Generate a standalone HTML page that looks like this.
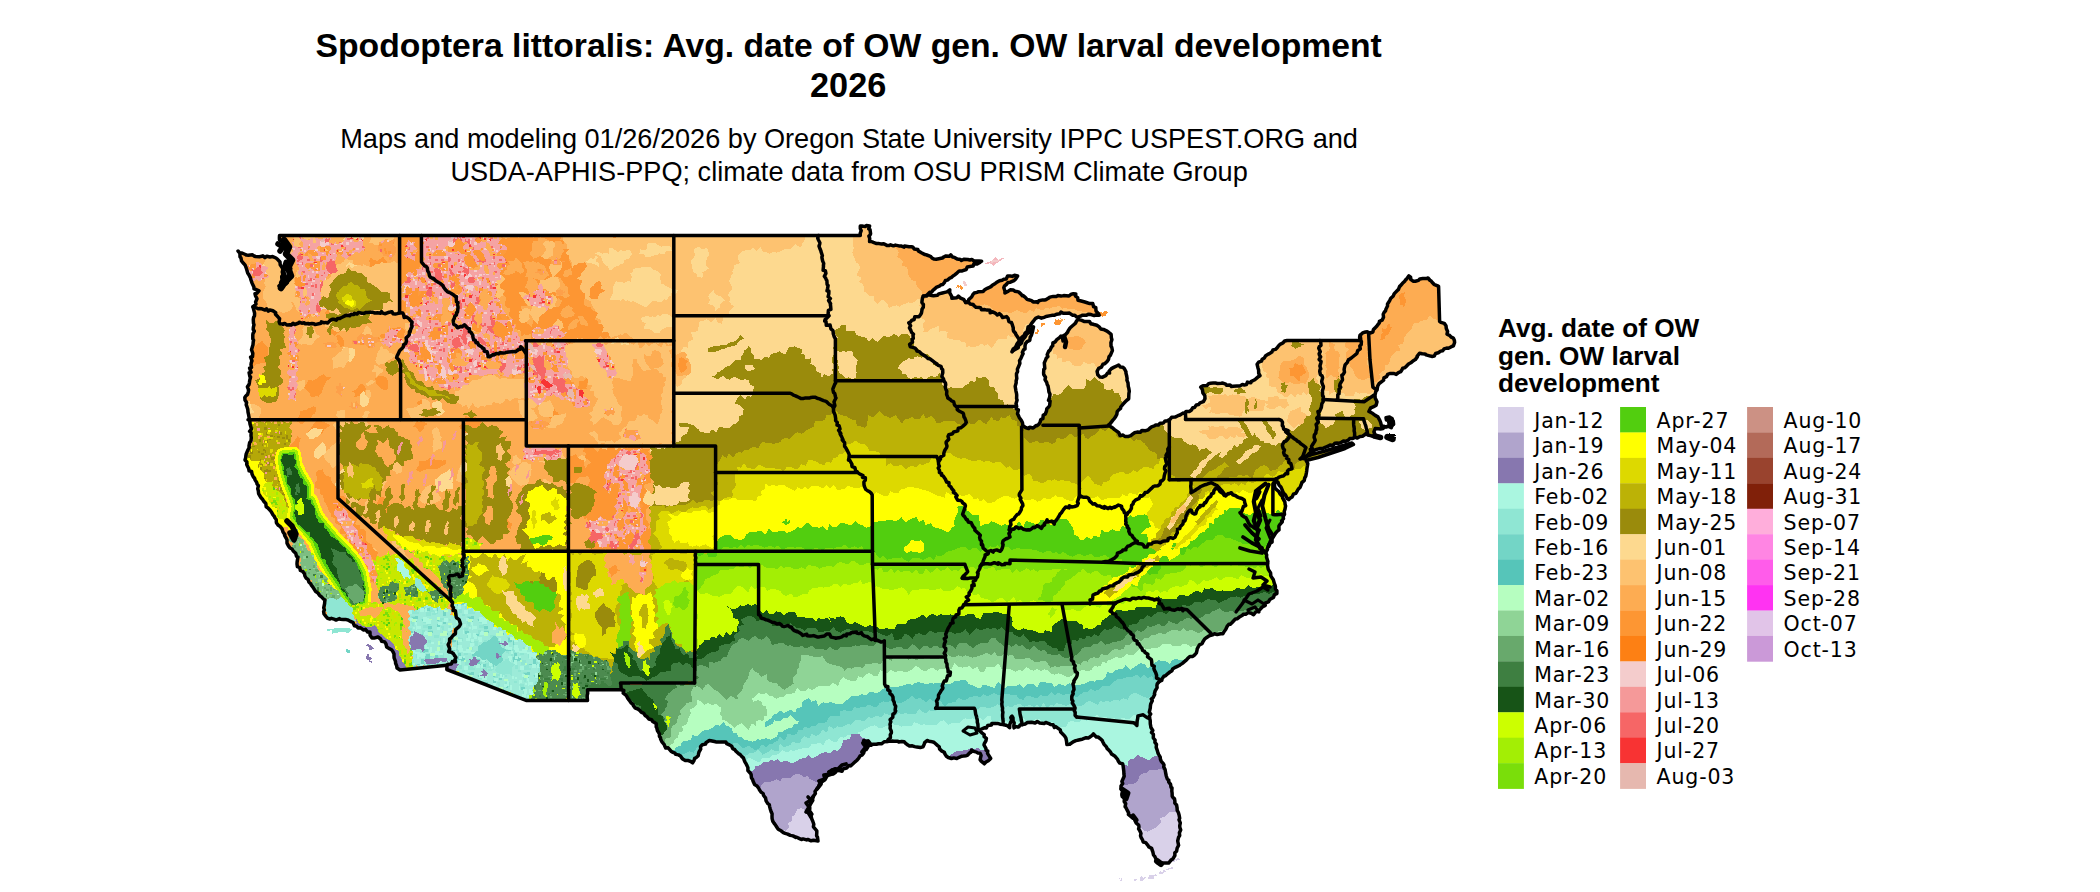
<!DOCTYPE html>
<html lang="en"><head><meta charset="utf-8"><title>Spodoptera littoralis: Avg. date of OW gen. OW larval development 2026</title>
<style>html,body{margin:0;padding:0;background:#fff}body{width:2100px;height:892px;overflow:hidden;position:relative}svg{position:absolute;left:0;top:0;display:block}.t{font-family:"Liberation Sans",Arial,sans-serif;fill:#000}.l{font-family:"DejaVu Sans","Liberation Sans",sans-serif;fill:#000;font-size:20.5px;letter-spacing:0.85px}</style></head><body>
<svg width="2100" height="892" viewBox="0 0 2100 892">
<rect width="2100" height="892" fill="#fff"/>
<defs><clipPath id="us"><path d="M279.5 235.5 860.3 235.5 860.3 226 869.6 226 869.6 241.6 893.4 245.8 913 247.2 921.4 252.8 933.9 259.1 942.4 258 950.8 254.8 957.2 259.1 969.9 260.1 981.6 261.2 969.9 266.5 957.2 272.8 944.5 282.4 931.8 291.9 923.3 296.1 931.8 295.5 942.4 293 949.8 289.8 951.9 298.3 958.3 296.1 963.6 299.3 965.7 302.5 974.2 293 984.7 289.8 995.3 283.4 1003.8 279.2 1010.2 276 1017.6 276 1015.5 279.2 1008.1 282.4 1003.8 287.7 1004.9 293 1010.2 289.8 1018.6 291.9 1027.1 299.3 1037.7 302.5 1048.3 298.3 1061 296.1 1075.8 294 1078 300.4 1086.4 302.5 1092.8 303.6 1096 311 1099.2 315.2 1088.6 314.2 1082.2 315.2 1076.9 317.3 1069.5 313.1 1061 312 1052.5 315.2 1044.1 317.3 1035.6 318.4 1031.4 323.7 1025 333.2 1018.6 341.7 1012.3 351 1016 349 1022 341 1028 333 1033.5 326.9 1031.4 335.3 1025 345.9 1020.8 358.6 1017.6 371.4 1015.5 388.3 1016.5 405.3 1018.6 415.9 1022.9 425.7 1028.6 428.6 1037.1 425.7 1042.9 418.6 1048.6 407.1 1050 394.3 1047.1 384.3 1043.6 372.9 1044.3 362.9 1048.6 351.4 1052.9 342.9 1056.8 339.6 1061 336 1063 341 1066 334 1070 328 1073.7 324.7 1078 319.4 1086.4 321.6 1099.2 326.9 1109.7 333.2 1111.9 339.6 1111.4 352.9 1107.1 361.4 1101.4 367.1 1097.1 371.4 1100 377.1 1105.7 375.7 1111.4 368.6 1118.6 365 1124.3 368.6 1127.1 378.6 1129.3 391.4 1127.1 400 1122.9 404.3 1118.6 410 1114.3 418.6 1108.6 425 1117.1 431.4 1120 435.7 1128.6 436.4 1137.1 432.1 1145.7 430.7 1155.7 425 1170 419.3 1180 415 1191.4 410 1200 402.9 1205 398.6 1202.9 392.9 1200.7 387.1 1208.6 383.6 1222.9 383.1 1231.4 386.4 1244.3 385 1254.3 380 1260 375.7 1258.6 370 1257.1 364.3 1265.7 355.7 1272.9 350 1280 344.3 1287.1 340.5 1360.2 340.5 1360.2 335.2 1365.5 332 1372.9 332 1377.1 325.7 1383.5 317.2 1385.6 310.8 1389.8 300.3 1394.1 293.9 1402.5 283.3 1408.9 275.9 1413.1 281.2 1428 278 1438.6 286.5 1439.6 321.4 1446 325.7 1447 334.2 1454.4 340.5 1453.4 345.8 1440.7 351.1 1432.2 356.4 1419.5 353.2 1415.3 359.6 1406.8 365.9 1396.2 374.4 1387.7 374.4 1381.4 381.8 1377.1 389.2 1375 395 1375.2 398.1 1377 401.7 1376.1 405.2 1370.7 407.9 1368.9 411.5 1372.5 413.3 1377.9 416.9 1380.6 422.3 1381.5 425.9 1386 427.2 1391.3 427.7 1393.3 421.4 1389.6 416.9 1386 417.8 1386.4 420 1389.8 420.5 1389.6 425 1383 428.5 1375.2 428.6 1373.4 436.6 1366 433.5 1360 436.5 1352.8 438.4 1330.1 445 1311 452.5 1300 459 1302 458.5 1306.5 458.5 1307.8 463.6 1305.7 476.3 1298.3 489 1288.8 499.6 1283 492 1279 485 1275.5 479.4 1274.5 485 1277 490 1282.4 496.5 1285.6 505.9 1283.5 518.6 1277.1 531.4 1270 543 1265.5 552.5 1267.6 563.1 1270.8 575.8 1275 585 1276.9 593.6 1269.5 599.9 1261 608.4 1253.6 614.7 1248.3 612.6 1235.6 619 1227.1 626.4 1222.9 633.8 1214.4 633.8 1205.9 638 1198.5 646.5 1196.4 652.9 1184.7 661.4 1169.9 672 1159.3 681.5 1155.1 691 1150.8 703.7 1149.8 718.6 1150.6 725.4 1154.9 742.4 1160.2 757.2 1165.5 772 1171.8 791.1 1177.1 808.1 1180.3 822.9 1179.7 835.6 1177.1 848.3 1172.9 858.9 1168.6 863.1 1158 863.1 1155.9 858.9 1151.7 848.3 1143.2 842 1139 827.1 1134.7 818.6 1128.4 814.4 1124.2 801.7 1121 789 1124.2 776.3 1123.1 765.7 1115.7 757.2 1107.2 748.7 1100.8 739.2 1093.4 733.9 1088.1 738.1 1077.5 740.3 1066.9 744.5 1065.9 738.1 1058.5 728.6 1045.8 722.5 1033 722.5 1022.5 724.6 1014 727.8 1011.9 716.1 1009.7 727.8 1003.4 724.6 994.9 723.6 984.3 727.8 978 729.7 982.2 733.1 986.4 738.4 984 745 990.7 758.5 984.3 763.8 980.1 759.6 980.1 753.2 971.6 750 967.4 755.3 956.8 758.5 948.3 757.5 941.9 751.1 935.6 743.7 927.1 740.5 922.9 746.9 912.3 745.8 901.7 741.6 886.9 741.6 878.4 743.7 867.8 744.7 863.6 753.2 853 763.8 839.2 770.2 827.5 775.5 819 785 813.8 795.6 809.5 806.2 812.7 821 816.8 832.6 818 841.1 801.4 839.5 790.3 835.4 779.1 829.8 772.1 818.6 769.3 804.7 761 792.1 752.6 779.5 747 765.6 740 754.4 731.6 746 723.3 741.9 709.3 740.5 702.3 744.7 698.2 755.8 692.6 762.8 685.6 760.6 675.8 754.4 664.7 746 660.5 737.7 656.3 723.7 645 715.4 631 702.8 621.5 689.7 587.5 689.7 587.5 700.4 526.1 700.4 446.8 669.5 447 665.3 400 670 397 668 394 654 386 644 378 637 372 638 370 632 358 628 348 620 330 619 324 614 325 600 318 593 306 578 297 564 298 557 290 548 287 540 283 532 278 525 275 518 268 508 260 496 257 484 252 474 245 460 249 446 251 436 250 424 248 412 245 400 249 384.6 251 364.7 253 344.7 254 324.8 254 310.8 253 306.8 256 304 257 298.8 255 293.8 259 290.8 254 288.8 252 282.9 249 274.9 245 264.9 240 256.9 238 251 242 253 254 256 270 257 276 258 280 262 283 270 282 280 279 286 286 284 290 272 289 258 285 246 279.5 240Z"/></clipPath></defs>
<g clip-path="url(#us)" shape-rendering="crispEdges">
<rect x="200" y="200" width="1300" height="700" fill="#FDD98F"/>
<path d="M560 223.4 563 226.2 566 225 569 225.7 572 221.4 575 226.5 578 227.3 581 224.8 584 223.8 587 228.5 590 222.9 593 226.9 596 223.8 599 222.9 602 224.7 605 223.8 608 223.8 611 223.2 614 226.5 617 225.6 620 227.2 623 223.3 626 226 629 226.9 632 226.5 635 224.1 638 226.7 641 225 644 223 647 226.3 650 223.6 653 225.9 656 224.4 659 225 662 225.1 665 224.9 668 223 671 227.1 674 224.1 677 225 680 226.2 683 226.6 686 225.1 689 225.3 692 224 695 229 698 226.2 701 226.7 704 226.4 707 225.3 710 223 713 225.3 716 225 719 224.4 722 225.2 725 225.5 728 222.9 731 223.6 734 226.6 737 226.3 740 223.9 743 226.5 746 220.7 749 226.1 752 223.3 755 223.6 758 223.5 761 223.5 764 225.9 767 224.2 770 222.9 773 224.7 776 223.3 779 225 782 225.5 785 220.8 788 223.4 791 223.5 794 225.8 797 223.8 800 226.3 803 223.8 806.5 225.1 806.3 228.3 806.9 231.6 802.5 234.2 804.8 237.8 804.3 241 802.6 243 800.7 247.5 795.1 244 792.7 247.2 789.9 249.4 786.5 248.7 783.2 249.8 780.1 251.5 776.8 252.6 773.4 252 769.7 253.7 766.5 252.4 763.2 251.8 760.5 247 756.5 251.3 753.7 247.4 750.4 249.6 746.6 250.1 743 250.9 740.2 252.8 738.1 256 738.3 259.5 739.9 263.3 733.8 265 733.6 268.4 732.4 271.5 733.7 275.2 730.4 277.9 729.1 281.2 731.5 285.7 732.3 289.6 729.8 291.5 727.6 295.3 730.3 297.8 729.3 301.3 731 304.1 733.9 306.5 731.7 308.8 729.4 311.1 729.3 315.5 724.3 315.3 723.1 318.6 721.6 323.6 718.1 323.2 715.7 318.3 711 322.9 708.1 319.9 706.3 319.2 703.2 320.8 699.3 321.6 699.2 325.9 697.5 328.8 697.9 331 691.1 332.5 692 335.9 693.2 339.4 689 341.5 687.6 341.6 688.2 347.8 683.8 346.8 682 349.6 680.9 351.5 682.2 354.5 684.5 356.9 682.4 361.5 685.1 363.7 685.4 367.2 689.3 368.8 690.6 372.5 686.3 373.4 685.7 377.7 682.5 379.6 682 383.9 677.4 387.2 675.1 383.7 671.5 385.1 668.8 383.4 666 381.7 662.6 382.3 658.7 377.8 655.1 378.3 653.7 382.4 650.7 383.9 649.5 388.3 644.8 387 641.1 387.3 641.2 388.6 636.9 391.8 634.7 388.7 631.9 387.6 629.1 386.4 625.5 387.6 623.2 385.1 621.3 386.7 616.3 385.2 614.9 388.6 611.6 389.4 610.3 392.9 608.8 396.1 604.6 395.7 602.1 397.6 600 401.3 596.9 401.6 593.8 398.6 590.8 400.4 587.7 402.3 584.6 399.9 581.5 399.3 578.5 399.2 575.4 401.2 572.3 400.1 569.2 400.4 566.2 398.2 563.1 401 556 400 560.1 397 558.5 394 561.7 390.9 560.8 387.9 559.4 384.9 561 381.9 561.6 378.9 562 375.9 558.6 372.8 558.8 369.8 562.3 366.8 560.8 363.8 559.3 360.8 558.5 357.8 558 354.7 561.4 351.7 559 348.7 564 345.7 561.2 342.7 560.7 339.7 559.8 336.6 562.1 333.6 561.3 330.6 558.5 327.6 558.4 324.6 564 321.6 560.4 318.5 558.3 315.5 558.9 312.5 557.8 309.5 559.5 306.5 560.6 303.4 561.5 300.4 559.1 297.4 559 294.4 558.9 291.4 561.3 288.4 562.1 285.3 560 282.3 561.2 279.3 559.5 276.3 558.3 273.3 558.3 270.3 560.2 267.2 561.1 264.2 558.4 261.2 560.3 258.2 560 255.2 560.2 252.2 559.7 249.1 559.1 246.1 561.2 243.1 560 240.1 559.5 237.1 557.8 234.1 560.4 231 561.4 228Z" fill="#FDC270"/>
<path d="M852 225.4 855 227 858 224.9 861.1 223.7 864.1 224.1 867.1 223.7 870.1 223.1 873.1 223.2 876.2 224.4 879.2 224.2 882.2 224.6 885.2 224.7 888.2 223.3 891.3 225.8 894.3 226.7 897.3 224.5 900.3 224.6 903.3 222.8 906.4 225.2 909.4 222.9 912.4 222.8 915.4 221.9 918.4 222.2 921.5 223.5 924.5 226 927.5 225.7 930.5 225 933.6 224.2 936.6 225.8 939.6 220.7 942.6 222.9 945.6 227 948.7 228 951.7 225.9 954.7 226.4 957.7 221.8 960.7 226.3 963.8 226.7 966.8 228.4 969.8 227 972.8 223.6 975.8 225.2 978.9 223.7 981.9 224 984.9 223.2 987.9 223.9 990.9 223.3 994 226.8 997 223.2 996.6 225 999.4 228.1 1000.2 231.2 998.7 234.2 1001 237.3 999.8 240.4 1000.7 243.5 1000.9 246.6 998.3 249.7 1002 252.8 1003.8 255.8 1001.7 258.9 1000 262.6 997 261.3 994 261.2 991 261.3 988 263.6 985.4 262.7 981.8 262.6 979.8 265.3 977.9 268.1 975.4 269.8 971.2 268.7 968.7 270.5 966 271.8 963.2 273.1 960.1 273.9 959.4 278.9 955.9 278.9 952.7 279.4 950 280.8 948.8 285 945.7 285.7 942.1 285.6 939.3 286.7 936.3 287.6 934.1 290.1 932.5 293.3 929.9 295 927.5 297 925.5 299.3 920.7 298 917.7 299.3 914.9 301.4 912 303.3 908.2 302.1 905.4 304 902.1 304.6 899.3 306.7 896.6 305.3 892.9 306.2 888.9 308.3 887.2 303.5 884.7 300.9 881.7 299.9 877 304.1 874.4 300.7 873.9 296 869 296.1 866.9 293.2 863.6 291.5 863.8 287.7 863.3 284.4 858.8 281.8 862 277.8 857.1 275.3 857.7 271.8 860.4 268 859.1 264.7 855.7 262.1 854.8 258.7 853 255.6 852.4 252.1 853.7 248.1 852.8 245 853.3 241.7 852.5 238.3 855.1 235 853.5 231.7 852.7 228.3Z" fill="#FDC270"/>
<path d="M705.9 262.3 706.3 265.7 708.8 268.5 705.4 270.7 702.5 272.5 702.8 275.2 702.3 277.6 697.1 277.2 696.5 274.2 694.3 272.6 692.7 270.7 692.5 268.5 691.8 265.2 690.9 262.3 691.7 259.2 693.5 257.9 695.1 254.3 693.6 250.1 695.5 248.5 698 246.4 702 249.2 704.6 248.5 707.3 248.1 708.4 251.5 709.5 255 707.3 256.8 706.9 259.3Z" fill="#FDD98F"/>
<path d="M725 300.6 720.6 303.2 720 307.2 715.3 310.7 714.3 305.7 711.8 305.3 708 303.6 710.2 299.9 708.3 296.8 710.1 293.2 713.9 289.5 713.8 292.8 716.1 294.3 718.2 295.4 720.6 296.4 722.6 298Z" fill="#FDD98F"/>
<path d="M677.7 290.3 676.4 293.4 673.6 295.7 673.1 299.5 670.5 297.9 667.9 299.5 665.2 298.1 662.6 298.1 659.9 299.4 657.3 299.9 654.7 299.1 652.1 298.8 650.1 301.4 647.2 301.1 644.7 301.5 641.7 302.3 640.4 305.6 636.9 305.7 633.6 305.9 632.1 309.9 629.6 308.8 627.7 306.3 625.1 305.5 622.5 304.8 619.7 304.5 618 302.5 615.5 301.4 614.5 298.6 611 297.4 612.1 294.6 614.9 292.8 615.6 290.1 614.5 287.6 614.4 284.8 613.3 283 614.9 281 616.4 278.7 619.2 278.1 621.8 278.8 623.7 276.1 625.9 274.6 628.4 274.2 631.1 274.7 633 274.5 636.7 273.5 639 276 641.7 277.6 644.7 276.9 647.7 278.6 650.7 279.1 653.6 277.8 656.1 278.7 659.2 279.5 660.5 282.5 663.8 282.6 665.4 285.1 667.8 285.8 670.3 286.5 672.1 288.4 674.6 289.1Z" fill="#FDD98F"/>
<path d="M628.4 261.7 628.8 264.5 630.5 266.8 627.9 267.6 624.9 267.5 622 268.2 620.5 271.2 617.2 270.4 615.3 273.3 612.6 271.5 610 273.2 607.3 271.4 603.8 273.3 601.1 271.2 599.8 268.4 596.8 265.3 594.1 264.1 591.4 263.1 588.5 263.2 585.7 262 582.6 261.5 585.7 261.7 588.3 260.6 590.5 258.2 593.9 259.1 595.7 256 598.8 255.6 601.3 254 602.4 251.5 603.1 249.8 606.4 249.4 609.1 250.5 611.7 252.3 614.8 250.4 617.8 252.2 620.9 252 623.9 252.4 625.9 252.8 628 255.1 629.3 257.7Z" fill="#FDD98F"/>
<path d="M666.3 325 662.9 327.8 661.5 329.9 658.8 331.7 656.1 331.4 653.3 332.2 650.1 332.3 647 332.1 644.1 331.7 641.2 330.3 638.5 330.9 635.4 331.5 632.5 331.4 629.6 331 626.8 330 626.8 327.4 625.5 324.8 628 323.1 628.7 321.4 631.4 319.1 634.3 319.4 637.2 320.3 639.3 318.2 642.3 317 645.3 316.5 647.8 318.8 650.9 317.2 653.5 318.4 656.9 318 658.5 321 663.5 321.7Z" fill="#FDD98F"/>
<path d="M758.7 285 757.7 288 756.8 290.9 756.6 293.6 755.3 296.1 754.6 298.9 754.1 301.9 753.3 304.7 750.5 305.6 748.4 307.2 744.7 307.6 741.8 305.4 738.8 303.8 736.1 302.7 735.8 299.6 737.4 296.8 735.7 293.5 738.1 290 734.9 288.1 730.9 285.5 731.8 282.7 733.3 279.9 730.7 277.8 731.5 275.3 732.8 273 735.5 272 737.2 269.9 738.4 267.5 739.3 264.8 741.9 263.1 742.1 266.9 745.4 268.6 747 271.2 749.7 271.8 752.3 271.2 752.1 275.1 753.5 278.8 755.6 280.5 757.3 282.4Z" fill="#FDD98F"/>
<path d="M690.9 365 691.5 368.3 691 372.1 687.2 375.8 684.2 375.1 680.7 376 677.4 375.6 676.1 373.1 674.3 370.8 673.3 368 672.1 364.6 673.8 362.2 674.4 359.5 675.4 356.6 676.5 354.8 680.1 353.1 683.3 351.5 687.1 354 686.2 357.3 689.3 359.4 689.6 362.4Z" fill="#FDAC52"/>
<path d="M685.6 364.9 687.7 368.3 685.1 370.5 683.3 372 681.1 372.8 679.6 370.9 679.2 367.6 677.4 365 679.2 362.3 679.1 358 681.1 357.4 683 357.7 684.4 359.2 687.8 361.2Z" fill="#FD9633"/>
<path d="M690.5 299.7 691.8 302.1 692.1 305.7 686.8 305.2 685.9 309.7 682.9 306.5 680.2 306.6 676 305.2 676.7 302.4 678.4 300 677.4 296 680.3 294 682.5 291.8 685.7 291.1 687.7 293.6 692.1 295.5Z" fill="#FDC270"/>
<path d="M921.1 296 922.7 299 923.5 302 918.6 305.5 921.8 308.4 924.1 311.3 921.7 314.6 921 317.7 925.1 320.5 923.2 323.8 923.1 326.9 924.2 329.9 923.4 331.5 927.1 332.4 929.4 330 932 328.5 934.9 327.4 938.7 326.1 938.9 331.6 943.9 331 947.6 332.1 947.2 338.4 951.6 338.7 954.6 340.1 958.9 339.6 961.3 342 965.3 342 966 347 969.1 346.3 972.3 347.4 975.4 346.6 978.5 346.1 981.4 343.6 984.8 345.8 987.7 343.7 991.3 348.3 994.4 344.7 996.3 341.4 998.7 339 1002.8 339.5 1006.3 339.1 1008.2 334.9 1010.9 336.9 1014.1 337.4 1016.8 339.4 1021.1 340.5 1021.2 337 1022.7 334.2 1022.8 330.7 1024.3 327.9 1025.4 324.9 1029.7 323.4 1030.5 319.3 1028 317.5 1024.4 317.6 1022.3 315.3 1020.8 312.1 1018.2 310.6 1015.8 308.9 1011.5 309.8 1009.3 307.8 1008.6 303.4 1002.8 306.6 1001.9 302.6 1000.2 299.6 996.7 300 994.5 297.4 990.8 298.3 989.1 294.2 985.6 294.8 983.2 292.6 981.1 289.6 977.4 290.6 974.8 288.9 970.3 292.3 968.7 288 966.1 286.2 963.3 285 961.1 288.7 957 286 954.2 287.6 951 287.6 948 288.2 945.5 291 941.6 288.6 939 290.8 935.1 288.6 932.8 292.1 930.2 294.2 926.5 292.6 923.8 294.4Z" fill="#FDC270"/>
<path d="M960 280.2 963 279.7 966.2 279.9 969.2 279.4 972 278.1 974.9 276.8 978.5 279.9 981.2 277.6 983.9 275.6 987.1 276 990.1 275.5 992.8 273.4 996.2 275.4 999.1 274.2 1001.5 270.1 1005.2 273.8 1007.9 271.6 1010.9 271 1013.9 270.6 1017 270.8 1020.2 269 1023.1 270.2 1025.9 271.5 1028.8 272.7 1031.3 275 1034.8 273.9 1037.6 275 1040.3 276.8 1043.9 275 1046.3 278 1049.7 277.2 1052.8 277.5 1056 277 1058.6 279.4 1061.4 280.8 1064.2 281.9 1067.5 281.4 1070.7 281.2 1073.5 282.8 1076.6 282.9 1079.2 285.1 1082 286.6 1085.4 285.5 1087.8 288.2 1091 288.4 1094.1 288.5 1097.1 289 1099.7 290 1100.6 293 1101.2 296 1102 298.9 1103.5 301.8 1105.2 304.6 1104.2 307.8 1102 311.2 1104.1 314 1104.5 317 1105 319.3 1102 319.5 1099 319.7 1096 321.3 1093 320 1090 320 1087 319.5 1084 319.6 1081 320.8 1078 320.1 1075 322.2 1072 320.1 1069 319.5 1066 320 1063 320.8 1060 322.1 1057 322.5 1054 323.1 1051 319.9 1048 321.6 1045 321 1042 321.9 1039 321.6 1036 322.2 1033 321.5 1030 321.7 1026.9 321.2 1024.1 323.9 1021.3 325.5 1018.1 324.1 1014.9 322.9 1011.7 324.6 1009.1 322.5 1005.9 321.7 1003.1 320.1 1000.3 318.2 997.4 316.8 994.8 314.8 992 313 989.1 311.6 986.5 309.6 982.3 310.6 981.6 306.8 977.8 305.8 977 302.5 974 300.7 971.1 299 971.6 294.8 968.4 293.2 968.4 289.4 965.6 287.5 964.8 284.3 960.6 283.4Z" fill="#FDC270"/>
<path d="M1040 314.8 1042.9 316.9 1046 315.4 1049.1 314.3 1052 316.3 1055.1 314.4 1058.1 314.6 1060.9 317.9 1063.9 318.5 1067 317.4 1070.2 314.3 1073 317.4 1076.1 316.2 1079.1 315.7 1082 317.6 1085 318.1 1088 318.2 1091 318.2 1093.9 320.6 1096.9 320.2 1100 318.3 1103.1 317.5 1105.9 320.5 1108.9 321 1111.9 321.6 1117 320 1113.4 323.1 1113.1 326.2 1116.7 329.4 1113.9 332.5 1116.7 335.6 1113.1 338.8 1116.5 341.9 1117.6 346.9 1110.6 347.1 1109.8 351.9 1109.4 355.3 1107.9 358.1 1106.3 360.8 1104.3 363.3 1100.1 364.3 1099.6 368.7 1096.1 367 1094.1 362.8 1090.3 363.6 1087.2 363.7 1083.8 362.1 1081.3 365.4 1078.3 366 1074.6 366 1072 364.3 1070 361 1066.6 361.2 1062.7 362.7 1061.5 357.7 1057.2 358.6 1056.8 354.8 1053 353.5 1053.2 349.3 1049.5 348 1046.2 345.5 1046.2 342.3 1045.5 339.3 1046 335.9 1043.5 333.3 1042.3 330.4 1043.4 326.9 1042.8 323.9 1043.2 320.6 1038.9 318.5Z" fill="#FDC270"/>
<path d="M1085.9 343 1083.2 345.1 1082.1 348.2 1079.3 349.7 1076.7 349.6 1073.5 349.5 1069.1 348.9 1066.7 346.7 1065.6 343.9 1065.2 344 1064.7 338.8 1068.6 337.1 1072.9 337.3 1075.9 335.5 1080.4 336.9 1084 339.5Z" fill="#FDAC52"/>
<path d="M893.9 243.6 893.8 247.3 897.1 249.4 898.8 252.4 897.3 256.8 900.4 259.1 902.7 261.6 902.3 265.6 906.6 266.9 908.1 270 908 274.3 909.9 277.2 911.5 280.2 915.8 281.5 916.5 284.6 917.8 287.5 920 289.7 922.3 291.9 921.4 296 924.9 299.7 926.8 296.8 928.8 293.9 932 293.3 934.5 291.3 937.3 290 940.7 289.9 942.6 286.8 945.5 285.7 948.2 284.2 950.7 282.3 955.1 284 957.4 281.8 958.1 276.3 963.1 279.3 965.8 277.7 967.8 275 971.5 275.3 973 271.4 976 270.6 978.3 268.4 981.9 268.6 984 265.8 987.4 265.7 989.5 264.2 988.2 260.7 986.2 257.5 984.8 254 984.8 251.7 982 249.4 978.8 251 975.8 250 972.7 250.4 969.8 249.5 966.9 248.5 963.8 248.9 960.9 247.3 957.7 248.4 955 246 952 245.5 949.1 244.5 945.8 246.7 943.2 242.8 940 245 936.9 242.6 933.7 243.6 930.6 245 927.5 245.2 924.3 245.8 921.2 245.7 918.1 243.2 914.9 242.9 911.8 244.1 908.7 244.7 905.5 244.5 902.4 241.1 899.3 242.7 896.1 244.8Z" fill="#FDAC52"/>
<path d="M964.9 305.4 967.9 303.6 968.4 300.3 971.2 298.4 971.5 295 973.2 292.5 974.4 288.9 978.4 289.6 980.2 286.2 983.7 286.1 986.2 283.9 988.4 281.3 991.1 279.6 993.8 277.9 998 278.9 1000.3 277.5 1003.2 275.8 1006.5 276 1009.5 274.6 1012.2 271.7 1015.9 274.3 1018.7 271.6 1022.9 271.7 1023 275 1022.1 278.6 1026.3 280.6 1024.5 284.5 1026.8 287.1 1028.1 290 1028.9 293 1030 296 1033.1 296.2 1036 295.1 1039.2 296 1041.6 291.6 1045.1 294.6 1047.8 292.1 1051.2 294.6 1053.9 292.3 1057.2 293.8 1059.9 291.4 1063.4 292.1 1066.6 290.6 1069.9 289.5 1073.5 292.2 1076.6 289.6 1080.2 289.6 1084.4 289.2 1086.2 292.6 1088 296.2 1091.8 296.2 1093.6 299.7 1096.7 301 1099.8 302 1099.1 305.7 1101 309 1101.9 312.4 1102.4 314.6 1098.8 314.2 1095.6 312.7 1091.6 313.8 1088.4 312.1 1084.7 312.5 1081.6 311.4 1078.2 311 1075.1 309.5 1071.8 309.1 1068.4 308.9 1065.2 308 1062.2 308.8 1058.7 305.8 1055.7 307 1052.5 307.4 1049.5 308.6 1046.2 307.9 1043.3 310.2 1040.1 309.7 1036.4 308.3 1033.6 311.7 1029.7 309.6 1026.9 312.9 1023.4 312.6 1020.1 311.8 1016.8 310.1 1013.4 311.7 1009.9 313.7 1006.7 311.8 1003.3 312.3 1000 312 996.8 311.4 993.7 310.3 991.3 307.5 988.6 305.7 985 304.4 981.8 304.7 978.7 306.3 975.5 306.5 972.3 309 969.2 304.5Z" fill="#FDAC52"/>
<path d="M1263.6 349.5 1266.4 347.9 1268.7 344.9 1272.6 346.2 1275.2 344.1 1277.9 342.1 1280.4 339.8 1284.6 341.9 1286.6 338 1290 339.6 1293 337.7 1296 339.2 1299 336.3 1302 334.3 1305 336.8 1308 337.1 1311 335.3 1314 336.1 1317 339.4 1322.1 337.8 1319.7 341.2 1322 344.2 1320.5 347.5 1322.5 350.4 1321.2 353.7 1323.1 356.7 1320.6 359.8 1319.6 362.8 1322.3 366.4 1320.2 369.2 1320.4 372.4 1317 375.1 1316.2 378.1 1318.2 381.5 1317.5 384.6 1317.8 387.8 1319.2 391.2 1316.8 395.5 1313.4 394.9 1310.4 391.2 1306.6 394.7 1303.5 391.8 1300.9 395.5 1297.3 393.9 1295 397.4 1290.8 393.8 1288.4 396.6 1284.1 397.2 1282.2 394.5 1279.3 393.3 1277 391.1 1275.9 387.4 1272.3 387.2 1268.8 385.5 1268.5 382.3 1269.2 378.7 1266.1 376.6 1266.7 373 1263.5 371 1262.7 368 1261.6 365 1261.9 361.6 1262.7 358.2 1264.3 354.9 1262.9 351.4Z" fill="#FDC270"/>
<path d="M1307.3 369.9 1308.7 372.1 1309.1 374.8 1309.4 376.7 1307.6 380 1305.4 383.8 1301.6 383.1 1298.5 383.8 1294.8 384.4 1292.4 383.1 1289.4 382.1 1286.8 383.3 1284.1 383.7 1282.5 381.7 1280.2 380.1 1278.1 377.6 1279.7 375.2 1278.6 372.5 1280.5 370.2 1279.9 366.5 1281.4 363.4 1283.8 361 1287.2 360.9 1290 360.9 1292.7 359.8 1295.8 358.8 1298.3 355.5 1301.5 356.7 1303.9 357.7 1304.4 360.2 1303.9 362.7 1304.4 365.4 1307 367.2Z" fill="#FDAC52"/>
<path d="M1306.1 372.2 1302.5 375.3 1299.5 376.3 1299.8 379.4 1299.1 382.1 1297.4 380.2 1295.9 378.1 1293.9 375.9 1289.9 375.7 1289.9 372.3 1289.4 368.5 1294.3 367.1 1294.6 362.5 1298.4 364.8 1302.3 364.4 1303.8 367.9Z" fill="#FD9633"/>
<path d="M1311.6 417.2 1309.6 419.6 1309.2 422.1 1307 424.1 1305.1 427.6 1301.8 426.5 1298.2 423.4 1296.9 426.2 1293.6 428.4 1290 425 1287.2 421.5 1287.8 416.9 1289 413.5 1290.6 411 1295.2 409.6 1300.4 406.9 1301.5 411.9 1304.8 413.1 1307.2 416.3Z" fill="#FDC270"/>
<path d="M1264.9 405 1263.6 407.3 1264.4 410 1261.8 410.7 1259.3 410.5 1256.7 410.8 1254.2 411.1 1251.6 411.1 1249.1 410.5 1246.5 410.6 1244.1 410.4 1242.6 412.7 1241.7 415.4 1239.5 416.9 1237.3 415.5 1234.4 415.7 1232.1 414.7 1229.3 414.6 1227.4 412.5 1225.1 412.8 1222.4 413 1219.7 413.7 1217 413.8 1214.2 413.4 1211.4 412.2 1209.1 413.2 1210.3 410.3 1211.7 408.1 1209.3 406.8 1206.3 409.2 1203.9 407.6 1201.7 405.1 1199.2 404.1 1196.5 404.9 1193.9 405.7 1196.3 402.8 1199.5 404.8 1202.3 404.5 1205.3 405 1207.9 403.7 1209.8 402.5 1209.5 399.4 1208.1 396.1 1210.9 395.8 1213.6 395 1216.5 394.9 1219.2 394.2 1222.1 395.6 1224.8 393.6 1227.5 396.4 1230.1 394.8 1232.8 394.4 1235.4 395.1 1238.3 393.9 1240.5 395.5 1243.1 396 1245.6 396.8 1247.7 399.2 1250.8 397.5 1253.7 396.8 1256.5 398.2 1259.3 399.1 1262 400.1 1264.5 400 1264.6 402.5Z" fill="#FDC270"/>
<path d="M1286.4 401.4 1288.2 403.2 1289.4 405.3 1286.9 406.5 1284.3 409.1 1282.1 407.2 1279.7 406.1 1277.2 406.8 1274.7 408.8 1271.7 409.2 1269.1 408.5 1266.1 407 1268 404.5 1265 402.8 1261.6 403.7 1258.5 401.6 1261.2 401.3 1263.7 400.4 1267.5 401.4 1268.4 397.4 1272.5 396.8 1275.2 396.3 1277.5 396 1280.2 399.5 1283.8 398.8 1287.5 399.1Z" fill="#FDC270"/>
<path d="M1320.2 339 1322.8 336.3 1325.7 335.2 1329.4 338.5 1332.1 336.6 1335.1 335.9 1338.3 336.7 1341.2 335.6 1344.7 337.4 1347.3 334.9 1349.7 331.2 1353.2 333.5 1355.9 331.1 1358.7 329.2 1361.9 329.7 1365.6 327.1 1368.7 328.7 1371.6 331.6 1373.6 331.9 1373.5 334.9 1373.2 337.9 1372.8 340.9 1374.7 344 1377.8 347.2 1373.9 350 1375.8 353.1 1374.3 356 1369.7 358.8 1373.2 362 1372.2 364.9 1372.4 368 1376.7 371.2 1375 374.1 1374.2 377.1 1373.2 380 1371.4 382.9 1370.7 385.9 1372.8 389 1372.1 392.9 1369.1 394.2 1365.7 392.8 1362.5 392.8 1359.4 393.8 1355.9 391.6 1353.4 396.5 1349.5 395.7 1345.5 396.1 1344.1 392.8 1340.4 392.8 1339.6 387.4 1338.6 391.3 1335 391.5 1332.2 392.8 1329.3 395.5 1329.5 391.3 1324.8 391 1324.3 387.3 1321.6 385 1322.7 381.8 1322.3 378.7 1325 375.5 1320 372.5 1319.6 369.4 1320.9 366.2 1321.1 363.1 1322.6 359.9 1319.2 356.9 1322.7 353.6 1322.4 350.5 1320.9 347.4 1320.4 344.3 1321.9 341.1Z" fill="#FDC270"/>
<path d="M1338.5 361.9 1338.9 364.9 1339.7 367.9 1337.6 370.5 1339.4 373.9 1339 377 1337.3 380.2 1336 377.5 1333.1 376.6 1330.6 374.8 1329 377 1326.9 378.8 1325.9 375.6 1325.5 372.3 1327 368.9 1325.3 365.6 1326.5 361.9 1326.4 358.8 1326.5 355.6 1324.7 353.1 1328.6 350.6 1329.8 348.1 1328.5 345.3 1328.6 342.6 1331.4 339.1 1331.3 342.7 1335.2 344.2 1333.7 348.2 1335.4 350.5 1339.4 352.2 1339.7 355.5 1339.2 358.7Z" fill="#FDAC52"/>
<path d="M1344.8 335.2 1348.2 338.4 1351.1 336.2 1354.4 337 1357.5 336.6 1360.5 335.4 1363.6 334.8 1366.8 334.8 1370.7 336 1371.3 339.1 1370 342.3 1369.4 345.4 1371 348.6 1372.7 351.7 1369 354.9 1370.9 358 1368.5 361.1 1371.4 364.3 1371.2 367.4 1371.7 370.6 1368.9 373.7 1370.4 376.9 1370.3 378.4 1367.2 378.3 1363.8 380.2 1360.8 379.6 1357.5 378.3 1355.3 375.9 1353.8 373 1353.3 369.5 1350.7 367.3 1349.5 364.2 1347.2 362 1346.5 359 1345.6 356.1 1345.5 353.1 1349.3 349.7 1345.4 347 1345.3 344 1345.9 340.9Z" fill="#FDAC52"/>
<path d="M1366.1 330.1 1368.4 327.9 1369.7 325 1371.4 322.4 1372.7 319.5 1374.7 317.2 1377.8 315.6 1379 312.6 1381 310.3 1382 307.1 1384.2 304.9 1386.3 302.6 1388.3 300.2 1389.9 297.5 1391.5 294.9 1393.5 292.5 1395.7 290.3 1397.4 287.7 1399.2 285.1 1400.2 282 1402.2 279.7 1403.9 277.1 1405.6 274.5 1408 272.4 1410 269.9 1412.8 271.1 1415.6 272.4 1418.5 273.4 1421.4 274.2 1424.7 273.7 1427.8 274.1 1430 277.4 1433.5 276 1436 278.4 1439 278.8 1442.3 278.4 1444.8 280.1 1444.8 283.2 1448.3 285.5 1447.1 288.8 1448.6 291.6 1448.4 294.8 1450.6 297.4 1450.7 300.5 1449.7 303.8 1450.9 306.7 1452.3 309.4 1451.8 312.7 1452.9 315.5 1453.7 318.4 1454.2 321.4 1456.1 324.1 1456.3 327.2 1457 330.1 1457.4 333.2 1458 336.1 1458.3 339.2 1460 341.9 1460 345.1 1456.8 345.5 1454.2 346.9 1451.9 349.2 1449.3 350.9 1446.7 352.4 1443.4 352.6 1441.3 355.4 1438.6 356.7 1435 356.4 1433.1 359.3 1430.2 360.4 1427.6 362 1424.5 362.5 1422.2 364.8 1418.3 363.9 1416.5 367.1 1413.9 368.7 1410.8 369.3 1408.3 371.2 1405.6 372.6 1402.5 373.2 1398.8 373.5 1397.8 377.5 1394.6 378.8 1393.2 382.2 1390.3 383.8 1387.2 385.2 1384.8 387.5 1383.1 390.5 1380 391.4 1376.7 391.4 1373.3 392.3 1369.7 392 1369 388.9 1369.3 385.8 1370.6 382.6 1368.2 379.7 1369.9 376.4 1369.2 373.4 1368 370.3 1368.5 367.2 1367.3 364.2 1367.5 361 1367.4 357.9 1368.3 354.8 1367.4 351.7 1367.9 348.6 1366.5 345.5 1366.7 342.4 1367.1 339.3 1367.2 336.1 1365.5 333.1Z" fill="#FDC270"/>
<path d="M1366.1 335.1 1367.8 331.1 1371 329.4 1373.3 327.2 1377 325.8 1378.6 323.2 1376.9 318.5 1379.1 316.2 1382.2 314.6 1385.2 312.7 1385.5 309.3 1385.3 305.5 1389.1 304.3 1390.4 301.4 1392.3 299 1392.2 295.3 1394.5 293.1 1398.1 291.7 1397 287.4 1399.5 285.3 1401.4 282.9 1402.7 280 1404 277.2 1406.7 275.2 1409.9 273.6 1410.5 268.4 1412.4 272.6 1415.8 271.8 1419 271.8 1421.4 274.4 1424.3 275.3 1427.4 275.5 1430.7 275.3 1433.4 276.8 1435.9 279.1 1439.1 279.1 1441.5 280 1440.7 283 1441 286 1441.6 289 1439.7 291.9 1442.1 295 1442.8 298.1 1443.1 301.1 1442.1 304 1439.8 307 1442.7 310.1 1442.7 313.1 1440.6 316 1440.3 319.9 1436.7 319.8 1433.3 318.5 1429.3 315.5 1427.5 319.4 1424.1 319.8 1421.1 321.2 1418.2 322.7 1414.2 323 1412.6 325.9 1411.4 329.2 1409.2 331.7 1406.8 334 1404.5 336.7 1404.2 340.5 1402.9 343.8 1398.1 345 1400.5 350.8 1396.1 351.3 1393.9 353.4 1391.8 355.7 1390.2 358.2 1389.8 361.6 1388.5 364.4 1384.9 365.6 1385.1 369.7 1381.8 371.8 1379.4 374.4 1379.9 378.7 1377.2 381.8 1373.6 382.3 1371.3 382.9 1371.9 379.8 1367.7 377.2 1370.2 373.9 1367.4 371.1 1365.4 368.3 1370.1 364.9 1369.7 361.9 1366.6 359.1 1369.8 355.8 1368.6 352.9 1367.3 350 1368.1 346.9 1366.4 344 1368.3 340.8 1367.1 337.9Z" fill="#FDAC52"/>
<path d="M1388.9 334 1385.9 335.3 1384.5 339.1 1380.2 340.6 1381 337.1 1380.9 335.1 1382.8 333.1 1381.8 328.4 1386.4 328.7 1387.1 326 1388.3 324.3 1390.2 323.3 1390.3 326.9 1391.7 327.3 1390.3 330.1Z" fill="#FD9633"/>
<path d="M1406.3 300 1405.7 302 1405.1 304 1404.2 307.4 1402.3 305.2 1399.6 305.4 1399.8 302.4 1399.9 299.9 1398.6 296.8 1399.8 294.9 1401.8 292.9 1404.9 292.3 1404.1 295.8 1405 298.4Z" fill="#FD9633"/>
<path d="M1396.1 376.1 1399.2 374.5 1401.8 372.2 1404.9 370.7 1407.4 368.2 1410 366 1412.5 363.8 1415.6 362.2 1417.2 359 1420 357 1423.3 358.2 1426.7 358.9 1429.6 359.3 1426.3 361.4 1423.8 364.8 1420.2 366.4 1416.6 367.1 1414.4 370.2 1411.3 371.8 1408.5 374 1405 375.4 1402.1 376.6 1399.1 376.6Z" fill="#FDAC52"/>
<path d="M600 452 603.3 450.4 606.7 453.2 610 453 613.3 453.3 616.7 450.2 620 450 623.3 454 626.7 451.2 630 449.4 633.3 450.6 636.7 452.6 639.9 450.7 643.4 451.9 646.9 454.1 650.1 452.3 653.1 448.5 656.8 451.5 659.4 448.8 664.1 450 666.6 446.5 671.6 448.2 673.4 443.5 676.9 442.1 681 440.7 681.3 436.8 684.1 434.9 687.2 433.2 687.9 429.6 689.5 428.3 692.9 428.8 695.7 430.8 699.1 431.4 702.5 431.8 705.9 433.6 709.3 432.8 712.2 429.7 716.5 432.1 719 427.5 722.5 427.4 726.6 428 730.3 427.5 733.1 424 735.5 423.7 738.7 420.8 738.8 416.7 743.2 414.3 743.6 409.4 741.3 407 738.8 404.9 735.3 403.5 734.8 403.2 737.5 398.1 740.5 395.3 744.8 399.5 747.7 395.8 751 397 752.3 393.7 753.1 390.4 754.6 386.9 750.2 384.5 748.6 380.4 744.9 379.3 741.1 379.9 737.5 378.2 733.9 376.7 729.8 379.6 726.1 378.9 722.9 375.3 718.5 379.2 714.8 378.1 711.7 376.3 715.2 375.7 717.4 372.3 720.7 371.2 723.4 368.8 725.9 366.9 730 365.9 732.7 363 735.6 360.3 740.8 360.5 740.5 356.4 743.2 354.2 743.9 350.7 747.1 348.7 748.1 345.9 751.5 348.3 750.8 352.5 753.7 355 754.3 358.9 758.2 358.6 761.8 360.4 764.1 356.7 769 357.8 771.5 353.7 775.6 353.1 779.2 351.3 785.3 354.8 787.4 350.5 789.6 346.4 794.1 347 794.2 346.1 797.7 347.9 802.1 349.1 801.4 353.5 805.1 355.1 805.3 359 811.5 358.4 810.3 363.5 813.6 365 815.8 367.3 816.6 371.5 820.6 373 822 378.5 823.9 373.8 828.9 376.2 833 373.2 832.3 369.5 836.7 366.6 831.8 362.3 831.9 358.7 833.2 355.3 835.5 352.1 832.5 348.1 835 345 836.3 341.3 837.7 337.5 835.1 333.7 835.6 329.1 838.9 328.4 841.1 325.4 845.9 324.8 845.8 330.6 850.3 330.6 854.5 331 856.1 334.6 858.9 335.8 862.4 336.8 865.9 337.7 868.9 341.2 872.4 338 877.3 342.1 880.4 339.5 883.3 335.9 887.3 336.7 891 336.4 894.2 333.5 898.2 336.9 901.4 333.6 905.1 334.5 906.9 333.7 910 336.6 911.2 340.5 914.4 342.8 914.5 347 918.6 348.6 919.7 352.4 923 354 927.4 353.9 930 356.5 931.2 361.2 936.1 361.5 937.2 364.8 937.6 368.5 938.8 371.8 940.3 374.9 941.1 378.4 944.6 380.6 946.4 383.6 947.3 389.1 950.8 387 954.7 388.3 958.4 387.6 962.1 388 965.2 384.9 968.7 384.2 970.4 380.5 975.2 382.1 976.2 377.3 980 377.8 983.5 377.2 986.3 377.6 989.5 380.4 988.6 386.2 994.1 387.3 995.6 391.2 998.4 394.2 997.6 398.6 1003.2 400.6 1004 405.2 1008.3 404.3 1011.2 407.3 1015.3 409.6 1018.4 406.1 1022 405.9 1025.6 405.4 1029.4 406.3 1033 406.2 1036.2 403 1040.6 405 1042.7 402.1 1045.3 399.8 1048.3 398.4 1051.9 397.9 1053.3 393.8 1058.5 395.3 1060.7 393.5 1064.2 389.7 1068.6 384.4 1072.2 389.3 1075.8 388.8 1079.3 389.1 1084 388.9 1086.2 384.9 1085.5 379.1 1090.5 381 1094.7 377.1 1097.6 380.2 1100.7 382 1103.9 384 1104.5 388.9 1107.9 390 1112.6 389.2 1114.2 393 1118.5 393.5 1120.4 396.2 1121.3 400.1 1122.3 403.5 1124.7 405.8 1126.5 408.7 1128.5 410.9 1130.1 414.4 1132.8 417.1 1135.1 420.2 1137.9 422.8 1139.8 425.1 1143.8 427 1146.3 422.9 1149.9 423.3 1153 421.5 1156.3 420.3 1161.2 420 1163.1 422.6 1163.6 426.3 1164.3 429.9 1166.6 432.1 1169.8 433.7 1171.9 436.3 1174.9 438.2 1178.4 438.3 1182 438.1 1184.5 440.9 1187 443.5 1190 445.1 1194.5 443.9 1197.2 446.1 1199.2 451.1 1204.2 447.4 1208.2 447.5 1211 451.9 1214.9 451.8 1218.5 449.9 1222.3 448.8 1226.2 448.1 1230.1 447.2 1232.2 443.8 1237.5 447.5 1239.5 443.8 1242.9 443.3 1243.7 438.4 1247.8 438.4 1251.5 437.9 1253.6 435.3 1254.3 432.6 1258 434.1 1261.2 435.9 1263 437.4 1264.4 443.4 1268.3 443.1 1271.7 443.9 1275.5 446 1278.3 443.3 1282.6 443.6 1284.9 439.9 1286.6 435.4 1289.2 430.1 1293.5 431.2 1296.2 428 1298.3 426.7 1300.8 424.5 1304.2 423 1304.5 419.1 1306.5 416.4 1312.2 415.3 1311.4 411.8 1311.5 408.4 1314.8 405.5 1313.7 401.9 1312.9 398.4 1311.5 393.7 1314.4 390.2 1318.6 388.1 1318.7 391.9 1320.4 395.2 1322.1 398.4 1322.3 402.1 1325.1 404.9 1329.7 406.8 1327.7 412 1330 415.1 1334.1 414.9 1337.7 413.1 1341.3 411.3 1346.9 411.9 1346.5 406.5 1349.6 404.6 1351.9 401.9 1354.8 398.6 1358.2 398.9 1361.7 400 1364.5 396.8 1367.8 396 1371.1 396.2 1374.4 397.2 1377.6 397.5 1380.9 398.4 1383.9 395.9 1387.4 398.3 1390.6 398 1393.7 396.4 1396.7 394.6 1400 395 1500 395 1500 900 600 900Z" fill="#9A8B0C"/>
<path d="M600 512 603.3 512.4 606.7 514 610 511.9 613.3 510.7 616.7 511.1 620 510.7 623.3 510.1 626.7 510.2 630 511.4 633.3 511.2 636.7 511.6 640 511.7 643.2 510 646.7 512.1 650.2 512.7 653.3 510.1 656.6 509.9 659.8 507.8 663.3 509.8 666.5 507.2 669.8 506.9 673 505.6 676.4 505.5 679.8 506.5 683.4 508.7 686.7 508 690 507 693.3 505.8 696.8 507.2 698.2 502.1 702.4 502.6 707.3 504.8 711 504.2 713.9 500.1 714.7 496.8 710.5 493 715.3 490.1 716.1 486.8 718.1 483.7 717 480.2 713.9 476.5 715.9 473.4 714.8 469.4 716.9 466.3 717.9 462.7 720.2 459.7 722.4 455.4 726.6 457.8 728.7 453.4 733.4 457.5 735.7 453.8 738.7 452.2 742.3 452.7 744.8 449.5 748.3 449.8 751.2 447.9 754.4 446.9 758.2 448.7 760.5 444.3 763.2 441.7 766.9 443 770.3 443.2 773.8 443.7 777 443 780.3 442.1 782.5 438.7 785.8 438.2 789.6 438.7 792.1 436.3 794.6 433.7 797.6 432.3 802 433.8 804.7 431.5 807.7 429.7 810.7 427.9 814.1 426.6 814.8 421.2 818.5 421.3 821.9 420.9 824.8 419.6 826.3 415.4 829.4 414.9 834.1 413.5 836.3 411 838.7 413.9 842.2 415.3 846.3 416 849.3 418.1 852.2 419.8 855.5 420.4 856.7 425.2 859.7 426.4 863 426.8 864.4 428.3 867.3 425.6 867.2 422.2 868.3 419 868.5 415 872.4 417.2 876 415 879.4 411.4 883.4 415.1 886.1 416.2 889.7 418 895.7 415 898.2 418.8 901.9 423.5 904.7 419.3 908.4 419 911.8 417.1 916.2 419.4 919.8 418.5 923.7 413.8 925.8 418.7 931 416.1 934.1 418.6 936.9 423.3 940.6 422.9 944.4 420.8 948 421.3 951.6 420.9 955.1 421.6 958.5 424.3 962 424.7 966.2 425.5 969.5 423.4 974 424.3 977 421.4 979.9 419.3 983 422.4 986.4 423.9 991.5 416.9 993.7 419.9 998.4 421.3 1000.9 417.3 1005.5 418.3 1009.2 414.9 1011.5 419.3 1016.5 420.9 1016.5 424.9 1019.3 427.1 1021.4 429.8 1024.5 431.7 1023.7 437.3 1026.9 440.1 1029.9 443.5 1033.7 441.7 1037.4 441.3 1040.8 443.4 1043.8 442.6 1047.4 441.5 1051.9 443.8 1055.4 442.4 1057.2 437.4 1062.4 439.3 1065.8 437.8 1068.2 434.7 1071.2 433.9 1075.1 437.2 1079.5 435.2 1083.8 433.8 1085.3 438 1088.8 438.8 1091.6 435.9 1095.8 434.4 1097.3 432 1100.7 428 1105.1 431.9 1109.4 427.3 1112.3 428.8 1115.1 430.7 1115.9 435.9 1118.7 437.7 1123 436 1126.7 435.3 1130.2 436.3 1133.2 441.6 1136.5 439.4 1141.4 440.6 1144.8 443.7 1147.6 447.4 1150.2 451.2 1154.4 451.8 1156.8 454.1 1157.5 458.7 1163.1 458.3 1164.3 462.8 1169 464.2 1167.5 468.8 1171.5 470.5 1170.3 474.8 1175.1 476.2 1174.9 480.8 1178.3 483.6 1182.4 477.7 1185.7 481.3 1189.1 483 1192.8 481.9 1196.5 480.4 1200.2 483.6 1203.7 484 1206.4 479.2 1210.1 481.6 1213.5 481.8 1216.8 480.6 1219.8 477.8 1223.1 477.5 1226.8 479.6 1229.8 476.9 1233.2 476.7 1236.6 476.7 1239.7 474.5 1243.3 475.9 1246.6 474.9 1252.3 478.4 1253.7 474.1 1255.5 470.3 1258.3 468 1261.3 465.9 1265 465.1 1267.8 467.4 1270.3 470.7 1274.1 470.3 1276.9 469.2 1279.7 466.2 1282.9 463.5 1285.2 459.7 1287.7 463.9 1294 469.9 1295.7 463.5 1299.9 460.8 1303.2 460.2 1307 464.6 1310 461.3 1313.1 458.6 1316.8 461.2 1320 460 1500 460 1500 900 600 900Z" fill="#BCB206"/>
<path d="M600 516 603.3 514.5 606.7 514.5 610 516.5 613.3 516.5 616.7 514 620 516.5 623.3 517.7 626.7 515.5 630 514.4 633.3 516.8 636.7 515.7 639.9 514.8 643.2 514.1 646.7 515.9 649.8 512.8 653.3 513.9 656.7 514.4 660 513.7 663.7 517.2 666.5 512.1 670.1 513.6 673.4 512.9 676.7 513.1 680.2 513.4 683.3 511.5 686.6 511 690.1 512.4 693.1 509.9 696.6 510.4 699.9 510.1 703.4 511.3 706.3 508.4 710.2 512.3 711.2 507.3 716.1 504.6 715.9 498.9 719.8 501.5 723.2 499 726.7 497.6 730.2 496.8 731.6 497.8 733.4 494.5 731.3 490.8 734.6 487.6 736.3 484.3 734.5 480.7 735.1 477.2 735 473.8 738 470.6 737 466.8 740.6 467.6 744.2 463.4 747.8 468.3 751.4 468.5 754.9 468.8 758.5 464.8 762.1 465.8 765.7 467.9 769.2 468.1 772.8 468 776.4 469 779.9 468.9 783.4 471.1 787.2 466.7 790.8 466.7 794.5 468.8 798.5 468.5 800.9 464.3 805.7 465.8 808.4 460.5 812 460.2 815.7 461 819.5 463.5 824.1 465.1 826.8 461.3 831.2 463 833.6 458.1 837.4 457.3 838.8 453.9 843 453.5 845.7 451.4 845.3 446.3 847.8 444 851.3 443.5 855.5 440.7 858.5 443.1 861.9 444.1 865.8 444.6 868.1 447.7 869.9 451.4 874 451.3 877.9 451.7 880.5 454.5 881.1 458.5 886.1 458.3 885.6 466.1 890.7 463 893.7 465.8 897.8 465.7 902 464.9 905.3 469.5 908.5 466.9 912.1 465.9 916.3 467.6 919.2 464 923.5 465 926.4 463.2 929.7 462.4 931.1 457.8 935.4 459.5 939.2 458.7 942.8 457 945.6 452.5 950.4 452.6 953.5 455.8 957.1 457.4 960.7 459 965.1 457.7 968.5 459.9 972.3 460.7 976.4 460.6 980.2 459.9 983.4 462.1 986.9 460.8 990.1 461.5 993.4 462.9 996.9 461.8 1000.6 462.3 1003.4 464.5 1006 467.7 1010.1 466.3 1012.7 469.5 1016.2 469.8 1020 469 1021.7 472.9 1024 475.8 1029.8 473.6 1032 476.5 1032.9 481.2 1037.1 481.3 1040.8 482.8 1044.4 482.5 1047.8 479.9 1051.4 480.6 1055 479.2 1058.1 481.6 1062.3 479.6 1065.4 481.2 1069.1 481 1072.1 483 1075.6 483.6 1081.6 488.6 1081 482.3 1084 479.6 1087.9 475.7 1090.4 478.1 1092.6 480.9 1094.6 484 1098 484.8 1102.2 486.4 1102.8 482.4 1106.8 481.8 1109.8 480.2 1110.7 476.5 1113 474.6 1116.3 473.5 1119.5 472.1 1122.9 472.1 1126.5 474.1 1130 473.1 1133.5 470 1137.4 472.1 1140.5 469.4 1143.7 467.1 1147.9 467.2 1153.5 469.1 1155.2 464.6 1158.9 463.6 1160.2 458.4 1164.2 458 1164.4 462.3 1165.7 466.3 1168 470 1170.2 472.8 1168.6 476.7 1171.6 479.2 1171.2 482.8 1172.7 485.8 1172.4 489.4 1175 493.8 1178.6 492.9 1182.1 490.3 1185.7 491.6 1189.3 492.2 1192.9 494.9 1196.4 493.2 1200.5 494 1203.2 491.6 1206.3 490.9 1209.9 491.8 1212.1 487.4 1216.1 490.1 1218.7 487.3 1221.5 485.1 1224.8 484 1228.2 483.9 1231.6 485 1234.8 483.1 1238.4 485.7 1241.5 483 1245.5 485.3 1247.8 481.1 1252.4 483.2 1255.6 481.6 1258.6 479.1 1262.4 479.3 1264.8 475.7 1267.8 473.6 1272.3 476.9 1275.4 475.3 1278.2 471 1282.6 472.5 1286.5 471.9 1289.7 468.6 1293.4 469.7 1296.8 469.3 1300.1 469.4 1303.2 466.6 1306.5 465.2 1309.9 465.7 1313.3 466.8 1316.9 468.3 1320 466 1500 466 1500 900 600 900Z" fill="#DDD900"/>
<path d="M600 520 603.3 522.1 606.7 521 610 517.5 613.3 520.9 616.7 519.5 620 523.3 623.3 518.2 626.7 522.9 630 517.6 633.3 518.4 636.7 518.6 640.2 521 643.1 519 646.5 519 649.4 516.9 653 517.7 656.2 517.2 659.1 514.9 662.3 514.1 666.1 516.3 669 514.1 672.4 512.6 675.8 511.5 679.2 510.3 683.5 515.7 686.7 512.9 689.9 509.2 693.7 513 697.2 511 700.8 511.5 704.3 510.6 707.8 509.8 711.4 509.9 713.3 509 714.9 506.1 719.8 505 720.1 501.6 723.3 499.4 727.2 500.2 730.6 498.6 734.4 497.7 737.6 499.7 741 500.4 744.5 500.3 748.1 499.9 750.5 500.2 756.1 501 757.5 496.9 761.6 495.2 761.3 490.9 764.8 489.1 765.5 483.5 769.4 486.3 772.8 484.5 776.6 486.1 779.6 485 783.9 484.8 787.1 487.1 790.6 488.8 794.7 491.1 797.4 487.3 802 489.4 805.1 486.9 808.2 489.4 812.2 485.8 815.8 485.6 819.3 486.5 822.7 488.6 826.7 485.2 829.9 488.9 833.9 484.7 837.3 490.3 840.8 489.6 844.4 488.8 847.7 486.3 851.4 486.7 854.8 488.6 858.5 488 862.3 486.7 865.4 489 868.8 491.4 872.5 496.6 876.5 492.1 879.9 494.2 883.4 495.6 887.8 496.3 890.1 491.2 894.6 493.2 898.4 492.9 901.2 489.1 904.9 488.6 908.2 486.8 912 486.9 915.3 487.8 919.4 488.5 923.2 489.9 927.2 490.7 930.3 492.4 933.8 494 937.2 495.5 940.7 496.4 944.6 497.8 946 491.8 951.4 495.1 954 494.8 957.9 494.6 961.7 495.7 964.8 495.8 969.5 493.7 971.9 496 973.7 499.7 978.1 498 980 501.5 983.6 499.2 987.1 503 990.7 502.7 994.6 502 997.6 499.1 1001 497.3 1004.6 495.9 1008.4 496.4 1011.5 497.8 1014.6 498.8 1018.4 496.8 1021.4 498.6 1025.2 500 1029.1 500.2 1033.3 498.5 1037.3 502 1040.8 500.4 1044.1 497.5 1047.9 499.2 1051.4 498.3 1055.4 495.2 1058.7 497.5 1062.4 497.3 1065.6 499.2 1069.6 500.6 1073.3 500.6 1076 495.6 1079.8 499.2 1083.4 498.9 1087.4 495.4 1090.7 498.2 1094.3 498.1 1097.9 496.3 1101.4 500.3 1105 499 1108.5 498.1 1112.3 498.3 1116 498.3 1119.7 498.3 1122.6 494.1 1126.8 496.4 1129.7 492.8 1133.7 494.2 1137.5 494.8 1140.1 491.2 1143.4 490.8 1146.7 490.3 1150.2 491 1154 490.7 1158.3 492.3 1161.6 489.3 1165.7 485.8 1168 488.6 1171.6 489.1 1173.4 493 1175.4 496.4 1179.9 495.9 1183.2 496.9 1186.6 496.7 1190 495.8 1193.4 496 1196.6 497.8 1200.3 498.4 1203 494.7 1206.7 495.3 1209.5 492.5 1213.2 493.2 1216.1 490.6 1220 491.8 1223.2 493.6 1226.3 496 1230.2 491.4 1233.3 494 1236.9 491.8 1239.8 493.4 1242.8 489.6 1247.7 492.6 1251.8 493 1254.7 489.4 1258.4 488.1 1261.1 485.1 1265 484 1268.6 483.4 1271 479.7 1274.2 480.4 1275.9 483.7 1278.9 486.4 1281.7 489 1280.7 494 1282.4 497.5 1285.6 500 1287 506.9 1292 504.1 1296.5 502.9 1300 506 1500 506 1500 900 600 900Z" fill="#FFFF00"/>
<path d="M600 548 603.3 550 606.7 549 610 547.3 613.3 550.7 616.7 546.5 620 546.3 623.3 547.3 626.7 549.6 630 547.5 633.3 548.5 636.7 547.6 640 548.2 643.3 546.6 646.7 546.2 650 549.3 653.3 546.9 656.7 549.9 660 550.2 663.3 551 666.7 548.7 670 548.2 673.3 549.8 676.7 546.6 679.8 546 683 544.6 686.8 548.4 689.7 544 693.5 548 696.5 544.5 700.3 546.9 703.2 545.3 706.6 545 709.9 544.6 713 543.7 716.8 542.4 718.2 539 721 537 722.3 535.8 726.3 535.2 730.3 534.7 733 538 736.4 539.2 740.1 540.2 744.1 538.5 746.6 534.1 751 531.6 754.6 532.1 758 531.2 761.5 531.2 765.6 534.5 768.8 528.7 772.3 531.6 776 532 779.8 530.8 783.5 530.5 787.2 533 790.8 531.5 794.2 529.8 797.4 527.3 802.1 528 806 523.2 809.5 523.5 812 527.2 815.8 526.6 819.2 528 822.5 526.4 827.1 531 829.5 524.2 833.8 527.6 837.2 526.4 840.5 523.1 844.1 523.2 847.8 524.4 851.3 525.5 855.4 520.7 858.6 524.1 862.2 525 866.1 527.6 869.7 526.9 872.6 523 876.1 522 879.7 521.2 883.4 521.2 886.9 520.1 890.5 519.5 894.5 521.3 897.9 520.2 901.2 516.9 905.4 522.5 908.2 520.3 912.4 518.2 916.3 517.1 919 522.3 923.9 519.4 925.5 525 930.9 523 933.3 527.1 937.1 528 940.7 529.1 944.2 530.4 947.8 532.6 951.5 528.4 954.6 525.5 954 521.1 955.4 517.6 956.9 514 958.7 511 957.1 506.9 959.5 505.8 965.1 506.8 966.8 510 969.5 512.3 971.9 514.8 978.6 515.1 979.2 519.6 980.5 526 984.1 524.4 988.1 524.1 991.4 521.3 995.1 522.6 998.4 524.4 1001.1 525.7 1004.6 524.3 1008.4 524.9 1012.7 527.4 1016 525.3 1019 521.6 1023.3 527 1026.3 520.5 1030 522.4 1033.7 523.2 1036.3 525.2 1041.1 519.7 1044.6 520.7 1047.8 523.8 1051.8 525 1055.9 522.4 1060 519.1 1064.3 518.5 1068 520.1 1070.1 523.7 1072.6 527.1 1073.7 530.5 1074 534.9 1077.7 535.9 1080.1 539.5 1083.8 539.8 1087 536.5 1090.9 539.2 1093.7 536.3 1099.9 536.7 1101.3 529.8 1105.1 532 1108.7 531.7 1112 529.3 1115.9 530.7 1119.6 530.9 1121.8 526.1 1124.9 526.7 1126.3 522.7 1127.3 518.5 1130 515 1134 517.8 1137.5 514.7 1141.2 513.3 1144.4 514.2 1150.1 516.3 1148.5 521 1151.5 527.2 1146.9 527.9 1144.1 530.1 1140.3 534.1 1146.6 534.2 1147.7 537.8 1147.9 542.1 1149.9 545.3 1153.9 545.7 1158.5 544.6 1161 549.5 1166 551.6 1168.3 548.6 1171.8 547.6 1173 542.7 1178 544.1 1181.7 543.4 1183.1 539.3 1185.9 537.3 1189.9 537.1 1191.6 533.5 1194.4 531.5 1195.6 528 1199.6 527.6 1202.8 526.4 1204.9 523.9 1206.9 521.3 1209 519.1 1210.9 515.8 1214.6 515.4 1217 513 1218.1 508.3 1222.9 509.9 1226.8 510.7 1229.9 507.8 1233.7 508.4 1236.7 507.5 1240.4 508.8 1242.3 512.4 1245.6 513.6 1249.5 515.1 1252.9 513.2 1256.3 511.3 1260.3 509.8 1263.9 511.3 1267.5 513.3 1271.2 513.8 1274.9 513.3 1278.2 509.5 1282.1 513 1285.6 512.2 1289.3 513.4 1292.8 512.1 1296.1 507.9 1300 512 1500 512 1500 900 600 900Z" fill="#52CE0F"/>
<path d="M600 556 603.3 557.7 606.7 557.3 610 555.2 613.3 554.5 616.7 555.3 620 554.4 623.3 554.7 626.7 555.7 630 555.8 633.3 557.8 636.7 558.1 640 558 643.3 556.1 646.7 557.9 650 557.1 653.3 557.4 656.7 557.7 660 558.1 663.3 555.5 666.7 556 670 556.6 673.3 556.1 676.7 558 680.2 557.9 683.6 554 687.3 554.3 690.8 551.6 694.9 554.4 698.3 555.7 701.9 555.4 705.9 552.6 708.6 557.4 712.1 557.4 716.1 557.1 717.7 552.9 717 549 720.6 550.2 723.8 546.7 727.3 546.8 730.9 548.6 734.2 546.9 737.8 548.3 740.9 544.2 744.7 547.8 747.8 544.2 751.3 546.5 754.8 544.5 758.1 545 761.3 546.2 764.5 547.9 767.9 546.4 771.3 545.4 774.4 548.3 777.9 545.3 781 549.1 784.3 548.9 787.7 547.3 791.1 546.8 794.3 547.7 797.9 547.2 801.4 546.6 805 549.6 808.6 552.1 812.2 549.2 815.8 547.7 819.3 549.2 823 549.8 826.4 547.9 830 547.5 833.7 548.8 837.1 546.6 840.8 547.2 844.1 544.2 848 547.6 851 547.5 854.8 546.1 857.8 548.1 861.8 545.9 864.3 550.4 868 549.7 871.1 550.2 874.4 552.1 876.8 555.1 879.9 558 883.8 555.6 886.9 559.8 890.6 558.8 894.3 558.1 898 557.9 901.6 557.4 905 560.2 908.8 562 912 558.3 915.7 558.5 919.2 557.5 923.1 560.6 926.4 557.9 929.9 556.9 933.8 560.3 936.4 555.2 941 556.5 944.2 554.1 947.4 551.7 951.3 550.7 954.8 549.9 958.1 547.9 961.7 547 965.8 547.3 969.1 550.8 973 547.8 976.6 548.2 980.1 552.1 983.5 548.5 987.2 549.8 990.6 546.3 994.2 547.5 997.7 545 1001.4 548.4 1004.9 547.2 1008.7 547 1012.1 550.1 1015.7 548.5 1019.3 548.2 1022.8 549.5 1026.4 548.7 1030 549.3 1033.5 549.6 1037 550.4 1040.1 551.8 1043.2 552.8 1046.6 551.2 1050 550.8 1052.8 553.5 1056.3 551.8 1059.1 554.8 1062.7 552.2 1065.8 553.2 1069.1 555.9 1072.7 556.6 1076.5 554.5 1080.2 553.8 1083.6 556 1087.2 555.3 1091.1 553.3 1094.3 557.5 1097.9 557 1101.4 556.2 1104.9 554.5 1108 557.1 1111.6 559 1115.8 559.6 1120.9 558.8 1123.1 561.2 1124.1 565.1 1128.5 564.7 1131.3 566.4 1131.2 571.6 1135.1 571.7 1139 571.4 1142.4 573.8 1146.6 572.3 1150.1 575.1 1153.1 573.7 1157.4 573.9 1158.6 570.3 1161.1 568.2 1161.4 563.3 1166.2 564.2 1169 562.5 1170.9 559.6 1172.9 557 1175 554 1178.8 554 1183.6 555.4 1185.4 552 1187 547.8 1191.1 549.8 1194.2 546.5 1198.1 547.8 1200.9 544.7 1203.6 542.7 1206 540.3 1209.9 540.2 1213.4 539.7 1215.7 535.8 1219.3 534.7 1222.8 535.5 1226.4 538.3 1229.6 537.9 1233.2 539.4 1236.7 541 1240.3 542.4 1244 544.3 1247.8 543.7 1251.3 544.9 1255.3 543.7 1258.6 546.5 1262.1 547.7 1265.5 546.4 1269 546.2 1272.4 544.7 1275.9 546.3 1279.3 543.9 1282.7 544.8 1286.2 545.6 1289.7 545.9 1293.1 543.9 1296.6 546.4 1300 545 1500 545 1500 900 600 900Z" fill="#7ADE0A"/>
<path d="M600 600 603.3 600.9 606.7 597.9 610 602.8 613.3 601.3 616.7 598.6 620 599.4 623.3 600.7 626.7 601.1 630 599.9 633.3 599 636.7 598.1 640.1 602.8 643.3 599.2 646.8 601.8 649.9 598.1 653.3 599.1 656.7 599.6 660 598.3 663.3 597.3 666.6 597.5 670.1 600.2 673.3 596.7 676.6 596.5 680.8 599.8 684.2 598.2 686.7 594.6 690.5 593.8 693.6 591.7 697.5 590.5 700.4 588.4 702 585.3 704.2 582.7 705 578.8 709.4 578.2 711.3 575.9 714.7 575.2 717.8 574 719.9 569.9 723.4 569.5 727.3 570.3 730.1 569 733.5 569.3 736.5 565.7 740 567 743.4 567.3 746.5 564.7 750.2 568.5 753.2 564.3 756.7 566.8 760.1 564.1 763.4 566 766.7 567.7 770.2 567.6 773.6 568.2 777 569.3 780.7 565.9 784 567.8 787.5 567.1 790.9 567.3 794.4 569.1 798 569.2 801.4 567.2 805.2 569.1 808.4 565.1 812.1 565.7 815.7 566.2 819.6 568.9 823.1 567.2 826.6 566.4 830.2 566.4 833.8 566.6 837.1 563.3 840.5 562 844.3 563.2 848 564.7 851.7 560.6 855 561.4 858 563.9 861.2 565.5 864.8 564 868.4 562.6 871.7 564.4 874.2 568.5 877.4 569.6 881.4 567.4 883.6 572.3 887.2 571.8 891.5 568.7 894.2 573.1 897.9 570 901.4 572.2 905.1 570.6 908.7 570.7 912.1 574 915.9 569.2 919.3 573.9 923.1 574.2 926.1 568.3 930.1 573 933.5 571.2 936.8 567.4 940.7 570.9 944.2 569.9 947.5 566.7 951.5 571.1 955 569.6 958.7 571.2 962 567.8 965.7 568.9 969.2 568 972.7 566.5 976.5 569.9 979.9 569.5 983.3 568.2 986.5 569.4 989.9 567.7 993.3 566.7 996.3 570.8 999.7 569.7 1003.1 569 1006.4 568.9 1009.6 569.3 1012.7 573.1 1016.5 568.5 1019.7 572.2 1023.3 570.6 1026.9 568.1 1030.2 570.9 1033.7 569.4 1037.1 571.8 1040.6 569.6 1044.2 569.7 1047.8 570 1051.4 569.6 1054.9 569 1058.5 569.1 1062.1 568.9 1065.8 568.8 1069.3 570.6 1072.9 569.4 1076.5 569.6 1080 570.6 1083.7 568.9 1087.1 572.4 1090.6 573.6 1094.4 571 1097.7 570.9 1100.2 574.3 1103.2 575.6 1106.5 575.7 1110.2 574.7 1112.3 578.1 1115.6 579.6 1118.2 582.2 1122.4 582.5 1125.1 584.7 1129.3 584.5 1132.6 587.2 1136.7 587.3 1140.8 591.5 1143.2 589 1143.6 583.1 1147.7 583.7 1152.1 584.9 1154.8 582.9 1155.8 578 1160.6 579.8 1163.2 577.8 1165.1 573.8 1168.6 573.8 1171.9 573 1175.5 573 1178.7 572 1182 571.3 1184.8 569.1 1186.8 564.6 1190.8 565.9 1194.3 563.7 1197.9 564.7 1201.5 567.4 1205 565.4 1208.6 561.5 1212.2 566 1215.8 567.3 1219.3 564.4 1223 564 1226.6 563.6 1230 565.7 1233.6 565.4 1237.2 565.1 1240.7 566.2 1244.3 566.3 1247.8 567.2 1251.4 567.1 1254.7 568.3 1257.8 565.3 1261.1 568.1 1264.3 566.1 1267.6 564.8 1270.9 568.5 1274.1 567.9 1277.3 564.6 1280.5 564.6 1283.8 564.7 1287 566.1 1290.3 565.8 1293.5 566.5 1296.7 563.9 1300 566 1500 566 1500 900 600 900Z" fill="#A3EE05"/>
<path d="M600 625 603.3 623.9 606.7 627.1 610 624.9 613.3 623.4 616.7 626.1 620 625.4 623.3 626.8 626.7 624.2 630 625.4 633.3 627.1 636.7 623.9 639.6 623.6 642.6 622.6 645.8 622 649.7 623.6 652.5 621.7 655.1 619.4 658.8 620.4 661.8 619.3 664.9 618.3 667.3 615.3 670.9 615.9 674.4 616.2 677.5 615.6 680.6 613.1 682.1 610.1 685.5 608.7 685.9 604.7 688.9 602.9 690.7 600.1 693.6 598.3 696.4 596.3 697.3 590.5 700.2 594 703.5 593.8 706.8 593.1 709.9 594.7 713 596.2 716.3 596.3 719.5 596.8 722.8 595 726.4 593.8 730.8 594.5 733.3 590.5 736.7 586.5 740.2 586.2 744.1 588.3 748.2 592.2 751 586.1 755 589.2 758.3 587.1 761.5 587.3 764.9 586.8 767.2 590.9 771.1 588.7 774.3 589.1 777.4 590 780.3 591.1 783.2 595.1 786.8 595.8 791 593.4 793.9 597.1 797.7 596.9 800.2 595.2 803.3 593.6 807.6 593.6 809.5 590.2 812.5 588.4 815.9 588.3 819.3 586.9 823.1 587.6 826.6 586.8 830.2 586.7 833.5 584 837.1 583.5 840.7 587.5 843.7 583.8 847 584.5 850.4 584.9 853.5 583.2 856.8 583.2 860.6 580 862.8 584.7 867.1 582.6 871 582.1 873 587.2 876.9 586.4 880.1 587.3 883.5 589.2 887.2 588.6 890.6 590.3 894.3 589.3 898 588.5 901.8 587.1 905.2 589.1 908.8 595.1 912.1 589.6 915.7 590.1 919.2 589.4 922.8 589 926.3 588.7 930 589.7 933.5 589.8 937.1 589.4 940.5 588.3 943.9 591.2 947.3 590.6 950.7 590.7 954.1 589.4 957.5 585.9 960.9 588.6 965.1 588 967.3 592.4 971.3 592.3 974 595.7 978.7 593.7 981.2 597.6 984.9 598.7 988.5 599.7 991.9 602.1 995.6 600.9 999.4 597.9 1003 597.9 1006.2 602 1009.9 600.7 1013.7 596.4 1016.5 601.9 1020.1 600.1 1023.2 602.6 1026.5 603.7 1030.1 601.3 1033.5 600.2 1036.7 602 1040.2 602.1 1043.9 602.5 1047.4 604.1 1051.4 602.8 1054.9 604.5 1058.4 606.2 1062.1 606.4 1065.3 609.7 1068.9 610.3 1072.9 608.4 1076.2 610.7 1080.3 611.2 1083.1 608.1 1086.2 606.4 1089.7 606.4 1093 605.5 1096.9 606.7 1100 608.1 1103.8 603 1107.5 606.2 1111.2 606.1 1115.4 606.3 1118.3 602.5 1123.2 604.6 1126.2 601 1129.7 599 1133.2 598.4 1136.8 598 1139.9 596.3 1144.6 598.9 1146 592.3 1149.5 591 1153.3 592.1 1156.2 589.4 1160.6 593.1 1163.6 590.8 1167.4 591.8 1170 588 1173.4 587.1 1176.7 585.5 1180.8 587.3 1183.9 585.3 1187.4 584.6 1189.7 579.6 1194 581.6 1197.5 584.9 1200.6 583 1203.6 579.9 1207 581.6 1210.2 580.2 1213.4 579.1 1216.5 577.1 1220.1 580.7 1223.4 578.2 1226.9 577 1230.5 576.7 1234.2 577.9 1238.1 579.6 1241.1 575.1 1245 577.2 1248.3 578.2 1251.5 576.4 1254.7 577.8 1257.9 575.8 1261.1 573.8 1264.4 576.4 1267.6 575.7 1270.9 575.1 1274.2 578.6 1277.3 574.4 1280.6 578.6 1283.8 572.7 1287.1 576.4 1290.3 577.5 1293.5 576.7 1296.7 573.8 1300 576 1500 576 1500 900 600 900Z" fill="#CCFF00"/>
<path d="M600 640 603.3 638.4 606.7 641.7 610 639 613.3 638.2 616.7 638.7 620 638.6 623.3 641.9 626.7 638.2 630 642.1 633.3 640.6 636.7 641.3 640.5 640.9 642.9 638.2 646.5 637.7 649.9 636.9 652.5 634.6 656.1 633.8 658.2 629.9 663.3 630.9 664.5 625.6 669.1 623.7 668.2 627.3 668.4 630.7 670 633.7 673.2 636.3 670.9 640.7 675.1 642.2 677.3 645.1 677.6 649.3 679.9 650.4 683.5 649.9 687.2 652.8 690.8 652.4 694 650.8 697.8 649.3 699.4 645.3 702.6 643.1 704.8 639.8 709.2 640.3 711.9 636.4 716.3 637.9 719.1 634.2 723.2 637.3 726.3 631.8 730.2 635.5 733.4 631.2 737.1 632.6 736.8 627.7 739.1 622.8 737.7 619.4 733.1 617.9 732.6 613.4 731 609.9 727.1 606.2 730.4 608.2 733.8 609.2 737.1 608.2 740 605.2 744.3 606.3 747.8 603.5 751.3 606 754.8 603.7 757.9 605.5 760 611.1 763 613.5 766.7 610 769.4 614.4 772.8 614.3 776.6 611.3 780.1 612.1 783.5 615.5 787.2 612.7 790.9 611.8 794.7 612 797.5 616.7 801.1 617.1 804.8 617.5 807.9 618.1 812.6 618.2 816 621.9 818.5 617.7 822.3 619.3 828.1 617.8 831.5 624.1 829.3 617.2 835.9 619 836.5 616.9 840.9 616.4 844.7 617.6 846.6 622.5 851 624.5 855.3 621.7 858.6 624 861.9 625.7 865.7 627.1 870.4 625 874.5 626.9 877.6 627.5 880.5 629.2 884 628.8 886.5 628.3 891.1 629.2 895 628.6 897.2 623.9 901.2 623.6 905.8 624 908.2 619.7 912.4 619.3 915.7 618.6 919.3 617 922.9 614.5 926.4 618 929.6 615.1 933.1 613.9 937.3 616.3 940.6 613.9 944 615.3 947.4 615 950.9 614.4 954.1 615.3 956.7 614.9 961.4 616.1 965.7 615.4 969.3 613.6 972.9 613.7 976.4 617.5 980.7 619.1 983.3 613.1 986.9 612.6 990.7 613 994.3 612.3 998.1 612.2 1001.8 613.5 1005.5 614 1009 614.1 1011.6 617.2 1012.6 621.1 1012.2 625.6 1015.6 629.1 1019 630.5 1023.1 628.3 1026.6 629.5 1030.3 629.6 1033.8 630.7 1037.2 632.1 1040.7 633.4 1043.3 633 1045.4 630.3 1051.9 632.1 1051.6 627.3 1054.3 623.8 1057.9 621.9 1062.1 619.1 1065.7 620.2 1069.3 621.4 1072.7 621.5 1076.7 621.2 1079 623.8 1082.4 624.6 1083.3 629.5 1086.4 628 1091 629.6 1094.2 627.8 1097 625.2 1100.7 624.8 1102.1 620.7 1104.9 618.7 1107.3 617.4 1110 614.9 1113.4 613.9 1116.9 609.8 1120.4 610.1 1123.9 611.2 1127.2 610.6 1130.5 609.9 1134 610.2 1137.1 606.5 1140.8 607 1144.5 607.5 1148.3 606.8 1152 607.4 1156 608.4 1156.3 604.9 1158.2 601.8 1158.4 595.9 1162.2 598.9 1165.8 598.9 1169.4 599.4 1173 599.3 1176.5 598.7 1179.5 595.1 1183.2 594.6 1187.7 596.4 1190.9 594.2 1194.1 591.7 1197.7 591.1 1201.8 593.1 1204.6 588.3 1208.5 589.2 1211.9 587.8 1215.5 590.3 1219 591.2 1222.7 590.4 1226.3 591.1 1230.3 591.2 1233.8 590.4 1237 587.5 1240.9 588.7 1244.1 589.2 1248.1 585.2 1251.5 587.3 1255 588.1 1258.3 586.7 1262.1 587 1265.8 587.1 1269.4 586.6 1272.9 585.1 1276.2 584.5 1279.7 586.3 1283.1 585.1 1286.5 585.5 1289.9 585.4 1293.4 587.8 1296.6 583.7 1300 584 1500 584 1500 900 600 900Z" fill="#175417"/>
<path d="M600 655 603.3 654 606.7 655.4 610 655 613.3 655.3 616.7 656.3 620 654 623.3 653.5 626.7 656.7 630 655.1 633.3 653.6 636.7 656 639.5 653.5 644 655.9 646.9 653.4 649.8 650.9 652.7 648.4 656.5 648.7 660 647.9 662.2 651.1 665.5 651.9 668.7 652.8 671.4 654.9 675.1 654.9 676 658.8 677.2 662.5 680 665.3 684 665 687 662.1 690.7 661.1 694.7 661.2 698 659 701.8 658.9 705.2 656.9 707.6 653.9 710.9 652.5 714.5 651.7 718.3 651 719.2 646.2 722.7 645.1 725.6 643.5 729.6 643.7 732.1 641.4 735.3 640.3 733.7 635.2 736.7 633.1 740 631.1 737.7 626.5 743.8 624.5 740.3 619.6 744.2 618.2 748 615.6 751.6 615.9 755 618.5 757.1 621.3 763.1 618.1 766.6 620.2 770 622.2 772.9 626.2 776.5 625.6 780 626.1 783.6 624.2 787.2 624.3 790.7 623.4 794.1 626.1 797.4 628.3 801.1 628.5 804.4 630.6 808.7 627.7 812.4 628 816.1 628.1 818.9 632.3 823 631.7 826.5 631.1 830 630.8 833.3 627.1 836.9 631.2 840.4 632.7 844.2 630.4 848 628.6 851.5 630.4 854.9 632 858.6 631.1 862.3 630.5 865.7 630.5 869.3 631.5 872.9 633 876.4 631.9 879.7 633.2 883.2 634.9 886.8 636.4 892.3 633 894.6 639.9 898.3 639.7 901.8 638.4 904.6 634.1 908.6 634.9 912.5 638.8 915.7 634.2 919.2 632.9 923.1 634.8 926.7 634.4 929.6 630.5 933.7 632.6 937 632.5 940.6 631.9 944.3 631.5 947.9 631.5 951.4 632.2 955.1 633.8 958.6 632.7 962.2 632.4 965.5 629.3 969.7 634.9 972.9 631.1 976.2 628 980.1 630.5 983.6 629.4 987.1 628.2 991 628.9 994.2 627.3 997.3 629.9 1002 627.2 1004.8 630.8 1007.6 633 1011.9 631.7 1014.1 634.5 1016.9 636 1019.8 637.3 1023.3 634 1026.5 638.4 1029.7 641.7 1033.4 641.4 1036.5 641.7 1040.5 641.4 1044.6 640.6 1047.3 644.7 1049.6 645.8 1052.5 647.6 1057.1 647.8 1058.5 651 1063.6 651.5 1065.1 646 1066.8 642.3 1071.7 643.9 1072.8 639.3 1077.8 641.1 1079.8 637.8 1084.2 639.3 1087 635.8 1091.2 636.8 1094.4 634.3 1098.4 635.9 1101.4 632.2 1104.5 629.4 1108.3 629.8 1111.8 628.4 1115 625.7 1119.2 628.3 1123.7 629.8 1127.3 628.1 1130 624.7 1134.3 624.3 1137.9 623.1 1140.4 619 1144.3 618.4 1147.2 615.3 1151.7 617 1154.8 614 1158.2 612.1 1161.8 611.9 1166.1 614.4 1169.1 611.2 1172.8 610.7 1176.4 610.1 1180.8 611.4 1182 604.7 1187 605.8 1191.2 605.4 1194.2 602.3 1197.8 601.6 1201.7 602.6 1205.1 600.7 1208.6 598.9 1212.2 600.1 1215.8 600.1 1219.3 603.4 1223 600.6 1226.5 600 1229.8 597.4 1233.4 597.5 1236.7 596.2 1240.7 597.8 1244.1 596.2 1247.6 594.9 1251.4 594.9 1254.9 593.8 1258.5 594.2 1262 592.8 1265.6 592 1269.1 594 1272.5 592.3 1276 592.7 1279.5 595.1 1282.8 591.4 1286.3 592.5 1289.6 590.8 1293.2 594.2 1296.6 592.1 1300 592 1500 592 1500 900 600 900Z" fill="#3E7F41"/>
<path d="M600 745 603.5 746.6 606.8 745.7 610 743.9 613.4 744 616.6 743 619.8 741 623.7 746.3 626.7 742.9 629.9 741.7 633.6 741.3 636.4 738.8 640.8 740 643.8 737.8 647.3 737 651.4 735 651.7 731.1 653.8 728.5 656 726 655.6 721.6 661.1 721.5 665.2 719.2 661.2 714.2 664.1 711.7 665.4 708.6 667.1 705.6 667.7 702.3 670.7 699.8 671.4 696.8 670.1 692 673.3 689.6 676.8 687.4 675.2 682.5 675.5 678.7 679.3 675.6 683.1 676 686.1 674.9 686.8 669.2 690.9 670.1 693.6 666 697.4 666.4 700.7 664.5 704.7 666 709.4 668.2 709.2 661.5 713.9 662.8 717.1 661.6 720.5 660.9 722 657.7 726.5 656.6 728 653.6 729.4 650.5 730.4 647.9 733.1 644.3 736.6 642.7 739.4 639.4 742.1 637.4 748.9 640.8 751.2 637.8 755.3 636.2 758.5 638.7 761.9 640 766.8 636 769.7 639.2 772 644.8 776.1 644.1 780.1 642.8 783.7 643.2 787 645.9 790.7 645.1 794.1 647 797.7 647.5 801.5 645.5 804.9 648.1 808.6 647.4 812.3 645.6 815.6 648.7 819.3 648.5 822.8 648.8 826.2 650.7 830.2 646.8 833.5 649.4 837.2 650.2 840.2 647.2 844.2 647.3 847.9 646.6 851.4 646.9 855 645.4 858.5 646 862.1 644.9 865.6 644.8 869.4 645.9 873 646.2 876.3 642.8 880.1 643.5 883.9 642.9 886.7 647.4 890.2 649 894.2 648.4 897.9 646.6 901.5 646.8 904.9 649.7 908.6 648.1 911.8 644.2 915.5 645.6 919.6 650.6 922.9 646 926.5 645.6 930 648.7 933.5 646.4 937 645.9 940.9 648.7 944.2 645.9 947.8 645.3 951.4 645.5 955.4 648.9 958.4 643.6 962 643.1 965.7 642.5 969.3 645.4 972.9 648.1 976.4 645.5 979.9 643.6 983.5 642.8 987.4 643.7 990.1 638.7 995 637.5 997.9 641.8 1001.3 643.3 1004.2 647.1 1008.5 644.5 1011.7 646.8 1016 644.1 1019.4 646 1023.1 645.1 1026.2 649.3 1029.8 649.6 1033.8 645.8 1037 648.5 1040.2 650.9 1044.8 649.7 1047.4 653.6 1051.2 654.7 1054.9 655.3 1059.2 654.1 1062.2 656.8 1065.6 658 1069.5 657.4 1073.3 656.7 1076.7 654.7 1079.7 652 1081.6 648.6 1084.6 647.4 1087.9 647 1091.2 646.4 1094 643.8 1097.7 643.6 1100.8 640.5 1105.3 644.7 1109 644.1 1112.4 642.4 1116.1 641.7 1119.8 641.1 1123.4 639.3 1125.9 635.4 1129.3 633.2 1134.4 634.6 1136.8 630 1141.3 632.1 1144.6 630 1147.4 626.4 1151.3 626.6 1154.9 625.7 1158.2 623.7 1162.4 626.2 1166 625.1 1168.7 621 1173.2 622.9 1177.4 624.2 1180.2 621.6 1183.7 620.1 1187 617.7 1190.7 618.8 1194.1 617.7 1198.8 618.8 1202.5 617 1205.6 613.7 1209.6 613.9 1212.4 611.3 1215.6 610.3 1219.4 608.4 1222.8 611.3 1226.3 612.2 1230 611.2 1233.7 611.6 1237.2 610.5 1240.8 611.1 1244.4 610.5 1247.5 609.1 1250.7 607.5 1254.2 609.5 1257.3 606.7 1260.6 608.1 1263.8 606.2 1267.3 609.8 1270.6 609.7 1273.7 606.3 1277.2 609.6 1280.3 607.1 1283.7 607.6 1286.8 605.5 1290.3 608 1293.3 604.9 1296.8 607.6 1300 606 1500 606 1500 900 600 900Z" fill="#68A96C"/>
<path d="M600 752 603.4 753.3 606.8 753.6 610 751 613.3 749.9 616.6 750.8 620 751.7 623.3 750.3 626.6 749.4 630.1 752.3 633.4 751.7 636.7 751.3 640.1 750.3 643.6 750.7 645.4 745 649.4 747.3 652.3 745.5 656.7 749.5 658.3 742.8 663.6 745.1 664.7 741.7 665.9 738.4 670.6 737.4 670.7 733.3 670.6 729.3 672.3 726.1 676.2 724.1 677.1 720.6 677.9 716.9 680.7 714.4 680.3 710.4 682.8 708.2 684.7 705.6 686.7 703 691.5 702 691.8 697.3 690.8 691.8 693.6 687 697.2 685.8 702.5 689.6 705.1 685.6 709 683.6 710.7 686.7 713.4 688.7 716.1 690.8 719.3 692.4 721.7 694.7 723.1 696.7 726.3 699.8 730.2 697 733.4 701.3 739.4 700.7 736.7 695.7 739.4 693.1 742 690.5 743.1 687.3 743.9 683.8 746.3 680.5 748.4 677.1 748.9 672.9 752.1 668 754.9 671.3 758.4 673.1 760.9 677.1 766.7 674.4 766.8 679.1 769.2 681.4 772.7 682.7 776.9 683.3 778.6 686.3 778.4 685.7 784.2 689.7 787.6 687.9 790.7 685.4 793.6 683.9 793.2 680.1 793.6 676.4 797 673.4 797 669.7 799.2 666.9 799 663.2 801.2 660.4 801.3 654.8 804.9 655.3 808.5 655.3 812.2 656.2 815.8 657.2 819.4 657.4 822.3 655.9 824.3 659.1 826.5 662.1 830.1 663.8 833.7 665.2 837.6 665.7 841.3 666.8 844.5 670.7 847.7 668.2 851.5 668.6 854.9 667.1 858.5 666.6 862.5 667.9 865.5 664.4 869.3 664.4 872.7 663.2 876.7 663.1 881 664.1 883.7 659 887.1 658.1 891.4 660.9 894.3 655.7 897.9 657.9 901.4 656.4 905 656.8 908.6 659.8 912.2 657.8 915.8 660.1 919.3 659.2 923 659.3 926.3 656.1 930.1 658.8 933.7 658.6 937.3 658.9 940.8 658.2 944 655 947.6 654.4 951.6 656.9 955.2 657 958.6 655.3 962.4 656.6 965.5 655.1 968.9 656.6 972.4 657.6 976.3 656.7 979.7 655.5 983.2 654.3 986.6 653 990.8 655.1 994.5 652.2 997.7 656.1 1001.3 656 1005.2 653.1 1008.5 655.7 1012.7 654.6 1015.3 659 1019.3 658.8 1023 659.2 1026.6 658.2 1030.2 658.5 1033.5 661.1 1036.8 662.5 1040.8 661.1 1044.7 660.6 1047.7 663.7 1050.6 667.9 1054.7 666 1058.2 667.1 1062.2 665.8 1065.5 666 1069.2 665.8 1072.9 665.5 1076.1 663 1080.4 664.8 1083 661.2 1087.7 661.6 1090.3 657.9 1094.4 657.3 1098.6 658.1 1101.2 653.8 1105.6 655.5 1109 654 1111.9 650.5 1115.2 648.8 1119.5 649.9 1123.3 649.1 1125.5 644.7 1130.1 644.9 1133 641.9 1135.7 637.7 1141.3 641.2 1144.1 637.9 1148.3 638.1 1151.3 635.1 1155.1 635.2 1158.3 633 1162.2 633.5 1165.8 633.5 1169.2 631 1172.6 629.8 1176.2 629.6 1180 631.5 1183.6 628 1187.2 631.5 1190.7 629.5 1194.3 631.1 1197.9 633.3 1201.4 631.8 1205 629.2 1208.6 633.4 1211.9 631.6 1215.1 632.6 1218.4 631.3 1221.7 631.3 1224.9 627.8 1228.2 632.8 1231.4 629.2 1234.7 633.1 1238 629.1 1241.3 633.2 1244.5 630.4 1247.7 628.7 1251 627.4 1254.3 631.8 1257.6 629.6 1260.8 629.8 1264.1 632.1 1267.4 630.6 1270.6 632.2 1273.9 629.9 1277.1 629.8 1280.4 631.1 1283.7 628.6 1286.9 628.7 1290.2 631.8 1293.5 630.7 1296.7 629.3 1300 630 1500 630 1500 900 600 900Z" fill="#8FD496"/>
<path d="M600 758 603.3 757.8 606.7 758.2 610.1 759.3 613.3 755.9 616.7 757 620.1 759 623.3 756.7 626.6 755.5 630.2 760.2 633.3 756.1 636.7 756.6 639.5 754.1 643.2 754.3 647.3 756 650.7 755.2 653.2 750.7 657.3 752.4 660 748.7 664.4 750.5 667.1 747.6 670.3 745.3 673.5 743.1 674.9 739.3 678.3 737 678.8 732.8 682.8 730.9 682.4 726.2 686.5 724.2 687.9 720.7 688.9 717 690.6 713.6 690.3 709.1 694.4 707.2 697 704.4 697.1 699.8 700.9 701.1 704.1 705 708.5 702.9 711.8 705 716.4 703.7 719.2 707.3 723.3 707.1 727.3 708.4 730.4 712.8 734.8 711.8 738.3 710.1 741.1 707.8 742.2 704 745.1 702.4 747.5 700 750.9 699.1 753.8 697.6 756.2 695 758.7 692.4 761.9 694.6 766.2 692.9 769.3 695.6 772.8 696.5 776 698.8 779.6 697.3 783.6 696.8 786.5 693.7 790.6 693.7 794.4 693.2 797.1 688.1 801.5 691.4 805.2 691.5 808.3 688.2 812.4 689.9 815.7 688 819 685.8 822.5 685.6 826.6 686.5 830.3 685.6 833.2 682.5 837.9 686.4 840.3 680.2 843.5 677.3 847.8 680.4 851.7 680.6 855.7 681.1 858.2 676.4 862.5 677.7 865.6 674.9 869 672.7 873.6 675.8 877.7 676.5 880.2 670.1 884.2 672.1 887.6 673.1 891.3 669.6 894.5 672.3 898.1 671 901.1 671 905.1 672.3 908.6 671.4 911.9 669.3 915.7 665.9 919.3 667.6 922.8 670.7 926.4 671 930 668.3 933.5 668.3 937.3 670.9 940.6 668.7 944.3 668.7 947.9 668.1 951.6 669 954.6 662.9 958.6 666.6 962.3 667.7 965 667.1 969.5 666.2 972.6 668.9 977.5 666.9 980.4 672.5 984.1 672 986.5 666.9 990.6 667.5 994.3 666.7 998.3 663.2 1001.3 668.7 1004.9 669.6 1008.6 668.5 1012.1 669.8 1015.5 672 1019.3 670 1022.9 671 1026.5 666.7 1030 669.7 1033.5 670.8 1037.3 668.9 1040.5 671.2 1044.6 669.4 1048.2 670.2 1051.2 673.8 1054.7 674.6 1058.7 673.3 1062.1 674.6 1065.9 676.6 1069.7 676.8 1073 674.8 1076.2 672.2 1079.4 671.2 1083.1 669.9 1087.8 671.4 1091.4 670.1 1094 666.2 1097.7 666.6 1100.9 665.7 1102.6 662.1 1106.5 662.7 1108.6 659.8 1112.4 659.3 1115.5 656.7 1119.8 658.1 1123.6 657.1 1126.4 653.9 1131.2 655.6 1134.7 654.1 1137.4 651.2 1140.4 647.5 1144.3 648.3 1148.1 649.2 1151.7 648.2 1155.4 648.1 1158.9 647.3 1162.1 644.4 1165.7 644.3 1169.3 643.6 1172.8 645.8 1176.4 646.1 1179.8 646.1 1183.6 643.8 1187.2 644.6 1190.6 646.7 1194.3 646 1197.6 646.9 1200.7 644.3 1203.8 643.5 1207.1 643.6 1210.4 646.3 1213.4 642.8 1216.8 645.7 1219.9 643.8 1223.2 644.6 1226.4 645.2 1229.5 642.2 1232.7 643.4 1236 644.3 1239.1 641.9 1242.4 644 1245.6 644.5 1248.7 642.1 1252 642.6 1255.1 641.2 1258.3 640.9 1261.5 641.4 1264.8 642.7 1268 642.5 1271.2 641 1274.3 639.2 1277.7 642.6 1280.8 641.1 1283.9 640 1287.3 641.9 1290.5 642.6 1293.6 640.6 1297 644 1300 640 1500 640 1500 900 600 900Z" fill="#B6FEC0"/>
<path d="M600 764 603.2 761.7 606.8 765.4 610 763.4 613.5 764.6 616.6 761.8 620 762.4 623.3 761.8 626.7 761.7 630.2 763.6 633.3 760.7 636.8 762.2 640.1 761.4 643.2 759.1 646.6 759.3 650.5 761.6 653.2 757.5 657.7 759.2 661.3 757.9 663.9 753.8 667.2 752.8 669 749 674.4 750.6 676.1 746.6 680.3 746.4 681.5 742.8 683.9 740.6 688 740.6 690.9 739.6 692.5 735.2 697.1 736.2 700 734.1 702.3 730.7 705.9 730.2 709.5 729.3 712.8 727.5 715.7 724.7 720.1 725.9 723.6 721.8 725.6 725.2 728.9 726.4 731.7 728.5 733.1 732.5 736.9 733.1 738.3 736.7 742.8 737.8 744 740.3 747.6 740.4 751.5 741.5 754.5 738.8 755.5 735.4 759.5 734.4 761.3 731.7 763.5 729.3 765.2 726.5 764.9 722 768.5 720.4 771.3 717.8 773.6 714.6 777.2 713.7 780.4 710.6 784 713.1 787.3 711.1 790.7 709.7 795.3 713 797 707.9 801.8 707.2 802.1 702.6 804.8 700 808.7 698 811.4 701.6 816.2 700 818 705.9 823.1 702.4 826.5 703.3 830.3 701.8 833.8 703 836.2 703.9 840.3 704.2 843.7 703.4 845.9 700.7 848.8 699.1 851.3 695.5 855 696.6 858.5 695.9 861.9 693.9 865.7 695.5 868.3 692.7 871.3 691.6 875.2 693.2 878.4 692.4 881.2 690.7 884.1 688 887.6 688.9 890.8 687.3 893.8 686.5 897.8 686.9 901.4 685.9 905 684.8 908.6 683.6 912.3 684.8 915.7 682.7 919.3 682.2 922.9 683.3 926.5 684.3 930 683.1 933.5 683.5 937.1 682.5 940.7 683 944.2 684 947.8 683.9 951.3 683.5 954.5 681.1 958.3 681.4 961.7 680 966 680.3 968.7 684 972.3 685.4 975.8 687 980.3 688.5 983.2 684.5 987.2 685.7 991.2 686.9 994.3 688.1 997.9 681.9 1001.5 685.4 1005 688.1 1008.2 685.9 1012 685.7 1015.6 686.1 1019.8 684.1 1023.1 687.9 1026.2 685 1029.6 683.6 1033.5 684.3 1037.4 687.4 1040.5 681.5 1044.1 682.1 1047.8 683 1051.4 682.9 1054.6 687.1 1058.5 684 1062 684.8 1065.7 685.9 1069.3 682.9 1072.8 686.2 1076.4 684.6 1080.2 684.8 1083.7 683.9 1087.1 682.5 1090.5 680.7 1094.5 681.6 1097.8 679.6 1102.1 679.9 1105.4 677.7 1107.2 672 1112.1 673.7 1115 670.7 1118.6 669.3 1122.7 668.9 1125.7 665.2 1130.3 669.7 1133.6 667.8 1137.1 665.3 1140.7 662.9 1144.2 664.1 1147.8 667.9 1150.9 666.3 1154.2 663 1159 660.2 1162.6 661.4 1164.2 660.3 1169.8 664 1172.4 660 1176 658.6 1180.1 660.2 1183.3 659.7 1186.5 658.1 1189.8 661.3 1192.9 656.5 1196.2 657.8 1199.5 659.8 1202.6 655.5 1205.9 655.2 1209.2 656.8 1212.4 656.7 1215.7 659 1219 659.1 1222.2 658.8 1225.4 656.7 1228.6 656.4 1231.9 656.1 1235.2 658.7 1238.4 657.2 1241.6 654.5 1244.8 655.5 1248.1 655.6 1251.3 654.2 1254.6 656.3 1257.8 655.3 1261.1 658.2 1264.3 654.6 1267.6 656.6 1270.8 655.7 1274.1 656.3 1277.2 653.6 1280.5 654 1283.8 656.7 1287 655.3 1290.4 658.6 1293.5 656.4 1296.8 655.4 1300 655 1500 655 1500 900 600 900Z" fill="#56C5B9"/>
<path d="M600 770 603.1 767.4 606.7 770.1 610.1 770.1 613.5 770.8 616.5 766.5 620.1 769.5 623.2 766.2 626.9 769.4 630 766.7 633.4 767.8 636.6 765.5 640.2 767.6 643.5 767.5 646.5 764.2 650.1 766.4 653.3 763.9 656.9 766.4 658.8 760.7 662.8 761.3 665.9 759.6 670 760.6 673.3 759.2 676.1 756.7 679.7 756.3 682.7 754 686.2 753.2 689.3 751.3 693.8 752.7 696 748.7 698.6 745.5 702.9 746.7 705.9 744.5 709.2 743 714.1 745.6 716.6 742.2 720.2 740 723.2 741.4 726.8 740.4 729.1 745.2 732.7 743.7 736.2 742.7 739.2 744.5 741.8 747.8 745.2 747.5 748.5 745.8 752.1 747.9 755.8 750.4 759 748.3 762.1 744.3 766.2 747.2 768.7 744.4 772 744.1 774.6 742 777.7 741 779.7 736.8 784.3 740.3 786.3 737.5 787.7 733.3 793.2 735.2 796.6 733.9 798.4 730.4 801.8 730.5 804.7 726.6 808.8 728.2 812 725.9 815.9 726 818.9 723.1 823.5 723.4 826.9 721.4 829.1 716.8 832.2 715.9 836 716.1 839.5 715.7 840.6 711 844.2 710.2 848 710.9 851.7 711.2 854.6 706.9 858.5 708.2 861.9 706.5 865.7 706.7 868.9 704.3 873.1 706.6 876.8 706.7 879.8 703.1 883.1 701.2 887.1 702.5 890.5 700.7 894.3 701.8 898.1 702.7 901.7 702.6 905.1 701.2 908.5 698.6 911.8 695.4 915.8 699.6 919.2 697.6 922.6 699.6 925.8 702.3 930.3 698.5 933.4 701.4 937.5 699.3 940.8 701.6 945 706.3 948.1 703 951.7 702.6 955.3 702 958.1 697.6 962.3 699.6 965.9 699.9 969.2 697.3 972.8 696.7 976.3 695.7 980.1 697.2 983.2 694.1 987.3 696.2 990.7 694.7 994.4 692.9 997.8 694.8 1001.5 694.7 1005.2 693.7 1008.8 694.4 1012.5 694.7 1016.1 695 1019.2 698.4 1023.3 700.3 1026.1 696 1029.8 696.1 1033.8 697.6 1037.4 698 1040.7 694.9 1044.4 696.5 1047.9 695.6 1051.5 692.4 1054.9 695.2 1058.7 692.5 1062.1 694.9 1065.8 694.3 1069.4 694 1073 695.8 1077.3 697.5 1080.3 694.5 1083.5 692.3 1087.4 692.4 1090.2 688.8 1094.7 690.7 1098.6 690 1101.4 686.6 1105.3 686 1109.4 686.1 1112.2 682.7 1115.6 680.7 1118.8 678.5 1123 678.6 1126.4 677.2 1130.1 677.4 1133.6 676.4 1137.2 674.6 1140.4 678.5 1144.4 674.5 1147.7 678.1 1152 675.9 1153.6 679.8 1158.3 678.3 1160 683.5 1163.3 682.4 1166.5 679.4 1169.8 682.5 1173 680.1 1176.3 681.4 1179.5 680.7 1182.8 683.8 1186 682.8 1189.3 682.8 1192.6 683.4 1195.8 679.9 1199.1 682 1202.3 679.9 1205.6 682.6 1208.8 682.5 1212.1 680.8 1215.3 681.7 1218.6 684.1 1221.9 678.6 1225.1 683.7 1228.4 679.9 1231.6 683.8 1234.9 683.7 1238.1 680 1241.4 679.9 1244.7 681.3 1247.9 682.8 1251.2 681 1254.4 681.1 1257.7 681.8 1260.9 682.1 1264.2 678.7 1267.4 680.7 1270.7 680.5 1274 683.1 1277.2 682.3 1280.5 683.7 1283.7 680.6 1287 679.8 1290.2 683.2 1293.5 682.7 1296.7 681.4 1300 682 1500 682 1500 900 600 900Z" fill="#73D5C6"/>
<path d="M600 775 603.4 776.4 606.1 770.9 609.9 775.1 613.2 775.7 616.3 773.9 619.5 772.8 622.4 769.4 626.2 773.8 629.5 773.9 632.6 772.3 635.9 772.8 639.2 772.4 642.4 771.7 645.6 771.4 648.9 770.7 652.1 769.9 655.4 770.8 658.5 769.1 661.9 769.8 664.8 767.5 668.3 766.7 671.2 764.4 675.7 766.4 678.8 764.8 682 763.1 684.8 760.2 688.4 760.7 691.2 758.5 694.6 758.4 696.7 753.6 701.2 757.3 703.7 754 707.8 756.6 710.2 752.8 713.5 752.3 716.6 751 720.4 748.1 723.4 750.1 726.7 749.9 729.5 753.6 732.7 754.1 736.1 753.1 739.4 752.5 742.4 754.3 745.8 756 749 753.2 752.3 753.1 755.6 751.9 758.8 749.5 762.5 754.8 765.7 753 768.7 751.8 771.3 749.3 775.3 751 778.5 750.6 779.7 743.8 784.3 747.4 787.2 746 790.3 744.9 792.6 741.5 796.8 743.3 800.1 742.7 801.8 738 804.7 736.3 809.3 738.9 811.6 734.1 816.4 735.9 819.9 734.1 822.4 729.6 827 732.5 828.9 725.3 833.8 729.1 836.8 726.3 840.8 726.8 844.5 726.3 847.1 724 850.8 724.7 853.2 721.8 855.9 719.9 859.4 720.1 863.2 721.4 865.9 720 868.7 716.9 872.2 718.1 875.2 716.1 878.5 716.4 882 717.3 884.6 713.2 888.2 714.6 891.5 715.7 895 716.3 898.3 712.8 901.9 714.3 905.4 712.9 908.9 714 912.4 713.6 915.9 713.5 919.2 708.7 922.7 712.3 926.5 713 929.1 710 933.1 711.5 935.8 710.2 939.4 708.3 943.3 710.2 946.9 708.9 950.6 707.6 954.3 707.6 958 708.6 961.7 707 965.3 708.2 969 708 972.7 709.1 976.3 710.3 980 707.5 983.6 707.2 987.2 707.7 990.8 707.7 994.3 706.3 997.7 704.4 1001.4 706 1004.6 707.3 1007.9 706.1 1011.1 707.8 1014.4 704.8 1017.7 704.4 1021 704.1 1024.1 707 1027.4 705.6 1030.7 704.8 1033.8 707.7 1037 704 1040.4 708.5 1043.4 702.3 1047 709.2 1050.1 704.9 1053.4 705.7 1056.5 703 1059.8 704.2 1063.1 704.6 1066.4 706.1 1069.6 704.1 1073.2 707.9 1076.6 706 1080.3 706.6 1083.7 704.8 1086.9 701.6 1090.5 701.1 1094.4 703 1097.9 704.9 1100.5 700.9 1104 702.1 1107 700.6 1110.4 701.9 1113.5 700.3 1116.7 700.1 1120 700.8 1122.9 698.2 1127.6 699.8 1130 695.5 1133.3 693.3 1136.8 693.3 1140.2 695.3 1143.7 697 1147.4 697.9 1151.7 696.9 1156.2 696.7 1160 699.1 1163.3 700.4 1166.5 700 1169.8 699.2 1173 700.9 1176.3 700.1 1179.5 699.2 1182.8 699.7 1186 700.4 1189.3 704 1192.6 701.1 1195.8 697.9 1199.1 700.3 1202.3 701.9 1205.6 697.9 1208.8 699.8 1212.1 699.7 1215.3 698.5 1218.6 698.8 1221.9 700 1225.1 703 1228.4 700.3 1231.6 698.2 1234.9 698.7 1238.1 701.4 1241.4 701.1 1244.7 701.2 1247.9 698.6 1251.2 700.3 1254.4 698.6 1257.7 700.2 1260.9 700.6 1264.2 698.9 1267.4 700.7 1270.7 701.2 1274 699.9 1277.2 700.3 1280.5 700.8 1283.7 699.4 1287 700.5 1290.2 703.8 1293.5 701.9 1296.7 698.1 1300 700 1500 700 1500 900 600 900Z" fill="#8FE6D3"/>
<path d="M600 780 603.4 781 606.7 781.1 609.7 779.4 612.8 778.2 615.9 776.7 619.3 777.8 622.5 777.3 625.6 775.8 628.7 774.6 632.2 776 635.5 776.7 638.7 775.7 641.8 774.4 645 773.8 648.2 773.2 651.6 774.1 654.6 772.3 657.9 772.9 661.2 773 664.2 770.7 667.7 772.2 670.7 770.2 673.8 769.5 677.4 771.7 680.1 767.5 683.7 769.9 686.5 766.4 689.8 766.5 693.1 766.5 696.3 765.2 699.8 766.9 703.1 767 706.3 766.1 709.7 767.7 712.8 765.7 716.1 765.8 719.2 764 722.7 765.5 725.7 762.7 729.1 763.9 732.5 764.4 735.5 762 738.7 761.3 742 761 745.5 763.1 748 757.6 751.7 758.9 755.5 760.9 759.3 762.3 762.2 758.4 765.6 758.3 769.4 758.1 772.3 754.7 776.2 755.2 779.5 752.9 782.6 750.4 787 752.7 790.2 750.2 794.2 750.9 797.8 749.7 801.3 748.6 804.9 747.7 808.9 748 811.6 744.2 815.8 744.3 819.1 742.3 823.3 745.1 826.3 740 829.8 739.1 833.8 742.4 837.5 741.3 840 736.6 844.2 737.7 847.3 735.1 851.1 735.2 856.5 737 858.6 732.2 862.5 731.2 865.7 728.4 868.8 727 871.9 725.9 875.1 725.4 878.6 728 881.9 728 885 726.3 888.2 725.9 891.7 722 894.9 725.1 898.4 725.2 901.7 726.6 905.2 726 908.4 725.8 911.6 725.8 914.4 722.3 917.8 723.6 921.2 725 924.4 724.3 927.7 725.1 930.9 725.1 934.2 724.9 937.2 724.5 940.6 721 944.1 720.3 948 724.9 951.5 723.2 955.1 722.9 958.8 723.2 962.1 720.2 965.5 718.3 969.2 719.4 972.7 718.1 976.6 720.5 980.1 718 983.1 720.5 987.3 716.2 990.7 716.4 992.7 724.7 996.7 721.3 1000 721.2 1003.3 720.7 1006.7 721.1 1010 722.9 1013.3 720.4 1016.7 720.7 1020 723.1 1023.6 718.2 1027.1 723.1 1030.7 721.4 1034.3 720 1037.9 718.5 1041.4 720.5 1044.1 725.7 1047.9 724.7 1052.2 722 1054.8 726.1 1058.3 726.4 1062.4 727.1 1066 727.4 1068.1 722.6 1071.1 720.9 1074.9 721.6 1079.2 722.6 1082 718.2 1086.7 720.7 1090 717.8 1093.3 717.8 1096.7 714.5 1100 716.9 1103.3 716.8 1106.7 717.3 1110 718.8 1113.3 717.8 1116.7 719.2 1120.1 718.7 1123.4 717.7 1126.8 719.3 1130.2 718.9 1133.1 714.8 1136.6 715.7 1139.9 714.8 1143.2 713.9 1146.7 715.5 1150 712.9 1153.3 718.3 1156.5 714.1 1159.8 716.1 1163.1 716.5 1166.3 714.9 1169.6 716.4 1172.8 714.9 1176.1 716.8 1179.4 716.9 1182.6 713.4 1185.9 712.9 1189.1 713.1 1192.4 715.3 1195.7 715.8 1198.9 714.3 1202.2 716.7 1205.4 716.4 1208.7 715.9 1212 718.4 1215.2 714.6 1218.5 713.7 1221.7 712.9 1225 716 1228.3 715.4 1231.5 713.4 1234.8 715.3 1238 713.4 1241.3 714.1 1244.6 714 1247.8 714.4 1251.1 714.2 1254.3 712.8 1257.6 713.3 1260.9 712.9 1264.1 716 1267.4 712.5 1270.6 713.9 1273.9 712.3 1277.2 715.1 1280.4 710.4 1283.7 713.6 1287 713.4 1290.2 715.3 1293.5 715.4 1296.8 716.6 1300 714 1500 714 1500 900 600 900Z" fill="#AAF6E0"/>
<path d="M740.3 790.1 739.5 786.5 743 784.3 743.5 781.2 743.8 777.9 744.4 774 747.6 772.1 751.4 771.4 754.2 769.9 755.4 766.5 758.9 765.8 761.7 763.6 764.5 761.6 768.4 761.8 771.4 759.6 774.5 761.1 777.8 759.1 780.7 762.3 784 760.9 787.1 760.7 790.4 762.7 793.8 762.6 797 761.1 799.5 758.9 802.8 758.4 806.1 757.9 808.6 755.4 812.5 758.4 815.9 756.6 819.3 754.4 822.5 752.9 826.1 752.1 830.4 753.5 833.2 750.1 838 750.7 840.7 748.1 842.1 744.4 843.5 740.4 846.7 739.5 850 738.8 851.6 733.7 855.6 733.6 859.4 734.2 862.4 737.8 866 738.9 868.7 741.2 872.3 743.3 876.7 745 877.1 748 876.5 751.1 876.6 754.1 875.4 757.2 878.4 760.2 877 763.2 875.1 766.3 877 769.3 874.8 772.4 875.8 775.4 875.6 778.4 876.5 781.5 876.8 784.5 877.2 787.5 875.7 790.6 876.3 793.6 877 796.7 875.4 799.7 878.6 802.7 878.4 805.8 877.4 808.8 876 811.9 876.4 814.9 876.5 817.9 877.3 821 876.3 824 876.2 827.1 874.8 830.1 877.9 833.1 877.4 836.2 876.9 839.2 876 842.3 876.5 845.3 875.1 848.3 878.3 851.4 877.2 854.4 873.6 857.5 877.3 860.5 876.7 863.5 876.3 866.6 876.8 869.6 877 872.6 876.1 875.7 874.6 878.7 875.8 881.8 875.2 884.8 876.5 887.8 874.4 890.9 875.3 893.9 876 897 876 898.5 873 898.7 870 900.3 866.9 901.3 863.9 898.9 860.9 899.7 857.9 900.3 854.8 900.6 851.8 898.6 848.8 899.1 845.8 900.7 842.8 899.7 839.7 901.5 836.7 899.5 833.7 900.1 830.7 899.1 827.6 899.4 824.6 898.7 821.6 898.8 818.6 898.8 815.6 898.5 812.5 901.2 809.5 900.3 806.5 901.3 803.5 896.9 800.4 898.8 797.4 900.7 794.4 898.9 791.4 901.1 788.4 899.3 785.3 899.2 782.3 899.9 779.3 899 776.3 899 773.2 900.3 770.2 900.4 767.2 898.6 764.2 901.1 761.2 898.4 758.1 899.8 755.1 898.6 752.1 899.1 749.1 900.2 746 897 743 899.4 739.8 900 737.6 896.9 740.5 893.9 738.8 890.8 740.2 887.8 739 884.7 740.4 881.7 740.1 878.6 739.5 875.6 738.8 872.5 738.5 869.4 740.7 866.4 739 863.3 740.8 860.3 740.4 857.2 739.4 854.2 739.7 851.1 741.9 848.1 741.5 845 739 841.9 740.8 838.9 737 835.8 738.5 832.8 743.2 829.7 741 826.7 738.4 823.6 740.3 820.6 741.5 817.5 739.7 814.4 740.4 811.4 739.4 808.3 741.3 805.3 740.9 802.2 739.3 799.2 740.4 796.1 740.5 793.1Z" fill="#8777AF"/>
<path d="M749.8 794.8 752.5 792.5 754.8 789.2 759.4 788.1 761.3 785.7 762.8 783 765.7 781.6 769.4 782.1 772.9 781.1 776.3 779.3 780.4 780.9 782.5 778.1 785.7 777.7 789.2 778.4 791.6 777.1 794.6 774.5 797.9 773.7 801 774.8 803.2 777 807.9 776 809 778.7 813.1 780.8 817 782.2 820.2 781.1 823.5 781.2 826.8 783 829.8 782 828.7 785 831.1 788.1 828.8 791.1 830.4 794.1 830.2 797.1 829.7 800.2 830.6 803.2 828.6 806.2 830.7 809.2 829.7 812.3 830.3 815.3 831.1 818.3 830.5 821.3 832.1 824.4 829.4 827.4 828.8 830.4 828.9 833.4 831.4 836.5 831.5 839.5 828.9 842.5 828.7 845.5 829.1 848.6 830.5 851.6 830.1 854.6 829.1 857.6 828.6 860.7 830.3 863.7 829.9 866.7 829.6 869.7 831.5 872.8 830.7 875.8 830.1 878.8 830.5 881.8 830.5 884.9 830.9 887.9 830.6 890.9 832.3 893.9 827.1 897 830 900.8 826.9 900.7 823.8 901.4 820.8 900.1 817.7 900 814.6 901.1 811.5 901 808.5 900.9 805.4 899.8 802.3 898.7 799.2 901.5 796.2 899.4 793.1 899.3 790 901.2 786.9 898.7 783.8 899.1 780.8 900.6 777.7 899.3 774.6 899.5 771.5 900.6 768.5 899 765.4 899.8 762.3 901.6 759.2 898.4 756.2 901.4 753.1 901 748.9 900 750.4 897 749.6 894 750.1 891 748.7 888 749.9 885 748.7 882 751.2 879 751.6 876 751.2 873 751.2 870 748.6 867 750.1 864 750 861 749.1 858 747.2 855 751 852 750.8 849 750.1 846 748.6 843 748.9 840 752.6 837 748.7 834 749 831 750.5 828 749.6 825 750 822 749.2 819 749.4 816 750.6 813 749.3 810 750.5 807 749.8 804 751.2 801 748.9 798Z" fill="#B0A4CC"/>
<path d="M771.1 836.1 772.6 832.6 774.6 828.1 778.3 828.9 782 829.4 785.8 830.7 789.6 827.3 787.8 823.2 791.9 820.8 791.5 817.2 794.5 815.1 796.2 812.1 797.1 809.3 801.4 808.2 804.7 809.6 808 812 811.4 813.6 814.8 813.8 818.2 814.4 821.7 813.7 826.6 815 823.6 818 823.6 821.1 826.4 824.1 823.6 827.1 823.6 830.2 825.8 833.2 824.3 836.2 825.1 839.3 825.8 842.3 826.4 845.4 826.5 848.4 825.6 851.4 824.6 854.5 825.3 857.5 824.5 860.5 825.6 863.6 825.1 866.6 825.2 869.6 824.9 872.7 825.4 875.7 825.1 878.8 824.4 881.8 825.8 884.8 823.7 887.9 823.7 890.9 826.5 893.9 824.4 897 825 899.5 821.9 902.6 818.9 899.6 815.8 898.6 812.8 899.8 809.7 901.6 806.7 900 803.6 899.6 800.6 900 797.5 899.4 794.4 900 791.4 900 788.3 900.6 785.3 899.5 782.2 901.6 779.2 900.6 776.1 901.6 773.1 899.7 771.1 900 770.7 896.9 770.7 893.8 769.9 890.7 768.9 887.6 770.1 884.5 769.2 881.4 770.9 878.3 770.6 875.2 771.2 872.1 769.5 869 769.7 866 769.9 862.9 770.7 859.8 770.5 856.7 768.7 853.6 768.4 850.5 770.6 847.4 769.6 844.3 769.7 841.2 769.8 838.1Z" fill="#D9D1E9"/>
<path d="M944.8 759.2 947.2 756.5 950.5 755.3 954 752.5 957.9 750.7 961.5 751.4 964.7 749.8 968.1 749.6 971.3 748 974.9 749 977.7 747.5 981.4 750.3 986.9 750.4 987.8 754.2 989.5 757.4 991.5 759.6 990.3 763.2 986.2 764.3 985.2 766.4 982 766.4 978.9 766.3 975.5 768.1 972.4 767 969.5 764.9 966.2 766.5 963.3 764.2 960.5 763.5 956.8 762.8 952.7 763.5 949 762.6Z" fill="#8777AF"/>
<path d="M1109.4 774 1113.3 774.3 1114.9 770.9 1117.6 769.5 1120 767.2 1122.3 764.6 1127.6 765.7 1128.2 761.1 1131 759 1134.9 758.4 1137.2 754.6 1139.8 756.3 1142.8 757.2 1145.2 759 1149.4 760.1 1152.4 757.4 1156.4 755.5 1160 757.9 1164.3 761.2 1167.5 757.5 1171.1 756.1 1175 756.2 1178.1 758 1181.2 755.6 1184.4 758.3 1187.5 755.2 1190.6 758 1193.8 754.9 1196.9 756.7 1201.6 757 1199.8 760 1197.3 763.1 1202.8 766.1 1199.6 769.2 1200.9 772.2 1202.9 775.3 1201.4 778.3 1200.7 781.3 1200.3 784.4 1199.2 787.4 1201.1 790.5 1200.4 793.5 1199.6 796.6 1199.4 799.6 1201.3 802.6 1200.8 805.7 1200.7 808.7 1199 811.8 1201.3 814.8 1200.5 817.9 1199.5 820.9 1199.7 823.9 1200.6 827 1199.3 830 1199.5 833.1 1201.5 836.1 1200.6 839.1 1198.9 842.2 1200.8 845.2 1201 848.3 1201.5 851.3 1198.5 854.4 1199 857.4 1201.3 860.4 1201.4 863.5 1200.1 866.5 1198.7 869.6 1201.5 872.6 1201.1 875.7 1200.6 878.7 1200 881.7 1201.3 884.8 1200.9 887.8 1200.2 890.9 1201 893.9 1199.6 897 1200 899.6 1197 901.8 1194 899.2 1191 898.6 1188 899.9 1185 899.8 1182 899.2 1179 901.2 1176 900.9 1173 898.8 1170 900.5 1167 900.5 1164 900.2 1161 899.2 1158 901.1 1155 900.5 1152 899.8 1149 898.9 1146 900.5 1143 898.4 1140 898.6 1137 900.5 1134 899.1 1131 899 1128 901 1125 898.4 1122 898.4 1119 898.4 1116 898.8 1113 900.3 1111.9 900 1108.8 897 1111.3 893.9 1111.2 890.9 1110.3 887.8 1108.5 884.8 1109.3 881.7 1109 878.7 1109.4 875.6 1109.1 872.6 1110 869.5 1111.3 866.5 1108.6 863.4 1110.7 860.4 1109.4 857.3 1109.9 854.3 1108.6 851.2 1108.9 848.2 1111.2 845.1 1111.2 842.1 1113 839 1109 836 1108.5 832.9 1110.3 829.9 1108.5 826.8 1109.6 823.8 1109.7 820.7 1110.6 817.7 1109.2 814.6 1110.4 811.6 1110.8 808.5 1111.2 805.5 1107.3 802.4 1109.3 799.4 1106.8 796.3 1109.1 793.3 1110.7 790.2 1108.6 787.2 1113.1 784.1 1110.4 781.1 1110.9 778Z" fill="#8777AF"/>
<path d="M1109.5 789.1 1114.2 788.4 1117.8 785 1121.7 785.7 1125.3 784.9 1128.8 784.3 1132.5 784 1136 783 1138.3 780.2 1139.1 777 1140.7 774.3 1143.5 773.3 1146.9 772.6 1149.8 769.5 1153.5 769.8 1157.1 769.8 1159.4 768.8 1162.9 769.9 1165.5 770.7 1169.1 772.2 1172.8 773.7 1176.4 774.7 1180 773 1183.3 770.9 1186.7 773.5 1190 772.3 1193.3 770.9 1196.7 773.2 1200.2 772 1198.7 775 1197.2 778.1 1199.8 781.1 1199.3 784.2 1200.7 787.2 1199.8 790.3 1198.7 793.3 1200.1 796.4 1201.1 799.4 1197 802.5 1201.5 805.5 1200 808.6 1198.6 811.6 1200.2 814.7 1200.6 817.7 1199.5 820.8 1200.6 823.8 1201.4 826.9 1198.4 829.9 1199.4 833 1199.5 836 1199 839 1198.3 842.1 1200.2 845.1 1200.1 848.2 1199.9 851.2 1198.8 854.3 1200.8 857.3 1199.1 860.4 1201.5 863.4 1202.9 866.5 1200.2 869.5 1200.2 872.6 1200.7 875.6 1201.1 878.7 1199.1 881.7 1201 884.8 1199.2 887.8 1200.1 890.9 1201.4 893.9 1201.4 897 1200 901 1197 899.8 1194 899.8 1191 901.4 1188 900.4 1185 901.3 1182 900.1 1179 900.6 1176 899.8 1173 900.7 1170 898.7 1167 900.4 1164 900.5 1161 899 1158 900.6 1155 899.3 1152 898.7 1149 899.3 1146 898.5 1143 899.4 1140 898.7 1137 897.1 1134 901.1 1131 899.5 1128 901.2 1125 901 1122 901.6 1119 898.8 1116 900.7 1113 901 1110.8 900 1108.6 896.9 1109.6 893.9 1111.3 890.8 1111.1 887.8 1111 884.7 1109 881.7 1111.6 878.6 1110.5 875.6 1110.1 872.5 1111.2 869.4 1109.5 866.4 1108.9 863.3 1110.5 860.3 1108.5 857.2 1110.5 854.2 1109.3 851.1 1110 848.1 1111.1 845 1108.7 841.9 1110 838.9 1109.6 835.8 1111 832.8 1109 829.7 1109 826.7 1109.1 823.6 1110.7 820.6 1108.5 817.5 1110.6 814.4 1109.6 811.4 1111.3 808.3 1110.1 805.3 1107.3 802.2 1109.5 799.2 1109.6 796.1 1110.8 793.1Z" fill="#B0A4CC"/>
<path d="M1130.1 821.8 1133.3 822.1 1136.3 823.1 1139.2 824.7 1141 828 1143.4 830.3 1148.1 831.7 1152 829.3 1156.2 827.2 1158.7 825 1161.2 822.7 1159.8 818 1163 817.3 1165.9 816.2 1167.9 813.4 1170.5 811.5 1174.3 812.4 1177.1 810.4 1180.3 811.2 1183.5 809.1 1186.8 810.4 1190 810 1191.8 812.8 1190.4 816 1192.1 818.9 1190.6 822.1 1190.4 825.1 1190.9 828.1 1192.2 831 1193.8 833.9 1191 837.2 1192.9 840.1 1193.4 843 1193.4 846.1 1195.3 848.9 1194.2 852.1 1194 855.1 1193.8 858.2 1196 861 1196.7 863.9 1197.9 866.8 1196.5 870 1196.4 873.1 1196 876.1 1196.2 879.2 1199.4 881.8 1197 885.1 1198.7 888 1199.4 891 1199.5 894 1199.8 897 1200 899.1 1197 900.8 1193.9 901.2 1190.9 901.3 1187.8 900.4 1184.8 899.5 1181.7 900 1178.7 901.5 1175.7 900 1172.6 900.2 1169.6 899.6 1166.5 899.6 1163.5 900.1 1160.4 899 1157.4 897.7 1154.3 899.6 1151.3 899.4 1148.3 899.3 1145.2 900.2 1142.2 900.4 1139.1 899.3 1136.1 900.8 1133 900.7 1127.1 900 1130.7 897 1129.4 894 1129.7 891 1129.5 888 1130.2 885 1129.9 882 1128.6 879 1128.8 876 1128.1 873 1131.3 870 1129.3 867 1131.5 864 1128.7 861 1131.6 858 1129.9 855 1128.9 852 1130.3 849 1130.9 846 1130.5 843 1129.2 840 1129.2 837 1128.8 834 1131.2 831 1130 828 1126.9 825Z" fill="#D9D1E9"/>
<path d="M837 351 840.3 351.7 843.6 351.4 846.9 351.6 849.3 350.5 852.7 351.9 853.2 355.7 855.4 358 857.8 360 857.2 362.9 856.1 365.9 856 368.9 856.6 372 856.2 375 856 378.1 852.4 379 848.5 377.4 845.7 378.5 843.3 375.5 839.8 373.4 838 370 839.1 366.8 837.2 363.7 838.1 360.5 836 357.4 835.7 354.2Z" fill="#FDD98F"/>
<path d="M900.9 364.2 903.2 361.3 906.1 359.8 908.9 358.1 912.9 359.5 914.9 357 918 356.3 920.9 357.7 924 357.1 926.9 358.6 930.8 357.1 933.3 359.9 933.5 365.2 937.6 366.2 941.7 368.2 940.5 371.2 938.5 373.8 938 376 934.7 376.9 931.4 376.1 928.1 377.6 925 380.8 921.5 376.9 918.3 378.5 915.4 376.8 911.1 379.2 908.1 377.4 905.6 374 902.5 373.9 902.2 370.9 897.9 368.5 899.2 365.2Z" fill="#FDD98F"/>
<path d="M952.5 384 952.6 385.3 951.7 386.8 949.3 386.5 946.1 388.7 946.3 385.5 942.9 386.3 942.5 384.6 941.8 381.5 944.2 380.9 946.8 381.7 949.5 380.2 950.8 382.3 953.9 383Z" fill="#FDD98F"/>
<path d="M763.4 352.2 764.3 353.6 762.1 353.3 761.4 355.6 758.6 355.5 756.7 354.9 755.3 353.1 755.8 352.4 755.4 352.5 756.6 349.3 758.8 347.6 761.5 348.6 762.7 349.1 765.4 351.1Z" fill="#FDD98F"/>
<path d="M753.6 367 755.8 368.8 753.5 369.6 751.3 370.4 748.4 371.1 746.3 370.1 744.2 367.7 745.1 367.4 745.4 365.5 746.7 364.7 749.1 364.7 750.9 364.8 753.3 364.7 753 366.2Z" fill="#FDD98F"/>
<path d="M708 347.8 711.5 347.3 714.8 345.5 718.4 345.8 721.7 345.3 725.7 345.4 728.4 342.7 732.1 342.3 735.5 340.6 737.8 338.5 739.7 336 740.6 334.7 744.6 338.7 740.9 339.9 738.4 342.4 736 345.1 732.4 346.1 728.8 347 725.3 348.3 721.9 349.2 718.8 350.9 715.6 351.5 712.4 352.2 708.2 352.2Z" fill="#9A8B0C"/>
<path d="M678.9 422.5 682.6 423.2 686.4 423.1 689.9 424.2 693.7 425.4 696.4 428.4 699.4 429.8 699 433.1 695.5 431.7 692.1 430.1 689.1 427.6 685.8 426.8 682.2 427.5 678.8 426Z" fill="#9A8B0C"/>
<path d="M625.8 693.3 629 691.3 632.6 690.6 636.1 689.6 641.6 688.1 643.5 690.7 645.8 692.8 647.2 696 650 697.5 652.7 699.6 654.1 702.4 654 706.2 657.5 707.7 658.2 711 657.7 715 662.5 715.8 663.3 718.8 664.5 721.6 666.3 724.1 667.5 726.9 667.4 729.3 665 731.5 663 734.4 659 736.7 659.3 732.3 656.4 730.1 652.7 728.5 652 724.8 649.5 722.4 650.1 717.7 645.9 716.5 642.6 714.6 640.9 711.6 641.2 706.8 638.2 705.1 634.6 704.1 632.8 701.2 630.3 699 625.9 698.8Z" fill="#175417"/>
<path d="M670.8 722.1 669.1 723.7 668.8 725.8 668.4 727.8 667.7 725.7 667.5 725.4 667.1 723.8 664.6 721.6 667.1 720.2 665.7 716.9 667.3 716 668 716.1 670.7 717.2 669.2 720.1Z" fill="#CCFF00"/>
<path d="M656.8 706 657.7 709.3 655.5 708.4 655.3 709.6 655.6 709.6 654.9 708.6 654 708.2 654.6 706.1 652.9 704.5 653.7 702.1 655 701.6 655.8 701.2 653.7 703.1 655 705.1Z" fill="#CCFF00"/>
<path d="M686.1 699.5 681.5 702.4 681.8 705.4 677.8 709.4 676.7 706.6 674.8 703.9 671.5 704.5 669.4 702.5 667.2 700.2 664.3 700.1 666.2 696.4 668.7 693.1 670.9 691.8 674 689.9 675.2 692.9 677.8 694.2 680.6 693.1 684.4 692 686.1 696.1Z" fill="#68A96C"/>
<path d="M904.5 546.8 907.4 545.5 909.4 542.8 911.9 539.5 915.4 541.5 918.7 540.6 921.4 540.4 923.5 543.3 924.2 544.2 924.4 550.4 920.1 553.3 917 552 914 552.6 910.8 550.9 906.8 553.7 903.8 550.8Z" fill="#FFFF00"/>
<path d="M790.2 522.5 789 523.7 787.9 523.6 786.7 525.1 784.7 525.2 784.4 522.9 781.7 523.3 782.3 521.6 783.9 521.4 784.8 520.9 785.5 519.3 787.1 519 787.2 521.7 789.8 520.3Z" fill="#52CE0F"/>
<path d="M718.2 700.6 721.3 699.2 725.7 701.9 728.4 698.9 730.9 695.4 734.8 698.5 738.2 698.8 741.8 696.3 745 697.9 748.2 700.1 751.7 697.9 753.3 701.9 758.4 700.1 761.3 701.9 763.1 705.8 765.6 705.8 766.4 709 767.5 712.3 767.1 715.3 764 716.4 763.3 721 759.1 720.1 756.2 721.2 756 726.7 751.8 722.9 748.8 730 745.2 726.2 741.6 723 738.3 724.8 734.5 728 731.8 725.2 728.8 723 725.8 720.7 721.9 720 722.1 716.9 719.4 714.3 721.4 710.8 721.2 707.7 717.3 705.3Z" fill="#8FD496"/>
<path d="M744.5 734 748.2 734 751.7 733.6 753 728.7 757.7 730.9 760.4 729.1 763.3 727.6 766.6 727 769.3 725.1 772.4 724.1 774.4 720.3 778.1 721.3 781.1 720.4 783.5 717.5 787 718.1 790.9 715.2 793.6 718.1 796.4 720.8 799.3 720.7 797.3 724.2 793.6 724.5 791.7 728.1 788 728.3 784.9 729.8 782.2 732 778.5 732.3 776.9 736.4 773.8 738 770.4 739.6 766.9 738.3 763.9 738.7 760.9 739.7 757.7 739.3 754.9 741 752.2 741.8 749.6 739.7 746.3 738.4Z" fill="#B6FEC0"/>
<path d="M1139.3 490.2 1142.3 489.1 1146.2 490.2 1148.3 486.7 1153.5 490.9 1155.9 488 1158 483.9 1160.9 481.6 1164 479.8 1168 478.4 1171 478.7 1174 478 1177 481.9 1180 481.8 1183 480.7 1186 481.6 1189 480 1192.8 479.8 1191.4 483.2 1193.8 485.9 1193.1 489.1 1193.3 492.2 1194.4 494.8 1193.8 498.3 1195.9 502.6 1191.8 505.1 1189.1 508 1190.2 512.2 1187 514 1185 517 1181.6 518.6 1179.9 521.8 1176 522.5 1174.1 526.2 1172 529.5 1168 531.1 1164.7 533.7 1161.3 529.5 1159.5 528.8 1155.6 527.9 1154.1 524.9 1152.9 521.8 1149 520.3 1148 517.3 1146.7 514.4 1147.8 510.7 1146.3 507.9 1143.8 505.5 1145.1 501.2 1143.4 498.2 1142.5 494.8Z" fill="#DDD900"/>
<path d="M1128.3 510.4 1131.1 508.8 1132.8 506 1135.9 504.8 1137.8 502.2 1139.7 498.9 1142.9 497.6 1146.8 498.4 1149.9 497 1151.2 500.6 1152.8 504.1 1151.2 507.2 1149 511 1146 513.7 1142.6 515.1 1139 515 1135.5 515.6 1132.4 515.7 1128.9 513.7Z" fill="#FFFF00"/>
<path d="M1147.3 547.6 1151.1 546 1151.6 542.6 1151.3 538.8 1156.3 537.9 1155.9 534 1158.4 531.5 1160.8 528.9 1161.1 525 1163.6 522.5 1164.7 518.9 1168.4 518 1170.8 516 1170.8 512 1174 510.7 1174.8 507.3 1179 506.9 1180 503.6 1182.4 501.7 1185 499.9 1187.1 497.6 1187.2 493.7 1190.7 492.6 1190.9 488.7 1193.7 486.9 1198.7 487.1 1197.7 482.2 1199.7 479.7 1202.6 478.3 1204.5 475.6 1207.1 473.9 1208.9 471.2 1212.3 470.4 1215.5 468.8 1218.3 466.4 1221.7 465 1224 462 1229 466.8 1225.1 467.7 1223.2 470.1 1221.6 472.9 1219.2 474.9 1216.7 476.9 1217.1 481.3 1213.8 482.6 1210.7 484.1 1209.3 487 1209.2 490.9 1205.2 492 1205.6 496.4 1202.9 498.5 1198.9 499.5 1198.1 503.1 1196.7 506.1 1194.5 508.6 1189.9 509.2 1190.2 513.5 1189 516.7 1184.7 517.9 1183.3 521.1 1182.2 524.6 1179 526.5 1175.8 528.1 1174.9 531.5 1173.7 534.6 1171.8 537 1169.9 539.5 1166.5 540.5 1165.7 544.7 1162.4 546.4 1160 549 1157.5 553.4 1154.8 550.3 1151.8 548.2Z" fill="#BCB206"/>
<path d="M1157.6 539.7 1160.5 537.6 1162.1 534.7 1163.2 531.5 1164.5 528.3 1167.5 526.4 1170.2 524 1173.2 521.8 1173.8 517.7 1177.8 516.4 1178.7 512.5 1182 510.9 1181 506 1184.5 504.6 1186.1 501.6 1188.9 499.7 1190.1 496.1 1191 492.3 1194.4 490.4 1197 488 1199.8 489.6 1201.8 489.2 1201.2 492.6 1198.5 494.5 1198.7 498.6 1196.9 501.2 1195 503.7 1192.3 506 1191.4 509.6 1187.7 511.2 1185.5 513.8 1184.5 517.3 1182 519.8 1180.8 523.2 1176.9 524.6 1175.8 528.1 1174.9 531.7 1171.3 532.7 1170.2 535.6 1168.3 537.9 1166.2 540.1 1165.1 542.8 1161.2 542.3Z" fill="#9A8B0C"/>
<path d="M1166.1 527.1 1168.9 524.6 1170.4 521.3 1170.9 517.3 1174.7 515.5 1176.1 512.8 1177 509.8 1179.6 508 1182 506 1183.8 503.8 1186.2 500.9 1187.9 497.3 1191 495 1193.6 497.7 1191.1 500.5 1189.2 503.9 1186.8 506.8 1184.9 509.2 1184.2 512.4 1180.7 513.5 1178.4 515.5 1177.2 518.4 1175.8 521.6 1174.2 524.7 1172.1 527.3 1170 530Z" fill="#FDD98F"/>
<path d="M1169.8 521.9 1171.2 519.1 1173.8 517.2 1175.4 514.6 1176.7 511.7 1179.2 509.2 1181.1 506.2 1184 504 1186.5 507.4 1185.2 510.5 1181.8 512.2 1179.7 514.7 1178.1 518.3 1175.5 521.1 1173.3 523.6Z" fill="#FDC270"/>
<path d="M1164.3 555.2 1167.3 553.3 1171.2 552.3 1173.1 549.2 1176.1 547.1 1178.2 544.3 1180.9 542.6 1182.3 539.5 1184.4 537.3 1187.9 536.6 1189.2 533.5 1190.9 530.9 1194.9 530.2 1196.7 527.3 1198.2 524.2 1200.4 521.7 1205.6 522.3 1205.7 517.7 1208.8 516.1 1210 512.6 1214.1 512.1 1216.1 509.4 1218.6 507.3 1220.3 504.4 1220.9 499.9 1226.5 501.9 1227.1 497.5 1230.8 494.9 1233 498.1 1230.8 501.1 1227.4 503 1226.1 506.9 1224 510 1223.6 514.3 1219.7 515 1218.1 518.1 1213.9 518.6 1214.3 523.6 1209.4 523.4 1208.8 527.4 1205.8 529.1 1204.2 532.2 1200 532.7 1198.3 535.7 1196.2 538.3 1193.8 540.2 1190.6 541.1 1189.3 544.4 1187.3 546.7 1183.8 547.4 1180.2 547.9 1180.2 552.8 1178.1 555 1175.7 557.1 1172.8 558.5 1169.1 561.1 1168.2 557.1Z" fill="#FFFF00"/>
<path d="M1171.5 547.4 1175.3 546.9 1176.3 543.3 1179.6 542.2 1181.7 539.7 1183.6 537.1 1186 535 1188.7 533.1 1190.9 530.6 1193.1 528.1 1195.3 525.6 1197.1 522.8 1199.8 520.8 1203.9 520.2 1204.1 515.8 1207.3 514.3 1209.8 512.2 1212 509.7 1214.5 506.1 1218.3 509.3 1214.9 510.7 1212.8 513.5 1211.6 517.1 1207.4 517.9 1206.8 521.9 1205.2 525.2 1201.3 526 1198.7 528.1 1197 531 1194.2 532.8 1192 535.4 1190.5 538.6 1186.8 539.8 1184.8 542.8 1181.5 544.5 1178.8 546.8 1177.2 549.4Z" fill="#DDD900"/>
<path d="M1195.4 521.5 1198.4 519.2 1200.7 516.2 1203 513.3 1205.5 510.5 1208.6 508.4 1210.6 505.1 1213.7 502.9 1216 500.1 1218.4 501.5 1216.9 504.3 1215.7 507.4 1212.5 508.8 1210.8 511.4 1208.8 513.9 1205.4 515.8 1204.2 519.7 1201.5 522.2 1198.1 525.9Z" fill="#BCB206"/>
<path d="M1092.6 602.4 1091.1 597.1 1095.9 595.9 1099.1 593.7 1101 591.2 1101.9 587.4 1104.3 585.4 1107.8 584.7 1108.8 581.1 1111.7 579.6 1113.5 576.7 1117.3 577 1119.9 575.3 1123.1 574.8 1125.6 572.8 1128.1 571.3 1129.1 567.4 1133 567.7 1136 566.8 1136.9 562.8 1141.8 564.8 1142.1 559.8 1144.5 557.8 1147.8 557.4 1149 553.8 1153 554.4 1155.6 553.3 1157.7 550.6 1160.9 550.3 1162.9 547.6 1166.5 546.4 1170.9 547.2 1172.4 552.6 1169.3 554.4 1165.6 555.3 1162.1 556.6 1159 558.8 1158.5 563.1 1154.1 562.7 1153.2 566.4 1150.5 568.1 1148.1 570.1 1146.5 572.8 1144.5 575.2 1140.9 576.2 1140 579.6 1138.2 582.3 1137.5 586.3 1131.7 584.2 1129.7 586.7 1127.6 589 1125.2 590.7 1122.7 593 1120.5 595.7 1117.6 597.4 1114.9 599.3 1111.9 600.6 1108.3 601.3 1104.7 601.9 1101.2 603 1098.3 604.4 1094.8 603.9Z" fill="#FFFF00"/>
<path d="M1103.1 593.1 1105.7 590.9 1108.4 588.8 1112 587.6 1113 583.8 1116.7 582.9 1119.5 581 1122 578.5 1124 575.4 1126.2 572.7 1130.6 573 1132.9 570.7 1135.4 568.8 1137.3 565.9 1140.4 564.9 1143.9 564.6 1145.9 561.8 1148.3 559.1 1152.2 558.9 1155.3 557.2 1157.9 555 1160.6 560 1157 560.9 1153.3 562 1150.4 564.2 1148.3 567.5 1144.8 568.5 1142 570.4 1139.9 573.4 1138.4 577.2 1134.7 577.7 1132.3 579.9 1127.4 579.4 1125.2 581.9 1124.4 585.8 1122 588 1118.4 588.5 1117.4 592.3 1114.2 593.2 1111.9 595.4 1109.9 598.1 1107.4 595.4Z" fill="#BCB206"/>
<path d="M1112.6 590.7 1115.1 588.4 1116.3 584.8 1119 582.7 1121.7 580.5 1124.8 578.8 1127.9 576.8 1131.2 575.2 1133.3 573.7 1137.4 576.5 1133.8 577.7 1131.9 581 1128.4 582.4 1125.5 584.4 1123.7 587.2 1120.6 588.5 1118 590.3 1117.1 591.5Z" fill="#FDD98F"/>
<path d="M1153.9 558.2 1155.6 560.2 1153.5 560.8 1152.5 562.2 1150.1 562.9 1147.9 564.9 1147.3 563.3 1144.7 564.2 1145.2 562.8 1144.6 559.7 1147.9 559.8 1149.7 557.9 1151.4 558.6 1152.8 559.2Z" fill="#FDD98F"/>
<path d="M1043.4 585.3 1045.4 583 1049.3 582.9 1052 581.3 1052.6 577.4 1055.8 576.4 1056.7 572.9 1059.6 570.9 1062.3 568.9 1066.1 570.4 1069.1 569.3 1072.2 568.7 1075.2 567.5 1078.1 565.9 1079.5 569.3 1081.5 571.2 1078.5 572.4 1076.1 574.7 1073.3 576.2 1071 578.7 1067.9 579.9 1065.2 581.7 1064.6 585.2 1062 587 1060.8 590 1058 591.7 1056.4 594.4 1053.4 595.7 1053.4 599.8 1051 601.7 1047.8 603.4 1044.2 600.9 1037.4 599.3 1040.7 596.4 1042.1 593 1042.7 589.4Z" fill="#7ADE0A"/>
<path d="M1055.3 613.8 1052.7 615.7 1051.4 616.9 1050.8 618.7 1049.7 615.4 1047.8 615.2 1048.4 612.8 1050.2 611.1 1050.8 608.1 1052.7 606.6 1053.7 608.4 1054.4 608.6 1057.5 609 1055.1 611.2Z" fill="#A3EE05"/>
<path d="M1171 416.7 1174.1 418.4 1177.1 417.2 1180.2 419.2 1183.2 419.3 1186.3 418.2 1189.3 417.8 1192.4 417.8 1195.4 418.7 1198.5 419.7 1201.6 418.7 1204.6 418.4 1207.7 420.5 1210.7 419.6 1213.8 418.5 1216.8 417.9 1219.9 419.7 1222.9 417.5 1226 420.5 1229.1 418.3 1232.1 417.9 1235.2 418.3 1238.2 419.2 1241.3 418 1244.3 420 1247.4 420.2 1250.4 417.6 1253.5 420.5 1256.6 418 1259.6 418.4 1262.7 419.6 1265.7 420 1268.8 420.2 1271.8 420.1 1274.9 418.1 1277.9 420.5 1278.3 419.8 1280.9 422.6 1283.1 425.5 1284.3 428.7 1285.2 432.2 1284.2 435.5 1281.7 437.7 1279.3 440 1277.6 442.9 1275.2 444.5 1271.3 444.8 1268.5 442.5 1265.2 441.4 1260.5 441.3 1259 437.9 1255.7 436.1 1254.5 431.3 1252.6 434.2 1250 436 1247.6 438.1 1244.5 439 1241.6 440.6 1239.4 443.6 1236.1 444.5 1232.4 444.4 1229.6 445.9 1226.9 447.6 1224.1 449.3 1221.3 450.9 1218.8 453.5 1214.9 452.3 1212.4 449.8 1208.9 450.9 1206.4 448.2 1202.9 449.3 1200.2 447.7 1197.6 445.2 1193.8 445.1 1191.2 442.7 1187.6 442.4 1184.4 442 1182 438.1 1178.8 437 1175.5 436.3 1171.3 436 1172.8 432.5 1172 429.2 1172 425.8 1171.5 422.4Z" fill="#FDD98F"/>
<path d="M1240.9 433 1244.1 433.1 1247.1 433.6 1249.4 434.3 1246.5 435.3 1244.1 437.8 1240.7 436.4 1238.3 438.5 1235.6 437.8 1232.9 437.5 1230.5 436.1 1227.8 438.9 1225.2 438.9 1222.9 436.1 1220.2 435.6 1217.7 438 1215.2 438.6 1212.7 438.6 1210.2 439 1208.1 437.7 1206 434.5 1203.4 434 1201 432.8 1198.6 431.5 1195.9 432.6 1198.4 431.8 1200.8 430.8 1203.2 429.9 1205.9 430.6 1209.4 429.7 1207.9 425.8 1210.4 426.7 1212.9 426.2 1215.4 426.8 1217.9 427.1 1220.6 425.9 1223.3 426.1 1225.3 429.6 1228.3 427 1231.3 426.6 1234.3 426.8 1237.3 427.4 1240 428.5 1242.8 428.5 1245.5 429.2 1248.2 428.7 1245.7 429.2 1243.5 430.5Z" fill="#FDC270"/>
<path d="M1189.7 475.8 1191.9 473.4 1193.9 470.9 1196.5 468.9 1198.3 466.3 1199.8 462.6 1202.5 460.1 1206.1 458.3 1208.1 455.1 1211.2 453.5 1212.7 450.1 1214.8 447.5 1218.1 445.8 1221.5 447.6 1219.2 450 1218.4 453.8 1215.3 455.5 1212.6 457.6 1209.9 460.2 1206.9 462.5 1205.6 466.4 1202.3 468.4 1201.4 471.8 1199 474 1196.1 475.8 1195.3 478.4Z" fill="#FDD98F"/>
<path d="M1218.8 456.6 1220.2 453.7 1221.7 450.7 1223.2 447.9 1226.1 446.1 1228.5 443.5 1230.5 440.5 1234.1 439.1 1236.4 435.3 1239.9 437.9 1238.5 441.3 1235 443.1 1233.4 446.4 1231.6 449.5 1228.1 451 1226.8 454.3 1224.3 456.6 1222.4 458.4Z" fill="#FDD98F"/>
<path d="M1235.5 461.5 1238.5 459.5 1241.3 457.3 1243.4 454.4 1245.5 451.3 1248.7 449.5 1252.2 448.4 1254.2 444.8 1257.3 444.7 1260.6 446.5 1258.7 449.8 1255.9 452 1252.4 453.3 1249.8 455.8 1247.8 458.5 1244.8 460.2 1242.2 462.4 1240.1 464.8Z" fill="#FDD98F"/>
<path d="M1237.9 421.1 1240.2 423.9 1241.4 427.4 1243.6 430.2 1245.4 433.7 1247.4 437.1 1249.8 439.6 1254 438 1251.2 435.1 1249.7 431.5 1248.1 427.9 1246.6 425.2 1244.3 422.9 1243.1 420.7Z" fill="#9A8B0C"/>
<path d="M1261.5 420.2 1263 423.5 1265.7 426.2 1266.1 429.9 1268.2 432.5 1270.4 435.1 1273.1 439.5 1276 435 1275.1 431.5 1271.9 429.7 1271.4 426.4 1268.2 423.6 1267 420.6Z" fill="#9A8B0C"/>
<path d="M1307.8 382.8 1311.2 380.7 1313.7 378.3 1315.3 382.7 1318.6 384.1 1321.5 387.1 1319.1 390.5 1321.5 393.5 1322.2 396.7 1322 400.2 1321.3 403.5 1319.6 406.6 1319.2 410 1318.1 413.2 1317.1 416.5 1318.8 420.1 1317.9 423.4 1318.9 426.8 1317.6 430.1 1316.8 433.3 1315.7 436.6 1316.6 440.6 1313 442.3 1310.6 445.2 1309.8 447.1 1305.9 444 1304.6 440.1 1305.8 436.9 1306.1 433.4 1307.4 430.2 1307.7 426.7 1307.5 423.2 1309.4 420 1309.8 416.7 1311.1 413.5 1309 409.9 1309.8 406.6 1310.9 403.4 1312.1 399.8 1311.4 396.4 1308.7 393.4 1308.7 389.9 1308.4 386.4Z" fill="#9A8B0C"/>
<path d="M1200.7 388 1204.4 387 1208.4 387.2 1211.7 387.9 1215 386.8 1217.8 388.1 1220.9 388 1223 387.7 1223.4 391.1 1222 392.9 1219 394.4 1216 393.9 1213 393.2 1210 391.7 1206 394.4 1202.7 393.9Z" fill="#9A8B0C"/>
<path d="M1244.7 390.4 1245.8 392.7 1244.2 393 1241.8 392.6 1237.9 394.6 1236.7 392.2 1234.9 392.3 1233.7 391 1234.3 390.6 1235.5 389.4 1237.9 388.6 1241.9 387.8 1243.2 389.9 1244.8 390.1Z" fill="#9A8B0C"/>
<path d="M1247.4 406.2 1248.6 409.7 1249.1 412 1246.7 411.2 1247.5 414 1244.6 413.1 1245 409.2 1245.2 406.1 1244.7 402.4 1246.5 401.5 1246 399.1 1247.5 398.8 1249 401.4 1249.4 403.3Z" fill="#9A8B0C"/>
<path d="M1256.5 404 1256.8 406 1257.1 409.4 1256.2 408 1256.6 409.2 1254.6 409.5 1253.5 406.9 1255 404 1256.2 401.9 1254.4 398.5 1255.2 399.2 1256.7 398.6 1255.8 400.2 1257.1 401Z" fill="#9A8B0C"/>
<path d="M1286 388.1 1286.3 390.1 1286.2 391.9 1284.6 393.1 1283.1 391.2 1280.7 392.8 1282.3 389.5 1280.7 388 1281.6 385.9 1281.4 383.2 1282.8 382.8 1285.4 382.2 1285.2 385.1 1288.3 385.4Z" fill="#9A8B0C"/>
<path d="M1300.4 345.7 1302.1 345.5 1301.1 346.5 1298.2 347.1 1295.4 348.8 1293.4 347 1291.7 346.4 1290.4 344.7 1291.9 345.1 1292.6 342.1 1295.5 340.5 1298.5 341.9 1301 343.7 1304.8 344.7Z" fill="#9A8B0C"/>
<path d="M1321.9 401.4 1325.4 401.8 1328.5 400 1331.6 400.2 1331.9 403.5 1335.8 405.5 1334.5 409.5 1335.8 411.7 1335.1 414.7 1336.3 418.2 1334.8 421 1334 424 1329.9 425.7 1325.8 428.2 1324.1 425 1320.7 423.2 1319.6 420.1 1318.8 416.9 1321.4 414.2 1319.7 410.9 1321.1 408 1321 404.9Z" fill="#FDD98F"/>
<path d="M1342.2 403.2 1345.3 401 1348.7 401 1350.7 400.5 1354.1 403 1355.7 406.3 1354.4 409.1 1355.1 414 1350.4 415.7 1349.8 420.3 1346.2 417.9 1344 414.9 1342.8 411.7 1342.2 408.5 1342.5 405.2Z" fill="#FDD98F"/>
<path d="M1341.7 385 1341.9 389.9 1340.8 391.3 1338.5 394.9 1337.5 393.4 1335.2 392.1 1334.3 389.2 1333.8 385 1334.1 380.1 1337.3 379.6 1339 374.3 1338.4 377.8 1339.5 378.9 1340 381.8Z" fill="#9A8B0C"/>
<path d="M1372.1 425 1372.1 427.4 1368.9 428.6 1366.6 430.5 1363.6 429.2 1362.8 429.2 1360.7 426.5 1360.6 424.6 1358.2 422.1 1361.2 420.6 1363.4 421 1367 419.9 1368.8 421.5 1370.4 423.4Z" fill="#FDD98F"/>
<defs>
<pattern id="mtn" width="64" height="64" patternUnits="userSpaceOnUse"><rect width="64" height="64" fill="#F5A3A3"/><path fill="#FD9A3C" d="M52 58.3h6.5l3.1 3.1v4.1l-3.1 3.1h-6.5l-3.1 -3.1v-4.1z"/><path fill="#FD9A3C" d="M3.3 27.8h6.8l3.4 3.4v4.6l-3.4 3.4h-6.8l-3.4 -3.4v-4.6z"/><path fill="#FD9A3C" d="M58.5 5.2h9.8l2.9 2.9v3.8l-2.9 2.9h-9.8l-2.9 -2.9v-3.8z"/><path fill="#FD9A3C" d="M34.8 34.7h7.2l2 2v2.7l-2 2h-7.2l-2 -2v-2.7z"/><path fill="#FD9A3C" d="M17.8 56.6h3.2l2 2v2.6l-2 2h-3.2l-2 -2v-2.6z"/><path fill="#FD9A3C" d="M50.9 6.9h10.2l1.8 1.8v2.4l-1.8 1.8h-10.2l-1.8 -1.8v-2.4z"/><path fill="#FD9A3C" d="M-0.1 53.8h9l1.8 1.8v2.4l-1.8 1.8h-9l-1.8 -1.8v-2.4z"/><path fill="#FDAC52" d="M62.4 53.8h3.4l1.5 1.5v2l-1.5 1.5h-3.4l-1.5 -1.5v-2z"/><path fill="#FDAC52" d="M34.6 41.4h2.8l2.1 2.1v4.6l-2.1 2.1h-2.8l-2.1 -2.1v-4.6z"/><path fill="#FDAC52" d="M44.1 59.9h2.6l1.9 1.9v4.8l-1.9 1.9h-2.6l-1.9 -1.9v-4.8z"/><path fill="#FDAC52" d="M22.8 8.6h8l1.6 1.6v2.2l-1.6 1.6h-8l-1.6 -1.6v-2.2z"/><path fill="#FDAC52" d="M18.6 36.6h3.4l1.3 1.3v1.7l-1.3 1.3h-3.4l-1.3 -1.3v-1.7z"/><path fill="#F4CCCC" d="M20.8 17.8h1.6l1.2 1.2v3.3l-1.2 1.2h-1.6l-1.2 -1.2v-3.3z"/><path fill="#F4CCCC" d="M19.7 28.8h4.3l1.5 1.5v2l-1.5 1.5h-4.3l-1.5 -1.5v-2z"/><path fill="#F4CCCC" d="M61.4 -0.5h4.9l1 1v1.3l-1 1h-4.9l-1 -1v-1.3z"/><path fill="#F4CCCC" d="M1.1 48.4h3.2l1.9 1.9v2.6l-1.9 1.9h-3.2l-1.9 -1.9v-2.6z"/><path fill="#F66666" d="M-0.1 1h1.8l1.3 1.3v2.6l-1.3 1.3h-1.8l-1.3 -1.3v-2.6z"/><path fill="#F66666" d="M11.7 46.4h1.5l1.1 1.1v4.6l-1.1 1.1h-1.5l-1.1 -1.1v-4.6z"/><path fill="#F66666" d="M22.1 20.7h2.7l2 2v2.7l-2 2h-2.7l-2 -2v-2.7z"/><path fill="#F66666" d="M6.4 45.9h2l1.5 1.5v3l-1.5 1.5h-2l-1.5 -1.5v-3z"/><path fill="#F83333" d="M57.8 5.7h2.9v1.1h-2.9zM3.5 56.9h2v1.9h-2zM29.7 45.2h3.1v2h-3.1zM40.7 46.7h2.7v2.5h-2.7zM21.4 39.4h2.4v2.8h-2.4zM17.2 57.8h1v2.2h-1zM9.7 61.7h1.5v1.6h-1.5zM44.5 61.6h2.5v1.1h-2.5zM3.4 9.3h1.1v2.6h-1.1zM35.5 45.7h2.1v2.3h-2.1zM33.7 30.6h1.5v1h-1.5zM14.1 42.5h2.4v3h-2.4zM12 9.8h2v1.2h-2zM20.8 52.9h2.3v1.7h-2.3zM22.7 1h1v2.7h-1zM31 35.2h1.3v1.8h-1.3zM16.2 18.3h1.3v2.7h-1.3zM45 31.4h2.5v1.7h-2.5zM40.7 23.5h1.5v2.8h-1.5z"/><path fill="#F4CCCC" d="M21 56.4h2.3v3h-2.3zM11.1 4.9h1.7v1.7h-1.7zM9.1 23.4h1.6v1.9h-1.6zM29.8 48h2.5v1.6h-2.5zM0 24.7h1.5v3h-1.5zM25.5 49.8h3.1v2.8h-3.1zM37.1 35.3h1.8v1.3h-1.8zM26.3 14.1h3v1.8h-3zM58.5 56.8h3.1v1.8h-3.1zM31 25.3h1.6v3.2h-1.6zM17.4 29.5h3.2v2.1h-3.2zM39.8 37.4h2.3v2h-2.3zM28.9 22.3h1.7v2.2h-1.7zM39 29.6h2.3v2.6h-2.3zM51.2 43.7h2.8v1.1h-2.8zM56.8 8.7h1.6v2.7h-1.6zM20.4 9.5h2.2v2.1h-2.2zM14.1 51.5h2.8v1.2h-2.8zM23.9 4.5h1.1v1.2h-1.1zM30.5 57.9h1.7v2.3h-1.7zM9.5 38.8h1.1v2.5h-1.1zM37.9 16.3h3v2.2h-3zM32.3 8.2h1.6v2.7h-1.6zM30 19.7h1.5v2.9h-1.5zM12.7 2.5h1.2v1.1h-1.2zM19 29.1h3.1v1.8h-3.1zM21.3 5.8h3.2v2.1h-3.2zM2.3 61.1h1.7v1.1h-1.7zM57.8 37h1.2v2.2h-1.2zM45.1 56.3h1.8v2.4h-1.8zM13.9 7.1h2v2.8h-2zM51.5 19.2h1.2v2.7h-1.2zM43.8 3h1.5v1.1h-1.5zM55 40.4h2.7v2.2h-2.7zM10.6 16.5h1.3v1.1h-1.3zM52.1 44.9h1v2.3h-1zM47.6 58.1h2v2h-2zM6.3 50.2h3.1v2.3h-3.1zM2.1 35.1h1.1v3.2h-1.1zM13.2 17.2h2.9v1.9h-2.9zM52.5 51.7h1.5v3.2h-1.5zM51.7 30.7h1.9v1.3h-1.9zM0.6 31.8h2.8v1.8h-2.8zM19.9 1.7h1.4v1.9h-1.4zM43.7 24.7h1.8v2h-1.8zM36.4 42.3h2.8v1.8h-2.8zM5.4 22.4h1.6v1.2h-1.6zM18.8 57.1h2.7v2.6h-2.7zM56 14.8h1.5v2.1h-1.5zM34.7 44h1.2v2.5h-1.2zM18.7 16.7h3v1.5h-3zM38.6 48h3v1.4h-3zM60.3 11.5h1.6v2.3h-1.6zM22.2 45.7h1.3v2.1h-1.3zM15 41.4h1.1v1.9h-1.1zM5.7 21.7h1.8v3.1h-1.8zM36.4 56h2.7v2h-2.7zM55.9 23.2h2.9v2.8h-2.9zM13.2 25.6h3.1v3.2h-3.1zM57.7 58.6h1.3v1.5h-1.3zM31.8 61.1h2.7v1.3h-2.7zM59.8 14.9h2.1v2.3h-2.1zM45.7 8.3h1.6v2.2h-1.6zM47.4 26.4h2.6v1h-2.6zM3.5 30.7h2.3v2.7h-2.3zM22.8 32.3h2.4v3h-2.4zM18.6 33.6h1.9v3h-1.9zM54.7 27.4h1.5v1.6h-1.5zM51.9 31.1h1v1.1h-1zM58.5 6.9h2.3v1.5h-2.3zM9 16.3h2.3v3h-2.3zM34.3 40.4h2.2v3h-2.2zM18 6.6h2.7v2.8h-2.7zM46.9 21.1h3.1v1.3h-3.1zM4 45h1.7v1.2h-1.7zM18.4 11.3h2.9v1.1h-2.9zM35.3 18.3h1.5v1.1h-1.5zM20.1 49.4h2.4v3h-2.4zM58.9 29.3h1.3v1.1h-1.3zM30.5 17.5h3v2.3h-3zM42.7 6.6h2.9v1.4h-2.9zM3.3 44.8h1.6v1.8h-1.6zM17.2 20.4h2.9v3h-2.9zM12.5 61.1h2.1v1.3h-2.1zM26.7 19h2.6v2.1h-2.6z"/><path fill="#F66666" d="M9.9 3h2.5v3.2h-2.5zM8.1 44.7h2.1v2.8h-2.1zM27.7 62.3h2.9v1.6h-2.9zM54.1 22.1h1.6v2.7h-1.6zM41.5 28.9h2.2v1.6h-2.2zM29.2 42.1h2.8v3.1h-2.8zM2.6 29.1h2.5v2.4h-2.5zM20 11.4h1.1v1.3h-1.1zM23.9 37.9h1.1v2h-1.1zM51.6 23.5h1.9v1.3h-1.9zM33.6 21.3h2.3v1.2h-2.3zM38.6 8.7h1.2v2.2h-1.2zM18.1 48.5h2.4v2h-2.4zM54.2 8.2h2.3v2.6h-2.3zM11.2 43.8h1.8v2.6h-1.8zM21.7 23.8h1.7v2.4h-1.7zM49.2 26.7h2.8v2.4h-2.8zM24.2 54.7h1.3v1.8h-1.3zM10.1 17.9h1.6v1.6h-1.6zM57.3 23.2h2.1v1.1h-2.1zM41.5 45.5h2.5v1.6h-2.5zM14.4 4.9h1.4v1.1h-1.4zM10 14.8h2.6v2.6h-2.6zM25.8 2.8h1.1v2.7h-1.1zM57.1 3.3h3v2.1h-3zM3.8 15.9h1.1v1.9h-1.1zM32.9 5.2h2.1v1.9h-2.1zM5.3 26.8h1.2v1.5h-1.2zM6.1 26.2h1.6v1.8h-1.6zM22.5 53.9h1.1v1.3h-1.1zM43.9 27.9h2.2v1.4h-2.2zM46.4 15h2.2v1.8h-2.2zM44.9 56.5h1.4v1.2h-1.4zM41.8 53.8h2.8v1.7h-2.8zM46.3 42.1h2.6v1.2h-2.6zM56 37.4h2.4v3h-2.4zM52.2 54.3h1.1v2.2h-1.1zM37.9 11.4h1.3v2.2h-1.3zM42.6 44.9h2.3v2.4h-2.3zM59.3 19.5h2.1v2.8h-2.1zM6.6 46.7h1.3v2.4h-1.3zM28.7 42.3h1.5v1.8h-1.5zM42.2 30.8h2.3v1.8h-2.3zM29.8 61.8h1.6v1.2h-1.6zM32 3.3h2v1.8h-2zM28.7 5.3h3.1v2h-3.1zM30.9 3.3h3.1v2.5h-3.1zM41.3 7.7h2v1.6h-2zM23.6 56.4h2v1.2h-2zM16.7 46.8h1.4v1.9h-1.4zM1.3 18.5h1.8v1.8h-1.8zM27.3 46.3h3.1v1.2h-3.1zM5.5 21.5h2v1.1h-2zM16.8 48.9h3.1v1.6h-3.1zM4.1 28.9h2.5v1.2h-2.5zM55.3 28.8h2.7v2.1h-2.7zM59.2 12.8h1.5v1.6h-1.5zM26.5 39.1h1.8v1.2h-1.8zM16.5 38.4h1.8v3h-1.8zM35.9 3h2.4v2.9h-2.4zM58.5 28.4h2.1v3.1h-2.1zM32.9 5.3h2.7v1.3h-2.7zM45.6 6.3h1.4v2.5h-1.4zM36.3 39.8h2.7v1.7h-2.7zM44.8 0.1h2.4v2.7h-2.4zM51.3 2.6h2.7v2.7h-2.7z"/><path fill="#FDAC52" d="M14.7 36.9h2.2v1.9h-2.2zM6.6 26.6h2.4v2.7h-2.4zM30.4 20.9h3.1v2.4h-3.1zM21.4 55.1h3.1v2.3h-3.1zM51.8 13.8h2.5v1.1h-2.5zM7.1 60.8h2.5v1.5h-2.5zM29 58.2h2.5v2.5h-2.5zM16.4 49.9h2.6v2.5h-2.6zM26.4 22.6h2.3v1.5h-2.3zM19.4 57.4h2.7v1.3h-2.7zM42.4 40.9h2.8v3h-2.8zM51.2 45.4h3v2.5h-3zM0.2 24.2h2.2v1.9h-2.2zM6.4 6.3h2.4v3.1h-2.4zM46.3 45.3h3.1v1.2h-3.1zM9.1 47.7h2.7v3h-2.7zM45 16.1h1.8v2.4h-1.8zM31 6.4h2.7v3h-2.7zM16.8 34.2h2.2v2h-2.2zM31.9 57.4h1.9v1.5h-1.9zM5.6 28h1.3v1.4h-1.3zM41.2 25.7h1.7v2.9h-1.7z"/><path fill="#FD9633" d="M40.5 35.4h1.6v3.1h-1.6zM51.6 54.1h2.8v1.8h-2.8zM31.5 32.2h3.1v3.1h-3.1zM47.9 36.4h2.6v1.4h-2.6zM48.1 39.2h1.9v2.4h-1.9zM27.8 40.7h1.1v1.4h-1.1zM18.9 32.7h1.3v2.7h-1.3zM15.6 28.7h2.3v1.1h-2.3zM8.2 18h3.1v2.6h-3.1zM5.7 7.7h1.2v2.5h-1.2zM38.2 22.2h2.8v1.3h-2.8zM26.2 60.1h3.1v2.4h-3.1zM50.4 40.7h2.3v2h-2.3zM47.6 35h1.6v1.1h-1.6zM32.8 56.2h1.9v1.9h-1.9zM43.6 56.6h2.8v2.8h-2.8zM34.1 23.3h1.2v1.9h-1.2zM1.5 48.4h2.4v1.1h-2.4zM40.4 23.5h1.2v1.2h-1.2zM60.2 18.4h3.1v3.1h-3.1zM39.1 23.8h1.6v2.8h-1.6zM4.2 39.5h3v2.6h-3zM30.8 43.1h1.4v1.3h-1.4zM47.4 37.5h1.6v2h-1.6zM9.8 30.3h2.4v2.8h-2.4zM0.6 41h1.5v1.6h-1.5zM47.1 27.4h1.8v2.3h-1.8zM52.8 9.2h1.1v1.6h-1.1z"/><path fill="#E6B8AF" d="M0.9 48.1h3v2.2h-3zM52.9 12.2h1.8v1.9h-1.8zM25.9 9.9h1.3v2.3h-1.3zM0 28.8h2.1v2.7h-2.1zM28.7 6.2h2.4v1.9h-2.4zM31 43.5h1.8v1.6h-1.8zM51.8 60.5h1.4v1h-1.4zM3.3 46.4h1.4v1.3h-1.4zM7.4 44.5h1.1v2.3h-1.1zM26 60.6h1.3v1.9h-1.3z"/></pattern>
<pattern id="mtn2" width="56" height="56" patternUnits="userSpaceOnUse"><rect width="56" height="56" fill="#FDA04A"/><path fill="#F5A3A3" d="M27.3 12.7h4.5l2.1 2.1v2.8l-2.1 2.1h-4.5l-2.1 -2.1v-2.8z"/><path fill="#F5A3A3" d="M25.5 40.5h1.6l1.2 1.2v3.9l-1.2 1.2h-1.6l-1.2 -1.2v-3.9z"/><path fill="#F5A3A3" d="M15.1 42.9h2.5l1.9 1.9v3.1l-1.9 1.9h-2.5l-1.9 -1.9v-3.1z"/><path fill="#F5A3A3" d="M29.7 36.2h5.3l1.5 1.5v2l-1.5 1.5h-5.3l-1.5 -1.5v-2z"/><path fill="#F5A3A3" d="M44.6 12.9h2.1l1.5 1.5v2.7l-1.5 1.5h-2.1l-1.5 -1.5v-2.7z"/><path fill="#F66666" d="M18 4.9h2.5v2.9h-2.5zM5 10.7h2.8v2h-2.8zM25 5.4h2.8v2.1h-2.8zM31.9 25.9h2.1v1.3h-2.1zM43.7 25.2h2.2v2.5h-2.2zM48.7 47.5h3v1.3h-3zM7.2 20.2h1.7v1.6h-1.7zM16.5 4.5h1.8v1h-1.8zM34.9 42.4h2.3v2.9h-2.3zM8 35.5h1.8v2.8h-1.8zM23.1 13.6h3.2v2.9h-3.2zM1.7 35.4h1v1.1h-1zM50.1 35.6h2.9v3h-2.9zM30.1 44.9h2.7v1.8h-2.7z"/><path fill="#FD9633" d="M32 10.6h1.6v3.1h-1.6zM49.3 27.2h1.8v3.1h-1.8zM52.2 1.5h2.5v2.8h-2.5zM0.9 17.7h1v2.7h-1zM44.1 43h3v2h-3zM42.7 9.3h1.6v2.1h-1.6zM26 7.7h1.6v2h-1.6zM35.4 25.3h1.2v1.2h-1.2zM53.7 15.2h1.1v2.8h-1.1zM9.3 20.4h2.2v1.1h-2.2zM12 30.7h1.9v1.5h-1.9zM10 17.5h2.7v2.3h-2.7zM43 19.9h2.6v2.4h-2.6zM33.1 21h3.1v1.4h-3.1zM35.1 6.6h2.9v1.4h-2.9zM15.3 23.8h2.6v2.4h-2.6zM40.5 53h1.6v2.7h-1.6zM5 31.7h2.5v2.7h-2.5zM7.4 48.3h2.1v1.6h-2.1zM4.8 20.1h2.7v3h-2.7zM24.3 5.9h2.9v2.6h-2.9zM30.9 39.1h2v2.8h-2zM6.5 38.7h2.1v1.2h-2.1zM48 24.4h1.8v2.2h-1.8zM27.2 28.5h1v2.9h-1zM34 45.1h3.1v2.1h-3.1zM39.4 15.1h2.9v2.6h-2.9zM5.7 42.1h2.9v3h-2.9zM31.9 10.3h2.4v2.3h-2.4zM48 8.8h2v1.2h-2zM17.5 24.5h2.5v2h-2.5zM52.3 27.4h2.4v2.8h-2.4zM35.6 33.2h1.3v1.8h-1.3zM51.6 43.5h2.8v2.3h-2.8zM25.4 10.9h2.1v3.1h-2.1zM44.4 30.6h1.6v1.4h-1.6zM49 47h2.4v1.1h-2.4zM41.6 0.5h2v2.7h-2zM26.7 23.3h2.4v2.3h-2.4zM38.7 22.1h2.4v1.7h-2.4zM26.9 33.8h2.4v2.3h-2.4z"/><path fill="#F4CCCC" d="M31.6 4.9h2.3v1.7h-2.3zM51.7 48.6h3.2v1.5h-3.2zM22.1 4.6h2v2.6h-2zM21.7 47.9h3v1.6h-3zM17.6 35.1h1.7v2.8h-1.7zM50.5 15.5h2.1v2.7h-2.1zM33.2 7.7h1.3v2.4h-1.3zM7.3 50.2h2.5v2.7h-2.5zM4.5 44.8h3v1.1h-3zM6.3 29.2h1.2v2.6h-1.2zM4 28.5h2.1v1.2h-2.1zM53.9 29.8h2v1.9h-2zM19.4 53.6h2.7v2.1h-2.7zM28.8 46.1h1.9v1h-1.9zM50.5 12.1h1.4v1.4h-1.4zM35.3 4.8h2.2v1.8h-2.2zM32.7 14.4h2.3v2.4h-2.3zM47.3 8.7h3.2v2.2h-3.2zM12.8 0.8h2.6v3h-2.6zM10.5 9.5h1.7v2.4h-1.7zM31.2 16.5h3v1.9h-3zM26 3.7h1.8v3h-1.8zM19.3 0.8h1.4v2.9h-1.4zM20.1 40.9h1.8v1.8h-1.8zM28.8 48.5h1.4v3.1h-1.4zM32.3 1.6h2.2v1.7h-2.2zM8.3 52.6h1.9v1.6h-1.9zM15.7 54.1h1.8v1.3h-1.8z"/><path fill="#FDC270" d="M35.7 17.1h2.2v1.3h-2.2zM20.2 21.1h2.4v1.7h-2.4zM31.9 17.3h3v1.8h-3zM6.8 44.5h2.4v2.5h-2.4zM24.2 14.7h2v2.7h-2zM15.3 51.3h1.2v2.9h-1.2zM17.1 13.1h1.9v1.4h-1.9zM44 2.8h3.1v2h-3.1zM14.7 0.1h2.4v3h-2.4zM25 3.2h1.1v3.2h-1.1zM39.9 36.3h2.6v1.1h-2.6zM21.2 31.2h2.6v1.9h-2.6zM33.4 25.5h1v2.9h-1zM12.2 53.6h1.2v1.1h-1.2zM26.4 17.7h1.2v2.3h-1.2zM7.1 33.7h1.6v2.7h-1.6zM11.4 3.7h1.5v2.4h-1.5zM17.4 10.9h1.1v1.8h-1.1z"/><path fill="#F59999" d="M11.3 47.3h2.1v1.3h-2.1zM22.3 41h3.2v1.1h-3.2zM19.8 13.8h1.3v2.3h-1.3zM1.6 42.4h2v1.1h-2zM50.1 46.3h2.6v1.8h-2.6zM33.5 22.3h1.4v3.1h-1.4zM48.7 47.3h2.4v3h-2.4zM50.2 37.4h3.2v2.7h-3.2zM15.2 8.3h2.2v1.3h-2.2zM6.3 37.9h1.1v2.7h-1.1zM29.4 43.2h1.8v1.1h-1.8zM15.8 25h2.2v3h-2.2zM48.6 41.2h3.2v1.1h-3.2zM41.8 11.4h2.9v2.7h-2.9zM51.4 1.5h1.8v1.3h-1.8zM0.1 45.4h1v1.1h-1zM7.1 22.8h2.3v1.6h-2.3zM31.4 30.5h3.1v1.8h-3.1zM31.1 50.5h2v2.8h-2zM27.5 50.7h3v2.8h-3zM33 39.4h1.3v1.2h-1.3zM37.1 42.7h2.1v1.2h-2.1zM6.6 18.8h3.2v2.5h-3.2zM9.4 9.8h2.6v3h-2.6zM33.3 5.5h2.6v1.8h-2.6zM53.7 53.3h2v1h-2zM11.5 16.7h1.1v1h-1.1zM38.5 47.1h1.1v2.6h-1.1zM4.8 47h2.6v2.3h-2.6zM16.4 22.5h1.6v3.1h-1.6zM35.5 27.6h2.4v1.7h-2.4zM29.2 9.5h1.2v2h-1.2zM17 21.1h1v1.6h-1zM8.3 41.6h2.1v2.9h-2.1zM26.8 3.8h1.3v1.9h-1.3zM5.4 1.3h1.4v1.3h-1.4zM37.7 33.1h1.7v1.9h-1.7zM11.9 19.2h2.5v1.3h-2.5zM19.5 26.5h2.4v3h-2.4zM19.1 38.6h3v1.8h-3zM50.4 33.6h2.7v1.8h-2.7zM36.6 10.3h1.2v2.5h-1.2zM11.2 22.5h2.1v1.5h-2.1zM16.1 21.8h2.5v1.6h-2.5zM12.6 23.5h2v1.4h-2zM25.5 0.7h1.1v2.2h-1.1zM45.5 2.1h1.7v3.1h-1.7zM53.3 31.1h2.4v2.3h-2.4zM32.4 27.8h2.4v2.9h-2.4z"/></pattern>
<pattern id="oly" width="56" height="56" patternUnits="userSpaceOnUse"><rect width="56" height="56" fill="#B5A808"/><path fill="#9A8B0C" d="M4 28.7h1.3v2.4h-1.3zM2.1 23.4h1.1v2.1h-1.1zM45.3 6.7h1.2v1.9h-1.2zM30.9 21h2.4v3.1h-2.4zM9.8 30.9h1.7v2.8h-1.7zM16.8 31.7h2.5v1.9h-2.5zM53.1 44h2.5v2.4h-2.5zM1.2 24.7h1.8v2.5h-1.8zM42.1 7.1h1.3v1.1h-1.3zM4.4 23.8h1.9v2.9h-1.9zM51.9 8h1.8v2.9h-1.8zM26.4 32.1h1.5v1.5h-1.5zM20.3 30.6h1v1.9h-1zM46.4 42.5h3v2.7h-3zM34.3 3.4h1.9v1.2h-1.9zM18.5 2.9h1.5v1.4h-1.5zM19.9 1.4h1.3v1.2h-1.3zM54.4 24.8h1.3v2.9h-1.3zM28.4 53.8h2.2v1.1h-2.2zM37.7 52.1h1.6v1.6h-1.6zM11.1 34.1h1.5v1.4h-1.5zM41.9 39.8h2.5v3h-2.5zM49.5 44.1h1.3v1.3h-1.3zM35 18.5h2.8v3.2h-2.8zM13.1 31.9h1.6v1.6h-1.6zM49.2 19.4h1.9v1.3h-1.9zM9.5 25.2h1v2.8h-1zM43 48h1.2v2.5h-1.2zM7.6 47.3h2.6v2.5h-2.6zM39.4 1.1h1.4v1.7h-1.4zM42.4 14.9h1.6v1.1h-1.6zM44.3 13.7h1.9v3h-1.9zM37.1 4.8h3v2.3h-3zM3.9 50.7h2.5v1.9h-2.5zM13 5.9h1.3v2.2h-1.3zM17.1 16.6h1.1v1.4h-1.1zM39.9 30.3h1.6v1h-1.6zM5.7 43.4h2v3.1h-2zM8.7 4.6h2.6v1.6h-2.6zM24.1 14.4h2v1.3h-2zM20.7 26.1h1.8v1h-1.8zM1.2 16.7h1.9v1.1h-1.9zM40.3 35.4h2.3v2.2h-2.3zM2.3 44.8h2.6v2.4h-2.6zM5.7 45.3h1.3v1.8h-1.3zM26.8 28.6h2.8v2.6h-2.8zM39.5 53.2h2.6v1.5h-2.6zM36.2 15.6h2.5v2.5h-2.5zM0.9 24.3h3.2v3.1h-3.2zM16.3 7.6h2.1v2h-2.1zM0.1 39.9h1.7v2.8h-1.7zM54.1 31.9h1.8v1.9h-1.8zM2.6 5.5h1.9v1.6h-1.9zM29.8 21.4h2.4v1.7h-2.4zM49.5 27.1h1.4v1.5h-1.4zM23.9 7.4h3v3.2h-3zM5 13h1.2v1.8h-1.2zM40.3 21.9h2.3v3h-2.3zM18.2 3.4h2.2v1.8h-2.2zM26.6 34.5h3.1v1.3h-3.1zM25.3 31.1h2.6v3h-2.6zM44.7 45.3h1.9v3h-1.9zM34.8 46.7h2v3.1h-2zM37.1 22.6h1v2.1h-1zM12.1 1.8h2.5v3h-2.5zM10.7 42.6h1.9v2.5h-1.9zM40.7 1.7h1.4v3.1h-1.4zM52 6.7h1.6v1.8h-1.6zM1.6 21.8h1.8v3h-1.8zM13.9 38.4h3.1v2.4h-3.1zM41.1 50.4h1.6v1h-1.6zM10.5 41.3h2.7v1.2h-2.7zM30.3 17.9h1.1v1.1h-1.1zM24.1 12.5h2.1v2.6h-2.1zM13.2 13.4h2.6v1.4h-2.6zM17.3 21.3h2.9v2.3h-2.9zM35.5 10.9h1.6v2.3h-1.6zM10 16.7h1.7v2.5h-1.7zM3.4 5.5h2.7v2.2h-2.7zM4.9 8.8h2.2v2.4h-2.2zM22.4 46.9h2.2v1.8h-2.2zM43.5 22h3v1.9h-3zM52.1 10.5h2.1v2.8h-2.1zM25.5 2.8h3.1v3.1h-3.1zM21.5 46.1h2.7v1.5h-2.7zM39.7 48.9h1.3v1.5h-1.3zM2 44.7h2.2v2.7h-2.2zM33.7 16.5h2.3v2.2h-2.3zM5 23.9h1.3v1.9h-1.3zM47.8 15h2.7v1.3h-2.7zM2 9.9h2.1v1.7h-2.1zM47.4 9h3.1v2.5h-3.1zM43.7 13.9h2.6v1.1h-2.6zM33.8 23.6h1.1v1.3h-1.1zM5.8 19.4h1v1.8h-1zM11 33.5h2.3v2.3h-2.3zM41.9 21.3h2.4v2.9h-2.4zM30.9 18.8h1v2.4h-1z"/><path fill="#F59999" d="M15.9 7.7h1.1v2.9h-1.1zM41.4 8.2h1.3v1.9h-1.3zM33 36.4h2.5v2.1h-2.5zM51.2 39.2h1.9v1.9h-1.9zM21.7 25.8h1.5v3.1h-1.5zM22.9 28.2h2.8v1.4h-2.8zM12.9 51.9h3.1v2.2h-3.1zM27.8 47.2h1.3v2.8h-1.3zM8.4 28.6h1.5v1.2h-1.5zM12 22.8h2.1v1.4h-2.1zM3.3 21.6h1.3v1.1h-1.3zM44.8 44.6h1.5v1.8h-1.5zM13.3 23.3h3.1v1.9h-3.1zM14.1 4.4h2.9v3.2h-2.9zM43.6 35.6h2.1v1.5h-2.1zM44.9 45.4h1.2v2h-1.2zM20 45.9h2.3v3h-2.3zM39.5 11.1h1.8v1.4h-1.8zM54.5 38.9h1.3v2.9h-1.3zM42.8 14.3h2.4v1.9h-2.4zM41.1 24h2.3v1.8h-2.3z"/><path fill="#DDD900" d="M3.4 3.2h1.8v2.2h-1.8zM38 13h1.7v2.7h-1.7zM39.3 15.3h2.2v2.9h-2.2zM42 30.7h1.1v2.5h-1.1zM25.2 35.1h2.8v3.1h-2.8zM45.8 14.8h2.9v2.8h-2.9zM18.8 14.5h1.2v1.2h-1.2zM50.6 19.3h3.1v3.2h-3.1zM18.2 42.7h1.4v2.7h-1.4zM53.1 35.7h1.3v1h-1.3zM46.2 44.7h3.1v2h-3.1zM22.6 48.6h2.3v3h-2.3zM1 23.7h2.2v2.2h-2.2zM27.5 37.3h2.3v2.1h-2.3zM50.7 37.7h2.2v2.1h-2.2zM17.9 34.3h2v1h-2zM43.2 51.3h1.1v3.2h-1.1zM45.6 3.7h2.8v1.2h-2.8zM21.2 26.9h2.1v2.8h-2.1zM2.9 7h1.9v1.8h-1.9zM0.3 14.2h1.4v2.1h-1.4zM43.4 43.9h2.1v2.8h-2.1zM36.8 12.3h3v2.5h-3zM36.5 26.2h2.4v2.4h-2.4zM13.8 4h1.1v2.6h-1.1zM37 41.4h1.8v2.1h-1.8zM7.9 13.9h2.4v1.2h-2.4zM6.4 48.2h2v2h-2zM52.2 47.9h1.4v1.8h-1.4zM50.4 7h1.6v1.1h-1.6zM40.1 53.1h1.8v1.7h-1.8zM46.2 1.2h3.1v2.9h-3.1zM42.1 12.8h2.2v1.1h-2.2zM3.8 28.7h2.5v1.2h-2.5zM32.5 0.6h1.9v1.5h-1.9zM52.3 38.4h1.5v1.5h-1.5zM20.8 11.6h3.1v1.3h-3.1zM18 9.2h1.8v1.8h-1.8zM20.5 49.6h1.1v2h-1.1zM12.4 26.1h3.1v1.1h-3.1zM42.5 40.3h3v1.4h-3zM40.1 45.3h2.4v2.5h-2.4zM16.1 30.1h1.3v2.8h-1.3zM51.5 5.6h1.6v2.7h-1.6zM19.8 7.7h2.4v1.5h-2.4zM33 20.3h3v1.2h-3zM28.5 50.3h1.3v1.6h-1.3zM35.4 24.2h2.3v1.9h-2.3zM26.9 12.6h1.1v2.4h-1.1zM4.5 39.3h1.1v2.4h-1.1zM35.1 16.8h3.2v2.3h-3.2zM12.1 35.7h3v1.3h-3zM13.3 7.9h1.3v3.1h-1.3z"/><path fill="#FDAC52" d="M32.3 31h1.7v2.5h-1.7zM13.5 19h2.4v1.3h-2.4zM52 29h1.4v1.1h-1.4zM19.6 9.1h2.5v1.6h-2.5zM42.6 43.5h3.2v2.9h-3.2zM34.7 43.1h2.8v2.1h-2.8zM29.6 51.3h3.1v1.6h-3.1zM24.2 4h1.3v1.3h-1.3zM29.9 50.3h2v1.7h-2zM15 13h2.9v2.5h-2.9zM43.6 7.4h2.4v2.6h-2.4zM14.2 11.3h3.1v2h-3.1zM7.7 28.2h1.5v2.3h-1.5zM39 47.7h1.3v3h-1.3zM13.6 14.1h1.6v3.1h-1.6zM50.4 29.1h2.4v3h-2.4zM13.5 21.7h1.5v1.6h-1.5zM6.9 13.7h2.4v1.7h-2.4zM41.4 16.1h1.5v1.5h-1.5zM52.9 49.7h2.9v2.6h-2.9zM1.9 3.4h2.7v1.1h-2.7zM48.9 18.1h1.6v2.6h-1.6zM17.5 17.1h2.7v2.3h-2.7zM6.5 10.3h1.1v1.6h-1.1zM0.8 30.1h2v1.4h-2zM33.6 43.7h1.9v3h-1.9zM21.8 28.2h1.4v1.5h-1.4zM26.8 50.5h1.4v3.2h-1.4zM50.8 3.5h1.4v2.7h-1.4zM50.3 11.2h1.3v2.1h-1.3zM47.5 5.6h2.2v2.3h-2.2z"/><path fill="#FFFF00" d="M17.7 11.9h2.2v2.7h-2.2zM19.4 1.6h1.5v2.1h-1.5zM27.9 30.2h2.2v1.7h-2.2zM13.6 14.9h1.2v2.2h-1.2zM41 49.1h2.1v2.2h-2.1zM9.7 18.7h1.6v2.1h-1.6zM44 38.3h3.2v1.8h-3.2zM17.3 53.3h2.9v1.9h-2.9zM0.7 3.3h1.7v2.2h-1.7zM26.5 1.3h1.5v3h-1.5zM24.7 40.2h1.1v2.6h-1.1zM34.3 40.8h3.1v2.6h-3.1zM52.3 17h2.1v1.5h-2.1zM16.6 51.8h1.9v1.6h-1.9zM9.6 25.5h2.7v2h-2.7zM27.1 20.7h2.1v1.1h-2.1zM34.8 19.4h1.3v2.2h-1.3z"/></pattern>
<pattern id="ygr" width="56" height="56" patternUnits="userSpaceOnUse"><rect width="56" height="56" fill="#C8E800"/><path fill="#FFFF00" d="M37.3 4.7h3.1v1.3h-3.1zM33.9 25h3.2v1.5h-3.2zM22.4 49.1h1v1.6h-1zM10.3 51h3.1v2.1h-3.1zM3.8 48.7h2.2v2.1h-2.2zM28.6 19.7h1.2v1.2h-1.2zM31.4 40.3h1.3v1.8h-1.3zM39.2 38.8h2v1.2h-2zM34.9 0.4h2.2v2.6h-2.2zM53.1 19.9h1.7v2.2h-1.7zM48.9 49.1h2v2.9h-2zM35 17h2.3v2.9h-2.3zM34.6 19.5h3v2.9h-3zM28.2 6.2h1.8v1.7h-1.8zM2.7 30.4h2.6v1.2h-2.6zM41.8 44.4h1.5v2.2h-1.5zM20.1 43.8h1.8v1.8h-1.8zM33.4 27h2.9v2h-2.9zM40 39h1.7v3.1h-1.7zM53.1 38.7h2.1v2.1h-2.1zM12.2 21.2h2.1v2.5h-2.1zM10.1 43.2h2.5v2.5h-2.5zM18.5 27.7h2.4v1.2h-2.4zM34 4.1h2.2v1.4h-2.2zM19 28.1h2.7v3h-2.7zM26.6 31h1.3v1.4h-1.3zM31.4 23.8h2.1v2.3h-2.1zM15.1 30.3h1.4v2h-1.4zM50.7 21.1h1.3v1.6h-1.3zM7.3 44.8h2.6v1.2h-2.6zM48.5 27h3.1v2.9h-3.1zM10.3 6.1h2.4v1.9h-2.4zM28.7 33.2h1.6v2.8h-1.6zM40.7 7h2.5v2.6h-2.5zM18.5 51.9h2.6v2.5h-2.6zM24.3 54.3h3v1.3h-3zM0.8 31.8h2.9v1.3h-2.9zM49.9 12h1.7v1.7h-1.7zM27.3 46.8h1.6v1.7h-1.6zM26.1 3.3h1.9v1.6h-1.9zM4.3 45.6h1.1v2.5h-1.1zM51 48.5h2.6v1.3h-2.6zM21.8 35.1h2v3.2h-2zM17.8 40.5h1.9v1.2h-1.9zM4.3 32.7h1.2v3h-1.2zM2.8 50.5h1.1v1.6h-1.1zM25.1 12.4h1.8v2.9h-1.8zM46.2 23.6h1.5v1.7h-1.5zM31.7 43h1.2v2.2h-1.2zM11.8 26.5h1v2.3h-1zM17.3 26.2h1.2v2.2h-1.2zM7.8 7.6h1.9v1.5h-1.9zM16.5 32.8h2.3v2.5h-2.3zM48.8 9.8h1.2v2.4h-1.2zM20.9 17h2v2.6h-2zM39.5 21.5h1.6v1h-1.6zM25.5 32h1.7v1.1h-1.7zM41.2 4.8h2v2.3h-2zM11.4 1.9h1.6v2.5h-1.6zM20.2 13.9h1.9v3.1h-1.9zM33.6 1.9h2v2.2h-2zM6.7 19.9h2.6v1.8h-2.6zM38.1 50.2h1.7v1h-1.7zM9.2 22.4h3.1v2h-3.1zM52.2 17h2.1v1.9h-2.1zM19.2 51.9h2.2v2h-2.2z"/><path fill="#A3EE05" d="M44.8 4.9h2.1v1.4h-2.1zM54.3 3.4h1.3v1.6h-1.3zM31.2 7.5h2.4v3h-2.4zM15.3 18.9h2.6v2.9h-2.6zM13 0.6h2.5v1.5h-2.5zM20.5 45.1h1.6v1.9h-1.6zM31.8 15.6h2v1.9h-2zM44.2 11.6h3.1v1h-3.1zM24.1 4.4h1.4v3.1h-1.4zM23.7 39.7h2v1.3h-2zM15 15.5h1.3v2.8h-1.3zM39.5 13.3h3.1v2.7h-3.1zM11.9 16.1h2.7v1.2h-2.7zM47.5 49.6h3.1v2.3h-3.1zM25.8 6.8h1.7v2.5h-1.7zM25.2 9.1h3.1v2.4h-3.1zM7.5 39h2.4v1.1h-2.4zM34.8 42.7h2.2v1.7h-2.2zM43.5 18.1h2.4v1h-2.4zM12.5 32.5h3.2v1.3h-3.2zM23.7 32h2.9v2.5h-2.9zM52.5 10.6h2.2v2.9h-2.2zM6.1 53.6h2.3v2.3h-2.3zM26.4 8.6h1.8v1.7h-1.8zM51.7 50.9h2.8v2.4h-2.8zM47.5 28.8h2v2.7h-2zM8.6 6.3h2v2.8h-2zM23.6 9.8h3.1v2.4h-3.1zM15.7 9.7h2.4v2.4h-2.4zM10.5 26.6h1.7v1.2h-1.7zM1.5 6.7h1.2v2.9h-1.2zM37.4 32h1.7v2.1h-1.7zM15.9 11.6h2.9v3.1h-2.9zM24 27.2h1.6v1.2h-1.6zM52.3 49.4h2.6v1.7h-2.6zM34 35h1.2v2.2h-1.2zM37.5 2.2h2.6v3.2h-2.6zM35.2 19.1h2.9v2.8h-2.9zM53.4 50.8h1.3v1.6h-1.3zM6.8 33.5h2.9v2.5h-2.9zM24.4 16.2h2.2v1.5h-2.2zM51.7 44.4h1.8v2.5h-1.8zM47.6 6.8h2.1v2.2h-2.1zM2.6 6h2.8v2.4h-2.8zM8.5 21.7h2.9v2.4h-2.9zM48.9 22.3h2.5v1.7h-2.5zM44.5 48.2h2v1.5h-2zM48.1 35.2h1v1.9h-1zM50.5 6.2h1.6v1.9h-1.6zM4 21.2h2.1v2.1h-2.1zM24.3 40.3h1.9v1.6h-1.9zM6.6 38.6h1.7v2.6h-1.7zM24 23.4h2.8v1.8h-2.8zM6.9 35.5h2.9v2.4h-2.9zM39.2 28h1.9v1.7h-1.9zM27.4 53.4h2.5v1.9h-2.5zM51.9 40.3h1.3v2.5h-1.3zM23.5 28.6h1.9v1.1h-1.9zM24.7 54.3h3.1v1.1h-3.1zM37.6 7.2h1.7v1.7h-1.7zM37.2 42.2h2.6v1.3h-2.6z"/><path fill="#7ADE0A" d="M18.3 37h1.8v2.5h-1.8zM26.6 10.5h3.1v2.9h-3.1zM8.3 6.6h2.1v2h-2.1zM19.5 12.2h2v1.9h-2zM23.8 5.1h1v1.8h-1zM49.2 52.4h3v2.6h-3zM26.6 28.6h1.8v1.9h-1.8zM13.8 21.3h1.8v1.4h-1.8zM17.4 47.4h2.8v2.2h-2.8zM50.5 53.6h2.1v2.2h-2.1zM19.4 45.5h3.2v2.1h-3.2zM1.9 20.1h1.3v1.9h-1.3zM31.8 7h1.2v1.4h-1.2zM40 19.4h1.8v2.3h-1.8zM20.7 29.5h2v2h-2zM45 4.8h1.4v1.3h-1.4zM18.3 32h3.1v2.5h-3.1zM10.8 1.5h1.6v2.5h-1.6zM32.8 21.9h1.6v2.1h-1.6zM26.2 38.1h2.9v2.7h-2.9zM11.9 43h2.4v2h-2.4zM12.1 39.4h1.4v1.5h-1.4zM30.7 14.3h1.4v2.5h-1.4zM27.2 21.6h2.5v2.1h-2.5zM48.9 30h2.3v1.6h-2.3zM37.5 10.3h2.5v2h-2.5zM1.6 18.6h2v2.7h-2zM50.7 0.1h3v1.3h-3zM50.3 2.8h2.4v2.2h-2.4zM33.5 29h2.7v2.9h-2.7zM33.1 37h3.2v3.1h-3.2zM46.2 26.4h2.7v2.3h-2.7zM17.7 48h1.2v1.9h-1.2zM19 9h2.9v3h-2.9zM3.2 36.6h2.7v1.4h-2.7zM46.8 6.2h2.1v1.6h-2.1zM47.1 53.9h1.4v2h-1.4zM39.1 18.9h1.7v1.9h-1.7zM8.1 10.4h2v3.2h-2zM39.4 23.1h2.9v2.2h-2.9zM7.5 9.3h1.5v2.5h-1.5z"/><path fill="#DDD900" d="M5.3 36.8h1.3v2.7h-1.3zM9.1 35.9h1.4v1.9h-1.4zM23.6 12.7h1.8v1.4h-1.8zM52.8 3.4h2.1v2.6h-2.1zM41.7 52.4h1.1v3.1h-1.1zM10.6 19.7h1.7v2.9h-1.7zM38.9 43.5h2.5v3.1h-2.5zM39.9 14.9h1.6v1.2h-1.6zM47.9 22.4h2.1v1.6h-2.1zM19.8 41.5h2.3v2.8h-2.3zM42.2 53.2h1.9v2.4h-1.9zM31.9 17.1h2.8v2.6h-2.8zM32.1 32.6h1.1v3h-1.1zM28.8 49.5h2.1v3.1h-2.1zM12.6 19.8h1.7v1.1h-1.7zM13.9 45.2h2.6v2.3h-2.6zM33.9 13.8h2.7v1.5h-2.7zM2 39.3h1.4v1.3h-1.4zM0 52h1.9v3h-1.9zM46.5 51.4h2.5v3h-2.5zM40.7 6.4h3v1.9h-3zM26.5 20h3.1v2.3h-3.1zM22.6 6.8h2v2.5h-2zM42.2 27.4h3.2v1.8h-3.2zM8.8 33.1h2.1v2.7h-2.1zM48.2 32.9h1.6v1.3h-1.6zM41 0.1h2.2v3.1h-2.2zM30.1 20.7h2.5v2.8h-2.5zM15.8 9.7h2v2.9h-2zM33 42.9h1.9v1.1h-1.9zM2.3 0.4h1.7v1.9h-1.7zM31.6 27h2.2v1.1h-2.2zM7.3 30.9h1.1v2.1h-1.1zM47.7 44h1.9v1.3h-1.9z"/><path fill="#52CE0F" d="M16.4 0.7h1.4v2.7h-1.4zM37.6 10.8h2.7v2.1h-2.7zM33.2 51.6h2.9v2.1h-2.9zM15.4 33.3h2.9v1.7h-2.9zM32.5 37.5h2.7v1.3h-2.7zM22.3 9.2h1.3v1.7h-1.3zM33.7 7.7h1.8v2.5h-1.8zM52.2 5.8h1.9v2.4h-1.9zM36 52.9h1.1v2.3h-1.1zM7.8 7.9h3v1.9h-3zM49.3 39.4h2.1v2.5h-2.1zM11.9 45h2.3v3h-2.3zM33.4 16.1h2.7v3.2h-2.7zM25.2 46.7h1.2v3h-1.2zM8.7 0.9h2.5v3h-2.5zM6.9 20.8h1.3v1.4h-1.3zM38.4 54.3h1.8v1.5h-1.8zM49.5 8.3h2.3v1.7h-2.3z"/></pattern>
<pattern id="dgr" width="56" height="56" patternUnits="userSpaceOnUse"><rect width="56" height="56" fill="#4C8A4F"/><path fill="#68A96C" d="M46.9 0.4h1.8v1.3h-1.8zM29.4 33.8h3v1.2h-3zM39.8 5.5h2.7v1.8h-2.7zM52.3 2.9h1.4v2.3h-1.4zM14.4 54.4h2.3v1.3h-2.3zM37 32h1.1v1.8h-1.1zM31.1 1h1.9v3.2h-1.9zM5.6 42h1.2v2.4h-1.2zM20 35.5h1.8v2.9h-1.8zM7.5 4.7h1.3v2.2h-1.3zM24.1 38.6h2.5v1.1h-2.5zM4.6 41.8h1.4v2.4h-1.4zM51.7 28.9h1.4v2.1h-1.4zM3.5 34.1h2.2v3h-2.2zM39.2 5.5h1.7v2.6h-1.7zM12.5 43.7h1.8v2.9h-1.8zM3.7 10.2h2.5v1.9h-2.5zM19.4 25.8h1.4v1.1h-1.4zM18.3 41.7h1.1v2.7h-1.1zM13.7 28.2h2.4v1.5h-2.4zM45.1 21.6h2.1v1.8h-2.1zM17.7 9.2h1.4v1.9h-1.4zM36 7.4h1.4v2.6h-1.4zM32.9 41.1h1.7v2h-1.7zM50.5 2.3h1.2v1h-1.2zM1.4 9.9h2.2v3h-2.2zM10.8 37.4h3v1.5h-3zM49.7 37.8h2.9v3.2h-2.9zM21.9 24.7h1.1v2.8h-1.1zM48.5 51.8h3.1v2.2h-3.1zM11.2 0.8h1.7v2.9h-1.7zM12.3 9.7h1.3v1.7h-1.3zM33.8 17.5h3.1v1.8h-3.1zM37.7 38.9h2.6v1.2h-2.6zM18.7 27.3h2.5v3h-2.5zM22.4 50.4h1.1v3.1h-1.1zM10.1 46.6h1.6v3.1h-1.6zM39.9 48.6h2.5v1.3h-2.5zM4.8 22h2.4v2h-2.4zM38.1 28.7h1.3v2.4h-1.3zM22 24.8h2.8v1.2h-2.8zM17.9 44.2h2.8v1.3h-2.8zM4.5 19.9h3v1.2h-3zM24.3 48.7h1.8v1.5h-1.8zM2.8 38.9h2.9v2.6h-2.9zM24.3 26.4h1.7v2.6h-1.7zM40.2 18.1h2v1.9h-2zM44 3.8h2.5v1.3h-2.5zM3.8 2.4h1.7v1.3h-1.7zM3 22.2h1.5v1.2h-1.5zM18.9 1h1.2v2.1h-1.2zM41.1 23.4h1.3v1.4h-1.3zM33.7 50.7h2.2v2.6h-2.2zM50 51.2h2.1v2.5h-2.1zM45.5 46.3h1.8v3.2h-1.8zM41.1 45.6h1.4v1.1h-1.4zM34 31.7h1.4v1.2h-1.4zM45.4 5.6h2.4v1.8h-2.4zM28.6 27.5h2.6v1.1h-2.6zM4.5 2.5h1.2v2.6h-1.2zM40.3 36.3h1.5v2.3h-1.5zM2.9 13h2.6v1h-2.6zM11 28.8h2.7v1.1h-2.7zM1.4 0.8h1.2v1.6h-1.2zM46.8 4h1.4v2.8h-1.4zM27.8 51.6h2.3v1h-2.3zM47.1 50.4h2.1v3.1h-2.1zM14.3 1.1h1.3v2.6h-1.3zM48.1 40.9h1.5v1.5h-1.5zM39.7 22h1.4v2.4h-1.4zM9.6 8h1v3.1h-1zM47.7 45.5h2v1.1h-2zM18.8 53.3h2.9v2.2h-2.9zM14.9 5h1.7v1.8h-1.7zM45.5 23.6h2.1v2h-2.1z"/><path fill="#3E7F41" d="M24.5 38.8h1.8v2.5h-1.8zM27.6 50.6h1.5v1.2h-1.5zM22.6 4.7h2.5v2.6h-2.5zM44.1 10.8h1.5v1.6h-1.5zM6.1 31.6h1.9v3h-1.9zM10.9 0.4h2.3v3h-2.3zM4.6 27.3h2.2v1h-2.2zM26.5 37.8h2.7v2.8h-2.7zM12.3 52.1h2.6v1.9h-2.6zM2.7 53.1h2.9v1.6h-2.9zM32.1 0.6h3.1v3.2h-3.1zM33.4 52.3h1.5v1.9h-1.5zM25.1 30.5h1v1.4h-1zM51.7 53h3.1v2.3h-3.1zM6.5 51.4h1.5v1.2h-1.5zM1.2 5.5h2v3.1h-2zM16.5 43.5h1.1v1.6h-1.1zM33.2 30.7h1.6v2h-1.6zM46.6 17.5h2.2v2h-2.2zM45 54.5h1.4v1.2h-1.4zM30.6 0.5h2.3v2.9h-2.3zM41.6 51.4h1.8v3h-1.8zM29.1 35.5h2.2v3.1h-2.2zM6.9 16.2h2.8v1.6h-2.8zM24.6 51.4h1.9v2.7h-1.9zM31.4 10.9h1.4v1.3h-1.4zM45.8 34.7h2.1v1.4h-2.1zM13.4 33h3.1v2.1h-3.1zM39 19h1v2.8h-1zM39.8 5.6h2.8v2.2h-2.8zM34.5 22.5h2.4v2.8h-2.4zM51.1 52.7h2v1.9h-2zM11 32.8h1.3v2.3h-1.3zM25.6 40.3h2v2.4h-2zM40.5 9.1h3.1v2.5h-3.1zM23.5 27.9h2.9v2.1h-2.9zM2.9 39.9h2.1v1.6h-2.1zM5.3 40.3h1.2v3h-1.2zM43.6 20.8h2.1v2.3h-2.1zM8.6 44.6h2.7v1.6h-2.7zM48.6 37.3h1.5v1.3h-1.5zM7 37.9h1.2v3h-1.2zM21.9 0.3h1.2v1h-1.2zM29 23.4h2.8v2.4h-2.8zM10.2 30.5h1.1v2.8h-1.1zM29.8 14.2h1.8v2.7h-1.8zM38.1 18.9h2.3v1.9h-2.3zM40 37.6h1.4v1.3h-1.4zM24.9 11.2h3.2v2h-3.2zM14.7 22.6h2.8v1.3h-2.8zM3.6 50.3h2.6v2.3h-2.6zM14.6 49.7h1.6v1.5h-1.6zM21.1 34.3h1.8v1.8h-1.8zM16.8 25.1h1.6v1.9h-1.6zM45.4 42.6h2.7v2.7h-2.7zM46.9 0.1h1.8v1.6h-1.8zM0.2 6h2.4v2.4h-2.4zM1.7 44.6h1.5v2.1h-1.5zM36.2 3.1h3.2v1.4h-3.2zM8.5 35.1h2.6v2.7h-2.6zM19 10h3.2v1.7h-3.2zM51.6 38.8h2.4v1.3h-2.4zM23.3 31.3h2.5v2.5h-2.5zM34.6 8.2h2.6v2.4h-2.6zM43.2 5.5h2.5v2.9h-2.5zM52.8 31h3v1.9h-3z"/><path fill="#8FD496" d="M20.1 27h2.9v1.1h-2.9zM11.6 24h1.7v2h-1.7zM12.7 42.3h1.2v1.8h-1.2zM46.7 33h1.1v1.6h-1.1zM28.9 18.3h2.6v1.5h-2.6zM38.6 15.6h2.1v1.2h-2.1zM7.7 24.6h2.7v1.6h-2.7zM17.2 24.2h1.1v3.1h-1.1zM11.9 13.9h2.8v2.5h-2.8zM11.3 45.7h2v1.1h-2zM41.5 47.5h2.3v1.2h-2.3zM12.1 38.4h1.6v1.8h-1.6zM34.8 0.1h2.2v2.4h-2.2zM40.2 35.7h3.1v2.1h-3.1zM30.6 36.2h1.5v2.1h-1.5zM13.4 39.5h1.7v2.6h-1.7zM49.9 41.3h1v2.3h-1zM26.6 27.7h2.3v2h-2.3zM7.9 14.4h2.6v2.8h-2.6zM35.5 10.9h1.5v2.3h-1.5zM54.3 5h1v1.2h-1zM20.4 48.1h1.8v1.5h-1.8z"/><path fill="#CCFF00" d="M34.5 5.1h1.9v1.9h-1.9zM52 12.7h1.3v2.6h-1.3zM48.8 28.8h1.1v3.2h-1.1zM25.3 27.9h1.8v2.6h-1.8zM49.6 46.5h2.7v3h-2.7zM16.8 13.5h3.1v1.2h-3.1zM46.6 31.9h1.4v1.1h-1.4zM52.5 21.5h1.3v1.8h-1.3zM10.7 3.2h1.8v1h-1.8zM39.9 11.5h2.2v1.1h-2.2zM27.9 45.5h1.1v2.3h-1.1zM1.6 16h3.2v1.4h-3.2zM15.3 38.6h2.3v1h-2.3zM28.7 22h2.6v2.1h-2.6zM1.1 32.7h2.6v1.4h-2.6zM31.2 8.6h2.4v1.6h-2.4zM18.4 1h1.6v1.4h-1.6zM11.2 5h1.5v3h-1.5zM33.9 45.2h3.1v1.5h-3.1zM47.4 36.1h1.9v1.8h-1.9zM17.5 31.7h1.9v2.1h-1.9zM31.8 48.9h2.5v2.3h-2.5zM7 0.7h1.4v1.3h-1.4zM42 22.8h1.2v2.8h-1.2zM51.8 34.4h2.5v2h-2.5zM15.8 34.7h3v2.8h-3zM32.4 36.4h2.2v2.1h-2.2zM1.8 31.6h3v1.6h-3z"/><path fill="#175417" d="M47.4 31.7h1.2v1.8h-1.2zM9.2 38h1.8v3h-1.8zM5.3 2.6h2.9v2.1h-2.9zM34.4 2.9h2v2.1h-2zM1.9 31.7h2.4v2.9h-2.4zM27.4 7.2h1.9v3h-1.9zM17.4 20.9h1.8v1.6h-1.8zM47.6 36.5h1v2.1h-1zM40.8 18.9h1.5v1.7h-1.5zM7.2 11.5h2.5v1.2h-2.5zM45.5 42.4h2.2v2.3h-2.2zM42 24.8h1.7v2.5h-1.7zM25.5 32.2h2.6v1.2h-2.6zM8.8 52.2h1.8v2.7h-1.8zM47.9 17.6h1.7v2h-1.7zM13.6 42h3v3.1h-3zM37.9 13.9h1.6v1.5h-1.6zM22.3 15.2h2.3v2.1h-2.3zM14.2 19.8h1.3v2h-1.3zM27.7 45.1h2.9v2.6h-2.9zM38 46.8h1.3v1.1h-1.3zM49.5 30h2.5v3h-2.5zM24.2 3h1.4v2.6h-1.4zM0.9 9.9h1.8v3.1h-1.8zM16.6 5.3h1.9v3.1h-1.9zM41.8 52.7h2v1.1h-2zM41.6 26.6h2.2v2.7h-2.2zM19 43.9h1.3v2.8h-1.3zM24.8 12.6h2.7v2.1h-2.7z"/></pattern>
<pattern id="lgr" width="56" height="56" patternUnits="userSpaceOnUse"><rect width="56" height="56" fill="#7DBE82"/><path fill="#8FD496" d="M7.6 0.6h2.4v2.5h-2.4zM37.6 32h1.6v2.8h-1.6zM23.6 8.9h2.5v1.3h-2.5zM1 3.2h1.9v2.9h-1.9zM25.8 20.6h1.9v2.3h-1.9zM36.5 6.1h1.8v2.5h-1.8zM5.6 29.3h1.9v2.7h-1.9zM50.6 9h3.1v2.1h-3.1zM43.3 45.2h1.1v1.7h-1.1zM33 49.5h3.2v2.2h-3.2zM49.7 42.6h1v2.6h-1zM28.7 38.3h2.4v1.3h-2.4zM17.6 37.1h1.5v1.9h-1.5zM18.6 12.8h1.4v2.5h-1.4zM19.1 15.4h3.1v1h-3.1zM35.9 35.9h2.7v1.9h-2.7zM16.6 7.4h2.1v1.8h-2.1zM21.6 43.7h1.8v1.8h-1.8zM38.7 15h1.9v2.1h-1.9zM33.4 6.9h1.5v1.8h-1.5zM13.3 22.3h3.1v2.6h-3.1zM16.6 19.2h2.3v1.8h-2.3zM20 19h1.5v1.7h-1.5zM36 5.5h2.4v1.2h-2.4zM12.7 10.4h1.6v2.9h-1.6zM24.6 19.5h3.1v1.9h-3.1zM38.2 19.1h2.5v2.4h-2.5zM43.4 20.7h1.1v3h-1.1zM2.8 2.7h1.6v1.9h-1.6zM50.3 7.8h2.1v2.3h-2.1zM41.8 29.2h1.4v3h-1.4zM19.7 21.6h1v2.1h-1zM46.3 34.8h2.7v2.5h-2.7zM6.7 2.3h1.6v1.2h-1.6zM47 52h1.4v2.8h-1.4zM22.7 17.5h1.2v2.1h-1.2zM53.1 48.7h2.2v2.2h-2.2zM37.4 10.9h3.1v2.5h-3.1zM22.5 9.6h1.3v1.4h-1.3zM52.1 49.8h1.9v1.4h-1.9zM12.5 39.9h2.3v1.4h-2.3zM4.7 51.3h3v1.4h-3zM14.6 30h3v1.3h-3zM23.3 52.3h2.6v2.9h-2.6zM52.8 5.6h3.1v3h-3.1zM0.4 12.5h1v1.2h-1zM2.6 46.6h1.7v2.6h-1.7zM38.6 9.4h1.9v1.7h-1.9zM9.6 27.2h2.1v1.3h-2.1zM24.3 6.2h1.4v1.3h-1.4zM45.7 31.2h2.4v2.1h-2.4zM31.7 50.4h1.9v2.4h-1.9zM7.8 10h2.6v1.2h-2.6zM35.2 37.5h2.4v2h-2.4zM49 3.4h1.3v1.4h-1.3zM9.4 3.2h2.8v1.8h-2.8zM13.1 50.4h2.5v1.5h-2.5zM6.5 20.8h2.7v1.8h-2.7zM52.6 48.9h1.3v1h-1.3zM37 5.4h2.3v2h-2.3zM25.4 36.8h3.1v1.6h-3.1zM24.5 42.9h2.4v1.3h-2.4zM43.1 39.7h2.6v2.3h-2.6zM22.7 38.2h2.8v2.8h-2.8zM24.8 16.7h2.3v1.7h-2.3z"/><path fill="#CCFF00" d="M4.1 36.5h1.1v2.8h-1.1zM53.2 51.9h2.1v1.2h-2.1zM28 36.8h1.6v3.1h-1.6zM41.8 20.4h3v2.2h-3zM34.8 46.1h1.7v1.3h-1.7zM5.9 4.6h1.3v1.1h-1.3zM20.4 46.8h2.7v1.7h-2.7zM45.6 20h2.2v2.2h-2.2zM29 33.1h1.1v2.8h-1.1zM52.1 48.4h1.7v1.1h-1.7zM9 25.3h2.5v2.3h-2.5zM49.5 0.5h1.4v1.1h-1.4zM34.1 1.6h1.3v1.8h-1.3zM3 11.9h2.1v2.5h-2.1zM43 22.2h1.9v3h-1.9zM38.8 53.6h1.9v1.7h-1.9zM28 24.9h2.3v2.4h-2.3z"/><path fill="#68A96C" d="M16.9 34h1.9v1.3h-1.9zM9.2 44.8h2.5v1.1h-2.5zM52.1 35.1h2.6v3.1h-2.6zM43.9 26.9h1.8v2.1h-1.8zM27.6 12h2.8v1.9h-2.8zM14.8 18.9h2.5v1.1h-2.5zM18.6 12.9h1.6v2.7h-1.6zM54 53.6h1.1v2.4h-1.1zM8.6 15.4h3.1v3h-3.1zM50.6 37.4h1.8v1.7h-1.8zM38.1 41.3h1.2v1.7h-1.2zM49.7 27.3h2v1.5h-2zM44.9 12.1h2v2.9h-2zM2.5 43.8h2.2v1.6h-2.2zM20.6 46.9h3.1v2.3h-3.1zM53 28.5h1.5v1.6h-1.5zM43.7 19h2.8v2.9h-2.8zM16.4 0.7h2.9v1.1h-2.9zM16.2 10.2h1.4v2.6h-1.4zM33 5.4h1.7v2.9h-1.7zM6.2 37.3h1v1.5h-1zM25.9 10.9h1.5v3h-1.5zM53 40.5h2.3v3.1h-2.3zM9.2 29.4h2.6v2.4h-2.6zM35.9 9.1h2.8v3.2h-2.8zM6.6 45.5h1.7v1.3h-1.7zM49.5 28h2.9v3h-2.9zM29.8 45.4h3v2.1h-3zM15.3 30.5h1.9v2.5h-1.9zM49.7 3.1h2.9v1.7h-2.9zM9.3 23.6h3.1v1.1h-3.1zM50.3 27.3h2.1v3h-2.1zM4.2 8.9h2.9v1.6h-2.9zM35.4 22.6h3.1v2.9h-3.1zM10.6 23.8h2.8v1.3h-2.8zM1.4 17.7h2.7v3h-2.7zM35.1 9.3h2.6v1.3h-2.6zM13.7 40.8h2.5v2.9h-2.5zM40.2 44.2h2v2.5h-2zM34.2 54.1h1.1v1.3h-1.1zM16.7 18.6h2v1.8h-2zM3.2 7.3h1.9v1.6h-1.9zM37.5 38.2h1.2v3.2h-1.2zM4.7 11.3h2.7v2.2h-2.7zM39.6 42.1h2v1.1h-2zM52.2 37.1h2.9v1.1h-2.9zM23.5 9.6h2.3v1.9h-2.3zM46.4 28.6h2.4v2.6h-2.4zM41.9 46.3h2.1v2h-2.1zM51 18.1h2.1v1.3h-2.1zM33.5 43.9h1.5v2.1h-1.5zM27.2 34.4h3.1v2.9h-3.1zM42.3 40.7h2.5v1.5h-2.5zM32.2 47.5h2.5v2.9h-2.5zM14 6.7h1.6v2.9h-1.6zM10.5 39.5h2.9v2.8h-2.9zM30.9 41.3h2.4v1h-2.4zM18.4 27.7h2.4v2h-2.4z"/><path fill="#3E7F41" d="M11.5 15.2h1.1v2h-1.1zM26 33.8h1.5v2.2h-1.5zM13.9 37.2h1.5v1.6h-1.5zM23 12.8h1.3v3h-1.3zM1.6 26.4h3.1v1.8h-3.1zM33.1 45.5h1.4v2h-1.4zM32.9 14.2h2.7v1.9h-2.7zM28.4 35.2h2.2v2h-2.2zM32.9 40.8h1.9v1.9h-1.9zM39.5 50.2h3.1v3.1h-3.1zM26.5 39.8h1v1.5h-1zM25.7 51.5h2.4v2.3h-2.4zM28.1 39.6h2.7v1.5h-2.7zM45.8 34.2h1.4v2.8h-1.4zM40.1 15.2h2.7v2.8h-2.7zM11.8 3.7h2.1v1.4h-2.1zM38.1 52.5h2v2.7h-2zM37.1 27.3h1.7v3.2h-1.7zM29 9.1h2.4v1.3h-2.4zM7.9 52.6h2.5v2.2h-2.5zM5 47.5h2.4v2.5h-2.4zM22.3 22.7h3.1v1.4h-3.1zM48.2 23h1.4v2.2h-1.4zM26.9 36h1.8v3.2h-1.8zM20.4 30h1.4v2.8h-1.4zM48.6 38.7h1.7v1.9h-1.7z"/><path fill="#A3EE05" d="M40.6 49.8h1.8v1.4h-1.8zM31.4 48.7h2.7v1.9h-2.7zM18.8 39.2h2.2v2.5h-2.2zM37.2 50.8h2.1v2.9h-2.1zM50.1 32.6h1.8v1.7h-1.8zM33.7 29.2h2.1v1.4h-2.1zM25 9.3h1.7v2.1h-1.7zM35.7 21.6h1.7v1.7h-1.7zM44.4 23h3v1.3h-3zM43.6 40.4h1.5v1.9h-1.5zM7.3 51.9h1.3v2.3h-1.3zM4.7 9.5h2.8v2.2h-2.8zM14.5 48.7h1.3v1.2h-1.3zM49 20.9h2.5v2.9h-2.5zM43.5 39h2.6v3.2h-2.6zM4.3 41.1h2.4v1.2h-2.4zM52.9 41.3h1.1v3h-1.1zM49 5.7h3.2v1h-3.2zM38.1 30.6h2.7v1.6h-2.7zM34.9 15h1.2v2.5h-1.2z"/><path fill="#B6FEC0" d="M19.8 39.9h2.3v1.8h-2.3zM47 45.6h1.7v1.3h-1.7zM25.2 34h2.1v2.4h-2.1zM17.1 13h1.9v2.2h-1.9zM49.3 5.8h1.6v2.2h-1.6zM1.1 34h2v1.4h-2zM41.7 23.1h2.5v3.2h-2.5zM11.4 23.9h1.3v1.7h-1.3zM12.7 25.7h1.7v2.6h-1.7zM4.9 30.9h2.4v2.2h-2.4zM34 45.5h1.4v2.3h-1.4zM24 17.2h3.2v1.2h-3.2zM15.9 7.4h2.5v1.3h-2.5zM45.8 6.1h2.3v1.3h-2.3z"/></pattern>
<pattern id="teal" width="56" height="56" patternUnits="userSpaceOnUse"><rect width="56" height="56" fill="#9CEBD8"/><path fill="#8FE6D3" d="M10.9 42.7h3v3.5h-3zM35.9 24.4h2.8v2.5h-2.8zM40.1 53.1h3.8v2h-3.8zM31 45.8h3v1.7h-3zM6 40.6h2.8v3.6h-2.8zM33.1 9.6h2.4v2.5h-2.4zM4.3 23.9h2.7v2.6h-2.7zM35.8 12.4h2.9v4.5h-2.9zM30.9 3.3h4.7v3.3h-4.7zM22.2 31.1h3.1v2.9h-3.1zM23.3 52.2h3.2v2.1h-3.2zM29.1 2.8h1.6v1.5h-1.6zM23.7 38.3h3v3.3h-3zM41.7 50.8h4.4v3.2h-4.4zM45.8 2.4h4.5v4h-4.5zM49.7 10.1h2v3.6h-2zM29.5 13.9h3v3.8h-3zM27.1 26.4h2.5v3.9h-2.5zM36.4 38h3.2v3.2h-3.2zM0.8 10.4h4.9v4.5h-4.9zM31 9.1h4.5v2.9h-4.5zM50.4 2.3h2.8v2.1h-2.8zM10.3 8.7h3v2.7h-3zM40.3 46.4h4.1v3.1h-4.1zM36.9 37.4h1.5v2.1h-1.5zM0.9 43.3h1.8v4.3h-1.8zM1.5 3h1.6v1.5h-1.6zM47 28.9h3.8v3.7h-3.8zM19.2 3.7h3.2v4h-3.2zM6.5 38.2h2v1.9h-2zM33.4 31.7h3.3v4h-3.3zM16.1 37.2h3.4v2.2h-3.4zM34.5 6.1h4.5v2.8h-4.5zM43.7 39.7h3.1v4.6h-3.1zM27.8 35.1h2.5v2.2h-2.5zM7.6 33.7h4.8v3.4h-4.8zM47.9 37.3h3.8v4.4h-3.8zM20.1 49.5h3.9v4.4h-3.9zM4.5 48.5h3.5v4.6h-3.5zM26.4 25.1h3.1v2.3h-3.1zM15.9 12.1h3.7v4.4h-3.7zM2.2 35.3h2.4v2h-2.4zM52 24.9h2.3v3.3h-2.3zM25.8 39.2h2.5v1.7h-2.5zM52.6 31.5h2.6v2.2h-2.6zM10.8 48.9h2.9v4.3h-2.9zM33.6 51.6h4.9v4.1h-4.9zM9.1 21.1h2.4v3.8h-2.4zM12.3 21.9h2.2v3h-2.2zM48.3 41.4h3.4v3.6h-3.4zM16.8 44.3h4.7v4.5h-4.7zM42.4 18.5h4.1v3.4h-4.1zM22.2 24.9h1.6v3.6h-1.6zM47.5 21.7h1.7v3h-1.7zM18.7 31.1h4.1v3.5h-4.1zM13.9 54h2.7v1.7h-2.7zM40.9 41.6h2.1v1.5h-2.1zM9.2 27.8h1.7v4.2h-1.7zM49.9 40.6h1.7v2.5h-1.7zM35.3 2.7h3.5v2.4h-3.5zM31.3 3h3.8v2.7h-3.8zM0.2 28.4h2.1v4.6h-2.1zM47.9 31.9h2.7v2.2h-2.7zM48.9 10.2h2.1v1.5h-2.1zM7.7 32.8h4.7v3.6h-4.7zM19.2 0.2h4.1v4.4h-4.1zM46 25.5h4v2.5h-4zM49.6 14.8h4.7v4.1h-4.7zM37.1 47.2h4.7v4.5h-4.7zM18.8 17.7h2.5v4.9h-2.5zM21.9 47.6h3.3v5h-3.3zM36.2 15.8h2.3v3.4h-2.3zM3.4 20.7h3v1.6h-3zM19.6 5.5h2.1v4.9h-2.1zM3.7 36h1.6v2.3h-1.6zM36.5 13.7h4.6v3.2h-4.6z"/><path fill="#73D5C6" d="M27.2 17.7h3.8v2.1h-3.8zM44.6 7.9h3.8v3.4h-3.8zM23 0.3h3.2v2.7h-3.2zM33.8 48.2h3.9v3h-3.9zM3.6 22.1h4.5v3.8h-4.5zM51.2 51.3h2.9v4.3h-2.9zM45.4 0.8h1.7v4.5h-1.7zM42.5 40.2h3.5v3.3h-3.5zM42.1 44.3h5v2.1h-5zM51 6.4h2.9v1.8h-2.9zM33 31.2h2.7v4.7h-2.7zM19.7 0.8h4.9v1.9h-4.9zM32.8 39.6h4.3v3.5h-4.3zM36.2 10.2h4.2v2.9h-4.2zM24.5 47.5h3v1.8h-3zM20.3 1.2h4.5v4.4h-4.5zM53.9 16.6h1.6v2.1h-1.6zM2.3 13h1.6v3.1h-1.6zM41.5 36.7h2.7v3.4h-2.7zM8.8 25.1h1.6v4.1h-1.6zM29 47.2h3.2v4.6h-3.2zM34 38.2h4.3v4.3h-4.3zM10 37.2h3.3v4.3h-3.3zM9.2 41.1h3.5v4.7h-3.5zM42.5 36.1h3.7v4.5h-3.7zM44.7 46.7h1.7v4h-1.7zM12.9 40.6h3.8v4.1h-3.8zM16.6 14.6h4.3v2.9h-4.3zM29.5 2.5h4.9v2.6h-4.9zM36 14.9h4.5v2.1h-4.5zM34.2 40.9h3.4v4.8h-3.4zM29.8 47.7h4v1.7h-4zM29 42.9h2.8v3.8h-2.8zM29.1 43.3h2.4v5h-2.4zM4 32.3h2.8v2.4h-2.8zM30.5 32.7h2.5v4.5h-2.5z"/><path fill="#AAF6E0" d="M2.3 43.9h4.8v5h-4.8zM2 26.3h2.3v2.9h-2.3zM51.1 22.4h2.1v4.3h-2.1zM34.3 44.3h3.1v2.1h-3.1zM53.7 25.7h1.9v3.1h-1.9zM36.9 33.6h2.3v3.7h-2.3zM11.3 5.2h1.8v2.2h-1.8zM11 31.9h3.7v3.7h-3.7zM24.8 40.7h1.7v2.4h-1.7zM38.5 25.7h3v2.7h-3zM32.6 14.7h2.6v4.1h-2.6zM42.6 50.7h2.1v1.8h-2.1zM9.9 29.3h4.1v4.8h-4.1zM52.4 1.6h3.6v4.5h-3.6zM38.1 31.4h2v4.5h-2zM10.2 22.9h3.5v3.1h-3.5zM32.5 30.7h4.8v2.2h-4.8zM2.6 9h2.6v4.8h-2.6zM21.6 26.9h4.6v3.5h-4.6zM15.1 34.7h4v2.6h-4zM30.2 21.1h3.7v3.2h-3.7zM10 44.1h2.7v4.9h-2.7zM18.4 32.5h4.7v4h-4.7zM31.4 21.9h2.4v3.7h-2.4zM17.9 1.8h2.8v3.1h-2.8zM8.3 4.2h2.1v3.1h-2.1zM32.2 1.5h4.5v2.1h-4.5zM25.5 21h3.8v2h-3.8zM23.4 36.4h4.8v2h-4.8zM24.7 16.6h1.7v2.8h-1.7zM44.6 11.1h3.8v3.1h-3.8zM20.7 11.2h2.1v2.1h-2.1zM25.4 19.2h3.6v2h-3.6zM40.5 46.2h3.9v3.3h-3.9zM45.5 6.1h4v3.1h-4zM0.4 44.8h2.8v1.8h-2.8zM31 1.2h4.1v4.7h-4.1zM1.5 29.2h2.1v4.2h-2.1zM18.3 22.2h3.9v3.1h-3.9zM3.6 30.7h4v3.1h-4zM25 36.7h4v4.4h-4zM22.4 27.2h2.9v3.3h-2.9zM14.7 14.4h1.7v4h-1.7zM14.6 8.1h1.8v3.8h-1.8zM5.5 12.9h2.7v4.9h-2.7zM14.5 8h3.1v2.9h-3.1zM46.3 36.8h4.6v2.1h-4.6zM33.3 43.6h4.9v1.8h-4.9zM28.3 48h3.2v4.4h-3.2zM24.2 9.6h4.6v3.5h-4.6zM23.6 9.1h1.8v4.5h-1.8zM0.9 29.3h4.2v3.5h-4.2zM20.1 17.7h3.3v4h-3.3zM45.6 43.8h3.5v3.5h-3.5zM14.7 40.1h2v2h-2zM10.7 39.6h3.7v3.5h-3.7zM32.6 48.3h2v3.3h-2zM15.6 50.3h4.3v3.2h-4.3zM23.2 5.9h1.7v2.7h-1.7zM22.8 2.7h1.7v2.3h-1.7zM32.2 15.5h3.3v3.6h-3.3zM0 11.9h2.9v3.4h-2.9zM42.9 34.8h4.4v4h-4.4zM24.9 16.6h2.6v4.6h-2.6zM18.5 17.1h4.7v1.8h-4.7zM32.7 28.7h2.3v3.4h-2.3zM34 3h4.7v4.5h-4.7zM4 40h4.3v3.7h-4.3zM6.9 34.9h2.3v3.1h-2.3zM23.2 23h2.5v3h-2.5zM29.3 37.1h4.1v4.6h-4.1z"/><path fill="#B6FEC0" d="M0.2 7.3h3.6v1.7h-3.6zM48 16.7h2.6v2.8h-2.6zM50.8 14.6h4.2v4.9h-4.2zM38.2 36.8h4.6v3.1h-4.6zM36.9 2.7h2.6v1.7h-2.6zM20.9 30.8h3.3v2.7h-3.3zM19.5 2.7h4.3v2.8h-4.3zM15.6 44.1h2.1v2.2h-2.1zM40.9 41.8h3.3v2.8h-3.3zM51.5 50.3h4v1.9h-4zM20.5 46.6h2.3v2h-2.3zM44.9 30.7h3.4v4.1h-3.4zM36.4 15.5h3.7v4h-3.7zM6.1 21.3h4.1v3.1h-4.1zM46.2 25h2v3.8h-2zM45.3 0.9h2.9v3.5h-2.9zM2.5 44h2.5v4.3h-2.5z"/></pattern>
</defs>
<path d="M200 201.5 204 200.4 208 201.3 212 201.5 216 200.4 220 197.6 224 199.5 228 204.2 232 199.7 236 196.3 240 201.9 244 202.1 248 199.2 252 195.8 256 201.3 260 202.2 264 201.9 268 199.9 272 200.5 276 200.4 280 201.3 284 201.2 288 200.9 292 197.8 296 201.7 300 198.8 304 198.6 308 202 312 198.8 316 198.4 320 199.1 324 199.6 328 197.7 332 195.3 336 198.9 340 199.9 344 198.8 348 198.9 352 200.4 356 195 360 197.9 364 199.9 368 199.2 372 199.3 376 201.7 380 201.9 384 201.2 388 200.2 392 201.1 396 199.4 400 201.1 404 199.9 408 200.6 412 200.6 416 199.2 420 201.7 424 199.3 428 202.3 432 202.3 436 198.6 440 201.9 444 202.4 448 199.2 452 197.7 456 200 460 200 464 199.4 468 200.9 472 201.9 476 199.4 480 197 484 201.9 488 199.2 492 198.4 496 200.2 500 199.5 504 200.9 508 202 512 201.9 516 201.3 520 196.5 524 200.3 528 197.7 532 198.6 536 199.6 540 202.1 544 197.8 548 201.6 552 195.9 556 200.7 558.5 200 559 204.3 558.7 208.6 560 212.9 561.7 217.1 560 221.4 557.6 225.7 558.7 230.4 562.7 233.4 563.1 237.5 563.6 241.5 566.9 244.7 567.1 248.8 565 253.7 567.8 257 570.9 260.3 572.2 264.1 570.3 268.8 574.6 271.7 570.9 277 572.9 281.3 575.4 284.8 579.4 287.3 582 290.8 584.1 294.6 585.2 298.9 590.3 300.8 591.9 304.8 594 308.6 596.3 312.2 595.9 317.5 600.2 319.6 602.7 323.6 606.7 324.8 611.7 323.9 614.6 327.1 617 331.4 620.7 333.1 625.8 332.1 628.7 335.4 632.1 337.6 635.5 339.9 640 341.1 644.2 338 648.2 340.9 652.4 340.1 656.4 342.4 660.6 342.3 664.8 340.3 668.7 345 675 341 672.2 345 674.1 349 674.7 353 677 357 675.5 361 672.1 365 671.8 369 672.3 373 674.5 377 675.3 381 671.8 385 675 389 672.9 393 671.7 397 672.4 401 672.5 405 674.6 409 671.5 413 668.6 417 674.6 421 672.2 425 670.5 429 674.2 433 672.4 437 671.6 441 673.1 446.2 668.8 444.2 664.5 444 660.4 444.6 656.2 445.3 653.8 446.3 649.3 449.7 651.4 454.1 650.5 458.1 651.5 462.4 649.2 466.1 648.5 469.8 647.1 474.8 650.9 478 653.9 481.4 652.5 486.4 654.3 489.8 652.1 494.1 651.4 498.7 652.6 503.9 648.7 508.3 652.5 512.1 654.3 516.3 652.1 521.4 654.5 525.5 658.3 530.8 652.6 533.6 652.9 538 649.6 541.4 652.7 546.4 651.8 549.6 649 554.5 649.9 558.7 651.9 562.6 655.8 566.2 655.1 570.7 652.8 574.7 658.2 579.6 654.9 583.4 655.8 587.8 649.9 591.3 654 596 651.5 600 652.1 604.2 649.9 608.2 653.2 612.7 650.5 616.7 651.3 620.9 653.5 624.3 653 628.7 649.4 633.8 653.9 637.2 653.1 641.7 654.8 645.7 653.9 649.8 656.4 654.4 652.3 658 651.3 662.1 653.1 666.6 649.5 670.3 650.7 674.7 648.3 678.5 650 682.9 645.8 685.2 641.7 684.8 637.5 684.9 633.3 685.5 629.2 684.8 625 681.2 620.8 678.2 616.7 682.6 612.5 683.4 608.3 683.9 604.2 684.7 604.4 683 602.1 687 600.2 691 598 695.1 600.1 699.1 599.6 703.1 600.1 707.1 600.9 711.1 601.5 715.1 600.9 719.2 599.7 723.2 602.4 727.2 597.5 731.2 597.7 735.2 600.3 739.3 598.5 743.3 601.9 747.3 599.9 751.3 601 755.3 597.7 759.4 601.2 763.4 597.8 767.4 598.4 771.4 600.3 775.4 598 779.4 598.1 783.5 600.5 787.5 599.7 791.5 598.6 795.5 600 799.5 601.8 803.6 600.9 807.6 601.8 811.6 595.7 815.6 598.6 819.6 599.5 823.6 600.3 827.7 597.8 831.7 601.2 835.7 601.7 839.7 601.1 843.7 601.5 847.8 598 851.8 600.6 855.8 600.8 859.8 600.6 863.8 595 867.9 600.9 871.9 600.5 875.9 597.7 879.9 598.2 883.9 599.5 887.9 596.3 892 598.7 896 600 902.2 596 900.1 592 900.5 588 897.6 584 898.1 580 898.2 576 900.1 572 903.6 568 901.6 564 897.7 560 900 556 902.1 552 901.2 548 900.1 544 900.3 540 902 536 898 532 898 528 898.3 524 898 520 897.8 516 898.2 512 898.7 508 898.3 504 900.8 500 897.8 496 900.5 492 899.6 488 901.6 484 902.2 480 902 476 897.6 472 898 468 904.4 464 898.4 460 901.1 456 899.6 452 898.1 448 900 444 902.2 440 901.8 436 898.6 432 900.1 428 900.8 424 899.4 420 900.1 416 901.5 412 898.5 408 898.5 404 901.9 400 901 396 900.8 392 901.3 388 902.3 384 900.2 380 898.5 376 902.3 372 900.2 368 901.5 364 902.3 360 898.6 356 897.9 352 898.3 348 900 344 901.2 340 900 336 898 332 895.2 328 901.3 324 902.1 320 901.7 316 900.8 312 898.7 308 898.4 304 897.9 300 901.2 296 898.3 292 901.9 288 899.3 284 899 280 902.1 276 895.8 272 899.6 268 899.3 264 901.9 260 898.2 256 899.7 252 898.2 248 900 244 899 240 900.2 236 898.7 232 901.5 228 897.8 224 898.6 220 901.1 216 902.4 212 898.1 208 898.6 204 898.6 195.5 900 202.1 896 198.9 892 198.1 888 201.3 884 198.5 880 200.7 876 201.8 872 202 868 200.6 864 199.3 860 198.8 856 197.2 852 200.8 848 200.9 844 200.8 840 199.5 836 201.1 832 203.1 828 198.2 824 201.3 820 198.9 816 199.4 812 199.7 808 200.5 804 199.4 800 200.3 796 199.2 792 197.9 788 199.9 784 201.9 780 199.7 776 201 772 197.6 768 202.4 764 200.9 760 201.6 756 201.5 752 200.8 748 204.3 744 199.7 740 199.7 736 198.6 732 202.2 728 199.3 724 197.6 720 199.2 716 197.8 712 201 708 199 704 200.3 700 200.6 696 199.4 692 202.4 688 197.4 684 200 680 201.4 676 197.7 672 199.3 668 200.4 664 204.5 660 198.6 656 200.4 652 197.7 648 199.1 644 200.5 640 203.5 636 203.1 632 200.2 628 198.5 624 201.1 620 200.3 616 200.1 612 203.2 608 201.9 604 200.6 600 200 596 200 592 201.1 588 198.9 584 201.2 580 199.6 576 197.6 572 201.7 568 198.5 564 200.7 560 201.6 556 199.2 552 199 548 198.4 544 202.2 540 199 536 200.5 532 201 528 201.3 524 204.9 520 199.2 516 199.2 512 200.6 508 201.9 504 199.2 500 197.7 496 199.2 492 197.6 488 198.5 484 202.2 480 199.9 476 199 472 199.6 468 201.3 464 202.2 460 200.7 456 199.9 452 202.3 448 200 444 199 440 201.8 436 200.2 432 200.9 428 200.9 424 201.2 420 202.5 416 201.1 412 200 408 197.7 404 199.2 400 199.2 396 201.4 392 200.4 388 201.2 384 201.7 380 198.4 376 203 372 198.5 368 197.9 364 195.1 360 201.3 356 197.5 352 201.9 348 197.9 344 204.8 340 204.9 336 200.3 332 198.6 328 197.8 324 201.8 320 197.8 316 200.2 312 202.1 308 202.4 304 196.7 300 201.1 296 198.7 292 200.4 288 199.2 284 203.8 280 202.1 276 201.4 272 198.9 268 197.6 264 202.4 260 197.8 256 200 252 198.3 248 201.6 244 200.1 240 201 236 197.8 232 199 228 200.8 224 203.9 220 200.7 216 197.9 212 200.4 208 198 204Z" fill="#FDAC52"/>
<path d="M516.9 246.5 512.3 247 509.4 247.9 504.8 247.5 500.8 244.6 502.8 242.2 504.1 240.1 507.5 238.7 509.4 240.6 512 241 514.4 243.6Z" fill="#FD9633"/>
<path d="M557.2 417.2 555.5 420.4 553 419.5 550.8 418.9 548.4 416.9 548.5 412.7 544.6 412.2 541.7 409.8 544.2 407.3 545.7 403.4 548.8 404.4 552.7 405.2 553.9 408.3 555.7 411 558 412.9 559.8 415.3Z" fill="#FD9633"/>
<path d="M454 249 451.3 248.6 446.3 248.4 447.2 244.3 447.7 240.6 450.8 239.9 453.4 238.4 456.8 240.9 459.5 245.4 456 247.8Z" fill="#FDD98F"/>
<path d="M433.1 333.4 431.3 336.2 428.6 338 426.1 335.3 422.7 333.9 421.1 330.4 417.8 328.1 418.7 324.6 418.5 321.3 421.6 320.6 424.9 320.4 428.4 319.3 433 320.2 435.4 321.3 437.4 323.5 439.9 323.9 439.1 327.5 438.3 330.8 435.6 331.9Z" fill="#FD9633"/>
<path d="M378.7 268.4 376 266.6 378.3 264.7 380.1 262.2 382.4 262.8 384.2 263.6 385.9 265 385.2 267.5 382.3 269.2 380.6 268.1Z" fill="#FDC270"/>
<path d="M556.1 421.6 553.3 420.4 552 416.9 548.9 417.2 546 416.7 544 417.6 541.6 415.7 539.4 413.7 538.7 411.2 538.1 408.3 539.1 406 539.4 403 538.4 400.3 541.4 400.7 544 402.1 547 401.6 550.3 400 551.5 403 552.9 405.9 554.3 408.1 553.6 410.7 552.9 412.8 553.5 415.9 554.7 418.7Z" fill="#FDC270"/>
<path d="M512.5 524.1 511.2 526.4 511.4 529 508.3 527.8 505 527.1 501.4 528.2 498.5 527.5 494.4 526.7 494.8 521.3 499.3 519 500.2 516.3 501.9 514.7 504.7 515.6 507.2 516.6 508.3 521.1Z" fill="#FD9633"/>
<path d="M337.4 333 334.5 336 331.2 333.5 331.5 330.1 330.8 326.9 333.3 323.3 336.5 325.2 340.4 326.1 339.3 329.3 340.7 332.2Z" fill="#FD9633"/>
<path d="M434.8 509.8 431.7 510.4 429.9 508.3 427.3 507.4 426.3 504.5 427.8 503.7 428.6 502.9 431 504.7 434.6 504.6 432.9 507.6Z" fill="#FDC270"/>
<path d="M640.2 452.3 635.7 452.8 632.9 454.4 630.8 455.5 628.7 453.6 628.1 451.2 626.1 448.9 626.4 444.7 625.6 442.1 624.2 439.9 623.7 437.4 626.9 437 630.1 436.7 633.3 437 637.7 436.5 637.1 440.3 638.7 443.2 640.5 445 642.4 446.8 644.1 448.3 641.3 449.2Z" fill="#FD9633"/>
<path d="M428.4 334.3 425.7 334.2 423.2 333.3 420.4 331.9 420.3 328.5 422.5 325.7 424 322.7 423.8 319.3 425.3 316.3 425.5 313.8 428.3 313.9 431 313.9 434.1 313.1 437.8 316.1 440.7 316.8 442.7 317.5 443.4 320.9 443.6 324.2 442.6 326.5 441.9 329.1 441 331.6 438.2 333.6 436.5 336.5 434.5 339.6 432.2 338.2 430.3 336.4Z" fill="#FDD98F"/>
<path d="M596.8 494.4 593 492.7 589.6 491.7 588.2 487.6 588.4 484.1 591.5 480.9 595.8 479.8 599.2 482.4 597.8 487.1 596.4 489.7Z" fill="#FD9633"/>
<path d="M474.4 470.1 472.4 468.1 476.3 467 478.4 464.2 481.7 464.3 481.8 467.1 483 468.7 482.6 473 478.2 473 476.1 470.9Z" fill="#FDC270"/>
<path d="M430.3 325.5 429.8 322.9 427.4 320.3 430.2 317.5 433.5 317.2 436.5 317.6 436.1 320.4 437.6 323.1 434.8 325.6 431.3 329.1Z" fill="#FDC270"/>
<path d="M424.3 426.3 423.8 428.5 420.7 432.3 418 431.2 417.4 428 413.4 426.6 415.3 423.8 416.4 421.9 419.2 420.7 422.7 421.6 427.5 423.7Z" fill="#FD9633"/>
<path d="M270.5 273.4 268.1 274.5 266.4 276.2 263.8 276.5 261.1 276.9 257.8 277.7 255.5 278 251.5 277.5 249.9 273.9 252.6 272.7 253.7 270.5 253.2 266.4 255.9 267 258.7 267 261.5 264.7 265 264.1 267.9 266.5 269.9 268 270.3 270.8Z" fill="#FDD98F"/>
<path d="M409 559 409 562.2 409.4 565.5 406 566.1 402.5 567 397.8 565.2 394.6 562.1 393.9 558.3 396.1 555.6 396.1 552.3 397.3 549.1 400.8 548.1 404.8 548.1 404.3 551.9 405.6 555.4Z" fill="#FDC270"/>
<path d="M547.1 464.9 544.9 463.3 542.5 462.4 539.1 461.4 536.4 460.5 533.4 458.8 533 455.3 532.8 452.2 534.7 449.6 536.8 446.5 539.8 447.2 543.2 447.7 544.1 450.5 545.7 452.7 547.9 455.8 547.7 459.4 547.2 461.9Z" fill="#FDC270"/>
<path d="M366.3 290.2 364 290.7 361.6 290.7 358.7 289 361.1 286.6 359.8 283.1 362.9 282.7 363.9 284.7 365.9 286 365.8 287.6Z" fill="#FDD98F"/>
<path d="M446.9 303.1 444.4 302.3 441.6 302.3 441.7 299.8 442.5 297.3 442.7 294.8 442.4 291.8 442.5 288.9 442.8 286.1 446 284.9 449.7 284.5 452.1 281.7 455.9 279.7 456.4 283.1 458.6 285.7 459.7 289.2 461.1 292.5 460.9 295.1 460.2 297.5 458.4 299.6 458.5 302.7 456.2 304.1 453.3 304.4 451.5 306.1 448.8 305.4Z" fill="#FDD98F"/>
<path d="M487.1 289 485.5 286.4 482.9 284.6 481.2 281.7 484.1 280.9 486.5 279 489.1 277.9 492.1 277.1 495.2 276.4 498.3 275.5 501.1 274 504.6 272.8 503.9 276 505.2 278.8 505.3 281.8 503.4 284.2 501.7 287.2 503.9 289.7 504.2 292.6 504 295.2 501.4 296.2 499.3 298.4 497.7 297.9 495.7 295.9 492.2 295 491.7 291.7 489.8 289.9Z" fill="#FDC270"/>
<path d="M620.6 432.9 619.9 429.6 622 426.6 624.9 422.2 628 424 631.7 424.6 634.8 424.9 635.9 428 637 431.4 634.9 433.9 632.5 436.2 630 438.2 627.7 439.7 624.3 440.1 621.2 439.7 620.5 436.2Z" fill="#FD9633"/>
<path d="M592.3 336.2 591.5 338.3 589.6 339.4 587.5 339.3 584.4 337.1 586.8 334.9 586 331.6 589 330.4 591.7 330.9 593.5 334.4Z" fill="#FDC270"/>
<path d="M446.7 273.2 444.4 271.2 444.1 268.1 442.5 265.5 438.9 263.1 438.9 259.8 440.7 256.7 440.5 253.8 440.2 251.4 443.1 247.4 444.2 249.9 446.1 251.6 449.4 254.4 449.9 257.3 452 259.2 452.7 261.9 450.8 264.2 451.6 267.2 450.6 269.5 448.3 271.3Z" fill="#FD9633"/>
<path d="M459.6 325.1 462.7 322.9 462 318.8 466.5 316.3 470.8 314 473.2 311.9 475.9 310.7 478.5 310.2 480.4 312.4 481.6 315 481.9 317.7 482.4 321.3 481.9 324.7 480.8 327.7 480.5 330.8 480.4 334.1 477.3 333.3 474.3 331.9 471.1 330.3 468.5 331.3 466 332.7 462.7 333.4 462.3 330.7 462 328Z" fill="#FDC270"/>
<path d="M552.5 472.2 550.6 470.1 548.4 468.4 546.5 466 547.4 463.5 548.4 461.1 550.4 459.1 550.8 454.1 553.5 453.5 555.2 451.6 558.1 451.7 560.7 450.5 562.4 452.8 563.3 455.8 565.7 458.4 569.5 460.6 566.9 463.2 565.6 466.6 562.9 468.6 560 470.4 557.2 470.6 554.4 471Z" fill="#FDC270"/>
<path d="M430.4 403.2 426.9 405.1 425.4 406.8 422.8 405.1 418.8 405.3 417 403.1 418.4 401.1 422.3 399.7 425.8 401.2 428 402.5Z" fill="#FD9633"/>
<path d="M474.5 428.2 474 430.6 471.3 431 470.4 428.1 469.4 426.2 469.4 423.8 471.4 422.5 474.4 422.7 475.4 425.2 476.6 427.8Z" fill="#FDD98F"/>
<path d="M620.3 521.3 619.2 517.6 617.5 516.2 618.9 513.8 618.5 511.9 620.2 510.3 621.2 511.9 623.9 512.2 623.3 515.7 622.4 518.2Z" fill="#FD9633"/>
<path d="M455.5 480.7 457 478.3 456.6 475.7 458 473.4 458.5 470.4 459.7 467.7 460.7 464.2 462.6 460.8 465.8 460.1 468 457.8 471.2 455.8 473.5 458.4 476 460.7 478.1 463.8 482 466.4 479.5 468.7 478 471.5 477.2 474.2 476.5 478.1 473.5 479.6 470.9 481.8 468 481.1 465.5 482.7 462.6 483.3 459.4 481.9Z" fill="#FDC270"/>
<path d="M580.6 301.8 577.6 303.8 577.6 299.2 574.1 296.7 576.5 295.2 577.8 294 578.9 295.2 580.9 295.6 583.7 298.2 582.3 300.1Z" fill="#FDC270"/>
<path d="M605.2 259.5 603.5 262.4 602.7 265.5 601.3 263.4 599 262 598.1 259.5 598.3 256.1 597.8 252.7 599.1 249.4 600 245.8 602 243.3 603.2 245.6 605.1 247.6 605.1 250.7 608 252.9 610.5 254.9 609.5 257.9 609.5 261.8 607.6 259.8Z" fill="#FDD98F"/>
<path d="M386.3 517 386.3 520.5 382.4 517.7 378.8 518.6 377.9 516.5 376.6 513.1 378.4 509.4 382.3 512.3 385.7 512 386.7 514.3Z" fill="#FD9633"/>
<path d="M308 391.6 305.6 389.6 303.3 386.4 305.9 385 307 382.4 308.9 379.8 312.9 380.8 316.3 379.1 318.5 377.4 320.6 375.5 323.6 374.4 325.7 376.6 328.2 377.2 331.3 377.5 329.5 379.4 326.9 380.6 325.7 382.9 324.1 385.1 322.6 389.6 321.8 392.4 320 394.6 318.6 396.6 316.2 395.6 313.5 397.1 310.6 396.4 310 393.5Z" fill="#FD9633"/>
<path d="M461.8 256 460.1 254 457.8 252.4 456.5 250.1 454.8 248.3 457.6 247.7 460.6 247.7 463.2 245.8 465.8 246.2 467.8 243.5 468.8 240.5 469.9 239 473.4 238.3 475.9 240 478.8 241.2 479.3 243.9 480.9 246 482.2 248.2 485.1 250.3 485.4 253.5 486.4 256.6 484 258.6 480.7 259.2 478.5 261.4 476.3 263 473.5 263.5 471.7 265.4 468.7 265.7 465.7 265.5 462.2 265.2 463 262 461.5 259Z" fill="#FD9633"/>
<path d="M589.8 293.6 589.7 288.6 592.9 286.2 595.8 283.1 598.4 280.7 601 281.9 601.3 284.7 602 287.3 604.4 288.9 605.7 290.7 602.8 292 599.7 293.3 598.3 296.3 597.4 299.4 594.2 298.6 591.4 299 589.4 296.4Z" fill="#FD9633"/>
<path d="M305.1 243.9 304.6 240.2 302.4 236.5 304.4 234.3 305.7 231.5 307.9 229.6 309.9 227.6 314.2 229.1 312.6 234.1 313.2 236.8 313.8 239.5 312.8 242.3 308.5 243Z" fill="#FDC270"/>
<path d="M554.1 499.4 549.2 499.3 547.5 496.5 544.8 495 542.4 492.9 538.5 491 540 486.3 543.7 485.1 543 481.6 543.1 478.8 545.7 479.2 547.5 481.2 550.5 481.7 551.2 485.3 551.7 488.9 552.4 491.4 553.9 493.6 554.4 496.2Z" fill="#FDC270"/>
<path d="M653.1 424.2 653.3 427.5 650.6 427.7 648.4 428.2 645.6 429.3 642.7 429.5 640.1 427.9 637.5 426.8 639.8 422.9 639.1 420.1 637.8 417.9 641.4 417 645 417.3 648 417.9 650.4 418 651.8 421.4Z" fill="#FDD98F"/>
<path d="M448.1 536.1 443.4 537.4 440.3 538.9 437.6 540.9 435 542.5 432.4 540.4 430.4 537.8 431.7 534.9 430 531.2 432.2 528.9 433.9 526.7 436.2 524.1 439.2 523.3 440.8 526.5 443.3 528.7 447.4 530.9Z" fill="#FD9633"/>
<path d="M307 432.1 309.2 430.2 311.2 427.9 313.5 423.9 316.2 421.4 319.1 419.2 321.4 421.4 324.5 422.2 327.2 423.3 330.2 425.5 327 427.5 324 429.7 322.5 433.3 319.8 434.6 317.3 436 314.9 435.1 312.5 434.1 310 432.8Z" fill="#FD9633"/>
<path d="M479 427.5 477.4 426.3 475.9 424.3 475.9 421.4 477.8 418.5 480.1 419.7 480.6 421 482.5 423 481.3 425 480.1 426.6Z" fill="#FD9633"/>
<path d="M463.7 543.5 461.4 543.2 459 540.8 455.8 540.1 452.5 535.8 455.4 534 458.2 535.4 460.2 536.9 464.1 537.2 465.3 540.8Z" fill="#FDD98F"/>
<path d="M293.5 450.8 291.7 449.4 289.2 446.5 291.3 444.7 293.2 442.6 295.4 439.3 297.5 436 300.7 438.5 299.8 441.3 298.8 444.1 298.9 447 299 449.7 295.3 451.9Z" fill="#FD9633"/>
<path d="M467.7 271.5 467.8 267.2 470.6 266.6 472.7 264.8 475.3 264.2 477.4 262.1 480.8 264.2 483.5 264.3 486.6 265.1 483.9 268.7 483.4 271.4 481.9 273.8 478.4 274.3 475.4 276.2 471.5 272.9Z" fill="#FDC270"/>
<path d="M609.6 530 603.7 528.8 605 525.7 605.2 522.5 607 519.3 607.9 515.8 610.6 512 611.6 514.4 612.7 516.4 615.7 519.1 613.5 523 612.9 525.7 613.8 529.2Z" fill="#FD9633"/>
<path d="M356.1 562.8 357.5 558.2 359.1 555.5 360.4 552.4 362.3 550.6 365.2 549.8 366.1 547.3 370.9 547.8 374.9 548.3 377.9 551.2 375.7 552.6 374.3 554.8 372 556.2 370.4 558.2 369.2 560.5 368 563.4 365.1 562.9 362.2 562.8Z" fill="#FDC270"/>
<path d="M355.5 455.9 358 451.7 358 448.7 358.4 445.1 361.5 444.9 363.2 442.7 365.4 442.4 367.9 443.6 370.3 445 373.5 444.2 376.8 444.8 379.9 443.7 378.8 446.4 377.1 448.7 375.3 450.9 372.7 452.5 371.9 455.7 368.9 457 365.8 458.7 362.4 457.8 358.7 459.8Z" fill="#FD9633"/>
<path d="M555.8 289.3 554.6 292.9 551.1 292.9 547.6 289.2 545.4 286.3 546.5 282.9 550.4 282.6 553.6 279.3 555.9 280.4 557.1 282.6 560.2 287.4Z" fill="#FD9633"/>
<path d="M507.4 326.2 505.9 329 502.6 326 502.4 323.3 502.5 320.9 502.8 316.9 500.3 314.1 502.6 315.2 505 316.9 507 315.5 509.2 318.4 510.7 321.2 513.7 323.2 513.6 326.3 511.9 330.3 510.1 328.2Z" fill="#FD9633"/>
<path d="M362.8 240.7 362.6 244.2 361.3 247 357.9 248.3 354.4 247.7 351.7 247.5 348.8 247.9 346.5 246.7 344.7 244.4 343.8 241.8 343.4 238.9 345.6 237.3 348 235.9 351.1 233.8 349.4 230.6 349.7 227.4 350.1 223.5 351.9 226.4 355.3 226.8 357.6 228.8 360.5 229 361.8 231.1 363.8 233.3 365.5 236.1 363.7 238.2Z" fill="#FDD98F"/>
<path d="M415.8 469.6 418.5 465.8 419.5 461 422.6 460.5 425.7 460.6 429.2 459.1 432.4 456.8 433.2 460.6 434.4 463.2 433.8 466.2 431.8 468.2 428.6 469 425.4 469.7 422.1 470.9 419.3 472Z" fill="#FD9633"/>
<path d="M623.4 424.9 620.6 423.2 618.6 421.2 615.4 420 613.5 417.7 611.6 414.6 609.1 411.6 609.7 408.6 610.1 405.7 609.6 403.3 612.7 401.5 616.1 401.2 619 402.1 621.9 403 624.6 402.9 627.2 403.4 630 404.9 629.6 408 630.2 410.9 629.8 414 630.2 416.8 630 419.6 629.2 421.9 626.3 423.8Z" fill="#FDC270"/>
<path d="M270.2 363.1 267 362.9 263.8 363.4 260.4 363.4 258.2 361.5 255.6 361.6 252.6 361.3 249.9 362.4 246.7 361.5 244.5 363.7 246.1 361.4 246.9 358.6 248.6 356.3 250.4 353.9 250.7 351.2 249.9 348.4 252.4 347.5 254.6 346.5 257 344.9 259.1 342.9 262.1 340.7 263.6 343.2 265.7 345.1 267.6 347.1 268.5 350.7 268.1 354.4 268.3 357.5 269.1 360.5Z" fill="#FD9633"/>
<path d="M336.9 279.1 335.1 277.2 334.7 274.4 332.1 272.6 332.8 270.1 334 267.8 334.1 265.7 337.5 264.5 341 263.4 343.7 261.5 345.6 257.9 348.5 260 352.5 260.2 353.2 263.9 355.9 266.3 353.7 269 352.9 272.3 351.1 275.3 350.8 278.4 347.3 279.4 344.2 281 340.6 279.8Z" fill="#FDC270"/>
<path d="M634.4 313.1 633.9 316.1 629.8 316.4 627.4 317.3 624.1 315.5 621.5 312 623.2 307.8 627.2 306.9 630.8 308 635.4 309.2Z" fill="#FD9633"/>
<path d="M542.3 349.5 542.1 347 541.1 344.7 540.5 341.1 538.7 337.3 540.5 335.2 542.3 333 544.8 330.7 547.1 332.5 549.3 334.4 551.3 336.7 554.9 336.2 559 335.9 558.5 339.2 557.9 342.5 556.5 344.7 555.8 347.3 554.3 350.3 553.2 353.5 550.3 354.7 547.6 356.3 545.3 358.5 543.9 355.6 543.6 352.4Z" fill="#FDD98F"/>
<path d="M357.1 495.4 354.7 495.7 351 493.2 347.3 494.1 348.3 490.9 347.7 487.1 350.4 486.4 354.1 485.2 356.4 488.1 357.8 491.6Z" fill="#FD9633"/>
<path d="M581.5 389.7 577.6 389.5 578.7 385.4 579.2 382.9 578.9 381.5 583.1 381.3 585.2 379.7 586.8 377.1 588.5 380.6 587 384.7 586.4 387.1 586.7 389.5 583 388.6Z" fill="#FD9633"/>
<path d="M408.1 331.5 405.9 331.2 405.1 327.6 405.4 325.4 405.2 323.3 407.1 323.1 408.8 323 412.6 324.4 409.9 327.5 409.5 330.4Z" fill="#FDC270"/>
<path d="M517.6 510.7 521.6 508.7 522.3 505.8 527 504.2 531.3 505.1 532.6 507.6 533.2 510.8 528.6 513.5 524.5 511.5 520.1 513.1Z" fill="#FD9633"/>
<path d="M354 281 351.2 279.9 348.3 280.8 345.8 278.6 345.9 275.2 343.8 270.4 345.5 268.1 345.6 266 349.5 262.4 353.6 264.5 356.4 264.5 358.9 266.1 359.1 269 357.8 271.5 356.1 274.8 354.8 277.6Z" fill="#FDD98F"/>
<path d="M646.8 283.9 648.1 280.9 647 278 646.8 275.4 645.4 272.6 648.4 270.9 650.4 268.4 651.9 265.9 654.6 264.6 657.8 266.1 662.2 267.7 663.9 270.8 664 273.9 663.1 277.4 661 279.9 658.5 282.5 655.4 282.4 652.5 282.7 649.1 281.6Z" fill="#FD9633"/>
<path d="M468.3 476.4 464.6 478.3 462.6 476.3 460.8 473.7 460.3 470.8 460.2 467.7 462.4 464 462.5 461.4 463.3 458.8 467.6 459.7 469.3 462.3 469 466 472.3 467.8 473.9 470.8 472.8 473.4 471.9 476.7Z" fill="#FDD98F"/>
<path d="M632.9 542.1 633.1 539.3 632.5 536.7 632 532.7 632 529.9 632.1 527.1 631 524.7 634.8 523.9 638.5 524.6 641.4 525.1 644.7 525.1 646.3 528.6 649.3 529.7 649.8 533.4 648.2 536.5 646.1 539 643.7 541.2 640.8 542.7 638.9 544.2 636.1 543.2Z" fill="#FDD98F"/>
<path d="M365.5 342.9 362.1 341.9 359.4 338.4 361.3 333.9 363.9 331.1 364.8 328 367.2 325.8 369.1 327.8 371.4 329.1 371.4 331.9 372 334.4 372.2 336.9 372.5 339.1 369.2 341.8Z" fill="#FDC270"/>
<path d="M318.3 459.2 314.3 457 313.9 454.4 314.3 451.9 315.7 448.4 318.6 445.8 320.8 443.7 323.1 441.9 324.6 444.4 326.4 447.1 325.9 451.3 325 454.8 321.9 455.5Z" fill="#FDD98F"/>
<path d="M362.3 416.8 363.7 414.4 363.9 412.7 365.6 411 367.5 410.9 368.9 410.7 370.1 412.9 368.3 414.1 367.5 417.2 364.6 418.2Z" fill="#FDC270"/>
<path d="M495.5 344.8 493.3 345.7 491.6 342.8 491 338.9 490.5 334.6 494.5 335.6 497.6 331.1 498.8 333.8 500 336.3 499.3 339.1 499.3 341.8 498.6 344.9 499.6 347.7Z" fill="#FDD98F"/>
<path d="M615.7 499.4 614.5 496.9 617 494 615.6 490.6 618.2 489.2 621.5 488.1 620.2 492.5 623.4 494.1 619.6 495.7 618.6 498.9Z" fill="#FD9633"/>
<path d="M509.2 273.1 506 272.8 502.9 273.8 500.6 276.1 497.6 277.7 496.2 280.3 496 277.7 494.1 275.4 494.2 272.7 493.4 270.2 492 267.6 489.5 266.8 487.5 265.2 484.5 263.7 486.9 262.3 489.8 261.6 492.4 259.9 493.3 257.2 494.4 254.7 495.3 251.3 496.5 253.8 499.1 254.7 500.5 257 502.6 257.7 505.1 259 507.7 258.4 510.3 258.9 512.2 258.7 512.8 261.9 510.8 264.5 510.6 267.6 509.9 270.6Z" fill="#FD9633"/>
<path d="M320.5 247.4 319.5 245.3 317.6 241.2 321.3 239.5 325 237.5 327.8 239.3 328.8 242.2 329.9 246.8 324.9 246.7 321.6 250.9Z" fill="#FDC270"/>
<path d="M431.3 528.1 428.7 530.4 425.8 533.2 425.4 529.7 424.1 526.8 423.1 523.6 422.9 521.1 423.6 517.9 425.7 515.1 430.7 515.2 433.6 514.2 435.9 512.9 436 516.6 437.2 519.9 436.7 522.5 437.8 525 437.2 528.5 438.2 531.3 435.1 529.8Z" fill="#FDD98F"/>
<path d="M346.3 451.7 343.9 453.2 340.3 453.3 339.1 450.6 338.1 448.1 338.8 445.8 340.9 444.4 344.3 444.1 345.5 446.7 345.9 448.8Z" fill="#FD9633"/>
<path d="M573.6 464.3 571.3 462.4 573.5 459 577.2 458 581.5 455.1 585.8 456.1 586.2 459.9 584.6 462.1 583.4 463.9 580.7 464 577.9 464.4 575.9 466.4 574.3 467.9Z" fill="#FDC270"/>
<path d="M418.9 499.5 420.9 496.6 421.2 493 423.4 490.3 425 487.8 427.4 486.1 429.9 485.3 432.6 485.5 433.9 488.5 436 491.1 438.2 493.7 441.1 498.4 439.6 500.6 437 501.9 434.1 503.2 431.1 504.6 427.3 502.9 424.1 503.8 421.4 501.8Z" fill="#FDC270"/>
<path d="M603.8 439.2 602.6 436.6 602.4 434.3 604.7 432.3 607.5 431.5 610.2 430.8 612.7 428 614.2 425.5 617.5 425.6 621.3 425.8 624.1 430.2 625.7 432.8 627.5 435.1 625.5 437 623.1 438.4 621.4 441.1 617.9 441.9 614.1 443.2 612 441.3 609.6 440.2 606.7 440Z" fill="#FDC270"/>
<path d="M435.4 295.2 430.7 295.7 427.6 296.8 424.7 297.6 422.8 295.1 420.2 293.3 417.8 290.7 420.4 288.6 420.4 285.7 420.3 282.5 419.2 280 420.8 277.3 421.6 274.1 424.3 275.7 427.2 276.3 430.3 277 432 279.5 433.4 282.1 434 285.3 436.9 286.6 437.8 289 439 291.4 437.6 293.6Z" fill="#FDC270"/>
<path d="M509.6 493.3 507.4 489.6 505.4 486.3 502.8 485 501.7 482.6 500.9 479.6 501 475.9 505.1 473.3 507 475.1 509.6 476.5 511.9 480.8 512.4 485.2 512.4 489.8Z" fill="#FDD98F"/>
<path d="M546.1 314.9 544.4 318.9 542.6 316 540.1 314 537 313.8 534.3 312.3 531.6 312 535.1 309.2 537.4 309.7 539.4 307.4 541.8 308.3 543.9 309.2 546.5 312.5Z" fill="#FDC270"/>
<path d="M400.5 291.3 397.6 290.8 395.9 287.8 397 283.5 398.8 280 401.2 281.4 403.1 280.5 404.6 284 405.1 287.7 403.5 291.3Z" fill="#FDC270"/>
<path d="M420.4 303.6 422.4 306.3 422.6 310.1 419.4 309.6 416.2 308.1 412.8 308.7 410.8 305.2 407.7 304.2 404.4 302.1 405.9 299.7 408 297.7 410.3 296.6 412.8 296.9 415.2 295.5 417.6 295.2 417.7 297.9 418.6 300.6Z" fill="#FDC270"/>
<path d="M614.5 433 611.3 432.6 609.6 430.1 606.8 426.1 604.6 422.4 604.2 419.2 602.9 416.4 606.9 415.6 610.1 412.7 612 415.2 613.5 417.7 614.8 420.2 615.1 423 613.6 425.9 613.5 429.6Z" fill="#FDC270"/>
<path d="M613.3 514.3 610.1 511.6 607.1 508 607 504.6 606.7 500.5 609.4 499.6 612.2 498.8 615 497.2 617.8 494.6 620.3 496.3 620.9 499.3 620.2 502.7 619.6 506 618.4 509.9 619.3 513.8 617 517.7 615.2 515.3Z" fill="#FDD98F"/>
<path d="M328 316.6 324.7 312.9 327 310.3 327.3 307.1 328.1 304 327.6 300.3 332.1 300.7 335.7 298.8 336.7 301.3 336.2 303.9 336.6 306.8 335 309.9 332 311.2 331 314.5Z" fill="#FD9633"/>
<path d="M574.8 483.5 571.9 483.2 569.1 482.4 566.6 482.6 566.5 479.9 567.8 477.6 568.6 475.2 568.3 472.8 567.2 469.3 564 466.6 564.9 463.7 565.6 460.7 566.5 457.7 569.6 456.6 572.7 455.6 576.2 454 577.7 457 579.9 459.3 584.2 460.4 583.8 464.3 585.3 467.6 586.2 470.4 586.9 473.4 589.1 476.1 585.9 476.6 582.8 477.3 579.5 477 577.5 478.7 575.9 480.7Z" fill="#FD9633"/>
<path d="M628.3 430.9 626.1 435.8 623.5 434.3 620.8 434.5 617.3 433.9 614.5 434.8 614.5 431.7 614.9 428.6 614.4 425 613.8 421.3 613.5 418 616.1 418.1 618.6 418.5 621 419 624.3 420.3 627.8 420.8 630.1 423.2 630.3 426.1 629.8 428.8Z" fill="#FD9633"/>
<path d="M438.1 260.1 434.3 256.4 431.6 256.5 429.4 252.9 426.4 251.1 426 247.8 429.5 245.4 433.3 244.8 436.7 248.1 438.7 251.6 440.4 256Z" fill="#FD9633"/>
<path d="M625.7 330.8 622.6 332.6 619.5 334.6 617.3 336 614.4 336 611.7 337.8 608.9 336.3 606.5 334.1 603.8 332.6 600.8 330.7 598.3 328.2 597.8 325.7 598 324.3 600.8 322.4 603.9 321.8 608.1 320.6 612 320.8 615.5 319.2 617.6 321.5 620.7 321.9 622.6 323.8 624.1 326.9Z" fill="#FDC270"/>
<path d="M260.8 413.5 259.5 415.7 258.7 419 256 419.4 253.3 420 251.5 421.5 248.6 420 246.8 417.3 244.2 415.4 241.4 413.6 238.4 412.9 237.9 408 242.1 405.8 246.7 405.8 249.2 404.3 252.2 404.5 254.1 403.6 256.4 405.1 258.7 406.5 261.1 408 261.1 410.7Z" fill="#FDC270"/>
<path d="M645.6 248.9 646.4 251.4 643.2 252.6 641.1 250.9 638.2 251 637.8 249.1 637.6 246.3 640.5 245.3 643.9 246 646.1 247.5Z" fill="#FD9633"/>
<path d="M305.7 286 302.2 286.4 298.6 287.8 297.7 284.2 295.4 281.7 294.6 278.6 295.7 275.8 295.8 272.8 297.4 270.3 299.8 268.9 302.5 270.2 307.6 269.2 310.2 269.8 312.9 270.2 316.1 271.1 314.4 273.6 312.1 275.7 310.3 277.7 309.4 280.3 309.9 282.7 307.7 284Z" fill="#FDC270"/>
<path d="M342.4 360.8 341.1 357.3 340.6 352.6 342.2 350 343.8 346.7 346.3 348.3 349.1 348.1 354.4 348.7 355.3 353.2 354.7 355.7 353.9 358.1 352 359.7 350.8 361.7 346.5 361.2Z" fill="#FDD98F"/>
<path d="M302.2 339.3 303.4 336.2 303.4 333.2 302.4 330.8 305.5 329.2 308.4 327.8 311.5 328.3 314.4 328.9 315.5 333.5 315.2 337.1 312.9 340.7 311.2 343.5 309.3 345.3 306.5 344.4 303.8 343.7Z" fill="#FDC270"/>
<path d="M395.3 548.2 391.5 546 391.9 541.9 392.3 536.3 396.5 536.6 399 535.6 401.6 537.8 402 540.7 401.1 543.9 399.1 547Z" fill="#FDC270"/>
<path d="M275.2 493.5 273.1 491.4 270 491 268.4 489 269.5 486.2 271 483.6 271.8 480.3 275.1 480.3 276.5 478 278.7 475.5 281.5 477.5 284.7 478.4 287.9 478.3 290.5 475.7 294.4 476 293.4 478.8 293.5 481.6 293.2 484.5 290.9 486.8 288.9 489.6 289 492.3 287.6 494.7 287.6 497.4 284.3 495.6 280.8 494.8 278 493.8Z" fill="#FDC270"/>
<path d="M477.9 256.2 475.2 255 471 252.8 471.4 249.4 470.4 246.4 471.6 243.8 473.4 242.4 476.3 242.5 479.6 245.3 482.3 244.4 485 245.6 483.8 248.5 482.1 251.1 480.3 253.9Z" fill="#FDD98F"/>
<path d="M389.3 524.8 386.7 521.9 383.9 521.3 381.4 518.9 379.9 515.6 377.2 513.6 374.9 512 375.1 509 377.1 506.7 376.8 503.6 377.8 500.8 379.6 497.6 383.5 496.6 385.1 499.3 387.3 501.5 390 504.3 389.1 507.6 389.4 510.8 390 515.7 389.8 518.2 389.2 520.8Z" fill="#FD9633"/>
<path d="M608.2 386.5 608.3 382.5 612.2 381.9 615.3 378.3 618.5 380.6 621.5 383.4 620.7 387.1 618.2 390.6 614 390.1 610 389.7Z" fill="#FD9633"/>
<path d="M348.6 501.6 348.1 498.7 346 496.4 345.3 494.2 348.7 493.4 352.1 492.8 355.9 492.3 357.8 494.8 361 496.1 360 498.4 359.3 501 357.4 503.3 355.4 505.5 350.4 504.4Z" fill="#FDC270"/>
<path d="M490.2 348.5 488.1 344.7 484.6 343.6 485.7 339.6 485.3 336.3 487 332.6 490 335.4 493.3 336.9 491.8 341.2 491.1 344.1Z" fill="#FD9633"/>
<path d="M545.2 427.6 546.7 425.6 548.9 424.2 550.8 422 550.7 418.6 552.8 416.7 555 414.6 559.4 414.7 563.2 414.2 566.2 412.8 566.5 415.8 564.3 417.8 563.6 421 561.8 423.6 559.6 425 556.7 425.4 555.4 427.8 550.6 428.5 547.8 427.2Z" fill="#FDC270"/>
<path d="M313.7 316.7 310.9 316.4 309.2 315.2 309.7 312.3 310.1 309.3 309.7 306.3 310.3 302.7 310.2 299.8 311.6 296.8 313.9 294 318.9 293.4 320.4 296.1 321.2 298.6 324.1 302.8 323.2 306.1 322.2 309.6 320.1 311.1 317.7 312.2 315.8 314.6Z" fill="#FDC270"/>
<path d="M606.7 420.6 602.1 420.5 603.7 418.2 604.9 415.8 605.8 413.1 606.5 409 611.1 409 612.6 412.1 615.5 412.6 617.2 410.2 616 413.2 615.1 416.4 613.5 419.1 612 421.5 609.1 422.9 607 426 607.1 423.2Z" fill="#FD9633"/>
<path d="M446.8 488.6 444.1 491.1 442.3 492.3 439.8 491.2 437.9 489.5 435.5 487.9 435.9 485.3 434.7 482.9 434.9 479.9 437.3 478 439.4 475.8 443.4 473.3 446.6 471.7 449.7 469.2 450.6 471.7 451.8 474 453.4 476.3 452.9 479.5 452.4 482.7 453 485.9 452.6 488.5 449.7 489.3Z" fill="#FDD98F"/>
<path d="M246.7 338.6 243.7 336 243.3 332.6 244.8 329.2 245.6 325 248.1 322.1 249.9 324.9 249.4 328.6 253.3 329.5 253 332.2 252.4 334.8 250 337.3 249.9 339.8Z" fill="#FD9633"/>
<path d="M442.4 414.5 438.6 416.1 434 413.8 434.1 411.1 433.1 408.7 431.5 402.9 435.4 402 438.3 400.4 442 403.4 442 407.9 445.1 411.9Z" fill="#FDD98F"/>
<path d="M436.7 337.5 434.2 339.5 431.2 338.8 428.3 337.3 424.3 336.3 426.3 333.8 427.7 332.8 429.8 331.7 433.9 331.7 433.8 335.6Z" fill="#FDD98F"/>
<path d="M468.3 486.5 466 488.3 463.4 486.2 460.7 484.7 462 482.1 461.6 479.3 464.3 476.4 467.3 479 468.9 481.2 471.4 485Z" fill="#FD9633"/>
<path d="M493 488.7 488.3 490.1 485.8 489.7 482.6 490 481.1 487.6 479.8 484.9 481.3 480.7 481.9 477.7 480.6 475.2 479.7 473 483.2 473.6 486.5 474.3 488.9 475.4 491.3 476.2 494 477.9 496.5 479 496.9 482.2 497.3 485 495.2 487Z" fill="#FD9633"/>
<path d="M379.4 336.9 380.9 334.5 383.4 333.9 386.6 333.3 387.7 328.9 390.2 328 393 327.8 395.6 328 398.1 326.9 400.6 327.1 403.3 328.5 405.5 331.1 404.1 333.8 404.4 337.4 401.7 338.3 398.7 338.1 396.2 339.9 393.4 338.6 390.4 339 386.2 337.8 382.6 337.9Z" fill="#FD9633"/>
<path d="M477.5 462.1 475 463.1 474.4 465 471.3 463 469.1 463.6 467.2 462 467.4 459.9 470.8 458.3 474.2 458.8 477.3 460.2Z" fill="#FDC270"/>
<path d="M355.3 393.4 351.3 391 354 390.6 356.6 389.4 358.1 387.4 359 385.4 361.4 383.9 363.4 384.4 365.4 387.4 365.8 390 363.6 393.5 359.7 396 357.2 396.3 353.9 397.7Z" fill="#FD9633"/>
<path d="M294.7 258.4 292.6 261 289.7 262.5 289.3 266.1 287.8 263.3 285.1 261.8 279.9 259.9 281.5 256.5 284.5 254.1 284.3 250.7 286 247.5 287.9 250.6 290.3 253 294.4 254.6Z" fill="#FDC270"/>
<path d="M299 422.6 296.3 421.2 297.7 417.8 300.7 413.9 303 412.2 305.8 410.1 308.6 412.3 308.7 415.4 306.1 419 304.2 422.9 301.3 424Z" fill="#FD9633"/>
<path d="M490.2 494.1 488.5 492 491 489.5 494.8 487.8 498.8 487 500.2 489.6 500.5 492.3 499 495.6 494.3 495.6 489.4 497.8Z" fill="#FDC270"/>
<path d="M363.1 435.6 361.2 433.3 361 430.5 357.6 427.7 357.9 424.7 357.9 421.1 360.7 421.2 362.6 420.6 366.7 421.1 367.9 423.9 372.6 426.1 371.1 428.2 370 430.5 367.2 434.9Z" fill="#FDC270"/>
<path d="M555.1 544.1 554.7 546.2 551.9 547.7 548.6 545.6 543.3 544 545.6 541.8 546.6 539.5 550.1 537.3 552.5 540.9 553.7 542.5Z" fill="#FD9633"/>
<path d="M340.1 420.4 338.1 417.8 336.3 415.6 336.9 411.7 339.6 410.7 341.6 409.9 345.2 410.2 344.5 413.9 345.4 419 341.7 418.6Z" fill="#FDC270"/>
<path d="M372.7 313 370.6 315.5 367.7 316.6 363.1 319 360.7 318.4 358.3 317.6 355.7 317.4 353.3 316.6 349.5 315.4 351.4 312.1 350.6 307.8 353.6 306.3 355.3 303.5 357.8 301.4 361 300 363.7 299.9 366.4 300.3 369.6 299.5 371 302 372.4 304.4 375 306.1 373.7 309.7Z" fill="#FDD98F"/>
<path d="M323.9 326.2 326.5 324.6 327.8 322.2 329.2 319.5 331.6 318.2 334.1 317.2 338.2 314.9 340.9 314.5 343.7 314.8 345.3 317.2 347.7 318.2 347.4 320.9 347.3 323.6 346.2 327 345.8 330.9 342.9 330.7 340.2 331.3 338 331.9 334.6 331.2 332.1 328.7 329.6 327.7 327.1 326.9Z" fill="#FDC270"/>
<path d="M424.9 413.8 423.1 417 421.7 419.6 419.7 421.6 416 421.4 412.9 422.2 411.2 419.1 409.9 415.7 408.3 412.5 405.8 409.2 408.2 408.2 410.8 407.7 413.7 407.7 417.6 406.2 420.3 405 423.4 405.2 423.9 407.6 425.5 410Z" fill="#FDC270"/>
<path d="M311.9 344.7 309.2 344.4 306.6 343.7 304 343.6 301 344.8 297.9 342.2 299.5 339.9 301.9 337.9 302.8 335.2 303.2 332.2 302.2 329.3 303.6 327.1 304.7 324.7 306.7 322.3 308.7 324.3 310.3 326.8 311.6 329.5 315.3 332 317.4 334.7 320.8 337 317.6 338.2 315.3 340.4Z" fill="#FDC270"/>
<path d="M437.7 344.4 433.8 343.1 431.6 340.5 432 337.3 431.5 334.8 430.5 332.4 431.3 329.7 431.7 326.8 434.5 326.9 436.4 329.2 439.2 327.6 438.9 330.2 440.4 332.5 442.1 335.2 445.3 337.4 443 339.5 442.1 342.4Z" fill="#FDC270"/>
<path d="M284.3 249.7 282.3 251.9 279.2 252.4 275.9 255.4 272.8 255.9 269.3 257.3 268.1 254.7 266.2 252.6 264.9 248.4 269.1 246.7 272 243.8 275.7 245.2 279.4 246.4 281.1 249Z" fill="#FDC270"/>
<path d="M323.8 457.2 323.9 454.1 326.2 452.4 327.1 449.8 329.9 448.3 331.8 445.8 334.1 444.5 336 442.6 338.7 440.9 341.4 442.3 344 443.9 347.5 444.1 347.3 447.1 347.8 449.9 347.3 452 346.4 455.6 345.4 459.4 342.5 460.6 340.3 461.9 337.5 463.5 335.5 465.7 333.2 468.6 331.3 466.6 330.2 463.9 327.7 462.4 325.9 460.6 324.7 458.1Z" fill="#FDC270"/>
<path d="M520.9 327.1 518.5 326.4 517 322.8 520.7 321.8 522 319.2 523.9 319.9 524.4 321.2 524.3 323.1 524.8 325.8 522.6 328.2Z" fill="#FD9633"/>
<path d="M613.9 297.3 614.9 294.3 615.6 291.6 616.6 288.2 618.5 285 621.4 285.6 623.4 283.3 626.5 281.9 628.2 284.7 631 284.5 634 285.9 630.9 287.7 630.9 290.7 629.9 293.7 632.8 297.7 631.1 300.1 630.1 303 627 303.6 623.9 302.9 621.2 301.9 618.2 301.8 615.7 300Z" fill="#FDD98F"/>
<path d="M442 375.5 437.6 376.6 435 375.7 433.5 373.8 431 370.3 431.4 366.3 431.9 363.4 432.6 360.2 435.3 361.6 437.4 363.5 440.8 363.9 444.7 366.4 445.7 368.9 445.5 372Z" fill="#FD9633"/>
<path d="M542.3 332.3 541.4 335.2 538.5 335 535.5 335.5 532.8 333.6 529.3 334 525.8 334.5 523 333 520.3 331.2 517.7 330.8 516.2 328.1 516.9 324.7 519.7 324.8 522.5 325.5 525.4 325.1 526.4 322.4 529 320.3 530.7 322.9 533.6 323.6 535.8 325.2 537.9 326.8 539.5 328.7Z" fill="#FDC270"/>
<path d="M359.2 273.7 357.7 277.2 356.4 280.3 355.2 283.2 353.1 285 350.5 286.4 347.5 286.5 345.2 283.7 341.9 285 339.4 283.7 336.5 283.4 335.3 281.1 334.5 278.6 334.2 276 335.1 273.5 334 269.8 334.9 265.7 337.8 267.2 340.8 266.9 343.6 267 346.6 266.7 349.4 264.9 350.3 267.6 352.3 269.1 354.2 271 356.1 272.7Z" fill="#FDC270"/>
<path d="M601.7 388.9 602.9 386.7 602.1 384.9 603 382.3 605.9 382.2 607.8 382.5 609.2 384.1 607.3 386.3 606 387.6 604.5 389Z" fill="#FDC270"/>
<path d="M505.9 484.6 503.6 485.3 500.9 486.8 499.7 483.2 496.7 479.8 500 479.3 500.6 477.9 503.7 479.6 504.9 481.9 507.4 484.7Z" fill="#FDC270"/>
<path d="M611.8 394.6 610.8 396.7 609.5 395.1 607.7 394.2 606.5 392.4 607.7 391 608.6 389.6 611.9 388.3 614.1 391 612 393.2Z" fill="#FDD98F"/>
<path d="M297.7 421.5 299.4 418.4 300.7 415.7 300.3 411.5 303 410.3 305.9 410.2 308.2 408.2 310.9 407.6 313.8 406.1 316 407.4 315.9 410.3 315.3 413.3 312.9 414.8 311.5 417 309.3 419.1 307.8 421 304.2 419.2 300.7 420.3Z" fill="#FD9633"/>
<path d="M520.8 296.1 518.8 294.1 516.3 293.6 513.7 292.7 512.2 295.3 509.4 295.9 506.9 297.2 506.2 294.3 505.5 291.4 504.3 288.5 504.5 283.4 506.4 279.7 507.4 277.4 508.2 274.9 508.8 272.1 511.2 274.1 514.1 275.5 515.1 278.9 517.8 280.5 519.2 283.4 521.2 286.6 523.4 289.6 521.7 292.4Z" fill="#FDC270"/>
<path d="M594.7 556.2 593.7 558.1 589.9 559.4 588.1 557.5 585.8 556.1 585.8 552.5 583.7 548.7 585.6 551.2 588.6 550.3 590.7 551.4 593.8 551.7 595.7 554.6Z" fill="#FDC270"/>
<path d="M487.8 481.2 487.4 479.3 487.3 476.8 491.3 475.7 493.9 472.3 496.9 472.9 497.9 475.7 494.5 478.3 492.4 480.4 489.7 482.8Z" fill="#FD9633"/>
<path d="M420.3 546.9 415.8 544.9 410.4 546.1 410.4 542.8 411.2 539.1 407.1 535.6 406.9 532.8 407.2 529.8 410 531.4 413.1 532.1 416.3 534.2 418.3 536.3 422.1 537.6 419.7 541.4 420.9 543.8Z" fill="#FD9633"/>
<path d="M487.3 566.6 483.4 567.2 481.4 562.4 482.3 558.3 484.5 556.1 485.8 552.2 489 553.7 489.8 557.4 490.9 560.8 489 563.6Z" fill="#FD9633"/>
<path d="M374.6 484 371.9 479.7 376.4 477.8 379.2 476.5 381.3 473.9 381.5 477.1 382.7 480.1 386.9 481.6 384.6 484.7 383.1 489.1 378.3 491.3 375 488.6Z" fill="#FDC270"/>
<path d="M333.3 368.7 333 364.3 333.4 361.4 331.8 359 333.7 357.1 336.1 355.5 338 353.5 340.1 352.1 342.2 350.6 343.8 347.7 346.7 347.1 349.5 348.1 349.1 351.2 349.6 354 349.1 357.5 348.1 360.9 346 363.1 345.3 366.2 343.5 367.9 340.8 367.3 337.9 367.5Z" fill="#FDC270"/>
<path d="M533.9 504.5 529.1 503.6 527.7 501.4 528.3 499 529.6 496.4 532.5 495.5 534.8 492.2 538.7 492.8 543.1 494.1 543.7 496.6 543.6 499.1 544.1 502.2 543.2 505.4 540.8 507 537.6 508.5 536 506.2Z" fill="#FDD98F"/>
<path d="M381.3 278.5 377.3 275.7 374 272.3 372.2 269.3 369.8 266.6 370 263.6 369.2 260.6 370.2 257.6 372.6 259.2 375 260.4 377.7 260.6 380.4 258.6 383.2 256.6 384.4 258.9 386.3 260.7 387.4 262.8 387 266.4 386.9 270 386.3 273 386.1 276.6Z" fill="#FD9633"/>
<path d="M534.6 377.3 535 372.4 535.8 369.7 535.3 366.8 538.7 365.3 541.9 363.5 544.4 362.7 546.5 361 549.1 360.4 552.5 360.4 550.4 362.8 550.9 366.1 547.8 369.8 546.7 373.2 544.9 375.3 542 377.2 539.4 378.4Z" fill="#FD9633"/>
<path d="M344.5 442.4 342.1 437.8 342.3 434.8 343.5 432.5 346.6 432.4 349.8 432 353.2 433 356 434.1 358.5 432.9 357.3 435.3 357.4 438 355.1 440.8 352.9 443.7 348.9 443.8Z" fill="#FD9633"/>
<path d="M601.3 367.7 600 365.4 598.8 363.4 596.1 362.5 594.1 362.8 592.9 360 593.9 357.7 598 355.6 600.1 352.7 604.9 352.4 604.7 357.3 606.8 359.4 609.2 360.9 607 362.3 605.6 364.5Z" fill="#FDD98F"/>
<path d="M462.2 436.9 462 433.8 465.8 432.8 467.2 430.6 468.1 428.6 470.5 433.1 470.9 435.4 471.4 438.1 470.7 441.8 466.5 439.8 462.6 440.9Z" fill="#FDD98F"/>
<path d="M559.6 378.1 556.4 379.8 553.8 380.3 552.1 378.8 549.6 377.7 548.1 375.3 551.1 373.6 553.8 370.6 556 373.5 558.8 375.3Z" fill="#FDD98F"/>
<path d="M312.5 336.1 310.2 336.1 308 337.2 308 334.6 307.9 332.4 308.1 330.8 309.4 327.9 312.5 328.7 315.3 331.3 314.6 334.4Z" fill="#FDC270"/>
<path d="M404.4 287.6 400.3 288.6 396.4 288 393.2 288.4 390.8 288.5 387.8 286.5 387.6 283.3 386.7 280.2 387.4 277.1 390.9 277.6 394.7 278.4 398.2 277.6 402.2 279.4 403.6 281.7 405.6 283Z" fill="#FDC270"/>
<path d="M307.7 435.9 305.5 433.6 307.9 432.4 309.7 430.5 311.9 429.2 314 427.8 318 428.9 322.7 429.4 320.9 433.5 317.6 437 314.7 437.5 313.1 439.5 309.6 438.9Z" fill="#FDD98F"/>
<path d="M296.3 387.3 294.6 384.9 294.8 381.9 300 381.4 304.3 379.3 305.1 382.6 305.5 385.9 303.7 388.4 300 391.6 297.9 388.7Z" fill="#FDC270"/>
<path d="M438.5 334.6 436.8 336.9 436.4 339.5 434.2 336.4 433.5 332.7 430.8 330.1 429.8 326.9 427.9 324.6 430.7 321.2 432.5 319.4 434.9 318.3 437.3 320.6 440 322.1 441.7 325.1 443.3 328.3 442.7 331 442.4 333.1Z" fill="#FD9633"/>
<path d="M490.5 447.8 488.6 451.4 487.7 448.4 484.6 447.1 482 444.3 480.3 441.7 477.8 438.8 481 435.6 485.2 435.7 489.3 438.8 490.7 441.8 492.3 443.8 493.5 445.8Z" fill="#FDC270"/>
<path d="M659 519 656.8 515.7 657.2 513.2 657.1 511 658.9 510.1 660.3 508.7 661.7 510.2 665.4 511.5 663.7 514.6 660.6 515.3Z" fill="#FDC270"/>
<path d="M671.4 332 670.9 335.6 671 339.5 668.2 338.1 665.2 338.6 662.5 337.2 659.4 339 656.9 337.4 654.2 337.5 651.6 336.9 648.9 337.5 646.2 336.8 644.5 333.6 641.5 331.1 644.4 328.9 646.2 325.7 647.9 323.8 650.2 322.4 652.4 320.4 654.4 323 657.6 323.6 659.9 325.6 663 326.5 666.1 325.2 669.2 325.8 671 328.6Z" fill="#FDD98F"/>
<path d="M589.2 498.9 589.4 495.7 590.1 492.5 589.9 489.9 592.2 487.8 594.5 485.7 597.3 484.2 598.2 481.7 598.6 479.2 599.1 476.6 599 474.6 602.2 473.9 605.3 474.2 608.3 474.9 611.2 475.6 614 476.6 617.2 478.3 616.4 481.2 616.2 484.2 615.9 487.6 613.9 489.1 611.6 490.5 609.7 492.1 608.5 495.2 606 496.8 603.1 496.6 600.4 494.8 597.6 495.9 594.7 496.7 592.3 499.3Z" fill="#FDC270"/>
<path d="M621.9 489.1 621.6 490.8 619.1 489.9 614.5 490 611.7 486.2 612.4 483.4 617 483.8 619.6 483 623.6 484.8 625.5 487.7Z" fill="#FDC270"/>
<path d="M342.5 489.1 340 488.9 337.5 488.5 335 489 335.4 486.3 335.3 483.6 336.4 481 337.6 478.3 337.8 475.2 340 472.1 342 468.7 345.3 469.8 348.2 471.6 350.7 471.5 353.1 472.6 355.9 472.5 356.5 475.3 358.4 477.6 358.2 479.5 356.4 482 354.5 484.3 352.4 486.2 352.5 489.2 350.9 491.4 348.8 493.2 345.4 491.7Z" fill="#FDD98F"/>
<path d="M623.4 452.9 620.3 452.3 619.5 449.8 617.8 448 615.8 445 614.4 440.7 617.3 439.2 618.7 441.7 621.2 442.4 624.9 445.8 624.8 450.3Z" fill="#FDC270"/>
<path d="M379.3 374.2 376 377 375.5 372 371.6 371.4 373.6 368.9 374.6 364.9 378 366.2 379.7 367.9 383.5 370 381.8 372.7Z" fill="#FDC270"/>
<path d="M454 328.2 450.9 331.9 448 328.6 444.8 327.3 447.2 323.4 449.1 322.2 450.5 319.7 454 319.2 455.9 321.6 456.8 326Z" fill="#FDC270"/>
<path d="M594.8 499.8 597.7 498 599.8 495.4 602.2 492.2 606.5 493.6 609.9 493.2 611.2 495.2 611 496.9 609.7 501.2 606.3 501.3 603.5 503.6 601.3 502.2 598.8 501.6Z" fill="#FD9633"/>
<path d="M594.6 478.3 592.5 475.9 590.1 474.6 586.7 474.7 589.2 472.6 591.1 470.2 591.9 467 593.7 464.7 596.3 463.1 597.8 460.9 601.1 461.4 604.1 462.8 606.7 462.4 608.6 464.4 611.7 463.6 613.9 465 616 465.7 615.8 469.1 613.9 471.9 613.2 475.2 610.8 476.2 609.7 479.2 606.8 479.3 604.4 480.1 601.9 481.8 599.1 482.9 596.7 484.3 595.5 481.9 595.3 479.3Z" fill="#FDC270"/>
<path d="M249.6 413.8 247.7 418.5 245 418.1 241.3 418.3 240.4 415.4 239.2 412.9 237.8 410.5 237.4 408.1 238.6 405.8 239.1 402.8 241.6 402.4 244 401.6 246.9 400.7 250.3 401.1 250.5 404.4 250.8 407.3 252.5 410 254.7 411.7 252.6 413.3Z" fill="#FDD98F"/>
<path d="M406.1 443.3 404.1 445.1 402 447.4 399.4 448.9 396 449.1 394.1 446.3 394.7 442.5 393.3 439.5 397.9 437.9 400.3 439 403.4 436.9 405.4 439.2 408.4 440.3Z" fill="#FDD98F"/>
<path d="M607.9 429.2 606.5 425.9 605.7 422.6 603.4 418.2 604 414.9 603.5 411.3 605.7 408.8 606.3 405.6 608.8 402.6 609.9 405.7 612.1 408.1 613.5 411.4 617.8 412.6 618.6 415.3 620.6 417.5 621 420.5 621.4 423.6 621.7 426.9 618.9 427.6 616.3 428.8 614 429.7 610.7 429.6Z" fill="#FD9633"/>
<path d="M425.8 466 426 462.6 428.2 460.8 429.9 457.3 432.8 459.2 435.7 459.6 439 459.8 442.1 460.6 445.9 459.9 445.5 464.3 442.7 465.9 440 467.2 437 469.3 433.7 468.8 431 468.8 428.8 468.3Z" fill="#FD9633"/>
<path d="M368.5 398.7 367.4 399.4 366 397.4 365.8 394.9 366 392.6 366.6 389.9 369.5 389.6 370.8 392.9 370.6 396.5 370.3 399.5Z" fill="#FDC270"/>
<path d="M516.8 483.6 513.8 480.6 511.8 478.5 510.3 475.9 508.6 474.1 509.5 471.5 511.9 470.2 512.7 467.6 514.6 466 517.7 465 520.9 464.3 522.8 461.8 525.7 461.5 527.9 463.6 530.6 463.8 531.1 466.6 531.6 469.3 530.9 472.1 530.9 475.5 529.5 478.5 529.3 481.2 527.8 483.5 527.7 486.4 524.4 484.9 520.5 486.1Z" fill="#FDC270"/>
<path d="M599.8 451.7 600.5 448.5 599.5 447.2 602 445.1 604.8 444.1 607.9 443.6 610 441.8 612 439.8 614 437 615.4 440.2 617.9 442.4 621.5 445.7 619.8 449.9 616.8 453.8 613.9 454.6 612.3 456.9 610.2 459.1 607 457.2 604 455.9 602 453.8Z" fill="#FDC270"/>
<path d="M258.8 357.9 259.8 360.7 260 364 256.7 363.8 254 366 250.9 364.9 248.4 364.4 248.2 361.1 248.2 357.7 246.5 355 244.6 353.4 244.8 350 247.1 347.8 250.2 349.1 253.4 350.2 256 349.1 258.2 349.6 258.4 354.6Z" fill="#FD9633"/>
<path d="M534.6 419.6 531.7 422.5 528.5 422.5 525.2 422 523.2 419.5 522.4 416.4 520.5 413.9 519.5 411.2 518.6 408.8 518.8 406 518.5 403.3 517.4 400.8 520.3 400 523.6 399.7 525 402.5 528.5 402.9 529.4 406.1 531.1 409 534.2 410.9 535.7 414.1 538 417.7Z" fill="#FDC270"/>
<path d="M642.3 555.6 640.4 552.5 639.2 549.2 638.5 546.2 637.3 543.8 637.5 540.1 640 537.5 641.2 534.6 642.8 531.9 643.9 529.5 646.6 529.5 649.3 528.4 652 528.9 654 530.7 655.9 532.7 656.7 534 657.2 537.5 656.1 540.5 654.1 543.2 654.8 546.6 653.4 549.1 650.9 550.5 648 551.2 645 553.3Z" fill="#FD9633"/>
<path d="M482.2 251.4 480.2 249.5 478.7 247 476.7 245.2 478.3 242.5 481.2 241.2 484.6 239.8 484.7 236.4 486.7 234.6 487.7 231.1 490.9 231.6 493.6 229.7 493.8 232.6 495.2 235 496.5 236.7 499 238.9 502.1 239.6 504.3 240.5 503.6 243.3 503.9 246.4 503.3 249.6 501.2 251.3 499.2 253.3 496.6 254.8 494 254.4 491.5 254.2 488.4 255.3 486.1 252.1Z" fill="#FD9633"/>
<path d="M483 430.9 482.2 433.7 481 437 478.5 435.2 475.5 434.7 472.8 433.6 470.1 432.8 467.2 433.4 464.2 432.8 463.1 430 460.4 428.5 458.8 426.1 461.1 424.5 463.7 423.6 466.6 422.9 465.7 419.4 464.7 415.9 467.3 416.6 470 416.5 472.3 416.3 475.4 416.8 477.2 419.1 479.4 420.6 479.1 423.3 479.2 426.4 480.9 428.8Z" fill="#FD9633"/>
<path d="M617.6 251.5 616.2 248.6 614.8 245.7 613.6 242.7 611 241.4 608.3 239.3 609.4 236.6 609.4 233.6 609.9 229.9 611.3 226.2 614 225.8 616.3 224.3 618.9 223.3 622 224 625.2 222.8 627.4 224.5 628.3 227.8 628.7 231.1 627.7 234.3 628.8 236.8 629.1 239.5 629.6 240.6 628.7 243.5 627.1 245.7 624.7 246.9 622 247.9 620.3 250.7Z" fill="#FD9633"/>
<path d="M568 278.8 564.9 276 567.6 274.9 568.4 272 571.2 270.8 572.5 267.6 573.9 265 576.4 265 578.6 263.3 581.8 262.9 585.2 262.2 587.2 266.7 585.1 268.6 583.9 271.2 581.5 272.8 580.7 275.5 578.7 277.3 576.9 278.8 574.3 280.7 571.2 280.3Z" fill="#FD9633"/>
<path d="M341.8 346.7 339.9 347.3 339.7 344.8 337.3 343.3 337.7 340.1 336 336.4 338.2 334.3 340.2 336 342.9 337.9 344.3 341.9 343.9 345.8Z" fill="#FD9633"/>
<path d="M294.6 258.8 293.3 263.2 290.7 261.7 288 263.2 284.1 260.7 281.9 257.7 281.5 254.5 282.4 250.3 287.3 249.4 290.3 249.1 291.8 251.4 294.8 255.3Z" fill="#FDC270"/>
<path d="M452.5 546.6 450.2 547.3 449 544.1 447.6 541.5 449.4 539.7 450.9 537.4 452.1 539.4 452.7 541.5 454.7 543.2 453.5 544.3Z" fill="#FDD98F"/>
<path d="M654 258.8 650.6 261.5 648 261 645.6 259.7 641.4 259.6 638 256.8 637.7 253.2 637.9 249.1 641.2 250.5 644.5 250.5 648.3 252.1 651.1 252.5 652.3 254.6Z" fill="#FDC270"/>
<path d="M551.9 382.3 549.6 384.7 547.8 387.3 546.4 389.8 542.7 388.8 541.4 391.6 539.2 389.8 536.2 389.5 534.3 387.1 531.6 386.4 529 385.5 526.3 384.2 525.8 381.5 523.9 379.3 523.4 376.5 524.7 374.1 525.3 371.2 527.9 370.2 530.8 368.9 533.8 368 536.7 367.3 540 367.3 543 368.9 547.2 368.7 545.9 371.6 546.8 374.3 546.1 377.7 549.5 379.4Z" fill="#FDC270"/>
<path d="M352.8 452.2 349.2 448.6 351 445.5 351.9 442.3 351.8 438.5 353.2 436.2 353.1 433 356.3 432.3 357.8 430.2 360.4 431.2 362.3 433.3 362.2 436.5 361.8 439.6 362.3 443 362.3 446.5 359.3 446.1 356.9 447.8 355 449.9Z" fill="#FDC270"/>
<path d="M361.2 406.2 359.5 404.9 359.5 400.3 359.6 397.5 359.6 394.4 361.9 392.5 363.5 390.5 365 392.7 365.5 395.2 367.3 396.3 369 399 368.9 402 367.8 404.9 364.2 407.3Z" fill="#FDD98F"/>
<path d="M617 421.4 615 423 612.8 424.1 609.6 422.9 607.3 420.4 604 420.1 602.4 417.5 599.7 415.7 598.1 412.8 594.9 411.9 597.4 409.4 600.6 407.7 605.7 406.8 608 407.7 609.7 409.9 614.2 411.9 616.3 413.5 618.6 414.9 620.9 416.2 622.8 417 620.1 419.4Z" fill="#FDC270"/>
<path d="M387.2 390.1 383.5 389.9 380.1 387.9 376.6 384.2 376 381.2 374.7 379.1 377.9 376.5 381.1 375.9 385.6 376.9 387.4 379.1 387.9 381.9 388.1 386.1Z" fill="#FD9633"/>
<path d="M336.3 553.1 334.8 546.9 337.8 546 340.6 545 342.9 543.2 344.8 541.2 346.6 539.6 348.8 537.6 350.4 537.7 351.9 541.8 354.7 542 356.9 541.7 356.7 545.2 355 548.3 352.7 549.7 350.2 550.8 348 552.5 344.4 553.4 341.2 554.2Z" fill="#FDC270"/>
<path d="M277.3 277 273.6 274.3 272.4 271.6 270.8 269.1 270.8 266.3 269.6 263.8 269.4 260.3 273 260 275.8 257.7 278.9 256.7 282.6 254 283.4 257.5 285.3 259.8 288 262 289.5 265.4 286.4 267.6 284.4 270.7 282.9 273.5 283.5 276.6 283.4 279.4 280.3 278.4Z" fill="#FD9633"/>
<path d="M469.9 344.9 469.6 340.9 473.5 338.1 475.9 340.6 478 339.9 477.7 341.8 478.2 343.8 479.7 348.1 475.8 346.7 471.8 347.9Z" fill="#FDC270"/>
<path d="M420.3 537.5 418.1 538.2 416.2 534.6 414.3 533.2 413.6 530 415.3 530.6 417.5 530.8 420.8 529.7 420.9 532.1 422.2 535.1Z" fill="#FDC270"/>
<path d="M485.8 310.4 482.1 312.7 478.7 313 475.1 313.6 475.2 309.9 474.5 306.6 473.2 303.6 474.7 300.9 476.1 297.7 476.5 294.4 479.2 294.9 481 296.8 483.1 298.7 488.3 298.8 488.9 301.2 489.6 303.7 492.1 305.3 492.1 308.4 493.9 310.6 491.3 311.1 488.6 309.1Z" fill="#FD9633"/>
<path d="M467.4 277.3 466.2 272.7 468.9 269.3 472.2 269 475.4 269.3 478.2 269.8 480.4 268.3 480.2 272.8 478 276.1 477.5 279.1 475.7 281 471.4 278.7Z" fill="#FD9633"/>
<path d="M647.7 505.9 642.8 507.5 642.9 504.8 643 502.5 643.1 499.7 643.8 497.3 645.1 494.8 646 492.1 646.3 489.2 649.2 491.1 651.3 493.5 656.2 494.3 655.9 497.5 654.7 500.4 653.5 504.4 650.9 507.1Z" fill="#FDD98F"/>
<path d="M518.7 463.5 516.7 464.7 513.9 464.8 511.7 461.9 513.1 459.9 513 456 516.4 455.2 517.9 458.1 520.6 459.4 521.1 462.8Z" fill="#FDC270"/>
<path d="M393.5 240.3 393.2 244 393.3 247.3 390.3 246 386.9 245.7 383.8 245 381 244.5 378.2 244.9 374.9 245 372.1 242.7 369 242.9 370.4 240.7 371.1 238.2 371.2 235.5 372.3 232.3 372.8 228.5 375.5 227.6 378.4 227 380.3 226.1 383.7 225.5 386.5 226.8 389.4 227.9 390.4 231.6 393 234.4 394 237.4Z" fill="#FDC270"/>
<path d="M553.3 556.9 551 553.3 548.7 553 548.6 550.4 547.6 546.9 549 545.7 552.2 546.5 552.9 549 554.6 551.3 552.9 553.7Z" fill="#FDC270"/>
<path d="M375.4 360.5 377 355.9 377.9 351.6 380.2 350 380.2 347.1 381.7 345.6 383.5 348.6 387.3 349.4 389.6 352.7 393.2 353.9 395.7 355.7 393.4 357.6 390.8 359.1 388.1 360 386.4 362.3 384 363.7 380.8 364.4 378.1 364.7 376.2 362.7Z" fill="#FDC270"/>
<path d="M303.7 484.3 302.5 483.3 301.7 480.6 302.6 477.7 305 475.2 305.8 478.5 307.2 478.3 308.3 480.2 305.6 481.5 305.3 484.8Z" fill="#FD9633"/>
<path d="M445.4 383.6 443.2 384.8 440.9 382.7 439.4 378.2 440.4 375.4 441.4 370.9 445.2 372 445.6 374.5 445.5 377.3 447.9 379.7 445.8 381.7Z" fill="#FDC270"/>
<path d="M366.7 461.9 362.6 463.4 360 462.6 358.1 463 357 460.2 355.5 457 352.3 455.4 349.6 453.8 349.8 450.4 353.4 449.5 356.2 450.2 360.5 449 363.4 450.4 366.3 452.5 364.8 457.1 366.1 459.3Z" fill="#FDD98F"/>
<path d="M650.8 257.4 646.6 256.2 648.3 251.7 651.3 249.7 654.7 246 657.8 247.8 658.1 250.5 656.8 252.9 659.7 256.3 655.3 257.1 652.9 258.4Z" fill="#FD9633"/>
<path d="M363.6 279.6 361.3 283.7 359.9 281.3 357 280.1 358.1 277.1 357.5 274.3 356.4 271.8 354.8 269 357 264.5 360.8 264.7 362 266.9 363.3 269.1 364 271.5 365.6 275.2 366.3 278.1 367.9 280.7Z" fill="#FDC270"/>
<path d="M522.2 405.6 525.4 404.2 527.3 401.6 528.8 399.3 529.5 395.7 530.8 392.9 533.4 392.3 535.5 390.7 538.2 390.8 541.1 390.7 543 392.9 541.7 397 542.1 401.5 539.4 402.7 537.5 404.8 535.7 407.4 533 407.7 530.4 408.2 527.8 408.3 525.1 407.5Z" fill="#FDC270"/>
<path d="M256 254.4 252.3 254.3 250.1 253.6 248.8 250.2 249.8 247.1 249.9 243.9 251.3 241.4 253.1 239 251 236.3 252.4 233.6 252.4 230.8 252.6 227.5 254.5 229.5 256.9 230.4 259.5 230.8 262.4 231.4 264.4 232.8 265.4 235.5 264 237.9 263.5 240.7 265.3 243.7 265.7 246.9 264.7 250 264.9 253.4 263.5 255.5 261 254.5 258.4 255Z" fill="#FDC270"/>
<path d="M543.8 375 539.6 374.8 537.2 376.4 535.3 374.2 534.9 371.5 533.6 368.9 535.6 366.3 539 365.4 540.5 369.3 543.6 370.7Z" fill="#FD9633"/>
<path d="M631.9 389.3 632.7 386.6 632.9 383.1 635.3 382.1 638.3 381.7 639.9 379 641.9 376.8 644.2 375.8 648.6 378 646.5 380.8 644.8 383.7 642.4 387 640.3 390 639 392.5 636.7 391.5 634.6 390.1Z" fill="#FDC270"/>
<path d="M338.4 431.7 335.5 428.9 333.8 426.2 332.5 423.9 335.8 423.1 339.1 421.7 340.4 419.1 343.2 417.2 344.3 419.9 346.8 420.9 348.9 422.8 351.6 423.9 349.8 426.4 347.8 428.6 345.2 431.1 341.3 434.1Z" fill="#FDC270"/>
<path d="M333.6 492.7 331.5 492 330.2 490.1 329.9 486.7 332.5 486.1 332.2 482.6 334.5 484.7 334.8 487.4 336.9 489.7 335.2 494.3Z" fill="#FDD98F"/>
<path d="M627.8 356.3 625.1 356.1 622.6 356.5 618.2 356.3 615.8 354.9 614.3 353 611.8 351.5 609.5 349.7 607.3 347.4 609.8 344.8 612.4 342.4 614.1 339.2 617.6 336.8 620.1 339.7 622.9 342.6 626.6 342.3 629.5 344.1 630.6 347.2 631.3 350.9 629.3 353Z" fill="#FDD98F"/>
<path d="M293.6 303.1 290.5 298.7 294.5 298.7 297.1 295.7 301 295.2 303.6 292.3 306.4 296.1 309.1 297.9 309.2 301.2 305.8 303.7 302.8 305.4 300.1 306.5 296.2 304.2Z" fill="#FDD98F"/>
<path d="M494.6 389.9 494.2 387.1 492 384.2 494.7 384.1 497.4 383.8 499.4 381.9 504.2 379.6 508.1 380.6 511 382.2 513.5 381.9 512.2 384.5 510.1 386.7 510.6 389.7 509.2 391.5 506.4 393.7 503.3 395.3 500.4 394.7 498 392.9Z" fill="#FDC270"/>
<path d="M480.4 453.3 477.6 453.8 475.9 453.1 473.8 451 473.3 448.4 473.1 445.8 471.6 443.4 470.7 441 472.2 438.1 471.4 435.1 474.7 432.8 478.4 431.8 481 435 480.2 439 482.9 442.8 483.3 445.8 482.5 448.7 481 451.3Z" fill="#FDD98F"/>
<path d="M437.1 449.6 433.4 452.5 433.3 449.4 432.3 446.4 433.1 443.3 433.7 438.4 432.9 435.5 432.2 432.7 432.2 429.8 436.2 427.1 438.6 429.3 439.7 432.4 439.8 435.2 441.7 437.6 440.2 440.8 442.3 443.4 442.1 446.8 441.1 449.1Z" fill="#FDC270"/>
<path d="M366 385.1 365.8 383.4 368.9 381.8 370.3 380.4 372.3 380 372.9 380.7 375.1 381.4 373.3 383.7 370.7 384.7 367.7 386.3Z" fill="#FDC270"/>
<path d="M593.1 436.7 590.3 435.1 588.7 433.3 592.1 431.7 595.6 430.7 598.2 429 599.9 426.8 601.2 429.3 603.1 430.8 606.4 432.1 610.2 432.5 607.2 434.1 604.6 436.6 604.1 441.6 601.2 442.8 598.4 443.8 597.2 441.2 595.4 439.5Z" fill="#FDC270"/>
<path d="M557.8 260.4 554.5 261.2 550.9 262.4 548.7 261.1 546.7 259.5 544.5 258 542.4 255.6 540.6 252.9 538.1 253.1 539.3 250.5 540.9 248.1 542.7 246 546.8 243.4 547 240.1 548.4 237.3 549 234.8 552.1 235.8 554.2 238.1 556.8 240.1 556.9 242.6 556 245.3 557.8 247.5 558.8 250.2 559.4 253.2 557.8 256.3Z" fill="#FDC270"/>
<path d="M436.8 287.2 435.8 285.1 436.3 282.9 438.9 281.8 441.8 279.5 443.4 282.3 445.7 284.7 443.1 287.3 440.9 288.7 438.6 288.9Z" fill="#FD9633"/>
<path d="M654.3 270.3 650.9 273.4 648.7 270.5 649.8 265.9 646.7 263.6 644.3 261.6 645.5 258.6 646.2 255.5 650.2 253.7 653.5 256.1 656.6 259.3 657.6 262 659.1 265 656.9 268.3Z" fill="#FD9633"/>
<path d="M426.6 409.9 424.2 409.9 421.8 407.7 417.4 405.7 421.8 403.6 421.9 398.9 425.5 399.4 429.4 401 430.2 404.8 430.7 408.7Z" fill="#FDC270"/>
<path d="M500 236.9 503 237.3 506 238.8 509 237.8 512 236.7 515 234.3 518 237.9 521 235.6 524 237.5 527 235.7 530 234 533 237.8 536 236.2 539 237.4 542 236.7 545 236.3 548 235.8 551 233.8 554 234.4 557 234.3 563.3 234.7 560 239.4 564.6 240.9 563.3 244.8 562.6 248.4 568.8 249.3 565.3 254 569.6 255.7 568.6 259.5 570.1 262.2 571.4 265.1 572 268.2 573.3 271 573.3 274.4 574.8 277.1 578.2 279.2 582.6 280.8 580.2 285.1 580 288.5 581.4 291.3 584.6 293.4 585.3 296.5 584.2 300.6 583.5 304.6 586.5 306.3 590.6 307.2 591.9 310 595.3 311.4 598 313.2 594.6 319.1 597.4 320.9 598.4 323.9 602.7 324.7 603.9 327.5 601.6 332.6 608 332 609.2 334.9 610 337.7 606.8 337.4 603.8 339.5 600.5 336.2 597.5 338.9 594.4 339.5 591.3 340.4 588.3 341.5 585.1 341.7 581.7 337.2 578.9 341.9 575.7 342 572.5 339.8 569.6 344.7 566.2 340.3 563.2 341.2 560 340.7 556.9 339.7 553.8 340.8 550.7 341.1 547.6 337.3 544.5 343.4 541.5 341.4 538.4 340.1 535.3 342.3 532.2 342.8 529.1 340.2 525.5 341.3 523.9 338.5 521.5 336.2 521.4 332.4 519.1 330 514.9 329 516.3 324.5 510.8 323.1 512.4 318.8 509.4 316.4 509 312.9 510.8 308.6 505.7 307 505 303.6 505.7 299.9 505.9 296.9 502.3 294.1 505.6 290.8 499.9 288.1 499.8 285.1 502.7 281.8 505.3 278.5 502.5 275.7 500.4 272.8 504.7 269.4 500.4 266.6 500.4 263.6 504 260.2 500.9 257.4 500.5 254.4 500.7 251.3 503.2 248 501 245.1 501.7 242 502.1 238.9Z" fill="#FD9633"/>
<path d="M520.8 261.9 522.2 264.4 522 267.3 523.6 269.5 523.7 271.9 520.9 273.8 518.4 272 515.5 270.8 513.5 268.7 511.4 266.8 509.5 263.9 508 260.8 510.6 261.2 513.8 261.2 515.8 257.6 518.4 260Z" fill="#FDAC52"/>
<path d="M584.5 318.7 586.5 320.8 587.6 323.2 588.2 326.4 584.6 325.5 580.6 324.6 579.4 320.5 577.6 316.4 580.1 315.4 582.8 316.2Z" fill="#FDAC52"/>
<path d="M561.5 268.1 559.8 270.6 557.5 272.6 555.3 275.4 552.8 277.5 551.7 274.9 550.6 272.3 549.7 269.7 549.1 266.8 550.1 264.4 551.8 262.1 551.8 258.9 554.3 257.6 556.8 256.8 559.3 260 562.2 262.1 561.5 265Z" fill="#FDC270"/>
<path d="M570.6 316.9 566 318.1 562.1 316.9 560.2 313.4 561.7 311.1 562.7 308.9 565.4 307.1 568.3 305.3 572.6 308 572.3 311.2 575 313.8 573.3 316.2Z" fill="#FDAC52"/>
<path d="M540.4 313.3 537.6 315.4 534.9 317.6 533.1 319.6 533.3 322.4 532.1 324.7 531.5 327.1 529.6 325 527.2 323.4 525.8 321 524 318.1 522.6 315.2 521.4 312.4 521.6 309.4 520.7 306.8 523.1 305.8 525.7 305.6 528.5 305.3 530.4 303.6 531.4 300.9 533.7 300.2 535.7 301.9 537.1 304 538.3 306.3 539.5 309.8Z" fill="#FDAC52"/>
<path d="M527 313.4 528.8 316 529.8 318.9 527.7 320.6 524.6 323.3 521.4 322.8 519.1 320.8 520.6 316 519 311.5 523.1 309.9 525.1 311.8Z" fill="#FDC270"/>
<path d="M530.3 309.4 529.7 313.7 528.6 316.1 527.4 320.7 523.3 319.1 520 319.1 518.5 316.7 519.6 314 521.4 312.4 522.2 309.4 525.9 307.9Z" fill="#FDC270"/>
<path d="M530.8 344.1 527 345 524.2 347.5 519.6 346.2 519.2 341.6 521 337.6 523.7 334.3 527.1 335.1 531.3 333.9 531.1 337.5 531.8 340.5Z" fill="#FDAC52"/>
<path d="M559.6 305.7 556.4 306.6 553.3 307.4 550.6 309.4 546.8 307.2 542.8 304.5 544.3 302.3 546.1 300.2 548.2 296.1 550.7 294.7 553 294.3 555.3 296.2 557.4 298.5 558.1 301.7Z" fill="#FDC270"/>
<path d="M571.5 274.6 568.6 275.9 566.2 277.6 563.3 275.9 563.7 272.8 565.5 269.9 568.3 269.5 571.3 267.3 571.5 270.8Z" fill="#FDAC52"/>
<path d="M538.5 262.3 540.9 264.2 543.7 265.3 545.5 267.5 545.7 270.5 548 272.6 549.4 275.8 546.7 276.7 544.8 278.4 543.6 281.1 540.6 280.1 537.5 279.3 534.4 278.5 531.5 278.1 528.6 277.1 525.4 276.6 526.5 273.1 527.3 269.2 524.9 267.3 524.5 264.5 522.9 261.8 525.6 261.5 528.3 261.4 531 261.8 533.6 261.2 535.9 262.6Z" fill="#FDAC52"/>
<path d="M549.8 240.8 551.5 242.9 554.2 244.1 556 246.4 555.6 251.3 553.7 255.3 551 254 548.4 252.6 546.8 249.6 544.1 249.2 542.6 247.3 539.9 246.2 538.3 243.9 538.7 241.2 537.8 238.7 540.1 237.3 542.4 238 545.2 238.3 547.4 240Z" fill="#FDAC52"/>
<path d="M547.4 310.8 545 312.3 542.9 314.1 540.7 316 538.6 318.2 538.5 321.2 537.7 323.8 535.2 321.7 533.1 319.3 531.6 316.2 528.9 313.6 530.7 310.5 532 307.4 532.9 304.8 533.3 302.2 533.7 299.6 536.7 297.6 539.4 295.9 541.4 297.6 543.9 298.9 545.5 301.4 546.4 304.5 547.3 307.7Z" fill="#FDC270"/>
<path d="M546.6 288.4 543.1 289.5 539.4 290.7 537.7 286.6 539.2 283.7 540.5 280.4 544.1 280.3 548.1 281 548.2 284.9Z" fill="#FDC270"/>
<path d="M561.6 254.1 561 257 559.4 259.5 559.4 262.1 556.7 261.4 554.2 260.3 551.4 260 549.2 258.7 546.7 258.4 544.5 257.4 545.3 254.8 545.2 252.2 544.7 249.4 546.3 247.2 545.8 244.4 546.7 241.8 550.4 241.6 554.1 242 556.6 241.1 559.1 240.7 561.2 240.5 561.8 243 563.1 245.4 563.1 248 563.8 251.4Z" fill="#FDAC52"/>
<path d="M560.3 330.4 557.7 331.7 555.9 333.1 553.1 330.6 551.8 328.3 553.4 324.1 555.6 321.7 557.9 318.8 559.9 320.7 562.1 321.2 562.9 324.5 563.7 327.4Z" fill="#FDC270"/>
<path d="M550.1 298.1 548.8 301.7 547.1 305 544.3 305.2 541.7 304.1 536.3 304.8 536.2 301.6 534.3 298.9 534.1 295.9 534.1 292.8 533.1 290.9 536.8 290.4 540.5 289 544.5 289.8 548.1 292.3 549.1 295.4Z" fill="#FDAC52"/>
<path d="M577.3 326.8 573.4 329 570.7 329.2 568 330.7 567.5 327.1 570.5 323.2 573.2 320.3 576.7 318.7 579.4 320 577.5 323.5Z" fill="#FDAC52"/>
<path d="M552.6 256.1 549.6 256.8 547.2 259.2 544.2 259.1 542.2 257.2 539.8 255.5 537 253.8 533.5 252.7 534.5 249.9 536.1 247.4 537.4 244.9 540.4 244.1 543.4 243.3 545.9 240.7 549.2 241.7 552.3 240.6 555.4 243.8 554.6 246.4 552.9 248.8 552.6 251.3 552.6 253.9Z" fill="#FDC270"/>
<path d="M568.4 287.3 567.5 290.4 568.2 293.1 569.7 295.8 565.2 298.5 561.9 295.5 558.8 295.8 556.1 295.9 555.8 293.4 554.6 291 553.5 288.6 553.1 286 553.9 283 554.8 280.1 554.7 276.4 557.6 276.7 560.4 277.9 562.2 280.9 564 283.8 565.6 285.8Z" fill="#FDAC52"/>
<path d="M514 273.1 511.2 274 507.6 275.4 503.2 273.6 504.6 271 507.5 269.2 507.2 265 511 264.4 516 264.7 517.2 267 517.3 269.4Z" fill="#FDAC52"/>
<path d="M560 304.3 558.9 307.4 556.9 307.2 555.4 306.3 554.6 304.3 556.3 301.1 558.2 297.4 560 299.8 562.7 300.7Z" fill="#FDAC52"/>
<path d="M537.9 283.2 538.9 286.1 538 288.8 535.1 290.6 534.8 293.7 534.5 296.7 532.5 293.9 529.2 292.5 527.6 289.2 524.9 287.1 526.2 284.9 527.2 282.4 528.2 279.3 528.1 275.5 530.6 277.7 533.3 278.6 536.3 280.5Z" fill="#FDAC52"/>
<path d="M531.5 297.6 531.6 300.5 533.3 302.5 532.5 306.5 529.6 306.1 525.7 304 524.2 300 522.3 297.7 520.4 295.3 518.8 292.5 523.5 291.8 525.7 293.4 528.1 294.8Z" fill="#FDC270"/>
<path d="M556.6 291.4 553.1 292 549.8 293.3 546.4 290.2 546.2 287 545.5 284.4 544.4 282 546.1 279.7 548.5 278.1 550.5 277 553.8 276.7 557.4 277.1 559.3 281.1 560.6 285.9 557.8 288.4Z" fill="#FDC270"/>
<path d="M544.2 252.6 542.5 255.2 539.9 256.3 536.5 257.9 533.5 258.7 531.4 255.9 529.7 253.6 531.8 250.7 532.2 246.9 532.1 243.3 533.9 241 537.1 240.5 540 240.6 543.2 244.3 545.5 247.8 546 250.5Z" fill="#FDAC52"/>
<path d="M421 232.1 424 234.7 427.1 234.6 430.1 239.4 433.2 236.3 436.2 234 439.2 233.9 442.3 235.1 445.3 233.7 448.3 237.4 451.4 236.6 454.4 236.5 457.5 231.9 460.5 233.9 463.5 235.4 466.6 236.3 469.6 237.1 472.7 234.1 475.7 239.7 478.7 233.6 481.8 234.6 484.8 233.8 487.8 237.6 490.9 238.3 493.9 237.3 497 233.6 501.2 235.7 501.3 239.1 497.9 243.5 504.4 245.3 507.7 247.9 506 251.8 503 256.1 505.4 259 507.3 262.1 507.8 265.8 506.5 268.6 501.8 269.8 500.1 272.4 500.7 276.1 500.9 279.6 496.1 280.7 497.8 285 495.5 287.3 496.6 288.7 497.3 291.8 493.9 297.1 499.4 297.8 499.6 301.2 502.5 303.2 501.4 307.3 503.5 309.7 504.7 312.7 507.5 314.7 507.1 319 512.6 319.5 511.6 324.2 515.6 325.6 513.3 331.2 517.3 332.7 518.7 336.3 521.3 339.7 530.7 341 527.8 344.7 528.2 348.3 526.1 353.5 522.7 349.8 519.4 350 516.2 351 513.1 354.3 509.8 352.7 506.5 353.5 503.3 353.2 499.4 351.2 497.5 355.6 493.8 354.4 491.1 356.4 489.7 355.6 484.6 355.9 486.3 350.4 483.3 348.9 478.3 349.1 477 346.2 477.1 342.4 475.3 339.9 472 338 470.3 335.3 474.8 329.6 469.2 326.7 466.1 327.8 463 328.7 460 328.8 458.1 328 455.1 325 457.4 321.8 456.5 318.7 455.5 315.6 455.5 312.5 458.7 309.3 454.7 306.4 456 303.2 454 300.2 458.7 293.7 452.4 296.5 449.7 294.7 447.7 292.3 446.4 288.9 443.1 287.9 441.6 284.8 437.8 284.7 436 282 435.2 277.8 430.6 279.1 429.2 275.9 426.8 273.5 423.9 271.5 422.2 268.7 424.3 263.8 422.9 262 425.4 258.8 420.9 255.5 419.4 252.2 420.8 249 421.3 245.8 421.7 242.5 421.2 239.2Z" fill="url(#mtn)"/>
<path d="M468.8 269.6 469.2 272.4 468.5 274 467.4 274.6 465.8 273.6 462 271.6 463.6 269.8 463.3 267.3 466.4 267.7Z" fill="#F66666"/>
<path d="M497.4 352.6 498.4 355.5 496.8 355.5 496.6 357.3 494.7 355.7 494 352.8 493.9 351 494.7 350.9 495.5 352Z" fill="#F66666"/>
<path d="M474.5 305.9 476.4 310.6 473.8 312.9 471 316.7 467.1 314 464.1 310.3 467.5 307.3 467.5 304.4 471 302.1 472.5 304.2Z" fill="#FD9633"/>
<path d="M494.4 321.3 496.5 325.5 494.5 327.2 492.9 327.3 491.1 324.1 491.1 321.1 489.5 317.3 492.2 314.8 492.7 319.7Z" fill="#F66666"/>
<path d="M479.9 299.9 480.5 303 479.7 303.1 478.3 303.8 477.6 301.8 475.3 299.2 476.8 296 478.1 297.4 479.4 297.6Z" fill="#F66666"/>
<path d="M499.8 304 501.3 307.1 499.7 308.1 498.4 305.4 496.5 306.5 495.5 304.4 496 303.4 497.1 302.8 498.6 301.7Z" fill="#FD9633"/>
<path d="M491.6 247.9 491.5 251.7 490.4 252.6 489.2 253.3 488.2 250.2 485 247.5 486.2 245.4 486.3 242.2 489.4 243.3Z" fill="#FDAC52"/>
<path d="M486 335.3 485.6 336.7 486.1 338.1 484.9 338.9 483.8 337.5 483.5 335.5 482.4 333.4 483.4 333.6 484.3 333.5Z" fill="#FDAC52"/>
<path d="M492.6 326.7 493.2 329.9 494.5 332.1 493.8 334.3 490.8 332.2 487.8 329 487.1 326.7 487.5 325.7 489.2 325.5Z" fill="#F66666"/>
<path d="M443.7 281.1 444.3 282.6 443.8 283.3 443.2 283.6 441.2 283.6 441.6 281.8 440.7 279.2 442 280.2 442.7 280.3Z" fill="#FD9633"/>
<path d="M441.9 278.5 440.8 280.5 439.4 281.2 438.2 281.1 436.2 280.7 436.1 278.5 436.6 276.3 438.5 276.4 440.7 276.1Z" fill="#FD9633"/>
<path d="M462.5 323.5 463.2 326.9 461.7 326.6 461 327.3 459 326.6 458.1 324.1 456.7 320.4 459 321.5 460.5 320.3Z" fill="#FDAC52"/>
<path d="M482.2 298.3 484.1 300 484 301.8 482.6 301.9 480.9 301.6 479 298.9 479.1 297.1 479.2 295.8 480.7 297.2Z" fill="#FD9633"/>
<path d="M469.4 326.7 469.7 330.5 470.6 335.5 467.7 334.2 463.7 332.4 462.5 330 461.1 327.7 462.2 324.3 464.7 324.2 466.8 324.3Z" fill="#F66666"/>
<path d="M470.1 241.5 470.3 243 470.8 245 468.8 244.3 467.9 243.1 467.7 240.9 468 239.1 468.7 238.5 469.7 239.3Z" fill="#F66666"/>
<path d="M478 318 478.2 321.6 477.4 326 474.6 322.7 472 322 471.7 318.3 471.8 315.1 473.7 315.5 476.1 314.4Z" fill="#F66666"/>
<path d="M462.3 246.8 464.3 250.4 465 254.3 461.5 254.3 458.6 251.6 457.2 249.5 456.3 247.5 455 243.3 456.3 241 458.8 242.4 460.4 244.5Z" fill="#FD9633"/>
<path d="M442 274.2 442.7 276.7 442.2 278.7 440 281.3 437.5 279.8 435.3 278.5 434.7 274 434.1 268.7 437.3 267.9 440.2 269.7Z" fill="#F66666"/>
<path d="M511.3 325.8 513.2 328.6 512.7 330.3 511.4 332.3 508.7 330.1 507.5 326.5 506.8 323.8 507.4 322.2 509.3 321 511.1 323.1Z" fill="#FD9633"/>
<path d="M500.1 315.9 501.9 318.5 500.5 319 499.8 320.3 496.6 319.3 497.1 316.2 496.8 314.3 497.5 313.7 499.6 313.4Z" fill="#FD9633"/>
<path d="M452.3 271.9 454.4 273.9 453.6 275.2 452.9 276 450.6 273.9 449.6 272 449.1 267.8 450.5 269.3 451.4 269.6Z" fill="#F66666"/>
<path d="M489.8 335.3 490.6 338.1 489.3 341.1 487.4 338.9 486.1 337.9 484.8 335.4 484.5 332.7 486.8 333.4 487.8 333.7Z" fill="#FDAC52"/>
<path d="M463.9 288.8 464.5 290.5 465.9 290.9 464 291.5 463.2 290.5 462.7 289.2 461.4 287.1 462.6 286.9 463.1 288.5Z" fill="#F66666"/>
<path d="M482.9 253.1 484.5 256.6 485.3 259.7 484 261.5 479.5 259.9 477.7 258.2 476.8 255.8 474.1 254.3 473.1 251.5 475.4 249.6 479.5 250.3Z" fill="#FD9633"/>
<path d="M488.4 268.6 489.3 271.7 488.6 274.1 486.1 273.7 484.4 270.9 484.4 268.2 484 264.7 486.6 265.3 488.2 266.1Z" fill="#FDAC52"/>
<path d="M496.9 347.2 497.2 349.6 497.4 352.2 496.4 354.3 494.2 350.3 494.1 346.3 493.7 342.1 495.4 340.9 497.5 342.3Z" fill="#FD9633"/>
<path d="M480.2 239 482 240.6 480.2 241.9 480.1 242.7 477.1 242.6 475 240.1 476.8 238.6 476.9 236.3 478.7 236.6Z" fill="#FD9633"/>
<path d="M499.1 335.5 499.4 337.1 499.1 337.8 498.6 337.8 497.7 337.1 495.9 335.4 497.2 334.4 497.3 333.4 498.3 333.9Z" fill="#F66666"/>
<path d="M526.1 347.3 526.7 348.9 526.1 351.5 525.9 350.2 525 348.4 523.8 346.9 523.2 346.1 524.6 345 525 345.8Z" fill="#FDAC52"/>
<path d="M483.5 340.2 486 342.7 486.7 345.9 484.1 345.1 481.8 344.2 480.2 342.2 478.5 340.7 478.2 337.4 481.3 337.5Z" fill="#F66666"/>
<path d="M454.2 282.7 454.8 284.8 454.3 286.3 453.3 286.6 450.7 285.5 451.2 283.8 450.1 281.7 450.3 280.5 452.4 282.8Z" fill="#F66666"/>
<path d="M477.7 287.6 477.9 289 478.1 291.6 476.7 290.8 475.6 289.9 474.9 288.3 474.3 286.4 475.4 286.1 476.1 286.1Z" fill="#FDAC52"/>
<path d="M465 243.9 462.8 247.4 461.7 249.6 459.5 250.9 455.2 250.9 455 248.1 454.4 245.5 455.3 241.3 458.2 237.9 461.7 241.3Z" fill="#FD9633"/>
<path d="M480.6 324.7 480.6 328.8 481 331.9 478.3 332.5 476.1 331.7 472.1 329.8 471.8 326 472.9 322.2 476.6 325Z" fill="#FD9633"/>
<path d="M475.4 266.8 473.8 269.5 471.5 267.1 468 266.6 465.5 264.4 464.5 261 464 258.5 464.8 255.8 466.3 256.3 468.9 254 472.8 256.6 474.4 260.3 476.1 263.6 478.1 267.7Z" fill="#FD9633"/>
<path d="M490.8 300 488.5 303 487.9 307.1 486.1 310.5 483.8 309.3 482.4 305.8 478.3 304.5 479.1 301.9 481.2 300.1 479 295.2 481.6 292.1 483.4 289.4 488.4 288 487.4 293.1 490.6 296.3Z" fill="#FDAC52"/>
<path d="M458.7 283.9 457.9 285.4 455.5 284.3 454.4 282.1 452.8 280.8 448.7 279.8 449.5 276 451.6 277 452.8 276.2 454.8 274.2 456.1 277.2 460.4 278.9 458.7 280.5 460.7 283.9Z" fill="#FD9633"/>
<path d="M504.9 326.9 507.5 328.4 508.2 331.6 508.9 335.1 504.8 336 504.9 338.8 504.1 341.9 501.9 340.7 501.4 337.6 497.3 336.3 493.9 333.3 493.6 330.6 492 328.9 494.1 326.2 494.9 323.1 497 320.8 499.5 322.3 502.6 323.7Z" fill="#FD9633"/>
<path d="M481.7 319.9 481.8 323.2 479.6 325 478.9 327.5 477.2 328.3 477.5 326 476.5 321.6 473.8 319.9 474.2 317.4 475.7 314.4 478.1 310.2 478.2 313.9 481.3 314.3 482 316.8Z" fill="#FDAC52"/>
<path d="M552.9 298 553.4 301.3 551.3 304.2 549 306.7 546.9 311.8 545.2 307.5 542.6 306.7 539.5 307.9 535 306.3 532.4 305.7 531 305.9 529.1 301.4 527 299.6 524.5 298.6 522.3 298.9 524.8 296 527.8 293.8 532.2 292.8 535.4 290.6 538.6 289.7 538.2 285.7 541.2 283.6 542.7 286.7 543.8 290.5 547.4 290.7 549.8 292.2 551 295.1Z" fill="url(#mtn)"/>
<path d="M566.7 332.2 564.5 335.9 561.3 338.1 557.5 337.8 554.1 338.7 550.8 337.3 548 338.1 545.3 338.9 542.4 338.2 539.6 339.1 536.5 339.3 533.6 337.9 531.5 336.3 531.6 333.3 532.1 330.7 533.9 328.1 536.6 327.2 539.8 327.5 542.6 329.3 545.8 329.1 548.3 327.7 551.2 327.1 554.1 325.5 557.2 325.4 559.1 326.8 559.9 331.3 562.8 330.7 565.4 331.1Z" fill="url(#mtn)"/>
<path d="M564.5 262.2 560.7 262.4 561.4 264.8 559.7 265.4 556.8 264.9 553.9 264.8 551.2 263.9 550.6 261.7 552.1 260.8 555.2 260.3 556.4 256.6 558.7 259 560.6 262.1 565.1 260.5Z" fill="url(#mtn2)"/>
<path d="M545.8 273.8 542.8 272.9 543 274.8 540.7 275.3 539.3 273.3 538 273.4 536.5 273.2 535.3 272.4 537.2 271 537.1 269 539.1 269.1 540.9 268.9 543 268.9 543.4 269.5Z" fill="url(#mtn2)"/>
<path d="M564.6 293.2 567.4 293 563.5 292.9 563.3 294.6 560.6 295.8 557.9 295.1 556.4 293.7 556.6 292.1 556.3 290.5 558.2 290.2 561 289.3 562.7 290 563.7 292.4 565.5 290.4Z" fill="url(#mtn2)"/>
<path d="M590 233.9 593 237.8 596 233.6 599 236.2 602 237.5 605 232.4 608 236.2 611 236.4 614 238.3 617 237 620 233.5 623 237.4 626 235.5 629 235.4 632 238.3 635 238 638 236 641 237.3 644 238.8 647 237.4 650 235.4 653 238.4 656 236.2 659 238.3 662 236.9 665 236 668 236.1 671 235.4 672.9 236 672 239 675.4 242 675 245 673.9 248 676.3 251 673.9 254 671.6 257 673.9 260 672.8 263 675.1 266 676 269 675.9 272 675.1 275 673 278 675.7 281 673.4 284 676.1 287 674.3 290 671.8 293 675.7 296 671.8 299 671.8 302 672 305 674.5 308 673.8 311 672.8 314 674.3 317 672.9 320 673.4 323 671.9 326 675.4 329 675.3 332 674.4 335 672.5 338 674 341.4 671 338.9 667.8 342 664.7 341.6 661.6 342.3 658.4 343.9 655.4 342.6 652.3 341.7 649.2 342.6 646.3 337.8 643 341.8 640.4 339.2 637.2 338.5 634.4 336.9 631.4 335.9 629.3 332.9 626 332.2 620.6 335.9 620.7 329.7 619.7 326.8 615.7 325.3 614.5 322.5 615.3 318.7 613.4 316.2 610.8 314.1 610.3 311 610.3 307.6 607.2 305.7 606.4 302.7 607 299.5 605.6 296.7 602.4 294.3 605.1 290.5 600.5 288.4 601.8 284.9 601.2 281.9 599 279.3 599.3 276 597 273.4 597 270.2 599.5 266.4 598.7 263.3 595.5 260.8 598.3 256.9 592.3 255 592.8 251.7 590.7 248.9 593.2 245 591.9 242.1 591.2 239Z" fill="#FDC270"/>
<path d="M675.2 289.2 674.2 291.9 671.6 292.8 670.6 295.5 668.3 296.8 667.1 300.1 664.1 299.2 661.8 301.6 659.1 302.2 656.2 301.4 652.5 300.5 650.3 302.9 648.1 305.5 646.2 307.2 643.6 306.2 641 305 638.5 303.7 635.9 302.6 633.5 300.9 630.4 302 628 300.4 625.5 300.6 623.1 298.4 620.5 300.8 618.1 300 615.6 299.8 613 300.3 609.8 299.7 610.7 297.3 612.2 295.1 612.9 292.6 612.6 290.1 612.9 287 614.2 284.4 615.9 281 618.8 282.6 621.6 281.8 624.5 283.3 627.3 280.8 630.7 281.6 631.2 279.1 632.2 276.7 630.1 273.6 633 271.7 633.2 269.7 635.9 267.9 639 268.5 641.8 267.3 644.7 266.8 647.6 267 650.5 267.1 652.5 269.3 655 270.2 657.7 271 659.7 272.9 661 275.3 659.8 278 660.7 280.5 660.6 283.5 663.3 284.3 665.7 285.8 668.1 287.1 670.7 288.2 673 289.8Z" fill="#FDD98F"/>
<path d="M629.4 258.6 623.8 260.1 624 263.2 621 263.9 618.6 265.9 616.1 266.5 613.8 267.5 612 269.5 609.6 270 607.9 266.7 605 264.3 602.1 260.9 602.3 259 600.5 256 597.7 254.8 595.1 253.5 597.6 252.2 600.1 252.3 602.6 253.6 605.1 252.6 608.8 253.7 609.4 250.2 609.3 247.5 612.4 248.3 615.2 249.9 618.3 252.1 620.7 249.9 623.5 250.9 626.2 250.6 628.5 249.5 630.9 251.3 632.1 253.9 630.6 255.9Z" fill="#FDD98F"/>
<path d="M675.4 322 674.8 326.2 672.3 326.9 669.7 326.8 667.1 326.6 664.8 328.2 661.8 329.4 659.3 333 656.4 333.2 653.7 332.4 651.2 330 648 328.6 643.6 328.7 645.9 323.1 642.3 321.9 640.6 317.9 644.5 316.6 647.5 315.7 649.9 317.6 652.6 316.2 655.5 317.4 657.5 314.9 660.3 315.8 662.6 314.2 665.3 314.5 667.5 314.4 670.3 315.7 672.3 317.9Z" fill="#FDD98F"/>
<path d="M672 250.8 669 250.9 666.1 251.5 664 254.3 659.5 253.3 657.4 255.2 652.5 255.7 649 257.3 645.3 257.1 643.9 254 639.4 254.1 640.2 249.3 643.1 250 645.9 249.9 647.1 248.5 646.8 244.4 649.2 242.9 651.5 242.6 654.7 242.9 657 244.6 661 246.7 663.7 246.2 666.4 245.7 669.8 245.5Z" fill="#FDD98F"/>
<path d="M400 238.3 403 236.9 406 236.9 409 236.2 412 234.6 415 237.2 418 235.4 421.6 236 419.6 239.2 423.9 242.4 423.2 245.7 421.5 248.9 419.9 252.1 422.8 255.3 419.8 258.6 422 261.8 420.7 264.8 419.3 267.5 418.6 270.6 415.2 272 413.9 274.8 411.6 276.9 410.2 279.6 409.6 282.8 407.3 285 406.3 287.9 404 292.3 400.1 290 398.9 287 400.9 284 400.7 281 398.5 278 400.4 275 399.7 272 400.4 269 399.4 266 398.9 263 400.7 260 399.7 257 398.9 254 399.5 251 400.1 248 400.6 245 398.6 242 398.5 239Z" fill="#FD9633"/>
<path d="M418.3 250.3 416.2 252.3 415 254.6 415.3 257.5 414.7 260.9 411.4 259.1 409.1 258 406.1 258.1 403.8 254.7 404 252.1 406.3 250 405.3 246.5 406.6 243.3 408.7 239.5 411 242.7 415.7 241.5 413.5 244.1 414.6 246.2Z" fill="url(#mtn)"/>
<path d="M415.8 278.1 417.1 281.5 415.5 282.2 413.4 284.7 411.3 282.5 407.8 284 407 280.8 407.2 278.5 406.2 274.7 408.4 271.9 410.9 272.4 412.9 273.5 415.6 273 416.7 275.6Z" fill="url(#mtn)"/>
<path d="M399.5 289.6 401.2 286.7 402.5 283.6 405.1 281.5 408.8 280.3 409 276.3 411.8 274.4 413.6 271.6 415.4 268.9 420.4 268.8 424.2 262.6 425 266.3 424.4 270.9 425.9 274.1 427.3 278.4 431 278.5 432.2 282 437 280.6 438.2 283.7 442 284.4 443.2 287.5 445.7 289.4 448.4 290.4 450.6 293.5 453.8 294.9 454.4 297.1 456.2 300 456.6 303 456.7 306 454.4 309.1 454.9 312.1 460.4 316.3 454.8 318.7 452.4 324.3 455.2 326.1 457.9 327.8 460 324.5 463.3 325.9 466.7 326.7 470.6 328.2 470.4 331.8 469.7 335.6 472.2 337.9 474.5 340.3 477.2 341.4 477.7 346.3 482.6 345.3 483.2 349.4 486.3 352.9 487.6 355.8 490.7 355 493.3 352.9 496.2 351.7 500 352.3 503.2 353.2 506.2 349 509.7 353.7 512.7 350.8 516.3 352.3 516.9 347.9 520.4 347.5 524.4 349.3 526.8 353 523.2 356.2 525.8 359.3 523.7 362.5 527.6 365.7 524.1 368.8 526.5 373.2 522.6 372.7 520 375.4 515.8 373.9 513.9 378.6 510.4 376.7 506.8 376.7 503.4 375.9 499.6 376.5 496.8 373.4 492.7 375.2 490.5 373.6 487.1 374.5 483.8 375.5 480.4 376.2 476.2 374.5 472.9 375.7 469.3 377.3 468.8 381.8 468.3 386.2 463 385.6 461.3 388.8 454.7 386.7 454.8 392.4 453.7 386.9 448.2 390.9 446 387.9 442.2 388.1 439.2 386.8 437.4 382.8 433 384.3 430.8 381.3 428.6 378 424.3 378.5 423.9 374.5 419.4 373.7 418.1 370.3 416.7 367 415.1 363.9 410.4 362.8 409.1 359.9 409.7 355.9 409 352.7 403.5 352 404.5 347.8 401.5 344.5 405.4 342.5 404.9 339 404.6 335.5 411.1 334.4 410 331 408.5 325.3 410.9 322.9 412.1 317.8 409 316.2 405.1 315.3 403.1 312.2 401.4 309.2 405.6 305.2 406 301.9 402.1 299.3 403.6 295.8 402.6 292.8Z" fill="url(#mtn)"/>
<path d="M467.8 329 469.3 332.7 468 334.1 466.3 334.8 463.3 333.9 462.8 329.5 461.4 324.8 464.2 325 466.9 325.7Z" fill="#F66666"/>
<path d="M445.9 319.2 446 321.9 444.2 322.9 442.3 321.5 439.2 322.5 439 319.4 441 318.3 442.5 316.9 443.4 318.5Z" fill="#FD9633"/>
<path d="M421.5 322.1 422.1 324.3 422.6 327.3 421 327.1 419.2 325.4 417.1 323.4 416.9 320.8 418.1 319.3 419.4 321.1Z" fill="#F4CCCC"/>
<path d="M413.3 347.7 413.1 350 412.3 350.4 411.2 350.7 408.6 351 408 347 408.8 344.4 411.2 345.7 413.1 345.7Z" fill="#FDAC52"/>
<path d="M436.6 351 436.1 353 435.6 353.5 434 353.8 433.4 353 433 351.5 432.3 349.9 432.8 348.5 433.7 351Z" fill="#F4CCCC"/>
<path d="M412.6 292.4 410.3 294.1 408.5 294.9 405 295.1 406 292.1 405.3 288.9 407.1 285.8 409.8 288.6 412.4 288Z" fill="#FD9633"/>
<path d="M432.3 293.5 432 295.6 430.5 297.1 428.6 296.5 426.5 295.1 426.4 292.1 427.9 288.6 431.1 288.5 432.5 290.8Z" fill="#F66666"/>
<path d="M428.7 345.4 430 349 428.9 350.7 426.9 352 426.8 347.6 424.2 343.7 425.2 340.3 427.6 340.2 428.1 343.1Z" fill="#F4CCCC"/>
<path d="M466.9 338.5 467.3 342.2 465.9 344.7 463.8 344 462.9 341 460.9 338 461.8 334.9 463.2 333.2 465.3 334.8Z" fill="#F66666"/>
<path d="M452.2 315 455.1 319 454.8 323.3 450.7 323.4 447.8 321.2 444.3 317.6 444.5 313.6 446.4 312.6 449.2 311.3Z" fill="#FDAC52"/>
<path d="M449.5 358.7 450.5 361.1 450 362.9 447.7 363.3 447.4 360.5 446.7 358.6 447 357.2 447.6 357.4 448.6 357.7Z" fill="#FD9633"/>
<path d="M474.8 343.8 476.3 346.7 475.7 348.7 473 348 470.5 348.9 469.1 345.3 470.1 343.1 470.4 341 471.7 341.3Z" fill="#FD9633"/>
<path d="M446.1 376.3 444.9 378.3 443.5 379.8 441.2 378.4 441.1 376.4 441 373.4 443.4 374 445.6 372.4 445.2 374.9Z" fill="#FD9633"/>
<path d="M417.1 271.9 417.2 273.8 416.2 275.9 413.7 276.3 413.3 273.5 414.3 270.9 415.7 267.4 416.2 270.2 417.3 270.2Z" fill="#FD9633"/>
<path d="M446.5 320.7 444.7 323.9 442.8 325.2 440.7 324.5 441.1 321 441.2 316.6 443.7 313.5 446.2 313.8 447.8 317Z" fill="#FDAC52"/>
<path d="M421 311.8 420.6 313.4 420.8 317.1 418.6 315.8 416.9 314.3 415.2 311.2 418 310.7 418.1 308.3 420.3 309.6Z" fill="#FD9633"/>
<path d="M507.5 356 507.4 358.5 505.4 360 503.1 358.7 503.9 355.9 503 353 505.4 351.4 507.5 351.9 509.1 353.1Z" fill="#FDAC52"/>
<path d="M427.1 375 428.2 377.8 427.4 380.8 424.7 380.8 424.9 376.6 424.5 373.7 424.1 368.8 425.7 369.4 427.3 372.1Z" fill="#F4CCCC"/>
<path d="M445.9 371.7 446 374.4 444.7 376.7 441.8 378.7 440.1 375.6 438.4 373.2 438.7 369.7 441.3 368.9 443.5 369.7Z" fill="#FD9633"/>
<path d="M432.5 356.7 433.2 359.4 433.4 362.1 430.2 362.1 428 362.1 425.4 359.6 426 354.6 428.4 353 428.7 350.4 430.6 348.3 432.9 351.7 432 354.2Z" fill="#F4CCCC"/>
<path d="M421.9 297.5 421.9 300.6 419.7 303.9 418.4 301.9 417.7 299.6 419.4 295.4 421.1 293.3 421.1 291.3 424.1 290.9 424.8 293.5Z" fill="#FD9633"/>
<path d="M461.4 355.2 461.5 357.2 461 358.7 459.6 359 458.1 359 456.5 356.8 455.4 354.1 457 352.6 459.1 352.7Z" fill="#FDAC52"/>
<path d="M417.7 295.1 419.9 298.4 418.2 297.7 418.4 300 416.8 296.9 414.8 293.7 415.3 291.6 416.1 290.6 418.1 291.1Z" fill="#FD9633"/>
<path d="M418.5 352.3 417.5 353.8 416.2 353.7 414.7 353.7 413.7 352.1 414.3 350.1 415.5 347.7 417.1 349.8 417.6 350.1Z" fill="#FD9633"/>
<path d="M445.9 371.1 446.6 376.5 443.4 379 441.4 376.3 438.5 375 438.8 370.5 439.8 367.2 441.7 364.3 444.3 366.8Z" fill="#F4CCCC"/>
<path d="M462.7 345.7 458.1 347.6 455.6 349.2 454 346.4 451.8 344.2 452.5 340.2 455.4 337.7 459.7 336.1 459.3 338.7 460.1 340.8Z" fill="#F66666"/>
<path d="M453.8 366.7 454.4 370.2 453 372 451.5 370.9 450 368.8 448.9 365.4 450.3 362.5 452 363 453 363.9Z" fill="#FD9633"/>
<path d="M458.8 302.1 457.5 305.1 455.5 305.8 454.9 304.5 451.9 303.9 451.7 299.5 453.9 294.8 456.5 296.5 457.9 298.5Z" fill="#FD9633"/>
<path d="M423.3 279.4 423.2 281.1 422.9 282.6 421.4 282.3 420.8 280.6 419.4 279.1 420.3 277.9 422.1 276.8 422.9 278.1Z" fill="#FD9633"/>
<path d="M437.8 298.3 437.9 301.4 436.9 302.5 435.7 303.9 434.5 302 431 299.8 430 296.4 432.9 297.1 434.4 297.1Z" fill="#FDAC52"/>
<path d="M477.3 363.4 477 366.1 474.7 367.4 473.8 365.4 472.9 363.9 473.8 361.4 475.4 360.4 476.1 359.4 477.4 360.9Z" fill="#F4CCCC"/>
<path d="M504.3 354.1 503 357.5 502 359.3 500.3 358 499.5 355.8 499 351.6 499.7 349.4 501.5 350.5 502 351.6Z" fill="#FD9633"/>
<path d="M410.3 310.7 410.2 314.7 409.2 316.6 408 313.7 407.7 312.9 405.5 310.2 406.7 306.2 407.8 307.3 409.7 307.3Z" fill="#FDAC52"/>
<path d="M441.7 367.9 441.3 370.9 440.2 374.4 438.3 372.4 437.8 369.5 436.4 365.5 438.9 364.6 439.9 361.6 440.8 364.8Z" fill="#FD9633"/>
<path d="M406.1 305.9 405.6 310.3 404 313.8 401.5 313 399.8 308.5 400.7 306 400.4 303.2 402.5 299.7 404.2 301.7 405.8 300.9Z" fill="#FD9633"/>
<path d="M498.7 355.6 498.9 359.6 497 360.6 495.9 360 496.3 356.2 495.6 353.2 497.2 352.9 498 352.9 498.3 353.8Z" fill="#FD9633"/>
<path d="M417.9 344.7 419.1 348.6 417.9 351.6 414.3 352.1 412.1 350.3 407.7 348.7 409.5 345.6 411.9 344.5 414 343.9Z" fill="#F66666"/>
<path d="M404.3 289.1 403.7 291.8 402.1 292.6 401.1 292.1 399.6 289.9 402.1 287.8 402.7 285.8 403.9 285.2 404.7 286.8Z" fill="#FDAC52"/>
<path d="M502.2 371.2 504.1 374 503.2 376.2 500.7 374.9 499 374.9 498 373 496.5 370.3 498.1 369.7 499.4 370.7Z" fill="#FDAC52"/>
<path d="M488.6 367.9 487.5 369 486.4 370.6 486.7 368.7 484.6 368 487 367 487.4 365.9 488.4 364.6 489.6 365.5Z" fill="#F66666"/>
<path d="M453.1 377.4 452.3 379.7 453.5 382.6 450.8 381.5 449.4 381.5 448.9 378.8 447.6 376.9 448.6 375.7 450.3 375.8Z" fill="#FDAC52"/>
<path d="M505.8 367 504.2 369.4 502.1 371.6 502.6 374 500.2 371.4 498.5 367.9 500.1 364.4 501.5 361.9 502.9 362.9 505.7 362.5Z" fill="#F66666"/>
<path d="M420.6 300 420.3 303.4 418.7 306.9 416.1 306.3 413.8 307 410.6 306.1 409.9 302.9 409.1 300.2 408.8 295.6 411.5 294.5 412.9 290.2 416.4 292.7 417.7 295.4 419.6 296.2Z" fill="#FD9633"/>
<path d="M439.7 335.2 440.4 336.8 439.7 338.6 436.8 339.4 432.7 340.6 432 337.4 428.1 336.9 430.9 333.9 427.3 332.2 431.1 331.8 433.3 330 436.3 331.1 439.2 331.5 442.9 332.3Z" fill="#FD9633"/>
<path d="M469.6 362.3 467.4 363.8 465.2 366.1 462.4 366.2 458.4 366.5 455.4 365.7 452.4 364.2 451 362.2 453.2 359.5 455.5 358.3 458.5 357.4 461.2 358.5 463.8 359.1 465.1 361.8Z" fill="#FDAC52"/>
<path d="M431.3 355 431 359.7 427.3 359.4 426.4 362.4 424.1 362.6 423.7 357.2 420.5 358.1 421.1 354.9 419.8 351.6 420.5 347.3 423.8 346 425.6 349.4 427.4 349.5 429.3 352.1Z" fill="#FD9633"/>
<path d="M502.7 366 499.5 366 499.7 368.4 496.6 369.2 493.4 368.9 488.4 369.5 486.9 366.9 486.3 365.1 485.7 362.6 489.2 360.9 493.3 361.4 496.3 362.1 499.3 362.7 501.1 363.4Z" fill="#FDAC52"/>
<path d="M449.6 304.8 447.7 308.7 448.2 313 446.2 314.5 443.4 314.9 441.6 312.5 442.1 308.2 442.9 305.1 441.6 302.3 442.4 299.3 443.9 297.5 445.7 298 448.4 297.8 450.1 301.2Z" fill="#FDAC52"/>
<path d="M454.3 395.4 455.5 391.4 459.2 390.5 461.4 387.8 463.6 385 468.4 385.5 470.1 382.3 472.9 379.7 476.6 379.6 480.1 379.3 482.8 376.2 486.5 376.3 490.3 374.5 493.7 375 496.8 376.8 499.8 379 503.5 377.6 506.9 378.3 509.9 379.5 513.1 378.8 516.4 379.5 519.7 379.3 522.9 379.3 524.6 378 524.1 381.3 524.5 384.7 527.1 388 527.2 391.3 527.5 394.7 526.1 399 522.7 398 519.5 399.1 516 397.8 512.9 399.1 509.9 401.5 506.1 398.3 503.4 402.2 500.4 403.9 496.9 403 493.5 402 490.9 405.4 487.5 404.7 484.7 406.9 481.2 405.6 478.5 408.2 475.1 406.5 472.5 402.9 468.6 409.3 466.2 404.6 462.8 406.9 460.8 404.5 456.8 402.4 455.6 398.6Z" fill="#FDC270"/>
<path d="M398.5 359.8 401.4 362.2 400.5 365.8 403.8 368.1 401.3 372.4 405 374 404.4 378 406 380.8 406.7 384 409.2 386.3 411.2 388.6 414.4 389.1 415.8 393.1 419.3 393 421.7 395 424.8 395.8 427.1 398.1 431 397 432.8 400.8 436.3 398.9 439 401.1 442.7 398.3 445.3 400.7 447.9 403.3 451 403.6 454 404 457.2 403 457.8 399 459.2 400.8 458.7 395.8 455.1 395.6 452.8 393.9 449.6 394 447.2 390.6 444.2 390.3 440.8 391.2 437.9 390 434.5 390.2 432.7 386 428.5 387.4 425.5 386.2 423.3 383 420.7 380.8 417.1 380.9 415.8 378.2 414.3 375.6 413.4 372.5 410 371.2 408 369 406.5 366.3 404.5 362.8 403.1 359.4Z" fill="#9A8B0C"/>
<path d="M404.1 372 406.3 374.5 407.8 377.5 410.4 379.7 410.5 383.6 413.3 385.4 416.3 386.7 418.7 389.5 422.1 390.2 425.1 391.5 427.7 393.7 430.2 396.4 434 395.8 437.2 396.1 440.5 396.4 443.8 395.8 446.7 398.4 449.8 398.6 447.1 396 443.8 395.1 440.5 394.1 436.9 394 434.9 390.2 431.3 389.9 427.7 389.6 425.3 386.9 421.9 386.2 418.8 384.9 415.5 383.4 414.4 380.5 411.7 378.8 410.7 375.7 409.5 372.9 407.3 371.8Z" fill="#BCB206"/>
<path d="M386.2 362 389.4 363.1 392.1 360.8 395.2 360.4 400.5 358.6 397.2 362.5 397.7 365.7 398.8 368.9 399.5 371 395.9 373.7 392.3 375.7 388.3 373.7 386.2 370 386.7 367 384.3 364Z" fill="#9A8B0C"/>
<path d="M441.5 412.4 437.6 413.7 435.4 414.9 432.3 415.9 429.4 415.6 427.1 416.9 422.6 416 419.1 414.5 421.6 413.5 423.9 412 421.8 410.5 423.9 408.6 428.7 410.1 431.9 408.4 434.4 407.6 436.7 408.4 436.2 410.2 438.8 411.1Z" fill="#9A8B0C"/>
<path d="M475.3 413.6 476.7 415.6 474.5 415.7 471.7 418.3 469.5 416.9 467.8 415.1 466.2 414.6 463.1 414.6 464.2 413.1 466.2 413.5 469 411.9 472.2 410.1 472.6 412.9 474.5 412.9Z" fill="#9A8B0C"/>
<path d="M565 343.7 568.2 344.1 571.4 343.7 574.5 343.2 577.7 338.2 580.9 343 584.1 339.9 587.3 342.5 590.5 339.9 593.6 341.8 596.8 341.1 599.9 343.5 603.1 341.5 605.9 346 609.2 342.7 612.2 344.4 615.4 343.1 618.8 338.8 621.4 345.1 624.6 344.2 627.6 345.1 630.8 343.3 633.8 345.1 637.2 341.5 640 348.9 643 346.3 646 342.9 649 346.9 652 343.9 655 342.6 658 345.6 661 347.3 664 342.6 667 346.2 670 345.9 675.1 345 674.4 348 668.3 351.1 670.9 354.1 671.4 357.1 671.8 360.2 671.3 363.2 670.3 366.2 676.2 369.2 673.9 372.3 672.6 375.3 675.2 378.3 677.1 381.4 671.5 384.4 674.1 387.4 675.2 390.5 671.6 393.5 674.6 396.5 671.4 399.5 675.3 402.6 672.3 405.6 673.2 408.6 671.3 411.7 672 414.7 675.3 417.7 675 420.8 673.4 423.8 673.6 426.8 674.4 429.8 670.7 432.9 673.5 435.9 673 438.9 670.9 442 673 444.4 670 446.5 666.9 445.7 663.9 446.8 660.8 442.5 657.8 444 654.8 449.6 651.7 446 648.7 443.7 645.6 443.9 642.6 443.4 639.5 444.2 636.5 446.8 633.5 444.7 630.4 445.1 627.4 447.8 624.3 445.7 621.3 443.2 618.2 444.2 615.2 445.9 612.2 449.2 609.1 446.6 606.1 444.5 603 442.5 597.9 445.9 598 442.2 595.5 439.5 594.1 436.5 596 432.1 595.1 428.9 592.7 426.2 593.2 422.4 589.5 419.9 592.7 417.3 589.1 413.3 593 410.9 593.3 407.7 595.4 404.8 596.4 401.8 598.4 398.9 593.6 395.7 594.5 391.7 589.9 390.4 592.3 385.6 587.6 384.4 588.2 380.5 586.8 377.7 582.9 376.3 582.1 373 582 369.3 579.2 367.2 574.8 366.2 574.7 362.4 576.9 357.4 571.9 356.6 575.7 350.5 570.7 349.8 568.7 347.3 566.7 344.7Z" fill="#FDC270"/>
<path d="M660.4 395 662 398 661.3 400.9 661.2 403.9 662.1 406.8 662.6 409.8 661.7 412.3 660.4 414.5 660.2 417.2 659.2 419.6 658.4 422.1 657.2 424.4 655.3 422.5 653.6 420.6 650.9 419.7 648.7 418.2 647.7 415.4 644.9 414.7 643.5 413.5 641.6 415.8 637.5 415.3 636.3 418.5 635 421.3 631.6 420.8 629 421.4 627.6 424 625.8 426 623.5 427.2 620.6 427.8 622.1 425.2 621.1 422.6 621.7 420 621.5 417.4 620.7 414.7 620.9 412.1 621.9 409.6 622.1 406.8 619.3 405.2 617.6 402.7 616.9 399.7 615.5 397.2 613.6 395 613.2 392.4 612.3 389.9 613.7 387.2 612.6 384.7 611.6 382.1 613.4 379.4 612.5 376.6 614.9 378.5 617.9 377.8 620.6 378.6 623.3 379.6 626.1 379.7 628.6 381.2 630.7 380.5 631.5 378.1 632.8 375.6 633.2 373.1 633.1 370.6 633.2 368.1 631.9 365.4 633 362.9 633.5 360.5 632.9 358.6 636.9 359.1 637.2 362.4 638.8 364.8 640.4 367.1 641.9 369.5 644 371.8 646.7 370 650 370.5 652.8 369.2 655.3 368.6 657.8 370.1 659.5 372.6 662.4 373.6 663 377.2 665.5 377.3 666.7 380.2 664.4 382.3 665.4 385.2 663.4 387.3 663.3 390 662.6 392.4Z" fill="#FDAC52"/>
<path d="M622.2 430.2 618.7 433.1 621.5 438.3 619.1 439.1 617.2 440.8 614.8 442.8 611.7 440.2 608.5 441.2 605.3 441.6 602.5 440.8 599.5 440.9 597.8 439.1 598.2 436.3 597.3 433.4 593.8 430 592.6 424.8 595.9 423.8 598.3 421.7 600 419.6 602 417.8 603.9 417.3 605.9 419.1 608.5 420.1 610.9 421.4 612.9 424.4 615.9 425.1 618.8 424.5 621.8 421.2 624.8 423.1 627.2 424.8 625.7 427.2 622.8 427.9Z" fill="#FDAC52"/>
<path d="M662.6 359.3 663.7 363.4 661.2 366.4 657.5 368.1 654.5 368.4 651.7 370.3 648.6 366.5 646.1 363.4 644.6 360.1 643.6 353.4 647 356.1 651 355.5 652.3 350.9 655 350.4 657.7 350.8 661 353.5 661.4 357.5Z" fill="#FDAC52"/>
<path d="M526 342.1 529 341.4 532 345.4 535 340.9 538 345.2 541 345.2 544 342.8 547 342.8 550 340.7 553 344.1 556 340.4 559 341 562 340.2 564.7 342.2 567.4 344 568.7 346.9 569.5 350.1 571.7 351.8 569.5 354.8 569.1 358.5 568.6 362.3 568 364.2 565.4 368.7 570 370.4 569.7 374 571 376.9 570.4 381.4 574.1 382.6 574.8 386.3 577.4 388.5 581 389.7 581.6 393.5 583.3 395.8 586.9 398.2 589.9 400.9 590.3 405.8 586.8 406.8 583.1 407 580.9 407.5 576.5 408.1 573.7 405.9 571.7 402.4 569 400.2 565.2 399.3 561.7 399.8 559.2 397.4 556 396.9 553.6 394.2 551.5 396.5 546.1 396.1 544.8 399.8 542.3 402.3 539.9 405.2 536.1 404.4 533.8 400.8 531.9 399.2 527.2 397.2 525.7 394 527 390 523.8 387 524.1 384 525.8 381 526.5 378 528 375 527.7 372 526.7 369 524.7 366 524.1 363 525.9 360 528.3 357 524.5 354 527 351 526.9 348 527.9 345Z" fill="url(#mtn)"/>
<path d="M545.6 365 545.7 369.4 545.5 373 545.1 376.7 543 379.8 542.6 383 539.9 380.9 541 377.2 538.8 374 535.1 375.7 532.4 371.6 532.4 368.2 531.5 365 531.5 361.5 533.1 357.3 536.9 358 539.2 354.9 541.4 357 544.4 354.2 544.1 357.7 544.7 360.9Z" fill="#F66666"/>
<path d="M550.6 363.5 551.3 367.3 549.1 367.6 547.4 368.9 544.7 368.2 543.9 364.4 543.6 360.3 546.2 360 548.9 361.5Z" fill="#FDAC52"/>
<path d="M560.6 344 561.5 346.4 560.7 347.9 559 348.5 557.2 346.5 556.8 343.9 557.4 341.8 558.6 341.1 559.7 342.9Z" fill="#E6B8AF"/>
<path d="M573.8 392.8 574.7 395.8 573.5 399.6 570.8 397.6 568.4 396.8 567 393.8 567.5 390.7 569.7 388.9 572.7 388.7Z" fill="#E6B8AF"/>
<path d="M569.8 372.9 572.3 376.7 570.8 379.6 568 378.2 565.9 379 563.7 376.7 563 374.3 564.4 372.7 566.5 373.9Z" fill="#E6B8AF"/>
<path d="M586.7 401.7 587.2 403.9 586.5 405.5 585.2 404.1 583.6 403.6 583 401.5 584.6 400.7 584.5 398.2 585.8 399.1Z" fill="#FD9633"/>
<path d="M541 388.3 541.3 390.5 541 392.4 538.8 394.1 537.8 391 537 387.7 538.3 386.5 539.6 385.5 540.7 386.6Z" fill="#F83333"/>
<path d="M557.1 366.5 558 369.8 559.2 372.5 556.2 372.4 553.7 371.6 551.1 368.1 553 366 551.4 361.9 554.8 364.8Z" fill="#FD9633"/>
<path d="M543.5 341.6 543.2 343 543.1 345.3 543.5 343.5 541.4 343.1 540.7 341.7 541.3 339 542 340.4 542.7 340.3Z" fill="#FDAC52"/>
<path d="M531.7 344.3 534 347.5 534.9 351.7 532.4 352.4 530.6 350.5 529 348.4 526.3 346.1 525.4 342.4 527.4 342.3 529.2 342Z" fill="#E6B8AF"/>
<path d="M571.9 382 571.9 383.7 572.2 386.2 571 386.2 570.4 383.4 569.5 382 569.6 380 569.6 378.2 570.4 380.4Z" fill="#FD9633"/>
<path d="M548.5 382.4 553.5 385.4 550.6 387.4 547.5 387.8 546.1 387.5 543.7 385.1 541 382.2 543.1 378.6 546.3 380.4Z" fill="#F83333"/>
<path d="M550.7 342.4 552 344.1 552.1 346 549.6 345.5 547.3 345.5 546.8 343 546.2 339.9 547.8 338.3 550.1 339Z" fill="#FDAC52"/>
<path d="M534.6 368.4 532.9 369.9 533.6 372.8 532.1 371.5 530 370.6 530 368 531.2 366.7 531.9 364.7 532.1 365.6Z" fill="#FDAC52"/>
<path d="M534.8 366.7 536.1 369.3 536.9 371.9 534 369.9 533.1 369.4 530.5 367.6 530.9 365.8 531.7 365.4 533.3 364.6Z" fill="#E6B8AF"/>
<path d="M584.6 392.7 582.4 394.8 583 397.8 581.1 397.3 580.4 395.4 579.4 392.9 578.5 390.7 579.8 390.2 581.7 389.6Z" fill="#F83333"/>
<path d="M532.4 360.2 533.9 363.4 533.2 365.4 532 365.2 529.5 363.1 529.1 359.8 529.4 358 530.4 357.7 531 356.8Z" fill="#FDAC52"/>
<path d="M565.7 381.7 564.3 386.3 568.5 390.1 567.2 392 564.5 392.3 561.8 393.5 559.4 391.6 556.9 389.8 557.3 386.7 554.9 384.7 552.4 383.8 552.7 380.7 553.2 377.4 554.7 377.3 558.6 379.1 562 377.6Z" fill="#F66666"/>
<path d="M566 343.1 569 346.2 572 346.3 575 345.3 578 345.1 581 346.8 584 344.9 587 346.7 589.2 346.2 589.9 349.8 592 353 594.5 356.1 593 359.6 593 363.3 592.2 366.6 589.3 369.2 589.9 373.1 587.9 375.2 585 377.9 581.3 375.6 578.4 378.3 574.9 378 572 375.7 572.2 371.6 569.4 369.2 567.3 366.1 568.2 362.6 568.5 359.2 565.6 356.1 565.7 352.8 565 349.5Z" fill="#FDC270"/>
<path d="M591.7 344.4 595.6 343.8 599.6 342.9 603.8 344.4 604.6 347.8 606.1 350.5 607.7 353.3 609.2 356.1 611.2 358.2 611.9 361.8 615.3 364.6 615.1 368.5 617.1 372.8 615.3 375.9 611 379 607.3 377.3 606.6 372.7 605.3 369.3 601.1 367.7 599.3 364.7 598.2 361.3 595.8 358.4 597.1 354.6 594.3 352.2 594.9 348.7 592.3 346.2Z" fill="url(#mtn)"/>
<path d="M638.2 433.5 641.7 438.2 637.8 439.5 634.6 441 630.4 439.3 628 438 622.4 437.1 623.6 434.1 624.9 431.6 625.9 426.8 627.7 429.8 630.4 430.3 633.2 429.7 636.3 430.4 638.5 430Z" fill="url(#mtn2)"/>
<path d="M615.8 412 614.1 413.2 613.8 414.8 610.1 414 608.9 416.3 606.9 415.2 604.2 413.8 605.6 412.1 604.3 409.2 607.7 409.7 609.3 410.1 611.1 406.9 614 408.7 613.8 410.2Z" fill="url(#mtn2)"/>
<path d="M550.4 424.7 546.4 426.4 546.5 427.9 541.8 429.9 538.2 428.5 534.2 429 531.2 426.9 529.3 425 528.6 421.4 533.6 421 538.2 420.9 542.3 420.2 544.5 421.2 547.1 421.8 548.6 423.1Z" fill="url(#mtn2)"/>
<path d="M266 255.5 269.2 256.6 272.5 257.3 275.8 257.2 279 259.1 282.2 256.7 285.5 258.6 288.8 258.8 290.7 258.2 292.3 261.2 292.5 264.4 291.9 267.8 293.8 270.8 291.1 274.4 294.6 277.2 294 280.5 295 283.6 296.1 286.7 296.1 290 295.3 293.2 295.6 296.7 293.1 299.3 291.4 302.3 293.1 306.1 291.6 309.1 290.1 310.5 286.6 312.2 283.2 313 280 311.4 276.5 312 273.3 311 269.8 310.1 267.6 307.6 267.3 304.1 265.7 301.3 263.1 299.1 262.4 296 263.2 292.9 263.6 289.8 265.9 286.8 264 283.4 265.1 280.3 264.5 277.1 264.9 273.9 263.9 270.6 266.1 267.6 264.3 264.2 264.7 261.1Z" fill="#FDC270"/>
<path d="M265.4 272.2 267.3 274.4 269.4 277.3 266.5 277.7 264.2 278.8 261.8 279.7 259.6 281.3 256.3 279 254.5 281.5 252.1 279.9 252 277.1 248.3 278.2 245.6 277.5 245.9 274.1 247.4 272.6 246.7 269.1 244.3 267.1 247.9 267 249.8 264.8 254.6 263.6 257 261.5 259 262.4 261.7 263.6 262.8 266.2 265.6 266.2 268.2 267.9Z" fill="url(#mtn)"/>
<path d="M263.5 272.3 261.3 273.7 260.4 275.4 258 276.6 256 275.8 253.6 275.7 252.6 274.4 253.3 271.9 251.7 269.7 254.6 269.7 255.8 268.4 258.7 266.6 261.1 268 260.9 270.9Z" fill="#F66666"/>
<path d="M294 238.9 297.2 239.5 300.3 236.1 303.5 238 306.7 239.9 309.8 239.1 313 237.9 316.2 237.5 319.3 238.9 322.5 238.5 325.7 237.8 328.8 238.6 330.9 238.3 331 241.9 333.2 244.9 334.2 248.2 335.9 251.4 338.1 254.3 336.5 257.1 335.4 260.1 335 263.4 332.5 265.5 333.1 269.4 331.6 272.1 329.9 274.7 326.9 276.5 325.7 279.4 325.4 281.9 323.5 285.3 323.7 288.6 324.2 291.8 325.6 295 324.8 298.3 325.1 301.5 323.8 304.9 327 309.9 322.6 308.4 320.6 311.2 319.7 316 316.7 317 311.3 313.7 309.7 317.5 306.6 318.2 302.5 320.7 300.8 318 299.6 315 299.9 311.4 295.3 310.1 297.1 305.6 295.3 302.9 295.3 300.3 294.4 296.8 296.8 294.1 295.9 290.7 294.6 287.1 296.7 284.3 299.9 281.7 300.8 278.7 300.2 275.3 297.8 273 299.3 268.9 298 266 296.2 263.4 295.7 260.2 292.6 258.2 290 254.8 293.3 251.7 292.1 248.1 293.4 244.8 291.9 241.2Z" fill="url(#mtn)"/>
<path d="M325.8 266.1 325 268.8 324 270.3 322.6 270 322.1 267.8 321.7 265.4 323.1 264.2 323.6 261.6 325.1 263.4Z" fill="#FDAC52"/>
<path d="M324.5 286.7 324.3 289.9 322.4 290.9 320.1 290.6 320.4 287.2 320.4 283.8 322.4 280.6 324.9 280.8 325.7 283.9Z" fill="#F66666"/>
<path d="M321 308.7 320.1 313.3 318 312 316.8 312.1 315.7 309.7 316 305.9 317.6 302.9 318.1 305.1 319.7 306.5Z" fill="#F66666"/>
<path d="M301.4 242.5 301.8 247.3 298.6 247 296.8 246.8 294 245.6 293.9 241.8 293.7 236.4 297.6 235.9 299.9 238.7Z" fill="#FDC270"/>
<path d="M307.4 292.2 306.3 295.2 304.8 296.8 303.4 295.6 303.2 293.3 303.2 290.4 304.1 288.2 305.4 288.1 306 289.4Z" fill="#FDC270"/>
<path d="M328.6 251.3 328.4 255.3 326.8 256.8 326.1 253.3 325.5 252.1 325.1 249.5 325.1 245.8 326.8 248 328.2 247.5Z" fill="#FD9633"/>
<path d="M300.5 280.8 303.5 284.7 301.2 287 296.8 286.1 294.4 283.7 295 280.6 294.8 277 297.9 277.7 301.2 275.6Z" fill="#FD9633"/>
<path d="M308.6 300.6 308.7 304.5 306.4 306.2 305 304.5 306.5 300.8 306.5 298.1 307.6 295.8 309 297.6 310.8 297.5Z" fill="#FDAC52"/>
<path d="M300.1 303.4 299.4 305.9 298.5 308.5 298.7 311.8 296.3 310.2 295.1 305.4 292 301.2 294.3 297.6 297 296.7 299.8 298.5Z" fill="#FDC270"/>
<path d="M335.4 263 335.9 265.3 335.6 267 335 266.6 334.3 264.4 333 262.9 333 260.9 334.5 261 335.1 261.6Z" fill="#FDC270"/>
<path d="M302.7 258.7 300.9 260.2 299.5 261 297.4 262.4 297.6 259.2 296.7 256.4 298.4 255 300.5 253.3 301.3 255.5Z" fill="#F66666"/>
<path d="M312.5 257.5 314.1 260.5 312 260.8 309.8 261.5 309.6 259.2 308.3 257.1 308.4 253.3 310.3 254 311.3 254.1Z" fill="#FDAC52"/>
<path d="M315 239.1 316.4 241.3 315.3 243.6 313.5 242.9 312.9 241.1 312.5 238.9 313 237.5 313.8 236.1 315 237.1Z" fill="#FDC270"/>
<path d="M326.5 248.5 328 250.5 326.8 251.5 326.1 251.4 325 249.8 324.4 247.7 326.4 248 326 246.3 326.3 247.2Z" fill="#FDC270"/>
<path d="M325.8 257.8 326.3 259.8 325.1 260.8 323.9 259.5 320.6 259.9 320.8 256 323.4 256 324.6 255.5 326.2 255.6Z" fill="#FD9633"/>
<path d="M302.9 242.8 303 246.6 302 247 300.6 246.1 298.6 243.9 300.6 241.9 301 239.2 301.5 240.7 302 240.3Z" fill="#FDAC52"/>
<path d="M335.6 266.3 337.1 268.6 337.9 271.4 334.1 273.8 330.4 274.2 327.5 270.5 325.9 268.3 325.6 266.6 327.7 262.1 331.3 260 335.4 261.8Z" fill="#F66666"/>
<path d="M305.7 277.3 305.1 280.7 304.2 280.5 303 280.9 302.9 277.8 303.5 275.8 303.6 273.1 304.5 274.7 306.1 274.5Z" fill="#FD9633"/>
<path d="M364.6 247.6 364.9 251 362.1 250.4 359.6 253.1 356.2 251.8 352.7 254.7 350 256.2 347.3 257.7 346.1 259.3 343.1 257.1 340.6 255 338.5 253.5 336.7 251.3 334.3 250.4 332.5 248.3 328.9 247.3 330.4 244.9 333.3 243.8 335.9 241.5 338.9 242.2 342.2 242.6 344.4 240.7 346 237.2 348.6 238.3 351.3 237.3 353.9 238.7 357 238.7 360.2 236.3 362.4 238.7 362.6 241.5 362.6 244.4Z" fill="url(#mtn)"/>
<path d="M395.9 247.7 396 250.7 396.1 252.7 393.3 256.5 389.9 260.5 388.7 257.6 386.7 256.5 383.3 255.6 381.1 252.3 378.4 250.7 378.2 248 378.5 245.4 379.4 242.2 383.1 240.2 386.7 238.5 389.7 241.1 395 238.5 394.7 241.4 393.2 244.4Z" fill="url(#mtn2)"/>
<path d="M322.6 282.8 324.5 279.9 328.1 279.3 330.7 277.3 331.7 273.2 335.7 273 337.8 270.5 339.8 266 342.9 266.9 346.1 268.2 348.9 265.7 352.1 268 354.9 265.7 358 265.9 361.1 267.3 363.8 264.1 367.1 266.1 370.2 266.9 373.2 266.3 375.9 263.5 379.1 264.7 381.8 261.9 384.9 263 388 263.6 391 262.8 393.8 260.8 397.1 263.5 400.9 262 400.4 265.1 399.2 268.2 401.1 271.4 398.5 274.5 400.9 277.6 398.5 280.8 400 283.9 399.8 287 398.7 290.1 400.1 293.2 401.5 296.4 400.8 299.5 399.4 302.6 399.4 305.8 398.6 308.9 400 311.9 396.9 311.6 394.1 314 390.6 309.1 388.1 314.3 385.2 315.5 382 313.8 378.9 313.5 376 314.1 372.9 313.5 369.6 311.2 366.9 313.9 364.1 316.6 361.1 317 357.9 315.3 355 316.2 351.9 316.3 349.2 319 346.1 318.2 343.1 319.1 340.9 316.3 337.4 315.5 332.4 317.6 330.8 313.3 328.6 310.3 326.1 307.6 322.9 308 320.1 304.8 323 301.5 322 298.2 320.3 295 320.9 291.8 321.5 288.5 322.9 285.2Z" fill="#FDC270"/>
<path d="M333.7 279.6 336.4 277.5 338.7 274.7 342.4 274 345.6 272.6 348.3 267.6 351.4 271.4 355 270.7 358.3 273.1 361.4 272.4 363.4 275.4 367 277.3 366.7 281.9 370.3 283.3 373.3 285.3 376.4 287.2 379 289.9 382.1 291.9 386.6 291.6 389.7 293.4 389.7 297.6 393.1 302 388.9 300.8 386.7 303.4 382.5 302.3 382.8 309.4 379 310.1 374.9 310.3 370.8 310.4 368 312.5 365 311.5 362 313.8 359 312.5 356 313.8 353 312.4 350.2 311.5 346.2 314.3 342.6 315 339.5 311.5 336.5 308.4 332.6 311.2 329.5 310.1 326.4 309.2 323.8 305.6 320.7 307.8 319.1 304 318.6 301.9 321 299.1 323.5 296.4 327.3 298 329.1 295.8 329.5 292.5 331.2 289.5 329.2 285.6 331.8 282.9Z" fill="#9A8B0C"/>
<path d="M338.8 291.4 340.9 288.6 343.4 286.4 347 286.2 348.7 282.7 351.8 282.3 354.3 285.1 358.4 285.4 360.4 288.9 364.6 289.5 366.2 292.3 366.4 296.3 368.2 298.9 372.6 300.8 369.6 301.8 366.8 303 364.5 305 362.3 307 359.9 310.2 356.9 307.7 353.5 310 350.3 309.6 347.2 308.2 344.3 307.7 341.9 304.8 338.1 303.3 338.7 300.5 336.2 296.6 336.6 293.2Z" fill="#BCB206"/>
<path d="M355.9 305.2 354.9 306.7 352.4 307.8 349.4 305.9 346.6 305 345.8 303 343 301.9 342 297.7 344.3 296.3 347.1 293.7 351.6 295.6 352.9 300.1 356.4 300.7 355.9 303Z" fill="#DDD900"/>
<path d="M353.5 304.7 352.7 305.6 351.5 306.6 350.1 305.6 347.8 304.9 345.5 303.7 345.4 301.7 347.4 301.2 346.5 299.1 348 299.8 350.3 301.5 353.1 300.1 354.5 302.7 354.1 303.4Z" fill="#FFFF00"/>
<path d="M326 314.6 329.1 313.4 332.3 312.5 335.4 313.9 338.6 315 341.7 312.7 344.9 313.8 348 315.5 351.1 315.7 354.3 314.2 357.4 313.6 360.6 316 363.7 315.4 366.9 312.6 370.3 313.9 368.3 318.7 372.2 322.6 368.7 322.8 365.7 324.3 362.1 324.2 359.7 327.4 356.2 327.4 352.9 328.3 350.6 327.1 346.4 332.2 344.3 327.4 340.4 330.9 338 327.2 335 326.8 331.9 326.1 331.7 322.4 330 319.5 326.2 317.7Z" fill="#9A8B0C"/>
<path d="M265.7 318.8 269.5 322.7 273.1 323.5 276.4 320.7 280.1 322 280 325.1 283.3 327.6 284.6 330.4 283.2 333.9 285.2 336.6 283.4 339.8 284.7 343.7 286.2 347.6 279.9 349.6 282.6 353.8 278.7 356.4 279.9 359.9 280.5 363.2 277.9 367 280.7 370 281.1 373.3 280.1 376.9 283.5 380.4 282.1 383.7 278.2 386.1 279.1 390 279.2 393.7 278.1 397 276.3 401.9 272.7 402.2 269.3 403.1 265.6 402.5 263.8 401.6 260.4 398.8 259.7 395.4 260.3 391.6 258.7 388.4 257.4 384.8 255.1 380.5 258.6 378.6 261.4 376.4 262.3 373.5 265.4 371.4 263.4 367.3 266.4 365.1 265.4 361.4 264 357.7 268.6 355.1 269.1 351.8 269.1 348.3 270.2 345 270.8 341.6 270.8 338.4 268.9 335.5 268.8 332.2 266.3 329.4 266.9 326.1Z" fill="#9A8B0C"/>
<path d="M276.5 392.1 275.8 395.7 272.8 397.1 269.2 395.9 266.6 397.2 264.3 395.3 261.4 397.7 258.6 395.9 258.6 392.3 258.1 388.9 260.9 387.7 263.5 388.1 267 388.1 269.8 386.3 271.3 388.9 274.5 387.5 276.9 387.4Z" fill="#DDD900"/>
<path d="M265.4 379.8 266.5 382.4 264.2 383.5 262.2 383.3 261.2 385.2 258.9 384.5 257.9 382.5 259.9 379.8 259.6 378.1 259.1 374.3 260.9 375.2 263.3 374.3 264.8 375.9 265.3 377.8Z" fill="#FFFF00"/>
<path d="M288 326.3 292 325.9 294.6 325.1 295.6 328.2 295.9 331.4 293.8 334.7 295.3 337.8 297.6 340.9 298 344 295.7 347.4 300 350.3 296.3 353.7 298.8 356.8 299.3 360.1 296.6 363 297.8 366.2 298.4 369.3 296.4 372.3 296.3 375.3 298.4 378.5 295.8 381.5 298.2 384.7 297 387.7 295.4 390.7 296 393.8 295.2 396.9 296 400.9 292 398.8 288.1 400 288.9 397 288.1 393.8 288.9 390.8 287.2 387.6 288.8 384.6 289.3 381.6 289.5 378.5 288.9 375.4 286.4 372.2 289.8 369.2 288 366.1 288.7 363 289.4 360 291.2 356.7 286.9 353.8 288.5 350.5 288.5 347.3 289.1 344.1 289.2 340.9 288.4 337.7 289.8 334.5 288.7 331.3 288.5 328.2Z" fill="url(#mtn)"/>
<path d="M398.5 337.9 401.8 339.3 403.4 342.4 400.4 343.4 397.1 341.9 393.6 343.3 391.8 346.3 389.7 347.7 387.4 346.1 384.7 345.3 382.4 344 380.9 342 383.1 339.5 384.9 337 384.6 333.7 388.9 331.7 388.7 328 388.8 324.3 390.1 326.7 392.2 328.6 393.1 330.3 395.6 328.9 399 329.1 401.5 326.9 401.1 329.6 398.1 331.4 396.2 335.5Z" fill="url(#mtn)"/>
<path d="M384.8 342.1 381.9 342.5 378.8 342.1 375.3 342.9 374.9 346.8 371.9 347.8 368.7 347.9 366.4 345.5 363.1 344.8 358.1 345.3 355.3 344.6 351.8 343.7 351.5 340 357.1 339.5 357.2 337.2 359.1 335.3 361.4 333.2 364.7 335.1 368.6 333.8 370.9 335.1 373.2 336.6 376 337 378.9 337.4 380.4 338.6Z" fill="url(#mtn2)"/>
<path d="M335.6 345 337.1 347.3 334.3 348.1 331.1 348.2 328.7 348.3 326.6 347.4 323.6 345.8 325.5 345.2 323.3 343.5 326.6 342.5 328.8 342.4 331.7 341.6 332.8 342.2 337.3 343.3Z" fill="url(#mtn2)"/>
<path d="M343.5 390 340.6 391.6 341.6 394.1 341.6 396.6 340.1 395.4 338.7 393.6 336.2 392.5 336.8 389.9 335.4 386.6 338.5 385.9 338.9 382.9 341 383.7 341 385.8 345.4 387.2Z" fill="url(#mtn2)"/>
<path d="M361.3 405.7 357.8 406 358.5 407.4 356.2 408.4 352.7 409.1 352.5 408.8 349.5 406.5 351 405.3 351 403.8 351.2 402.4 354.2 403 356.5 401.2 357.8 403 359 404.3Z" fill="url(#mtn2)"/>
<path d="M314.4 332.4 312.2 334.3 311.9 336.9 311.3 338.4 308.9 338.4 309.4 335.1 305.6 334.2 307.1 332 307.5 329.9 307.2 327.2 309.8 327.4 310.7 325.8 312.2 326.1 313.2 328.6Z" fill="#9A8B0C"/>
<path d="M330.8 330.5 331.5 334.7 328.8 335.6 327.8 333.5 329.4 336.1 328.4 333.1 327.2 331.3 327.5 328.9 329.3 326.6 330.4 324 332.8 322.7 333.2 324.1 332.2 327 332.6 327.6Z" fill="#9A8B0C"/>
<path d="M339.9 424.7 343.6 427.3 345.6 422 349.2 424.3 351.6 420.5 354.4 423.7 357.7 423.5 361.4 422 364.4 422.5 365.8 427.5 370.1 424.3 372.4 429.5 374.7 424.8 378.1 424.6 382.1 427.2 382.4 428.9 388.7 424.9 390.2 428 393.8 428 395.3 431.2 398 432.6 398.5 436.2 402.8 436.8 405.2 439 409.5 439.7 409.8 443.5 412.3 445.6 411.2 449.6 412.7 454.4 413.3 458.8 408.6 460.1 404.4 461.2 403.8 465.7 400.7 466.9 397.9 468.5 396 471 390.1 470.1 390.6 475.6 385.7 475.7 385.8 480.3 382.7 482.6 380.6 485.2 382.5 489.2 381.1 492 380.8 497.3 376.1 493.4 375.5 501.4 370.5 496.4 368.8 501.3 365.4 496.9 362.3 497.3 358.7 501.4 356.1 498.2 353.2 496.7 349 499.2 347.1 496.5 345.7 493.1 343.7 490.4 342.4 490 341.1 486.9 340.1 483.8 341 480.7 337.5 477.6 338.9 474.5 345.2 471.4 342.7 468.3 342.5 465.2 339.8 462.1 339.8 459 340.5 456 336.4 452.9 337.8 449.8 337.4 446.7 340 443.6 341.3 440.5 339.6 437.4 337.9 434.3 342.2 431.2 339.1 428.1Z" fill="#9A8B0C"/>
<path d="M342.6 467 345.4 465.7 348.9 466.5 351 463.5 354.5 464.6 358.6 467.1 359.9 462.2 362.6 464.2 366.2 464.2 369.6 464.6 372.2 466.8 375.4 467.7 376.3 470.6 379.1 473 380 476 382.5 478.5 381.9 482 382.8 484.8 381.8 488.1 379.9 490.6 376.2 491.2 375.9 495.2 371 494.7 370 498.5 367 499.4 364 499.4 361 497.9 358 498.8 355 500 352.6 497.3 350.3 495.4 348.7 492.6 344.4 492.9 343.4 490 343.7 486.9 344.1 483.7 342.8 480.6 344.4 477.4 343.1 474.3 345 471.1Z" fill="#BCB206"/>
<path d="M372 480.6 371.8 483 373.9 484.1 372.2 487.5 368.7 487.4 366 489.1 365 487.7 362.2 488.1 362.3 486 361.4 483.5 365.7 482.4 367.1 479.7 370.2 478.3 373.6 477.7Z" fill="#DDD900"/>
<path d="M393.6 452.2 395.8 455.4 396.5 459.7 394.1 461.5 393.1 463.5 389.5 465.2 388.6 467.3 385.2 465.3 383.9 461.9 381.7 456.8 378.1 456.9 377.4 454.4 375.4 451.9 375.6 449.2 376.2 446.5 378 444.2 377.5 441.6 377 439.4 379.1 440.9 381.5 441.8 383.2 443.2 386.3 440.9 387.1 437.4 388.4 440 389.3 442.6 389.1 445.2 390.9 448.2 394.4 448.9Z" fill="#FDAC52"/>
<path d="M367.8 441.8 367 444.9 365.2 448.3 363.1 450.1 362.1 450.5 358.1 449 355.8 446.3 356.2 442.4 358.9 439.6 360.8 437.5 361 434.2 364 432 364.8 436.9 365.4 439.4Z" fill="#FDAC52"/>
<path d="M353 469.9 353.9 473.8 352.5 478.4 350.6 475.7 349.3 476.1 348.2 476.8 347.7 473.9 346.8 470.2 347.2 466.7 349.2 465.6 348.7 462.7 350.1 462.1 351.1 464.7 353.1 466.5Z" fill="#FDC270"/>
<path d="M402.5 467.7 402.1 470 401.4 472.2 399.2 473 396.1 474.5 395.4 471.2 391.8 470.3 393.5 468 393 465.6 394.4 463.5 396.9 462 399.4 463.4 400.6 464.7 401.6 466.3Z" fill="#FDC270"/>
<path d="M376.3 430.2 378.3 432.6 375.8 432.7 373.2 433.2 370.8 432.6 369.2 432.8 364.2 430.3 367.6 429.8 366.7 429.7 369.3 428.4 370.8 427.2 373.4 426.8 376.8 427.1 376.2 428.8Z" fill="#FDAC52"/>
<path d="M346 497.5 346.7 504.5 350.9 502.6 354.6 502.1 357.6 503.2 359.8 505.1 363.2 506.1 366.5 506.4 368.6 501.9 371.7 501.8 374.3 503 376.9 504.6 381 504.1 383.8 505.4 386.7 513.3 387.6 506.7 390.4 505 393.2 503.5 396.5 502.9 399.7 503.7 402.7 505 404.9 508.3 409.6 505.8 411.8 509.1 415 510.1 417 506.3 421.1 507.9 424.5 507.6 426.6 504.3 429.1 505.7 434.2 503.3 436.3 506.6 438.8 509.3 442.1 510.3 444.3 509.9 448.4 512.6 450.8 510.4 453.1 507.8 457 510 458.7 505.6 466.8 506 464.1 509.1 467.6 512.2 461 515.2 460 518.3 463.2 521.4 466 524.5 464.4 527.5 463.6 530.6 462.3 533.7 463.7 536.8 464.8 539.8 460.9 542.9 462 550.9 458.9 548.1 455.7 543.3 452.6 543.9 449.4 546.9 446.3 544.3 443.1 548.8 439.4 548.2 437.2 543.1 432.8 546.4 429.8 544.4 426.7 542.6 423.7 540.4 420.4 539.5 416.9 539.1 413 540.8 409 542.7 406.9 536.7 403.2 537.4 399.8 536.4 397.9 533 393.5 534.7 392.5 529.6 389 529.4 385.7 528.8 383 527.2 378.1 529.5 377.6 523.2 373.3 523.9 370.2 522.5 369.2 517.1 364.9 517.9 362.6 515.4 357 516.4 355.8 512.9 356.4 507.3 351.4 507.8 350.7 503.7 349.3 500.3Z" fill="#9A8B0C"/>
<path d="M376.3 497.4 373.6 499.3 372.2 503.4 370.6 501.6 370.9 503.6 368.7 501.5 370 498.5 368.6 495.3 370.5 491.5 371.5 488.7 373.1 489.2 374.8 484.5 374.5 487.1 375.6 489.2 375.9 491.7Z" fill="#9A8B0C"/>
<path d="M391.9 498.9 388.6 502.2 388.5 505.1 385.8 508.8 384.5 511.6 384.2 506.9 382.7 503.5 383.6 500.4 385.7 497.6 385.2 494.4 385.3 491.1 387.4 487.7 390.7 484.6 389.4 487.4 388.5 489 391.6 487.1 390.8 489.9 390.7 492.9 393.8 496Z" fill="#9A8B0C"/>
<path d="M404.2 494.4 405.4 497.4 404 500.2 403.3 499.7 401.2 502.7 399.5 506.3 401.9 502.1 400.9 499 398.2 497.2 401.2 493.8 400.9 489.1 401.3 484.8 405.3 483.2 405.3 486.6 403.9 489.2 404.4 490.3Z" fill="#9A8B0C"/>
<path d="M418 500.3 417.3 503.9 417.8 507.4 416.1 511.6 413.5 510.6 414.1 508 413.7 507.9 412.4 505.7 413.3 502.7 415 499.7 415.6 496.1 415 493 416.1 488.3 417.8 490 418.5 489.2 419.2 488.8 418.6 491.6 420.9 494.9 418 497.1Z" fill="#9A8B0C"/>
<path d="M432.6 495.3 432.7 500.4 430.4 500 430 504.8 430.9 504.7 427 502.4 427.2 499.5 429.2 497.5 427.7 494.3 431.3 491.9 430.7 487.7 432.9 484.5 433 485.8 436.1 486.3 434.8 489.3 432.1 492.2Z" fill="#9A8B0C"/>
<path d="M448.8 501.5 449 504.4 448.7 507.6 446.2 509.8 445.5 510.3 442.4 513.8 443.6 512.3 443.2 509.5 443 506.7 442.4 504.1 442.9 500.6 445.3 497.8 445.2 495.3 445.3 491.3 446.6 489.1 446.1 487 446.8 489.7 448.7 493 449.5 490.6 450.9 495.4 449.3 498.3Z" fill="#9A8B0C"/>
<path d="M459.3 497.4 459.1 499.9 458.7 503.4 457.4 501.7 456.1 504.2 455.9 506.8 455.5 505.5 452.9 503.9 452.7 500.9 454.8 496.6 454.9 492.5 455.9 490.6 457.1 488.5 459.9 486.3 460 489.5 458 492.7 458.7 494.4Z" fill="#9A8B0C"/>
<path d="M383.8 524.2 385.5 528 388.4 529.3 391 531 394.6 530.7 396 535.2 399.7 535.1 402.8 536.9 406.8 535.5 410.4 535.7 413.8 536.6 416.3 540.1 419.7 541.2 423.7 539.4 426.7 541.7 430 542.7 433.8 541.6 436.9 543.3 440 543.5 443.1 544.4 446.3 546.6 449.4 542.3 452.6 543.7 455.7 544.5 458.9 545.1 460 545 461.6 548 460.1 551 461.9 553.4 458.7 552.8 455.5 552.7 452.4 553.1 449.5 555.7 446.5 557.3 443.1 555 439.8 557.3 436.5 556.6 433.2 556 430.2 553.1 426.1 557.9 423.1 555 419.6 554.1 417 551.9 414.2 550.5 411.2 549.3 408.1 548.6 405.1 547.7 402.9 545.4 399.1 545.6 397 542.7 394.6 540.5 390.4 541.3 386.7 539.5 387.7 535.4 384.5 532.9 382.7 529.8Z" fill="#DDD900"/>
<path d="M392.4 533 394.9 535.3 398.4 535.2 401.5 536.3 404 538.5 406.9 540.1 409.7 542.1 413.2 542.5 416.7 542.5 419.9 544 422.6 547.2 426.5 545.7 430.1 545.6 433.4 545.9 436.6 547.6 440 547.7 443.6 546.5 446.9 546.9 450 548.3 453 550.4 456 550 459 549.2 462.6 549 462 553.7 458.8 553.2 455.7 554.1 452.7 556.1 449.3 554.1 446.2 554.1 443.1 554.8 439.8 557.1 436.5 556.3 433.1 556.4 430 554.5 426.7 553.8 423.4 553.3 420.5 551.5 416.7 552.8 414.5 549.5 410.5 551.5 407.7 549.8 405.2 547.4 401.3 547.5 400.1 544.3 397.9 541.9 396.1 539.1 393.3 537.1Z" fill="#FFFF00"/>
<path d="M391.6 540.6 395 541 396.3 544.4 399.6 545.1 401.7 548 404.4 549.7 407.6 550.3 410.4 551.9 413.4 552.7 417.9 549.2 420.3 551 423.5 552.3 427.2 550.7 429.8 556.1 433.5 553.7 436.7 555.3 440.1 556.8 443.2 556 446.4 556.7 449.6 556.8 452.7 556.3 455.6 553.8 458.9 554.4 461.6 554 460.6 557.1 461 560.3 461 563.4 463.2 566.6 460.9 569.7 460.9 572.9 461.9 576.4 458.6 575.1 454.5 573.3 451 574.1 446.9 577.2 450.2 580 449.5 583.4 447.6 587 448.6 591.6 446.2 589.2 445.9 584.5 443.3 582.4 440 581 438.7 578 436.5 576 434.2 574 431.9 571.9 430.2 569.4 426.7 568.6 423.4 567.7 423.2 562.9 419.5 561.8 418.7 557.7 414.4 557.4 413.3 553.5 409.6 552.6 407.9 549.5 405.8 547.1 402.1 547.2 400.5 543.9 397.6 542.7 394.9 541.3Z" fill="url(#ygr)"/>
<path d="M437.9 565.9 440.9 564.3 443.1 561.2 446.4 560.3 449.5 562.8 453.1 559.8 455.9 561.8 458.8 562.9 462.6 562 461.4 565.5 462.3 569 460.6 572.5 462.2 574.7 458.4 576.3 455.3 575.9 451.1 574.7 448.5 576.9 446.2 580.3 449 583 449.7 585.9 448.2 589.2 449.5 592.1 449 595.2 451.8 597.4 447.8 596.4 448 592.2 447 588.9 443.6 587.9 443.4 584.6 440.7 581.9 441.3 578.5 440.3 575.4 440 572.2 438.8 569.1Z" fill="url(#dgr)"/>
<path d="M458.7 582.4 457 583.9 457.1 585.9 455.8 588.5 453.6 589.9 451.8 587.9 451.9 584.7 453.3 582.1 453.2 580.1 452.7 578.1 454.7 576.1 455.2 577.2 456.2 576.9 456.7 579.8Z" fill="#8FE6D3"/>
<path d="M422.8 440.7 420 442.6 419.3 444.8 418.1 446.7 418.3 443.6 416.5 444.7 417 441.9 419.9 440.2 418.9 437.7 420.8 436.8 421.2 436.1 420.4 435.2 422.3 436.9 422.7 438.5Z" fill="#F59999"/>
<path d="M432.4 460.1 431.7 462.4 431.8 464.4 430 467.1 430.4 465.2 429.6 465 429.5 462.2 430 459.5 431.5 456.5 432.3 454.7 432.3 454 434.2 454.5 435 456.1 433.1 457.7Z" fill="#F59999"/>
<path d="M445.5 445.3 444.5 448.4 444.1 450.5 443.3 450.3 442.6 452.3 442.2 449.2 443.5 446.4 442.6 444.6 443.2 441.5 444.6 441.3 445.5 438.3 445 439.7 445.4 440.1 446.4 442.9Z" fill="#F59999"/>
<path d="M453.8 475.5 452 477 451.5 478.4 449.8 480.5 452.2 480.4 448.9 480.3 450.4 478 450.8 474.7 450.9 471.4 452 468.9 453.3 467.7 453.2 470.8 452.9 471 453.5 473.4Z" fill="#F59999"/>
<path d="M425.6 480.1 426.3 482.4 425.3 484.2 425 485.7 421.4 485.4 425.1 483.6 422.5 482.2 423.1 479.5 425 477.4 424.5 475.3 426.2 473.3 426.9 473.9 427.4 474.5 427.3 477.5Z" fill="#F59999"/>
<path d="M439.2 488.1 439.3 490.7 438.3 492.6 436.8 492 437.1 493 435.6 492.2 437.7 489.8 437.9 487.8 438.3 484.8 438 480.9 439.3 481.3 441.1 481.4 441.3 483.8 439.1 486.4Z" fill="#F59999"/>
<path d="M413.2 479.2 409.5 479.6 411.5 482.4 409.1 482.5 408.5 484.5 407.2 482.2 407.4 480 408.9 477.9 408.8 475.5 409.6 472.1 411.3 471.4 413.2 471.3 413.1 473.3 412.1 475.2Z" fill="#F59999"/>
<path d="M455.9 435.1 455.4 437.7 455 438.8 454 440.2 452.9 440.2 452.1 439 453.9 436.8 453.2 434.5 455.4 432.6 455.2 430.3 456.5 431.3 456.6 430.2 457.7 430 455.8 433.3Z" fill="#F59999"/>
<path d="M400.6 447.6 400.9 450.3 399.4 453.3 398.7 452.2 398.6 455 396.7 453.2 397.5 450.8 397.6 447.3 399.7 445.1 400.4 443.5 401.1 442.3 402.4 441.6 403 443.8 401.5 445.9Z" fill="#F59999"/>
<path d="M380.6 516.6 379.1 518.8 379.3 520.8 377.5 523.3 376.7 520.8 374.3 521.1 376.8 518.3 375.7 515.4 375.3 512.9 377.4 511 379.3 509.2 379.2 510.3 380.1 510.6 379.9 512.7Z" fill="#FDC270"/>
<path d="M398.7 522.6 397.4 525.6 395.5 526.3 395.8 528.6 393.8 526.1 393.2 528.2 393.9 525.4 393.5 521.4 394.1 518.9 395.7 516.9 396.6 515.5 397.6 516.1 397.6 518.4 398.7 519.4Z" fill="#FDC270"/>
<path d="M414.8 526.6 413.3 528.8 414.2 531.2 410.3 530.4 409.6 534.5 409.7 531.1 408.7 528 409.3 525.4 411.2 523.5 412.3 521.9 412.9 518.3 413.3 518.2 413.5 521.5 415.4 523.7Z" fill="#FDC270"/>
<path d="M429.2 528.2 429.5 531.4 427.2 532.4 426 535.6 426.4 533.6 426.7 532.4 425.5 531.6 425.4 527.4 425.7 524.6 426.2 521 429.8 519.5 429.4 522.7 430.4 523 431.5 525.4Z" fill="#FDC270"/>
<path d="M447.9 530.3 447.7 533.2 446.9 534.9 444.9 535.7 444.6 533.5 444.8 534.4 444 533.2 444.2 529.7 445.1 526.6 445.8 524.4 447.2 521.2 449.1 522.9 447 526.5 448.9 527.3Z" fill="#FDC270"/>
<path d="M368.1 508.4 367.3 511.3 366.6 512.9 365.2 514.4 364.6 513.9 362.2 514.1 364.3 511.1 365.1 508 365.3 504.6 365.4 501.9 367.6 499.2 368.1 503.7 368.2 501.7 366.3 505.7Z" fill="#FDC270"/>
<path d="M465.3 425.4 468.6 424.8 472.8 428.2 476.2 428.1 479.1 426 482.7 422 485.2 424.5 487.6 427.2 491.6 425.3 494.7 425.9 497.7 426.9 499.7 430.2 503.3 431.4 498.7 438.1 506.6 436.4 504.8 441.2 510.8 440.9 510.8 445.1 510.1 448.2 506.1 450.8 510.2 454.6 511.7 458.1 509.2 460.9 505.3 463.5 507.1 467 510.7 469.1 506.2 473.1 508.7 475.7 505.4 479.5 506.4 482.4 506.5 485.5 510.4 487.8 511.8 490.7 511.7 493.8 509.4 497.4 510.4 499.8 512.7 503.1 512.9 506.2 512.6 509.2 511.5 512.1 510.3 515 508.4 517.8 506.5 520.6 508.3 523.9 506.7 526.8 509.9 531.9 507.7 534.1 503.4 534 503.3 538.3 500.4 539.7 496.6 540.2 495 543.1 491.3 544.3 488.3 541.4 485.2 538.7 482.3 535.6 477.1 542.2 474 541 472.4 536.7 469.6 534.7 467.7 535 465.6 531.9 468.1 528.9 463.8 525.8 464.4 522.8 464.5 519.7 464.1 516.7 468.6 513.6 461.9 510.5 466.4 507.5 467.7 504.4 463.7 501.4 468.6 498.3 471.1 495.3 468.8 492.2 465.3 489.1 465.9 486.1 464 483 463.3 480 465.1 476.9 466.4 473.9 468.4 470.8 467.8 467.7 467.8 464.7 464.7 461.6 464.8 458.6 467.1 455.5 463.9 452.5 467.4 449.4 464 446.3 468.5 443.3 466 440.2 463.6 437.2 468.2 434.1 465.4 431.1Z" fill="#9A8B0C"/>
<path d="M466 445.2 469 444.3 472.4 445 474.9 442.2 479.2 441.7 477.2 445.4 477.8 448.6 481.2 451.1 482.4 454.1 482.1 457.4 481.6 460.7 478.8 464.6 483.1 466.9 485.3 470.1 482.8 472.9 481.6 475.9 481.9 478.9 484.2 482.1 484.5 485.1 482.1 488 484.3 491.1 484.1 494.1 481.4 496.9 482.8 500.1 481.9 503.2 482.9 506.6 481.9 509.6 482.8 512.9 480 515.7 478.1 518.6 476.7 521.6 477.6 523.4 474.5 523.8 472 526.6 468.6 525.8 466.2 528 467 524.9 466.2 521.9 464.2 518.8 464.2 515.7 464.3 512.6 464.2 509.6 465.1 506.5 465.9 503.4 465.5 500.3 466.3 497.3 465.5 494.2 466.3 491.1 465.3 488 464.1 485 468.4 481.9 467 478.8 463.8 475.7 465.4 472.7 467 469.6 467.5 466.5 467.4 463.4 466.8 460.4 464.4 457.3 467.1 454.2 464.3 451.1 467.8 448.1Z" fill="#BCB206"/>
<path d="M497.1 480.2 493.8 484.1 492.9 488.1 493.5 490.9 493.1 493.6 493.8 496.4 493.4 499.2 491.7 498.6 487.5 496.5 488.2 493.1 488.5 490.1 485.7 488.1 486.8 485.3 486.9 482.6 485 479.4 487.9 478.1 490.2 475.6 489 472 489.7 468.8 491 465.5 492.9 466.4 495 465.9 495.9 468.8 496.7 471.3 496.2 474.1 497 477.2Z" fill="#FDAC52"/>
<path d="M504.9 452.2 502.7 454.9 501.7 457.7 501.4 461.3 499.1 459.9 497.2 459.3 498.3 454.2 495.8 452 495.8 448.1 496.9 445.5 499 444.4 500.9 442.5 501.6 446.5 502.9 448.6Z" fill="#FDC270"/>
<path d="M493 515 492.5 519.7 491 520.8 489.3 525.1 487.8 524.2 484.6 522.5 485.2 518 482.9 514.8 485.9 511.9 486.9 509.2 486.7 506.3 488.5 505.9 491.8 505.9 493.4 510Z" fill="#FDAC52"/>
<path d="M524 448 527.2 446.8 530.3 449.3 533.5 446.1 536.7 448 539.8 448.4 543 447.8 546.2 446.8 549.3 446.9 552.5 447 555.7 449.3 558.8 449.7 561.7 448 561.4 451 562.1 454 560.7 457 562.1 460.6 558.6 460.2 555.3 461.5 552.1 463.3 548.2 460.2 545 461.5 542.1 461.1 539.1 460.8 536.1 460.6 532.9 461.8 530 460.2 527.1 459 522.9 460 522.7 457 525.4 454 522.6 451Z" fill="url(#mtn)"/>
<path d="M555.4 452.4 557.1 455 553 454.1 550.8 457.2 548.1 454.9 545.1 454.4 542 454.1 539.2 454.5 536.4 454.8 532.8 455.5 534.1 453.4 532.1 453.5 535.1 452.2 536.9 451.1 541.7 450.4 545.3 450.1 548.9 451 552.5 450.9 556.6 448.9 558.6 451.4 561.1 451.5 558.3 453Z" fill="#F66666"/>
<path d="M543.8 457.8 547.1 460.7 550 459.4 553.1 460.2 556.1 460.5 558.9 457.4 562 458.8 565.1 458.9 567.2 458 567.4 461 568.1 464 569.4 467 569.4 470 567.6 473 566.4 476 569.7 479 567.6 484.9 564.8 481.4 561.7 479.7 558 482 553.3 481.9 553.3 477.4 550.7 475.8 547.6 474.8 547.5 471.8 544.3 469.2 544 466.2 545 462.9Z" fill="#9A8B0C"/>
<path d="M522.1 488.3 524.6 485.9 527.4 484 531.1 484.1 534.7 484.3 536.7 480.8 540.2 479.1 542.8 482.2 546.1 482.8 549.2 484.2 552.8 483.1 555.4 485.3 558.1 487.2 562.4 486.2 564 490.6 566.7 490 565.8 493.1 572.6 496.1 568.2 499.1 566.7 502.2 566.5 505.2 565.5 508.3 566.1 511.4 568.2 514.4 566.5 517.5 569.1 520.5 571.9 523.5 565.4 526.6 566.1 529.6 570.3 532.7 565.6 535.8 568.3 538.8 567.4 541.9 565.8 544.9 566.5 548 568 548.6 564.9 552.5 561.7 552.2 558.6 550.3 555.4 551.9 552.3 549.1 549.1 552.4 546 549.9 542.9 549.8 539.7 550.9 536.6 549.6 533.4 550 530.3 550.7 527.1 551 525.9 549.6 520 549.7 521.5 544.4 517 543.5 515.7 539.9 515.3 536.4 517.2 533.7 517.5 530.5 518.5 527.5 519.6 524.5 521.6 522.1 522.2 518.7 521.3 515.9 518.5 513.7 515.7 511.5 518.7 507.2 517.1 505.4 515.3 501.6 516.7 498.9 517.9 496.1 518.8 493.2 522 491.2Z" fill="#9A8B0C"/>
<path d="M526.8 495.6 528.6 491.2 532.2 490.3 534.8 487.6 538.4 486.8 542.3 485 545 488.7 548.1 491.3 552.8 488 557 488.8 557.3 493.5 560.9 494.1 562.8 496.9 565.3 498 567.4 501 568.1 504 565.9 507 565.8 510 567.6 513 564.2 516 566.9 519 563.1 522 566.2 525 563.2 528 567.3 531 561.6 534 568.7 537 566.5 540 565.1 543 566 546.4 562.9 545.9 559.8 544.2 556.7 545.4 553.6 547.4 550.5 545.3 547.5 545.3 544.4 546.9 541.3 545.6 538.2 548.3 535.1 548.6 533.3 545.3 531 542.5 529.7 539.1 528.5 535.8 525.3 533.3 522.4 529.5 526.7 527.6 526.4 524.1 527.1 521 530 518.7 529.5 515.2 528.6 512.3 528.2 509.3 530.3 505.6 529.5 502.7 524.6 500.6 527.5 496.8Z" fill="#FFFF00"/>
<path d="M557.4 518.8 554.5 520.2 552.4 521.9 549.5 524.3 546.6 522.5 544.6 520 541.3 520.6 541.1 518.2 540.7 515.9 543.5 513.7 546.5 513.3 550.2 511.6 551.2 515.8 554.5 515.4Z" fill="#BCB206"/>
<path d="M551.3 540.5 548 540.3 547.3 543.3 542.4 546.1 538 542.7 534.6 544.4 531.9 543.6 530.8 541.3 529.1 539.9 530.2 538 533 538 537.8 536.8 542.3 535.5 545.7 535.3 549.4 535.4 552.9 537Z" fill="#52CE0F"/>
<path d="M558.7 505.1 560 507.9 559.1 508.8 556.7 510.2 555.9 510.7 554 509.6 553.6 506.6 551.2 505 551.1 501.6 553.7 500.1 555.8 497 556.3 500 559.8 498.9 558 502.1Z" fill="#DDD900"/>
<path d="M536.5 519.7 536.5 523.1 534.6 524.7 534.6 528.2 533.3 529.3 533.3 524.2 532 523.3 531.4 520 531.6 516.4 531.5 511.9 533.5 509.5 535.2 510.6 536.2 512.4 535.1 517.8Z" fill="#DDD900"/>
<path d="M516 470.1 516.2 472.8 515.7 475.3 515.2 474.5 512.7 476.6 516.2 472.9 514.5 471.8 514.8 469.6 516 466.6 516.7 463.7 517.5 464 517.2 464.5 519.1 465.4 519.2 468Z" fill="#F59999"/>
<path d="M522.6 500.2 522.9 503.2 520.7 504.4 519.7 507.4 520.3 506.4 520.5 502.9 518.6 502.2 521.3 499.8 520.8 497 521.6 495.5 523.7 493.7 523.8 494.7 523.2 496.1 521.7 498.1Z" fill="#F59999"/>
<path d="M512 490.7 509.4 492.5 509.3 495.8 509.3 494.8 507.5 496.7 508.4 494 507.4 492.4 508.3 489.5 510.5 487.7 510.4 483.5 511.3 483.9 512 484.8 512 486.6 511.9 487.9Z" fill="#F59999"/>
<path d="M529 476.2 527.6 478.2 525.4 479.1 526.5 482.3 525.5 482.9 525.7 480.5 525.5 478 526.6 475.6 528.4 473.3 528 470.8 528.9 470.8 529.8 469.1 529.2 472.5 529.3 473.4Z" fill="#F59999"/>
<path d="M463.7 538.9 467.4 537.4 470.4 538.3 473.4 539.1 476 541.4 478.7 543.2 483.2 543.3 480 546.8 480 550.1 476.8 550.9 473.6 550.7 470.4 549.9 467.2 550.8 463.1 551 461 547.8 463.8 544.5 462.8 541.2Z" fill="url(#ygr)"/>
<path d="M585 445.6 588.1 447.4 591.2 445.9 594.3 448.8 597.4 452.1 600.5 447.9 603.6 449 606.7 449.7 609.8 444 612.9 446.3 616 450.2 619 447.4 622.1 449.4 625.2 447.2 628.3 449.3 631.4 447.4 634.5 448.8 637.6 446.8 640.7 449.8 643.8 449 646.9 449.4 651.6 447.9 647.9 451.4 651.2 454.2 652.8 457.3 651.7 460.5 650.8 463.8 651.8 466.9 652.3 470.1 651.1 473 649.5 475.7 650.8 479.2 651.1 482.4 645.5 484.3 643.3 486.9 647.2 491 644.6 493.6 644.2 496.7 642.6 500.3 644 503.3 650.4 505.6 646.2 509.2 645.7 512.4 646 515.5 645.5 518.7 647.7 521.5 649.7 524.4 647.6 527.8 649.8 530.6 651.3 533.6 649.5 536.9 650.5 540.4 647.1 542.4 644.4 545 643.1 548.8 640 549 636.9 552.1 633.8 551.1 630.6 553.6 627.5 549.8 624.4 551 621.2 551.9 618.1 549.6 615 552.1 611.9 552.6 608.8 550.8 605.6 549.4 602.5 551.3 599.4 552.7 596.2 550.9 593.1 554.9 591.4 550.7 588.1 548.1 588.4 544.9 586.4 542 588.9 538.3 588.1 535.3 590.3 531.6 587.2 529 587 525.9 584.8 523.1 585.2 520.2 583.2 516.7 583.7 513.7 584.2 510.7 586.6 508 589.2 505.4 587.4 502 589.3 499.2 586.9 495.6 588.1 492.7 588.6 490.2 589.9 487 588.3 484.1 590.3 480.8 588.8 478 587.2 475.1 584.5 472.4 585.6 469.2 586.7 466.1 590.7 462.5 588.2 459.8 584 457.2 586.8 453.9 582.9 451.3Z" fill="#FD9633"/>
<path d="M607.7 469.3 606.5 464.3 610.2 463 610.9 459.4 614.4 458 616.5 455.5 618.3 452.8 620 450.5 623.3 449 626.7 450 630.2 451.1 633.4 449.4 636.9 450.4 641.1 447.6 639 451.9 644.1 453.6 647.3 456 646.7 459.8 645.9 463.6 648.7 466.2 650.3 470.6 648.5 473.4 644.5 475.5 645.7 479 647 482.6 641.8 484.4 641.9 487.6 641.3 490.7 640.1 493.6 640.2 496.8 641 499.8 639.8 503.2 643.3 505.6 640.1 509.3 641.7 512.1 644.1 514.8 643.2 518.1 642.9 521.3 643 524.4 646.7 526.7 646.2 530.1 643.3 532.4 641.5 535.4 640.1 538.5 641.2 543 640.5 546.6 637.1 546.1 633.6 545.7 628 548.9 628.2 542.2 622.8 545.1 623.4 539.3 618.5 538.2 619.3 534.2 616.3 532.1 615.5 529 614.8 525.7 613.3 522.9 613.2 520.4 611.9 516.4 615.7 513.8 617.1 510.6 614 506.1 617 503.3 617.9 500.1 614.9 498.5 613.3 494.7 609.2 494.6 607.6 490.9 606.4 490.2 602.5 486.7 605.6 483.8 606.6 480.7 603.7 477.3 604.4 474.2 606.2 471.2Z" fill="url(#mtn)"/>
<path d="M586.3 523.1 589.3 520.1 593.4 521.3 596.9 520.4 600.5 516.1 603.1 518.9 606.3 519.5 609.5 520.4 612.8 520.5 615.2 524.4 618.5 524.6 621.3 524.3 622.3 527.5 625.5 530 622.7 534.7 628 536.3 629.2 541.3 624.4 541 622.6 544 619.8 546 618.2 547.8 614.7 550 612.2 546.8 609.1 547 606 547.1 602.8 547.6 599.3 547 598.1 542.4 594.6 541.1 591.1 539.9 589.4 537.8 587.1 534.9 588.7 531.4 585.8 528.5 585.1 525.4Z" fill="url(#mtn)"/>
<path d="M618.9 466.8 618.5 470 616.5 469.2 614.5 470.2 613.8 467.2 615.8 465.4 616.4 463.3 616.9 464.3 618 465.3Z" fill="#FD9633"/>
<path d="M633.2 459.4 632.6 461.2 631 462.1 630.3 461 631 459.3 630.9 456.6 633.6 454.6 634.2 456.3 634.4 456.8Z" fill="#FDAC52"/>
<path d="M625.9 513.2 624.5 516.2 621.5 519.2 622.3 515.4 620.6 513.5 623.6 510.2 624.7 507.8 626.2 505.1 628.4 506.3 628 510.2Z" fill="#FD9633"/>
<path d="M640.5 538.6 638.1 539.6 637.2 540.4 635.5 539.2 634.2 537.9 634.5 535.1 636.4 533.7 639.2 533 639.2 535.7Z" fill="#F66666"/>
<path d="M618.2 492.4 617.7 497.8 612.9 499.7 609.1 496.5 609.6 494 610.4 491.5 611.7 487.6 612.8 485.1 614.6 483 617.6 486.7 619.4 489.1Z" fill="#FD9633"/>
<path d="M630.3 455.7 628.8 458.2 627.3 459.4 625.4 458.8 625.1 456.1 626.5 452.4 627.9 450.5 629.5 451.4 630.9 452.2Z" fill="#F66666"/>
<path d="M639.2 485.1 637.8 485.8 636.8 487.9 636.5 486.6 636.4 485.5 636.3 483.1 637.9 482.1 638.3 483.4 639.8 482.7Z" fill="#FDAC52"/>
<path d="M635.4 546.1 633.9 548.4 632.7 550.1 630.4 549.2 630.1 547.6 628.5 545.4 629.9 543.1 630.7 540.3 633.9 538.9 636 538.6 635.8 541.5Z" fill="#F66666"/>
<path d="M632.1 510.2 629.7 510.7 630 512.5 628.8 512.8 627.2 512 627 510.1 628 508.5 628.6 507.3 629.8 508.4Z" fill="#FDAC52"/>
<path d="M626.1 532.5 625 534.2 623.6 535.6 623 533.8 623.6 532.5 624.7 530.9 625.7 529.6 627.5 528.8 626.5 530.4Z" fill="#FD9633"/>
<path d="M644.7 476.7 643.7 478.6 642.3 478.8 641.6 479.6 640.3 478 641.1 475.6 641.5 474.7 642.7 473.5 644 474.2Z" fill="#FDAC52"/>
<path d="M621.3 522.5 621.5 524.4 621.1 524.8 619.1 524.9 619.3 523.1 619.1 521.2 620.6 521.1 621.6 519.7 621.1 521.4Z" fill="#FDAC52"/>
<path d="M632.9 536.5 632.2 539.2 630.6 538.1 629.3 537.6 628.7 535.4 630.4 534.2 631.5 532 632.6 533.5 633.8 534.3Z" fill="#FD9633"/>
<path d="M641.1 481.8 642.2 483.9 640.6 485.4 639 485.2 636.7 484.3 636.9 481.5 637.3 479.7 638.8 477.9 640.8 478.6Z" fill="#FD9633"/>
<path d="M640.9 514.6 640.8 517.1 639.2 517.3 638.5 518.8 637.6 516.3 635.9 514.2 637 512.2 638.8 510.8 639.6 512.9Z" fill="#FDAC52"/>
<path d="M619.2 474.4 617.9 478.5 615.7 477.4 614.7 476 612.5 475.1 613.6 471.2 615.7 467.1 616.9 470.6 619.6 470.9Z" fill="#FD9633"/>
<path d="M628.2 484.5 627.5 487.1 628.7 491.1 626.9 489.6 625.4 486.8 623.3 484.2 622.6 480.2 625.6 480.6 626.9 482.6Z" fill="#FD9633"/>
<path d="M623.6 477 622.1 479.8 621 479.1 620.6 478.4 620 477 622 475.4 622.5 473.7 623.2 475.1 624 474.2Z" fill="#FD9633"/>
<path d="M632.2 536.7 630.9 539.1 629.6 539.1 628.4 539.5 627.7 537.8 629 534.6 629.8 532.2 630.8 529.7 631.4 532.7 633.1 533.4Z" fill="#FD9633"/>
<path d="M632.6 541 630.6 543.9 628.4 545.4 627.1 547.8 625.6 543.3 624.9 540.3 625 536 628.3 533.7 631.8 533.6 634.5 536 633.1 538.3Z" fill="#FD9633"/>
<path d="M637.9 464.9 637 468.5 634.8 468 632.5 469.2 631.5 467 631 464.3 633.1 463.1 634.6 461.8 637.2 462.1Z" fill="#F66666"/>
<path d="M609.2 487 608.8 489.2 606.7 492.5 606.5 489.4 605.6 487.6 607.7 485.4 609.2 482.5 611.3 481.3 610 485Z" fill="#F66666"/>
<path d="M623.7 526.8 621.8 529.1 619.7 530.8 618.1 529.6 617.4 526.8 617.1 524.4 618.2 522.8 620.3 523.2 622.6 523.5Z" fill="#FD9633"/>
<path d="M625.7 465.8 626.7 469.3 624.6 469.5 623 470.2 621.2 469.3 619 465.6 620.2 463.6 622.6 463.4 624 463.8Z" fill="#FDAC52"/>
<path d="M623 516.8 621.9 520.3 619.1 518.3 616.7 519.1 614.7 516.5 617.9 514.2 618.9 512 621.4 511.6 624.2 513.1Z" fill="#FDAC52"/>
<path d="M627 505.2 628.1 509.1 627.3 511.6 624.8 509.5 621.9 508.6 623.2 504.9 623.4 502.8 622.9 500.2 623.2 498 626 501.3Z" fill="#FD9633"/>
<path d="M617 546.5 616.5 549 614.5 549.7 614.2 547.9 613.1 546.5 614.6 544.5 616.1 544.3 617.4 543.2 618 543.9Z" fill="#F66666"/>
<path d="M590.4 532 591.7 535.2 592.4 539.4 589.4 540.2 586.6 537.1 584.5 532.8 584.6 529.6 585.9 528.3 588.5 528.4Z" fill="#FDAC52"/>
<path d="M588.6 521.3 590.7 524.3 588.5 526.9 587.3 524 585.6 524.7 583.4 521.5 584.4 519.3 586.3 518.2 587.4 519.8Z" fill="#FDAC52"/>
<path d="M598.3 537.4 596.4 540.7 593.6 544 590.6 540.5 590.8 537.4 590.3 533.9 592.5 530.8 596.1 531.7 597.3 534.2Z" fill="#F66666"/>
<path d="M591.1 523.1 590.4 524.8 590.9 526.7 588.3 526.9 586.6 526.7 587 524.8 585.6 522.9 587 521.2 588.5 523.6Z" fill="#F66666"/>
<path d="M622.6 540.6 623.9 544.5 622 545.8 620.1 547 618.2 544 619.2 540.2 617.4 536.8 619.2 536.6 621.2 536.6Z" fill="#FD9633"/>
<path d="M614.9 545.9 612.7 547.9 612.1 550.7 611.1 547.5 609.3 546.6 609.6 543.9 610.5 540.5 612.4 541.3 613.5 542.9Z" fill="#F66666"/>
<path d="M597.7 539.4 596.2 542.5 594.5 543.8 592.3 544.9 590.4 542.6 587.9 538.2 590.7 535.9 593.4 535.6 594.6 537.6Z" fill="#F66666"/>
<path d="M625.1 525 623 527.8 620.9 528 618.3 527.7 616.5 524.7 618.5 521 621.2 519.2 624.6 518.7 624.1 522.8Z" fill="#FD9633"/>
<path d="M608.6 527.9 608.8 529.9 607.7 533 607.2 531 605.1 530.1 605.5 527.8 605.7 526.3 606.4 526.6 607.5 526.9Z" fill="#F66666"/>
<path d="M638.8 461.8 636.2 465 634.9 469.5 630.5 470.4 625.7 470.3 622.8 467.9 618.8 466 618.5 461.8 620.9 459.2 622.6 456.1 625.8 453.8 629.9 455.1 634.4 454.9 637.5 457.9Z" fill="#F4CCCC"/>
<path d="M640.5 500 639 502.9 637.2 505.6 635.6 508.6 633.1 507 629.6 506.1 630.5 502.4 629 500.5 629.2 496.4 631.8 496 632.4 492.7 635.5 492.1 638.1 493.6 638.5 496.8Z" fill="#F4CCCC"/>
<path d="M570 486.1 572.9 485 575.5 482.5 578.9 483.3 582.3 483.9 582.8 484.4 586.8 485.6 590.2 487.3 593.3 489.4 596.8 492.3 593.8 494.6 594.4 498.1 594.7 501.6 594 504.7 592.4 507.5 591 511.2 588.4 513 586.4 515.4 583 516.2 579.8 517.3 578.5 519.5 574 518.7 571.3 516 571.2 512 571.8 508.8 568.3 505.5 568.1 502.2 570.8 499 568.9 495.8 571.9 492.5 570 489.2Z" fill="#9A8B0C"/>
<path d="M582.4 470.2 583.1 469.4 581.1 472.4 579.2 473.5 577 473 574.3 473.4 573.6 472 574.8 469.4 573.2 470.5 574.6 466.9 576.8 466.7 579.3 466.8 582.5 467.2 581.8 468Z" fill="#9A8B0C"/>
<path d="M595 543.8 595.7 546.3 593.8 548.1 591 548.6 588.9 548.2 586 547.4 585.6 546 584.9 544.1 583.9 541.8 586.2 540.7 589 539.1 591.5 542.9 595.3 540.2 594 542.7Z" fill="#9A8B0C"/>
<path d="M650 447.7 653.1 446.5 656.2 448.2 659.3 449.6 662.4 447.7 665.5 449.5 668.6 445 671.7 447.9 674.8 446.3 677.9 450.1 681 448.3 684 449.6 687.1 448.4 690.2 446.3 693.3 448.8 696.4 446.9 699.5 450.1 702.6 447.1 705.7 447.3 708.8 447.9 711.9 450.2 716.3 448 714.3 451.1 715.7 454.2 718 457.2 715.2 460.3 716 463.4 716.5 466.5 713.2 469.5 713.3 472.6 716 475.7 717 478.8 713.5 481.8 714.2 484.9 714.9 487.5 712 488.3 709.1 489.2 705.7 487.3 702.9 489 699.4 490.6 698.5 486.5 695.9 484.1 691.4 483.6 690.3 480.8 686.4 479.9 683.6 481.7 680.1 482 678 485.3 674.5 485.6 671.9 488.6 668.4 488.5 665.9 482.6 662.1 484.5 658.4 485.4 653.9 485.4 654 482 653.5 478.8 650.7 476.4 650.5 473.2 649.9 470 649.7 466.9 650.3 463.7 649.2 460.6 654.3 457.4 650.1 454.3 652.1 451.1Z" fill="#9A8B0C"/>
<path d="M653.1 484.2 656.1 486.1 659.5 485.2 662.3 487.6 665.6 487.5 668.9 486.9 672 488.1 675.6 488 678.9 487.1 681.1 483.2 684.4 482.2 688.6 481.9 689.7 484.8 688.2 488.1 690.2 490.9 688.4 494.1 688.3 497.2 690 499.9 686.9 501.9 683.3 502 679.5 501.4 676.8 504.5 673.4 505.3 669.8 507.3 667 505.7 664 505.1 661 505.1 657.9 505.1 654.5 504.1 654.9 500.8 652.4 497.9 654 494.5 655.1 491.2 655.1 488Z" fill="#FDD98F"/>
<path d="M650 506.3 653.4 506 656.8 505.7 660.1 506.5 663.6 504.5 666.5 509.4 669.2 505.3 673.1 506.2 676.5 505.3 679.9 504.6 683.8 505.4 686.9 503.8 690 502.3 693 499.9 696.4 503.1 699.5 503.4 702.6 501.9 705.5 499.6 708.7 499.6 712 501.3 714 500 713.4 503 715.4 506 714.2 509 713.9 512 713.7 515 717.6 518 714.8 521 714.3 524 715.9 527 715.3 530 714 533 713.1 536 716.6 539 715.4 542 716.7 545 713.6 548 715 550.9 711.9 552.2 708.8 551 705.7 554.6 702.6 552 699.5 550.8 696.4 552.2 693.3 550 690.2 553.5 687.1 552.7 684 551.4 681 550 677.9 552 674.8 549.6 671.7 552.1 668.6 549.6 665.5 552.9 662.4 549.5 659.3 549.2 656.2 552.9 653.1 551.7 650.8 551 651.3 548 650.6 545 647.5 542 649.4 539 650.5 536 651.4 533 651.4 530 649.9 527 649.7 524 651.1 521 650.9 518 648.7 515 651.2 512 650.1 509Z" fill="#BCB206"/>
<path d="M658 514.4 661.4 511.5 664.8 511.3 668.2 510.5 671.6 513.7 675 511.8 678.2 510.3 682.3 512.3 685.6 511.5 688.7 509.3 691.9 507.3 695.3 507.8 698.6 507.5 701.8 506.4 705 505.5 708.7 509.9 711.8 507.7 715 506 714.4 509 715.5 512 716.4 515 716.3 518 713.3 521 715.9 524 716.8 527 713.3 530 711.3 533 715.3 536 717.8 539 716 542 714.4 545 716.1 548 715 552.8 711.9 551.6 708.9 549.5 705.8 549.3 702.8 550.3 699.7 549.6 696.7 552 693.6 551.6 690.6 552.9 687.5 549.3 684.4 551.7 681.4 552.9 678.3 550.5 675.3 549.3 672.2 549.3 669.2 550.7 666.1 552.7 663.1 551.2 659.9 551 662.1 547.3 660.4 544.6 659.2 541.7 657.9 538.8 656 536.1 653.5 533.5 656.2 530.2 656.1 527.1 655.5 523.9 656.3 521 660.1 518.5 657.7 515Z" fill="#DDD900"/>
<path d="M667.7 514.1 670.9 514.1 674.4 515.6 677.7 515.9 680.4 512.8 683.5 511.9 686.9 512.5 690.1 513.5 693.1 511.5 696.2 510.7 699.3 510.8 702.4 510.2 705.5 509.5 708.8 512.9 711.9 512.2 715.1 511 716.5 514.2 714 517.4 717 520.5 716.1 523.7 715.1 526.9 714.9 530.1 714.8 533.3 712.3 536.5 713.3 539.6 716.7 542.8 715 547.2 711.8 547.7 708.7 546.4 705.7 544.4 702.5 545 699.3 546.9 696.3 545.2 693.1 546.7 689.7 546 687.5 542.4 684.2 542.8 680.8 543.2 678.5 539.9 674.5 542.6 672.4 539.9 671.9 536.9 669.3 534.3 669.1 531.2 669.8 528 667.7 525.3 667.4 522.3 672.4 518.3Z" fill="#FFFF00"/>
<path d="M649 555.2 648.2 557.7 645.7 558.6 643.6 562.5 643.6 565.8 641.7 569.1 638.5 563.6 633.7 565.5 635.4 562.3 634.3 559.1 630.9 558.5 630.8 555.1 632.8 553.3 634.9 551 632.5 548 635 545.8 638.3 544 642.5 543.3 643.9 547.8 645 551.3Z" fill="url(#mtn2)"/>
<path d="M568 551.1 571 550.6 574.1 551 577.1 551.5 580.2 551 583.2 551.6 586.3 550.9 589.3 551.3 592.4 551.2 595.4 551.2 598.5 551.4 601.5 551.4 604.6 550.6 607.6 550.6 610.7 551.4 613.7 551.2 616.8 551.1 619.8 551.2 622.9 551.3 625.9 550.9 629 550.5 632 550.5 635 551.2 638.1 551.4 641.1 551.1 644.2 550.9 647.2 550.5 650.3 551.1 653.3 550.6 656.4 551.9 659.4 550.7 662.5 550.9 665.5 551.4 668.6 551.3 671.6 550.5 674.7 550.5 677.7 550.6 680.8 551.3 683.8 550.6 686.9 550.9 689.9 551.1 693 550.8 696.1 551 695.5 554 695.5 557 696.1 560.1 696.3 563.1 696.1 566.1 696.5 569.1 696.3 572.2 696.3 575.2 696.5 578.2 695.6 581.2 695.6 584.2 695.8 587.3 696.3 590.3 695.8 593.3 695.8 596.3 695.8 599.4 695.7 602.4 696.1 605.4 696.4 608.4 696 611.5 696.1 614.5 695.9 617.5 695.6 620.5 695.8 623.5 695.7 626.6 695.8 629.6 696.1 632.6 695.9 635.6 695.3 638.7 696.2 641.7 696.3 644.7 696.2 647.7 695.5 650.8 696 653.8 695.7 656.8 696.1 659.8 696.4 662.8 696.1 665.9 696.4 668.9 695.5 671.9 695.7 674.9 696.2 678 695.2 681 696 683.6 693 683.9 689.9 684.3 686.9 685 683.8 684.1 680.8 683.7 677.7 683.6 674.7 683.4 671.6 683.3 668.6 684.4 665.5 683.7 662.5 684.7 659.4 684.4 656.4 684 653.3 684.1 650.3 683.6 647.2 684.4 644.2 684.4 641.1 684.5 638.1 683.5 635 683.2 632 684.2 629 683.4 625.9 683.7 622.9 683.8 619.8 683.6 616.8 684.2 613.7 684.2 610.7 684.2 607.6 683.6 604.6 684.6 601.5 684 598.5 683.7 595.4 683.6 592.4 684 589.3 684.1 586.3 683.9 583.2 684 580.2 683.9 577.1 683.8 574.1 684 571 684.1 567.7 684 568.4 681 567.7 678 567.8 674.9 568.5 671.9 568.3 668.9 568.1 665.9 567.7 662.8 568.4 659.8 568.3 656.8 567.8 653.8 567.9 650.8 568.4 647.7 568 644.7 567.9 641.7 568 638.7 567.9 635.6 568.2 632.6 568.3 629.6 568.5 626.6 567.8 623.5 568.1 620.5 568.1 617.5 568.1 614.5 568.5 611.5 567.5 608.4 567.5 605.4 567.7 602.4 567.8 599.4 568.7 596.3 567.9 593.3 567.9 590.3 567.2 587.3 567.8 584.2 568.5 581.2 567.4 578.2 567.8 575.2 568.3 572.2 568.3 569.1 568.5 566.1 567.1 563.1 568.1 560.1 568.4 557 568.4 554Z" fill="#BCB206"/>
<path d="M586 680 624 680 624 692 586 692Z" fill="#3E7F41"/>
<path d="M570 552.6 573.1 555.1 576.2 550.7 579.4 555.4 582.5 553.2 585.6 553.5 588.8 549.6 591.9 553.4 595 555 598.1 553.8 601.2 554 604.4 552.9 607.5 549.8 610.6 553.4 613.8 551.9 616.9 553.8 619.5 553.1 619.1 556.3 618.8 559.4 620.2 562.3 621.8 565.1 621.3 568.3 624.2 570.8 621.6 574.4 622.8 577.3 624 579.7 625 583.3 621.2 585.4 622.4 589.1 620.1 591.7 620 595 621.3 598.8 619.7 601.6 617 604 615.7 606.9 614.9 610 615.3 613.2 617.1 616 617.4 619.2 617.2 622.6 618.9 625.4 622.1 627.6 624.7 630.1 625.5 633.2 623 637.3 625.4 640.3 622.3 641.9 622.9 646.2 620 648 615.9 648.8 615.4 652.3 612.3 653.9 613.7 658.8 610.1 659.5 606.9 658.2 603.5 657.8 599.9 657.9 596.8 656 593.1 656.9 590.7 654.1 588.2 652.1 585.5 650.6 583.5 648.1 579.1 648.7 578.3 644.6 575.9 642.5 572.5 641.9 570.6 640 567.9 637 574.9 634 569.9 631 568.5 628 568.3 625 570.2 622 571.2 619 572.3 616 571.5 613 571.3 610 569 607 567.9 604 572.6 601 568.2 598 572.1 595 571.5 592 570.8 589 570.5 586 570.3 583 571.6 580 570.4 577 571.3 574 570.1 571 569.3 568 569.4 565 567.9 562 565.6 559 567.2 556Z" fill="#DDD900"/>
<path d="M596 575.7 592.8 576.3 591.5 578.4 589.9 581.2 587.9 584.5 587.7 589.4 585.3 590.6 582.3 589.3 579.7 588 576.2 587.1 575.8 583.6 576.1 580 576.4 577.5 577.1 575.1 577.3 570.7 578.5 565.7 580.3 563.7 582.8 562.6 585.3 560.7 587 560.2 591 560.7 593.1 563.3 594.8 565.8 595.4 568.4 596.4 571.9Z" fill="#9A8B0C"/>
<path d="M614.1 619.8 615.8 622.1 614.5 625.4 615.7 626.9 612 627.5 608.2 626.7 605.6 629.9 606.1 633.6 602.7 635.4 601.8 638.7 601.8 635.9 602.2 633 601.6 630.2 602 627.1 599 624.7 597.5 622.3 596.6 619.9 595 617.5 595.1 614.8 594.7 612.2 597.2 610.4 598.6 607.6 600.9 605.8 603.5 602.6 605.2 605.2 607.1 607.3 610.6 609 612.4 611.9 614.4 611.9 614.9 614.9 613.9 617.4Z" fill="#9A8B0C"/>
<path d="M586.3 640 586.4 643.8 584.7 647 581.4 647.8 577.8 648.3 577.3 644.5 575.3 643.8 574.4 640 574 636.4 575.7 633 578.5 634 581.2 633.5 583.5 634.1 584.8 636.2Z" fill="#FFFF00"/>
<path d="M587.2 602.3 589.8 604.5 590.1 608.4 586.7 609.1 584.9 609.7 581.5 608.1 579.1 611.1 576.9 606.7 576 602 576.8 596.2 580.3 596.4 581.9 593.5 584.6 596.5 586.9 593.7 589 596.9 588 599.3Z" fill="#FDD98F"/>
<path d="M604.3 592.8 603.4 596.4 600.7 595.7 598.9 596.4 596 598.3 595.2 595.6 592.6 595.2 592.5 593 594.3 591.8 595.9 590.8 596.6 589.4 599.1 588.4 602.6 588.6 603 591.1Z" fill="#FDD98F"/>
<path d="M578.9 647.2 579.8 649.1 578.5 650.2 577.1 651.6 575.2 652 572.1 651.5 571.5 649.3 573.3 648 572.1 646.9 573 643.2 575.1 645.9 576.7 645.4 578.3 645.9 578.2 647.6Z" fill="#FDD98F"/>
<path d="M606 554.3 609.1 552 612.3 551.9 615.4 551.5 618.6 548.9 621.7 552.9 624.9 554.9 628 552.3 631.1 554.3 634.3 555.1 637.4 554.8 640.6 554.5 643.7 551.7 646.9 551.7 650.6 552.9 648.6 556.6 650.6 559.5 651.3 562.6 652 565.8 653.8 568.7 655.1 571.7 653.5 574.1 652.7 577.4 652.4 581.1 651.3 584.3 648.6 586.5 645.6 588.6 644.5 595.4 641.7 593.8 638.7 593.3 635.7 592.7 633 590.4 631.6 588.7 628.3 587.4 627.5 583.9 624.3 582.5 623.3 579.3 620.8 578.9 617.4 580.5 615.5 583.6 610.5 585.7 612.2 581.2 610.7 578.3 607.6 576.1 607.5 572.5 608.8 570.2 604.1 566.5 606 563.2 603.9 559.7 604.7 556.3Z" fill="#FDAC52"/>
<path d="M646.7 568 646.6 571.4 646.2 574.4 643.6 575 644.4 577.9 643.1 580.3 643 583.5 640.1 581.2 641.5 577.5 639.1 573.9 639.6 571 639.9 568 640 564.6 639.7 561.2 641.6 560.3 641.6 557.4 642.9 555.7 643.4 560.7 647.7 562.4 645.9 565.4Z" fill="url(#mtn)"/>
<path d="M633.9 560 635.3 563.2 633.1 563.7 632 567 631.9 563.7 630.7 562.8 628.8 563.3 628.8 560 628.8 557 629.8 554.8 630.9 554 632.7 555.9 633.8 554.3 634 557.2Z" fill="url(#mtn)"/>
<path d="M620.2 570.8 616.6 571.5 616.8 572.8 614.9 574.1 611 577.8 610.9 574 609.4 572.4 609.4 570 609.2 567.7 610.7 567.6 613 566 615.9 564.5 616.8 566.6 617 568.9Z" fill="#FD9633"/>
<path d="M650 554.5 653.1 554.7 656.1 553 659.2 549.3 662.3 553.4 665.3 551.9 668.4 552.7 671.5 553.2 674.5 552.9 677.6 552.4 680.7 554.1 683.7 554.1 686.8 553.6 689.9 552.6 692.9 553.2 695.6 553 696.2 556.1 696.1 559.2 697.1 562.3 694.8 565.4 696.7 568.5 694.6 571.6 696.4 574.7 696 577.8 696.1 580.9 696 584 692.8 585.7 690 583.3 687.3 579.4 684.1 581.8 680.9 583.4 677.8 584.4 675 582.1 672.2 582.5 669.9 584.9 666.9 585.9 664.5 588.2 660.3 586.5 658.3 589.7 657.9 589.6 656.9 586.6 654.8 583.7 652.1 581 654.1 577.6 653.1 574.6 651.7 571.6 651.3 568.5 652.3 565.2 650.1 562.4 652.5 558.9 651.5 555.9Z" fill="#DDD900"/>
<path d="M687.1 565.1 686.4 567.8 684 572.6 680.7 570.7 677 568.8 672.7 569.9 668.2 569.3 667.7 566.7 666.6 564.8 663.2 563 666.8 560.2 669.3 558.3 672.5 557.9 674.7 559.8 677.2 559.4 680.3 561 682.7 560.7 686 562.2Z" fill="#BCB206"/>
<path d="M691.3 574.9 693.6 577.7 691.4 580.5 689.1 579 687.6 580.3 684.9 579.5 681.7 577.9 681.2 574.8 682.5 572.3 684.5 570.9 687.1 568.2 689.1 569.5 692.9 570.4 690.6 574.4Z" fill="#FFFF00"/>
<path d="M654.7 589.3 657.9 588.8 660.5 587 663.1 585.2 665.4 582.7 669.3 583.6 672.1 581.1 675.2 580.2 677.9 583.5 681.1 581.4 684 582.4 687.1 581.6 690.1 582.4 692.8 585.8 695.9 584 695.4 587.1 695 590.2 695.6 593.3 697.2 596.4 696.2 599.5 696.3 602.5 695.1 605.6 695.8 608.7 696.4 611.8 697.7 614.9 698.1 618 694.6 621.1 697.6 624.2 695.3 627.3 694.2 630.4 695.4 633.5 695.7 636.5 697.9 639.6 697.8 642.7 697.7 645.8 697.3 648.9 696.1 651.7 693 649.5 689.1 651.9 685.5 650.6 682.7 648.7 681.7 644.2 677.5 644.1 674.6 642.3 673 639.8 669.7 637.4 672.7 633.5 666.8 631.7 671.2 627.6 667.9 625.2 668.6 622.9 664.5 623.6 660.9 625.2 659.2 627.9 656.5 624.9 656.2 621.8 659.1 618.4 654.3 615.5 657.4 612.1 658.3 608.9 657.9 605.7 656.7 602.6 656.8 599.4 653.3 596.5 656.7 593.1Z" fill="#A3EE05"/>
<path d="M690.1 600.1 688.6 603.3 687.6 607.1 684.6 610.5 681.8 610 680.3 607.2 675.7 607.8 672.5 604.1 674.4 600.2 674.3 596.8 678.5 595.6 681.2 593.8 682.3 591.3 683.1 588.7 685.3 586.7 686.3 589.8 688.6 592.6 687.2 597.5Z" fill="#7ADE0A"/>
<path d="M672.8 606.2 671.1 608.6 671 612.5 669.5 614.7 667.1 614.5 665.8 611.4 664.4 608.9 664.3 605.9 663.3 602.5 664.6 600.5 667.1 600.3 669.3 599.2 669.6 602.3 671.4 602.9Z" fill="#CCFF00"/>
<path d="M618.4 596.4 621.9 595.9 624.6 592.8 628.9 591.9 628.3 595.1 629.1 598.2 630.3 601.2 630.4 604.4 629.8 607.6 630.9 610.6 629.3 614 632.5 616.8 633.9 620.3 630.4 622.9 631.8 626.3 630.3 629.3 629.6 632.4 630.8 635.7 630.4 638.8 627.4 641.6 629.8 645.1 628.3 649.4 624.3 647.1 621.2 648.8 616.7 649.9 618.2 647 617.9 644 615.5 640.8 617.4 637.9 617.2 634.9 618.3 631.9 620.6 629.1 619.5 626 620.9 623.1 621.6 619.9 618.9 616.9 620.5 613.7 618.5 610.7 620.3 607.4 620.6 604.2 617.6 601.3 617.1 598.2Z" fill="#7ADE0A"/>
<path d="M631.8 597.4 635.5 597.6 638.2 594.5 641.8 594.3 645.8 595.5 648.7 593.2 650.5 592.2 652 595 653 598 652.4 601.1 653.6 604 655.4 606.8 652.5 610.2 655.4 612.9 654.7 616 654 619.1 654.1 622.1 658.7 624.7 657.8 628.5 654.1 630.9 653 633.9 655.3 637.9 648.6 639.5 648.8 642.9 654 647.7 649.3 649.3 646.3 651.3 643.5 653.5 641.1 656.1 639.2 660.3 640.9 656.1 638.4 653.2 635.9 650.3 635.4 646.8 633.9 643.7 635.9 639.9 635.7 636.9 632.1 634.1 633.8 631 635 627.9 633.1 625 634.6 621.9 632.3 619 631 616.1 632 613 631.5 610.1 630.5 607.1 631.6 604 632.6 601Z" fill="#FFFF00"/>
<path d="M648.6 615 648 619.3 648 622.4 646.6 625 645.5 628.8 642.3 627.7 642.2 623.3 642.3 617.5 638.5 615.3 639.4 610.8 641.2 607.3 642.8 604.2 644.8 603.8 647 603.8 647.4 607.1 647.7 610.5Z" fill="#BCB206"/>
<path d="M645 652.3 641.4 655.3 640.3 657.2 640.4 661.2 639.7 658.8 638.7 659 637.8 657.1 636.6 654.5 638.2 652.3 637.7 649.1 638.6 646.3 636.8 643.5 639.7 641 640.4 645.1 642.2 645.4 643.4 648.4Z" fill="#FDD98F"/>
<path d="M625 640.8 629.4 641.4 628.7 646 631.2 648.1 632.8 651 636.6 652 637.1 657.3 640.1 658.4 643.1 659.7 647.8 656.8 649.7 659.8 649.6 656.2 650.5 653.1 654.8 651.7 654 647.7 657.3 645.8 662.4 644.8 659.7 639.8 662.8 637.4 664.5 634.3 664.6 630.3 665.6 626.8 669.5 623.4 669 627.3 670.7 630.3 672.3 633.3 671.4 637.3 674.4 639.6 675.1 643.9 677.9 646.1 681.7 647.3 684 649.9 686.6 652.7 690 650.9 692.9 652.4 693.5 652 698.4 655.2 694.9 658.4 693.7 661.6 697.3 664.8 697.4 668 696.6 671.2 695 674.4 699.1 677.6 693.7 680.8 696 688 692.9 681.9 689.9 681.3 686.8 681.7 683.7 686 680.6 686 677.6 681.8 674.5 685 671.4 685.6 668.4 682.1 665.3 685.7 662.2 684.4 659.1 686.4 656.1 685.1 653 682.1 649.9 684.9 646.9 684.9 643.8 688.9 640.7 682.5 637.6 681.8 634.6 683.1 631.5 683.6 628.4 686.2 625.4 681.5 622.3 682.8 619.2 685.8 616.1 684.6 613.1 682 612.2 684.2 608.9 680.9 611.3 678.1 609.3 674.9 612.7 672.1 611.8 669 612.5 666.1 613.1 663.1 613.7 661.2 614.2 657.8 616.2 655.5 618.7 653.5 617.4 648.9 619.8 646.8 623.4 645.6 622.8 641.5Z" fill="#3E7F41"/>
<path d="M609.9 652.1 615.9 654.5 615.6 648.3 620.5 649.1 623.7 647.7 627.2 644.4 628.6 647.2 627.6 651.1 631.1 653 632.7 655.7 632.4 659.3 635.4 660.9 637.2 663.5 637.7 667.3 639.5 669.9 641.7 671.5 644.7 669.3 648.5 668.4 652.5 668.1 655.8 665.3 655.4 661.6 656 658.3 658 655.5 660.2 652.8 659.4 648.9 661.6 646.2 662.4 643 665.2 640.9 666 637.3 669.8 636 670.2 631.9 671 635.3 670.9 639 672.3 642.1 674.3 645 675.2 649.4 679.8 648.2 680.9 652.7 683.5 655 688.1 653.8 689.4 658.1 693.3 658 696.6 660 696 664 695.9 668.2 692.3 668.3 689.9 664.2 686.6 662.9 682.3 665.2 679.7 661.6 677 663.2 673.1 663.4 671.1 665.9 670.9 670.6 667.5 671.4 663.8 671.7 660.3 672.1 658.1 674.7 655.4 676.5 652.1 677.1 650.2 678.8 646.3 681.1 643.4 678.3 640.3 676.6 637 675.6 633.4 676.1 629 677.4 626.2 675.2 622.9 673.7 620.1 671.4 617.5 668.2 618.2 664 614.2 661.9 614.1 658Z" fill="#175417"/>
<path d="M650 666.5 648.6 670.3 650.9 674.3 648.9 673.7 648.7 675.5 647.1 675.9 644.6 672.2 642.3 669.4 643.1 666.2 642.8 664.4 643.3 662.9 643.3 661.1 645.8 660.4 646.5 663.9Z" fill="#CCFF00"/>
<path d="M630.3 658.8 630.4 661.6 630.3 664.5 631.5 665.7 630.3 666.6 629 668.3 626.5 665 625.2 661.2 624.4 657.3 624.7 655.8 624.3 654.8 623.7 651.7 627.3 653.6 628.8 656.3Z" fill="#A3EE05"/>
<path d="M567.9 650.4 571.3 650.2 574.3 651.7 577.7 651.5 580.6 653.2 583.8 653.9 587.1 654.1 590.4 654.7 593.4 656.7 597.1 656.6 600.1 658.7 603.1 660.7 607 660 608.9 662.1 609.2 665.2 611.8 668.2 611 671.4 609.5 674.7 610.9 677.8 611.5 680.9 612 684.4 609 686.8 606 683.3 603 682.9 600 684.7 597 684.3 594 682.9 591 684.8 586.6 684 588.6 687.2 589.3 690.4 588.6 693.6 588.3 696.8 588 701.2 584.7 700.5 581.3 699.9 578 700.3 574.7 699.5 571.3 699.2 568.8 700 569.4 696.9 569 693.8 566.3 690.6 567.1 687.5 568.6 684.4 567.4 681.2 570.3 678.1 568.9 675 566.7 671.9 568.1 668.8 569.9 665.6 568.1 662.5 567.6 659.4 567 656.2 567.8 653.1Z" fill="url(#dgr)"/>
<path d="M579 690 580.7 694.5 578.7 695.8 576.8 699.3 574.8 697.7 574.2 696.7 571.8 694.3 572.4 690 573.8 686.5 572.4 682.8 575.8 684.5 577 682.2 578.3 683.3 578 686.9Z" fill="#CCFF00"/>
<path d="M463 551.5 466 551.2 469 550.9 472 550.5 475 550.9 478 550.8 481 551.5 484 550.7 487 551 490 551.3 493 550 496 551 499 551.1 502 550.9 505 550.7 508 550.6 511 551.5 514 550.8 517 551.4 520 551.3 523 551.1 526 551.2 529 550.6 532 550.8 535 551.2 538 551.5 541 550.8 544 550.6 547 550.4 550 550.4 553 551.2 556 551.3 559 551.4 562 550.6 565 551.2 568.6 551 568.3 554 568.2 557.1 568.9 560.1 568.1 563.2 567.6 566.2 567.9 569.2 568.2 572.3 568.4 575.3 567.4 578.4 568.5 581.4 568.4 584.4 568 587.5 568.5 590.5 567.9 593.6 568.2 596.6 568.8 599.7 568.1 602.7 568.1 605.7 568.1 608.8 568 611.8 568.3 614.9 568 617.9 568.9 620.9 567.6 624 568.5 627 567.6 630.1 568.3 633.1 567.6 636.1 568.1 639.2 568.2 642.2 567.8 645.3 567.8 648.3 568.2 651.3 568.3 654.4 567.8 657.4 567.9 660.5 567.6 663.5 567.5 666.6 568.4 669.6 568.4 672.6 567.6 675.7 568.4 678.7 568 681.8 567.7 684.8 568.1 687.8 567.9 690.9 567.7 693.9 568.3 697 568 699.9 565 700.2 562 699.8 559 700 556 699.6 553 699.9 550 699.7 547 700.2 544 701 541 700.1 538 700.3 535 699.5 532 700.2 529 700.1 526.1 699.9 523.3 698.5 520.3 697.8 517.5 696.6 514.9 694.9 511.7 694.7 509.1 693 506.4 691.7 503.3 691.1 500.5 689.9 497.9 688.2 494.7 688.1 492 686.5 489.2 685.4 486.2 684.7 483.7 682.9 481 681.5 478.2 680.1 475.6 678.6 472.4 678.4 469.4 677.5 466.7 676 463.9 674.8 461 674 458.4 672.3 455.4 671.7 452.7 670.1 449.7 669.5 446.1 667.8 447.7 664.8 448.7 661.7 449 658.5 450 655.4 450.2 652.1 451.9 649.2 451.5 645.8 451.9 642.6 453.5 639.6 452.9 636.2 454.5 633.2 454.3 630.1 454.6 627 453.6 624.1 453.5 621 453.8 618 453.4 614.9 452.6 612 451.9 609 451.6 606 451.7 603 450.5 599.8 451.9 597.1 453.1 594.3 455 591.8 455.9 588.9 456.7 585.9 458.5 583.4 458.9 580.3 460.5 577.6 462.1 575 462.3 572 462.3 569 461.9 566 462.4 563 462.5 560 462.9 557 463.7 554Z" fill="#FFFF00"/>
<path d="M470 554.1 473.1 557.5 476.2 558.6 479.4 555.8 482.5 553.1 485.6 554.3 488.8 557.1 491.9 557.6 495 553.4 498.1 557.5 501.2 557.5 504.4 554.1 507.5 560.8 510.6 556.8 513.8 560.5 516.9 560.1 519.9 556.1 525.8 554.4 520.7 564.1 527.6 561.4 526.8 566.7 530.8 566.9 532.3 569.7 534.1 572.3 539.4 571.2 541 574.2 541.1 578.2 542.6 581.1 545.6 582.8 548.2 584.9 549.4 587.9 553.2 589 552.3 593.9 558 593.4 561.1 595 560.9 599.9 558.5 603.4 559 606.4 564 608.8 556.5 613.1 564.3 615.1 560.2 618.8 563.1 621.6 565.8 624.3 564.8 627.6 565.2 630.7 562.4 634.2 567.1 636.7 565.5 638.8 563 640.9 559.3 639.8 556.4 640.8 555.2 646.4 552.3 647.4 548.6 646.5 546.1 648.6 543.4 650.2 537.8 652.2 539.6 645.9 535.6 645.5 530.6 646 529.8 642.4 528.9 638.8 525.7 637.6 524.9 634 522.2 632.2 518.6 631.8 517.8 627.7 515.4 625.7 512.6 624.2 509.4 623.3 506.5 621.9 504.8 619 502.2 617.2 501.4 613.1 496.2 614.8 494.6 611.7 491.1 611.2 490.4 607 487.8 605.2 484.5 604.5 480.2 604.9 480.9 599.5 477.4 597.7 476.5 594.6 477.4 590.6 475.8 587.8 474.6 584.8 471.8 582.7 464.9 580 472.3 577 467.6 574 468.3 571 469.5 568 469.8 565 470.7 562 470.2 559Z" fill="#BCB206"/>
<path d="M557.5 589.3 555.8 592.6 554.3 594.8 553.2 597.1 551.6 599.4 550.2 602.1 547.2 604.9 545.7 601.8 542.2 602.2 538.9 598.8 535.2 599.2 533.2 597.2 531.6 593.6 531.5 590.1 531.7 587.1 529.5 584.6 529.9 580.4 533 581.6 536 581.3 540.1 581.5 539.1 577.9 541.3 575.2 541.3 572.1 544.9 573.5 545.4 577.1 547.2 580.5 549.7 579.6 551.7 577.6 554.5 576.5 555.4 580 557.3 583.2 557.1 586.7Z" fill="#9A8B0C"/>
<path d="M510 584.7 508.2 588.6 505.1 590.1 502.4 592.6 500 593.4 497.5 594 492.9 592 490.8 588.7 486.7 585.1 488.9 580.8 492.4 575.3 495.1 577.4 498.2 577 501.5 578.4 506.1 578.9 507.5 582Z" fill="#DDD900"/>
<path d="M489.1 570.8 485.2 571.6 483.2 573.4 481.4 575.3 478.5 575.8 475.8 574.5 474 572.7 470.9 569.6 472.9 566.8 476.8 566.3 478 563 481.4 564.6 484.4 565.2 486.5 567.3Z" fill="#FFFF00"/>
<path d="M514.2 581.8 518.4 584.4 521.7 583.5 524.7 581.4 528.2 581 532.4 583.8 534.6 580.7 538.1 580.7 539.9 583.7 543.2 583.9 545.1 586.7 548.3 587.2 550.2 590 552.5 592 555.3 591.9 557.4 595.2 555.4 598 554.3 600.9 554.3 604 555.6 607.1 553.8 608.8 550.7 612.2 546.9 610.4 543 608.3 540 612 537.6 609.9 534.2 609.1 534.5 603.5 531.9 601.7 527.4 602.2 524.9 600 525 596.4 521.6 595 520.2 592.4 519.8 589 516.3 587.7Z" fill="#52CE0F"/>
<path d="M502.1 589.3 505 592.5 508.7 591 514 590.5 513.7 594.8 517.1 596.4 517 600.6 519.7 602.6 522.1 604.9 524.7 606.6 525.4 610.2 528.5 611.5 531.6 612.8 533.8 614.9 536 618.1 533.1 621.8 533.6 627 530.8 625.6 527.9 624.9 526.1 621.2 522 623 521.1 619 517.6 618 516.9 614.6 513 613.9 511.7 610.9 510.2 608.2 508.3 605.9 505.7 603.2 505.7 599.6 505.7 595.9 502.8 593.4Z" fill="#FDD98F"/>
<path d="M508 566 506.8 570.2 506.4 573.6 503.7 575.2 502.7 576.8 501.7 574.2 501.3 571.3 499.2 570.2 498.4 566.5 499.5 563.4 499.3 561.4 500.7 558.9 501.9 555.9 503.4 556.2 506.8 558.4 505.4 563.3Z" fill="#FDD98F"/>
<path d="M566.8 634 565.1 638.5 561.9 641.9 560.2 645.9 556.6 644 552.1 642.9 552.2 638 551.4 633.9 553.4 630.7 556.2 627.8 555.4 624.6 555.5 622.4 557 624.8 559.7 628.8 563 625.8 563.9 629.8 564.9 632.3Z" fill="#FDAC52"/>
<path d="M567.4 577.6 568.9 582.8 566.7 586.1 566.8 591.1 566 591.9 563.8 587.9 563.8 585.3 562.8 582.7 562.7 578.2 563.1 575 563.7 572.3 563.5 568.5 565.3 565.9 566.3 565.4 564.9 568.4 566.7 571.5 569.3 572.5 569.6 575.2Z" fill="#FDD98F"/>
<path d="M452.2 599.2 454.9 603 459 601.9 462.8 602.1 466.1 603.9 468.5 606.8 472.3 607.5 475 610 476.8 613.4 481.1 613.1 482.4 616.5 485.3 617.9 487.9 619.6 489.9 622.2 491.5 625.2 495.5 624.6 497.4 627.2 499.1 630 502.2 630.8 505.5 631.2 508.5 632.5 511.4 634.1 512.7 638.3 516.2 638.9 518.2 642 521.1 643.2 524.6 644.3 528 645.4 531.6 646.3 533.1 650.1 534.9 652.3 540.7 654.1 536.9 658.1 536.3 661.4 541.8 663.3 537.5 667.4 541.7 670.5 537.4 672.8 538.3 676.8 538.6 680.5 536.1 683.4 536.8 687.2 532.4 689.1 531.3 692.9 528.3 695.6 528 700.1 531.1 700.9 534.3 698.9 537.4 701.8 540.6 700.4 543.7 699.8 546.9 699.5 548.4 699.9 548.5 696.8 551.5 693.9 549.6 690.7 554.4 687.9 551.9 684.7 551.1 681.5 549.5 678.4 550.8 675.4 553.1 672.4 553.7 669.3 553.7 666.3 553.8 663.2 553.6 659.3 552.2 656.2 549.8 653.7 548.5 650.7 548.9 646.8 544.5 645.8 542.7 642.2 539.7 640.7 536 640.1 532.8 638.7 531.1 635.1 527.5 634.4 524 633.7 522.1 630.3 517.4 631.8 517.4 625.2 513.5 625.2 510.2 624.4 508.6 620.5 504.3 620.9 502.6 617.9 498.7 617.7 499.7 611.2 495.5 611.4 491.9 610.8 490.5 607.3 487.3 605.8 484 604.6 482.8 600.3 480.7 597.4 476.5 596.8 472.4 598.8 469.6 597.4 468.8 591.7 464 595.1 461 590.7 458.3 592.5 456.5 595.3 455.5 599.2Z" fill="#A3EE05"/>
<path d="M536.1 652.9 539.4 653.2 542.9 655.1 545.6 650.6 548.8 650.4 552 650.1 555.5 650.2 558.2 652.5 561.1 654.6 564.4 655.4 568.6 655 566.9 658 566.8 661 566.5 664 568.9 667 569.8 670 569.6 673 567.9 676 568.7 679 567.2 682 568.7 685 568.9 688 566.9 691 568.1 694 567.3 697 568 696.3 564.8 699.4 561.7 700.4 558.5 699.2 555.3 701.7 552.2 700.7 549 699.8 545.8 699.4 542.7 699.5 539.5 700.4 536.3 697.6 533.2 699.2 530.5 700.2 532.1 697 532.4 693.4 536.2 691 533.1 686.4 535.8 683.6 538.2 680 535.7 676.9 537.1 673.8 536.4 670.7 534.9 667.6 534.7 664.4 535.2 661.3 535.9 658.2 536.6 655.1Z" fill="url(#dgr)"/>
<path d="M561.5 672 559.8 676.4 559.1 680 557.6 681 554.8 678.7 551.3 680.7 552.4 677.9 552.6 675.2 551.2 672.1 551.5 667.3 552.7 664.2 555.7 665.6 557.7 661.7 559.8 664.2 559.2 668.7Z" fill="#CCFF00"/>
<path d="M547.3 690 547 691.3 545.5 693.3 546.1 696.5 545 696.7 543.5 695.4 542.9 692.1 541.9 690.2 543.7 688.3 544.4 686.4 543.9 682.1 546.7 682 548 684.3 547.6 687Z" fill="#A3EE05"/>
<path d="M447.7 668.2 449.3 665.4 449.8 662.3 451.5 659.6 448.6 655.8 448.5 652.6 449.4 649.7 451.9 647.1 452.2 644 451.7 640.7 453 637.9 453.4 634.8 454.4 632.1 454.8 629 453.6 626.1 455.2 622.8 451.9 620.2 454.7 616.8 455.7 613.6 454 610.8 451.9 608 451.9 604.9 450.5 605.4 453.8 604 456.9 603.8 459.9 604.3 463 603.2 467.1 602.4 467 608.9 472.3 607.5 474.4 610.8 479.2 610.5 480.7 613.6 483.3 615.4 485 618.2 487.8 619.8 490.5 621.2 493.4 622.3 493.9 626.9 497.1 627.6 501.1 627.1 502.7 630.1 505.9 630.5 507.1 635 511.5 633.9 513.9 636.3 515.5 640.1 519.9 639.1 522.9 640.7 525 643.8 528 645.5 531.3 646.7 531.7 652 537.7 651.6 536.4 655.1 536.3 658.2 539.9 660.6 539.6 663.8 539.7 666.9 540.6 670.2 538.3 673.1 537.6 676.5 538.2 680.4 536.7 683.6 533.6 686.2 533.1 689.4 533.6 694.3 528.5 695.8 528.5 701.1 524.7 704.2 523.4 699.2 520.8 697.6 517.5 697.5 514.5 696.9 512.8 692.9 509.8 692.3 507 691.1 503.9 690.4 500.6 690.4 498.2 688.2 495.5 686.7 491.7 687.9 489.8 684.5 486.3 684.9 483.2 684.4 481.2 681.4 477.9 681.2 475 680.2 471.3 681.2 469.6 677.4 465.7 678.8 463.9 675.2 460.4 675.5 459 671 455.9 670.6 453.3 668.7 449.9 669Z" fill="url(#teal)"/>
<path d="M509.4 651 505.5 651.4 502.3 653.7 501.6 656.7 503.4 660.2 501 662.2 498.7 664.4 496 666.7 493.9 664.4 491.1 663 488.6 661.3 486.6 659.3 483.1 657.8 479.5 657.4 476.9 656.3 473.8 656.7 470.8 654.8 473.7 653.9 475.6 651.9 478.2 650 477.6 646.3 480.9 644.8 483.6 641.7 486.9 641.7 489 640.1 491.1 638.5 492.8 636.4 495.3 635.7 497.5 637.5 498.2 640.4 500.2 642 500.8 646.9 503.4 648.1 505.9 649.5Z" fill="#73D5C6"/>
<path d="M512 666.9 511.5 670.6 512.5 673.1 512.4 676.9 510 674 506.8 674.1 503.8 674.9 501.8 677.8 502.4 674.7 500.1 673.9 494.8 671.1 496 668 497.5 665.3 499.4 663.1 502.8 661.5 505.8 660.9 508.7 658.3 510 662.1 515.7 664.6Z" fill="#8FE6D3"/>
<path d="M507.6 644 508.6 645.8 506.8 644.5 505.7 645.6 504.2 646.1 503 644.9 501.9 644.4 499.2 643.6 500.6 642.7 504 643.4 504 641.7 505.6 640.7 507.1 642.4 508.6 642.8Z" fill="#8777AF"/>
<path d="M479.7 661.1 477.1 663.2 477.4 666 474.7 664.4 472.7 666.4 469.9 665.5 468.6 663.6 470.3 661.8 468.7 658.7 472.3 660.3 472.7 657.6 476.3 657.1 476.7 659.8 479.6 660.1Z" fill="#8777AF"/>
<path d="M487.6 673.6 486.8 676.2 485.5 676.2 484.4 677.9 484.3 676.4 482.9 676.2 480.1 675.5 483.2 673.7 480.4 671.7 482.6 671.3 483.5 669.2 484.5 670.1 485.5 671.1 487.1 672.4Z" fill="#8777AF"/>
<path d="M500.7 656.6 498.5 656.9 499.6 658.1 498.5 657.6 496.9 659.3 497 657.8 495.6 657.2 496 656 496.3 655 496.5 653.2 497.8 653.2 498.4 654.2 498.7 654.1 498.9 655.5Z" fill="#8777AF"/>
<path d="M446.6 667.8 449.2 665.7 450.3 662.6 452.7 658.9 454.8 662.3 458.8 664.2 456.7 667.2 456.1 670.5 455.7 674.5 453.1 671.9 449.6 670.6Z" fill="#8777AF"/>
<path d="M463.1 552.8 465.4 557 468.9 555.9 468.2 559 470 562.4 467.7 565.4 467.8 568.6 469.6 572 468.6 575.2 467.9 578.2 466.7 580.9 466.4 584 462.8 585.9 464.3 589.6 462.8 593 460.1 594.8 457.4 596.5 455.3 599 454.5 599 451.7 596.2 448 593.9 448.7 590.1 448.6 586.8 449.8 583.6 449.4 580.2 449.9 576.7 453.3 577.4 455.8 574.7 459.2 575.7 462.8 574 462.9 571 463.7 568.1 463.8 565.1 461.5 562 463.3 559 461.3 555.9Z" fill="url(#dgr)"/>
<path d="M246 419.2 249.1 417 252.3 421.7 255.4 423.1 258.6 420.8 261.7 421.7 264.9 423.1 268 418.6 271.1 423.3 274.3 420 277.4 420.5 280.6 422 283.7 421.2 286.9 422.8 292.4 420.7 291.4 424 289.3 427.5 292.1 430.4 291.2 433.7 291.8 436.8 290.6 439.5 290.7 443.2 288.8 446.1 290.9 450.5 288.5 453.3 287.6 456.2 287.4 459.8 282.9 462.7 282.3 466.2 284.4 469.9 284.1 473 282.6 476.3 287.1 478.7 285.4 482 284.1 485.3 285.4 488.1 286.6 491 288.6 493.8 285.4 497.3 286 500.7 287.7 503.7 289.7 506.5 290.9 509.6 292 512.8 293.7 515.7 297.1 518 296.2 522.8 293.3 524.9 289.3 522.5 286 522.9 283.2 525.2 280.2 525.9 279 522.8 275.7 521.3 271.8 520.1 272.4 515.9 271.8 512.4 267.9 511.3 265.9 508.8 264.2 506.2 265.1 501.7 266.6 498.1 259.4 497.6 259.1 494.2 257.6 491.3 258 487.6 254.6 485.5 255.9 481.4 255.4 478.1 251.4 476.3 248.2 473.9 249.6 469.2 251 464.5 245.9 463.1 242.1 459.9 244 457 242 453.9 245.4 451.1 245.9 448.1 243.5 444.9 246.8 442.1 240.5 438.8 240.9 435.8 246.5 433.1 245.1 430 247.4 427.1 243.7 423.9Z" fill="url(#oly)"/>
<path d="M246.3 457 249.4 457.9 251.6 461.3 254.9 461.3 259.8 461.2 257.7 465.7 258.9 468.8 261.7 471.1 264.4 473.5 264.4 477.1 264.6 480.6 267.7 482.6 269.6 485.2 267.8 489.2 268 492.4 272.9 493.8 272.1 497.5 273.5 500.3 274 503.7 274.6 507.1 277.3 509 280.1 511 283.4 512.6 284.1 515.8 287.9 516.6 289.3 521.1 293.9 520.6 296.4 524.1 292.9 526.6 292.5 530.3 291.5 534.8 289.2 531.7 287.7 527.5 283.4 527.4 278.4 527.2 276.9 524.2 277.4 519.6 273.4 518.5 273.4 514.3 268.5 513.8 267.9 510.1 265.5 507.5 262.9 505.2 261.6 501.9 261 498.1 259.2 495.5 258.4 492.3 258.4 488.6 255.2 486.5 252.1 484.2 250.7 481.3 250.1 478 252.2 474.1 251.9 470.7 248 468 249.3 464.3 247.5 461.2Z" fill="#FFFF00"/>
<path d="M262.6 487.5 264.9 483.5 268.1 482 272.9 481.4 272.3 485.5 274.3 487.9 276.5 490.1 279.3 492 281.7 494.1 283.7 496.5 284.1 499.9 286.2 502.5 285.7 507 289.8 508.1 291.7 510.9 293 514 295.7 516.1 298.1 519 298.2 522.8 300 525.9 295.6 525.6 292.8 527 290.6 524.8 287.6 523.5 284.9 521.9 283.1 519.2 278.9 518.8 276.6 516.2 276.7 511.9 276.8 507.6 272.2 506.7 270.8 503.6 268.6 501 268.3 497.6 264.6 495.6 262.7 492.9 262.3 489.4Z" fill="url(#ygr)"/>
<path d="M317.7 470.4 322.9 469.2 324 474.1 326.9 476.1 331.3 477.1 331.4 481.1 333.3 483.8 335.7 486.2 336.9 489.4 338.9 492.1 340 495.4 344.2 496.5 346.3 499.2 346.5 502.9 347 506.4 351.2 507.6 351.8 511.1 355 512.9 356.6 515.7 357.8 518.8 355 524.2 359.7 525.2 360.3 528.6 364.8 529.6 366.5 532.4 366.2 536.4 366 540.3 368.2 542.8 371.9 544.3 372.6 547.7 374.4 550.3 377.8 552.1 377.3 555.9 378.8 558.6 381.7 560.6 381.5 564.3 383.4 566.8 387.3 568.3 386.4 572.3 388.5 574.8 387.3 578.4 389.6 580.8 392.4 583 390.6 586.8 392.2 589.5 393.1 590.9 391 593.4 389.9 597.2 385.5 596.8 382.7 600.8 380.9 598 380.2 594.5 378.6 591.6 378.9 587.5 378.7 583.8 373.9 582.7 370.2 581.1 372.3 576.3 369.8 574.2 367.3 572 363.9 570.4 364.8 566.3 364.3 563.1 361.7 561 359.6 558.7 358.5 555.7 356.3 553.3 354 551.1 353.1 547.9 350.9 545.6 348 543.7 349.1 539.3 343 539.4 346.1 533.8 339.3 534.3 340.4 529.9 341.1 525.8 337.4 524.4 334.6 522.4 335.3 518.3 331.2 517.1 330.8 513.7 329 511.1 328 508 326.8 504.9 324.7 502.2 323.8 498.9 322.7 495.6 319.9 493.4 319.8 489.6 315.5 487.9 315.2 484.9 315.5 481.9 317.7 479.1 316.5 475.9 315.8 472.8Z" fill="#FD9633"/>
<path d="M332.9 503.4 337.4 502.8 338.5 506.4 341.2 508 344.7 508.7 347.1 511.3 348 514.4 348.6 517.6 351.8 519.4 354.7 521.2 352.9 525.8 355.1 528.1 357.5 530.3 357.5 533.9 362.2 534.7 363 537.8 362 542 366.3 543 366.8 546.3 366.4 550.1 369.3 552 370.8 554.7 371.8 557.7 373.7 560.1 375.4 563 375.6 566.5 376.4 569.7 378.1 572.6 379.2 575.7 380.5 575.7 378.4 579.1 374.5 582.9 373.2 579.8 371.4 577 371.3 573.1 366.7 572.1 368.3 567.2 366 564.7 363.3 562.4 361.4 559.8 359.9 556.9 359.3 553.4 357.4 550.7 356.5 547.5 354.2 545.1 351.5 542.9 350.3 539.8 347 537.9 346.5 534.3 345.1 531.3 342.9 528.7 341.5 525.7 339.5 523 336.8 520.3 336.7 517.1 334.1 514.6 334 511.4 336.8 507.7 337.2 504.4Z" fill="url(#mtn)"/>
<path d="M283.4 455.1 293.5 454.1 295.5 466.2 300.5 476.3 306.6 486.4 306.6 498.5 310.6 500.5 316.7 516.7 324.7 526.8 334.8 538.9 344.9 549 355 561.1 361.1 573.2 364.1 589.3 363.1 601.4 353 604.4 344.9 593.3 336.9 581.2 328.8 569.1 320.7 555 314.7 540.9 306.6 530.8 298.5 522.7 294.5 516.7 296.5 506.6 293.5 496.5 288.4 484.4 284.4 470.3 282.4 460.2Z" fill="none" stroke="#FFFF00" stroke-width="15" stroke-linejoin="round"/>
<path d="M283.4 455.1 293.5 454.1 295.5 466.2 300.5 476.3 306.6 486.4 306.6 498.5 310.6 500.5 316.7 516.7 324.7 526.8 334.8 538.9 344.9 549 355 561.1 361.1 573.2 364.1 589.3 363.1 601.4 353 604.4 344.9 593.3 336.9 581.2 328.8 569.1 320.7 555 314.7 540.9 306.6 530.8 298.5 522.7 294.5 516.7 296.5 506.6 293.5 496.5 288.4 484.4 284.4 470.3 282.4 460.2Z" fill="none" stroke="#A3EE05" stroke-width="9.5" stroke-linejoin="round"/>
<path d="M283.4 455.1 293.5 454.1 295.5 466.2 300.5 476.3 306.6 486.4 306.6 498.5 310.6 500.5 316.7 516.7 324.7 526.8 334.8 538.9 344.9 549 355 561.1 361.1 573.2 364.1 589.3 363.1 601.4 353 604.4 344.9 593.3 336.9 581.2 328.8 569.1 320.7 555 314.7 540.9 306.6 530.8 298.5 522.7 294.5 516.7 296.5 506.6 293.5 496.5 288.4 484.4 284.4 470.3 282.4 460.2Z" fill="none" stroke="#52CE0F" stroke-width="4" stroke-linejoin="round"/>
<path d="M283.3 453.8 286.7 454.1 290.2 455.5 294.6 453.9 293.3 457.2 295.7 459.9 296.2 463 294.3 466.8 297.4 469.4 298.1 473.3 299.7 476.8 302.7 479.6 302.8 484.1 307.5 486.4 307.2 489.4 307.2 492.4 307.5 495.5 306.3 499 310.8 500.4 311.3 503.9 314.1 506.6 315.4 509.8 315.4 513.5 315.7 517.5 318 519.8 318.7 523.3 324.4 522.9 323.7 527.6 326.6 529.3 328.5 531.9 329.9 534.8 331.9 537.2 335.1 538.6 338 540.7 340.2 543.6 342.8 546.1 346 548.1 346.6 551.7 348.9 553.9 351.6 555.7 353.2 558.5 355.2 561 354.1 565.3 357.2 567.6 359.9 570 360.9 573.2 360.7 576.6 362.4 579.6 363.9 582.7 363.3 586.1 365 589.4 362.5 592.2 365 595.5 364.5 598.5 362.9 600.7 359.8 602.6 356.4 603.4 352.9 604.4 350.3 602.1 350.2 597.9 346.5 596.4 345.7 592.7 341.8 591 340.6 587.5 339.5 583.9 337.4 580.9 335.5 577.7 333.1 575 331.2 571.9 329.3 568.8 328 565.8 326.1 563.2 325.7 559.6 321.3 558.4 321.2 554.8 320 552 319.1 549 318.2 546.1 317.1 543.2 314.3 541.3 313.3 537.9 310 536.4 309.9 532.3 305.9 531.5 303.2 528.8 300.6 526 297.1 523.6 296 520 295.5 516.9 294.2 513.2 295.6 509.9 298.8 505.9 295.1 503.3 295.5 499.6 292.6 496.9 291 494 291.2 490.4 290.4 487.1 287.6 484.6 287.2 480.9 287.5 477 284.1 474.2 283.3 470.5 284.6 466.8 282 463.8 281.2 460Z" fill="#175417"/>
<path d="M330.9 548.3 334.4 549.3 337.7 551.1 341.2 552.1 345.2 551.7 346.4 554.7 348 557.3 351.4 558.2 352 561.8 356.2 562.5 357.2 565.7 358.5 568.8 359.6 572 361.1 575 361.8 578.6 363.8 581.9 362.4 585.9 362.7 589.2 366.6 592.6 363.6 595.3 364.4 598.5 363.1 601.5 359.3 601 356.6 604.2 352.3 604.9 350 602.4 349.1 598.8 347.9 595.4 346 592.7 344.2 589.7 341 587.5 339.5 584.4 340 580.8 338.4 578 338 574.9 336.7 572 337 568.8 334.8 566.1 332.2 563.1 332.7 559.4 333.9 555.5 332.5 552.2Z" fill="#3E7F41"/>
<path d="M345.2 588.8 348 586.1 351.6 586.4 354.5 584.2 357.4 584.4 359.3 587.2 361.9 589.4 363.9 592 363.8 595.3 363.6 598.7 362.9 601.5 359.6 602.4 356.2 603.1 353.8 604 352.7 601.2 350.6 598.8 348.1 596.7 348.8 592.9 346.4 590.7Z" fill="#68A96C"/>
<path d="M304.4 505.8 303.8 508.9 303.9 513.3 301.3 514.9 298.5 514.8 297.8 511.6 295.3 509.3 294.7 505.9 298 504.2 296.7 501.4 298.9 499.1 301.6 497.9 302.2 500.3 302.7 503.1Z" fill="#CCFF00"/>
<path d="M291.7 471.8 291.8 475.5 287.9 475 289.5 478 289.1 476.9 286.8 476.9 286.7 474.1 287 472 285.9 468.9 287.3 468.3 289.2 468.1 290 465.7 290.3 468.3 290.6 469.1Z" fill="#3E7F41"/>
<path d="M299.5 489.9 299.7 492.8 296.7 492.1 297.9 494.4 295.6 495.7 294.6 493.7 296.2 491.5 295.8 489.8 294.5 488 296.2 487.1 296.3 484.5 298.5 483.3 298.5 485.4 300.4 487.7Z" fill="#3E7F41"/>
<path d="M287.8 533.6 291.9 531.8 298.2 528.5 298.2 532.2 298.3 535.9 300.6 538.1 303.7 539.7 303.9 543.3 306 545.6 306.6 548.8 309.2 551.3 312.8 553.2 314.5 556.2 314.4 560.1 317.3 562.5 316.8 566.9 318.6 569.7 321 572.1 323.7 574.2 326.3 576.4 328.6 578.9 327.3 584.1 331.9 584.7 333 588.1 336.6 589.6 339.1 591.8 340.4 595 342 598 341 601.4 337.5 603 335.3 607.4 333.2 604.2 329.9 603.2 328.4 598.7 324.7 599.5 321.1 598 319.9 594.8 316.9 592.8 315.8 589.5 314.2 586.5 311 584.6 311.9 580.1 307.7 578.5 306.4 575.3 305.7 571.8 302.8 569.5 300.8 566.6 300.4 562.8 300.9 558.6 295.7 557.2 295 553.5 293.7 550.1 291.9 547.1 293.1 543 288.9 541 289 537.3Z" fill="url(#lgr)"/>
<path d="M324.4 602.8 327.2 599.4 330.3 598 333.5 598.4 337 599.7 340.9 596.9 343.3 599 345.4 601.5 347.9 603.5 349.3 606.3 352.8 608.1 353.2 611.2 354.9 613.9 353.5 617.7 356.1 621.2 353 622.7 349.7 621.7 346.5 621.6 343.2 620.4 340.1 620.8 336.8 620.3 333.8 619 330.6 618.3 326.2 616.4 326.9 612.9 325.6 609.8 325.8 606.4 324.6 603.3Z" fill="#8FE6D3"/>
<path d="M351.7 604.3 355.4 605.6 358.4 603.3 362.4 606 365.5 604.1 368.3 600.9 371.7 603 375.8 601.6 378.7 603.8 382.6 603 384.3 609.3 388.8 606.7 391.9 608.1 394 610.3 397.7 611.2 400.1 613.2 401.1 616.4 403 618.8 402.7 622.4 404.7 625.2 405.4 628.3 406.9 631.3 407.6 634.4 410.6 637 409.6 640.6 409.8 643.9 411.3 646.8 412.9 649.9 416.7 652.5 410.7 656.2 415.2 658.8 412.3 662.1 413.8 665 414 668.2 410.9 671.4 407.1 669.7 403.4 668.7 402.1 669.5 403 666.2 399.9 663.7 396.4 661.4 396.1 658.3 395.4 655.3 397.2 651 392.3 651 393.6 645.9 388.4 646.2 386.7 643.5 386.6 638.9 382.9 639 379.7 638 377.6 635.2 373.8 635.4 371.2 633.8 368.6 632.2 365.6 631.4 363.9 627.7 361.2 626.2 354.9 626.9 356.3 622.9 356.2 619.3 354.8 616.1 352.1 613.2 353.1 609.3Z" fill="url(#ygr)"/>
<path d="M356.4 619 357.9 622.3 360.4 624.3 363.1 626.1 365.5 626.7 370 627.6 374.3 625.3 377.3 627.6 378.2 632 381.3 634.3 384 636.2 386.4 638.6 389.3 640.1 392.3 642.4 394.1 645.5 395.5 648.8 398.5 651.3 398.8 655.2 401.3 657.9 402 661.6 404.8 664.2 406.3 669 402.1 668.2 399.8 671.9 396.3 671.9 394.5 668.6 392.9 665.1 394.1 661 393.5 656.5 389.8 655.3 388.5 652.3 386.8 649.6 383.5 648.4 381.3 645.7 378.5 644 376.3 641.4 372.2 640.7 368.7 639 365.7 636.6 363.1 634.3 359.7 633.5 357.4 630.7 353.3 629.9 353.4 626.4 356.6 623.4Z" fill="#8777AF"/>
<path d="M382.2 609.8 380.5 611.7 380.1 613.3 376.5 617.5 373.2 617.6 370.7 614.9 366.7 615.6 363.4 615.5 360.2 616.4 360.5 615.1 358.5 611 362.4 610.2 365.1 608.5 368.3 608.3 370.9 606.2 373.3 607.7 376.2 607.5 379.1 607 383.6 607.2Z" fill="#FDAC52"/>
<path d="M408.7 639.2 409.1 643.2 409.5 647 409.6 651 408 654.4 406.5 652.1 407 649.2 405.1 647.3 403.5 644.8 403.4 640.5 401.8 637.6 402 634.7 401.4 630.6 402 626.6 405 628 406.6 632.3 408.4 634.2 409 636.7Z" fill="#FDAC52"/>
<path d="M371.9 559.8 375.6 560.7 376.8 555.4 381 557.7 383.5 555.7 386.5 554.7 388.3 551 390.4 555.6 394.6 554.1 398.9 552.6 400.7 556.7 404 557.4 406.1 560.7 412.4 557.6 413.5 560.9 413.9 564.9 416.9 566.4 419 568.8 419.6 572.6 421.6 575.1 425.5 575.6 426.3 579.3 429.9 580.2 432 582.8 436.2 583.2 437.6 586.7 441.5 587.4 441.4 592.5 442.2 596.6 447.6 595.7 450.6 597.9 450.8 600.9 449 604.3 447 607.7 451.9 608.6 448.6 607.9 445.9 612.7 442.8 612.9 439.2 608.2 436.2 610.4 433.1 610.7 428.9 615.8 427.3 608.8 423 611.2 420.1 608.5 416 610.2 413.5 606.3 410 606.1 407 605.3 404.1 604.6 401.1 603.8 398.2 602.5 394.9 605 391.7 604.3 388.4 603 388.4 599 387.4 595.8 385.5 593.4 382.8 591.6 378.2 590.5 377.3 587.5 376.4 584.5 375.5 581.6 376.6 578.1 378.2 574.4 376 571.8 375 568.8 375.2 565.6 373.3 562.9Z" fill="url(#ygr)"/>
<path d="M396.1 594.2 397.4 597.8 395 600.8 391.6 601.5 388.2 602 385.7 602.8 382.5 604.3 381.2 601.5 379.7 599.7 377.5 597.1 377.8 593.8 379.4 591.5 379.8 587.2 384.6 585.8 388.8 586.3 390.1 582.8 392.6 580.7 394.6 582.8 398.5 583.2 399.6 585.9 398.9 588.8 397.6 591.2Z" fill="url(#dgr)"/>
<path d="M418.4 590.1 418.4 591.9 418.5 596.7 414.1 597 410.1 596.6 405.2 595.8 406 592.4 404.3 590.2 404.3 587.3 408.8 586.9 410 585.9 413.8 584.3 418.8 583.8 419.1 586.5Z" fill="url(#dgr)"/>
<path d="M443.9 596 443.2 597.8 437.5 598.8 438 603 434.7 601.1 432.5 599.9 431.6 597.8 430.8 595.6 427.8 592.1 431.2 591.1 434.4 590.5 438.3 589.3 439.7 591.9 442.1 593.3Z" fill="url(#dgr)"/>
<path d="M404 567.1 406.9 568.8 409.4 571.2 408.3 574.2 410.7 576.4 410.2 580.5 408.8 577.8 405.5 576.5 404.9 579.3 402 575.6 401 572.5 397.5 570.5 397.2 567.5 396.9 565.4 398.5 562.3 395.7 560.2 395.1 557.8 396.9 557.5 399.6 558.6 399.9 560.3 402.1 560.4 404.4 563.1Z" fill="#AAF6E0"/>
<path d="M421.9 583.7 424.6 585.8 426.7 590.8 424.9 591.1 424 591.4 422.6 591.9 419.4 590.1 416.6 587 414.7 584.9 414.7 581.1 415.1 578.9 416 577.5 418.6 578.9 421.2 579.9Z" fill="#8FE6D3"/>
<path d="M408.1 610.7 411.2 609.5 414.6 610.6 417.7 610 420.5 607.6 423.6 606.6 426.6 605.3 430 605.8 433 607.4 436.1 608.4 439.7 606.1 442.1 610.7 445.8 608.2 448.9 609.1 451.8 610.1 450.5 614.5 454.6 616.2 459.6 617.5 457.8 621.9 455.7 624.6 453.7 627.3 452.4 630.3 452.5 633.9 451.1 636.9 450.8 640.1 449.7 643 451.4 646.2 449.3 649 448 652.6 451.7 654.9 452.9 658.7 454.6 661.2 451 664 447 665.4 444.1 667 441 666.6 438.1 667.5 435.1 668.1 432.1 668.9 428.9 665.3 426 666.5 422.8 665 420.1 669.8 416.8 664.8 414.8 667.9 412.2 665.1 411.4 662 412.7 658.7 412.5 655.5 413.6 652.2 411.4 649.3 409.5 646.4 409.2 643.3 408.2 640.1 409 637.1 411.4 633.9 410.7 630.9 407.3 628.1 410.4 624.9 410.2 621.9 407.6 619.1 410 615.9 408.2 613Z" fill="url(#teal)"/>
<path d="M425 638.1 426.6 640.2 427.1 642.8 424 645.9 424.8 650 421.9 652.5 421.4 649.2 418 649.1 415 649.6 410.3 649.5 411.3 645.8 409.1 643.8 409.8 641.2 410.2 637 412.1 636.1 414.2 633.6 414.1 630.7 417.7 633.2 421.1 634.3 423.6 636Z" fill="#8777AF"/>
<path d="M447 661.7 450 662.5 447.2 660.7 444.3 662.3 440.8 661.1 438.2 662.8 433.7 664.4 430 663.6 425.9 664.5 425.9 662.9 424 660.8 425.6 658.9 430.2 658.6 434.1 658.5 438 657.6 440.9 658 443.9 658 446.8 657.9Z" fill="#8777AF"/>
</g><g shape-rendering="crispEdges">
<path d="M1004.2 258 1003.6 258.7 999.4 261.5 997.1 262.9 993.7 265.7 990.8 263.2 988.9 263.6 984.8 263.5 986.6 263 987.8 262.3 992.1 260.6 995.6 257.2 998.6 259.6 1000.8 258.6Z" fill="#F4B6BC"/>
<path d="M998.6 260.1 998.6 259.7 998.6 260.6 996.3 262.5 993.4 262.2 991.7 263.2 990.2 264.6 990 264 991 262.9 990.2 262.1 992.4 259.7 995.3 259.7 997.5 260.2 1000.1 259.2Z" fill="#F4CCCC"/>
<path d="M963 287.4 962.3 289.3 961.1 289.8 959.7 287.4 958.4 287.6 958.1 287.4 956.4 287.6 956.5 286.9 956.1 288.3 957.1 285.7 958.2 285 959.6 285.8 961.7 284.6 960.9 286.1Z" fill="#FD9633"/>
<path d="M966.6 283.9 967 286.6 964.8 285.4 965.5 288.1 965 286.7 964.3 285.1 962.7 285.3 963.6 284.8 963.4 282.9 962.7 280.6 964.2 282.1 965.2 280.1 965.1 282 965.8 282.5Z" fill="#F4CCCC"/>
<path d="M1042.7 325.8 1045.6 326.3 1044.4 326.3 1042.8 325.7 1041.8 327.8 1041.3 327.3 1040.7 326 1041.6 325.3 1041.2 324.2 1041.4 323 1042.6 322.9 1043.6 323.2 1044.2 323 1045.7 323.9Z" fill="#FD9633"/>
<path d="M1060.7 321.7 1061.2 323.1 1060.7 324 1058.8 325.1 1057.7 324.9 1055 324.7 1053.3 322.9 1055.1 321.9 1054.4 320.9 1055.4 319.2 1057.1 319.7 1058.7 319.4 1060.6 319.8 1060.9 320.8Z" fill="#FD9633"/>
<path d="M1063.8 320.3 1065.1 319.9 1063.5 320.3 1062.9 320.4 1062.3 321.9 1061.4 321.9 1061.1 320.6 1060.6 320 1060.4 318.2 1062 320 1062.5 319.1 1063.4 320.1 1063.7 319.4 1065.1 319.2Z" fill="#FDAC52"/>
<path d="M1039.4 331.8 1038.1 332.7 1038.6 334.5 1037.3 334.1 1036.7 334.7 1036.5 334.1 1034.4 332.9 1034.9 332.3 1035.4 331.5 1036.5 331.7 1036.8 329 1037.5 328.9 1039 329.9 1038.8 330.8Z" fill="#FD9633"/>
<path d="M1107.2 313.3 1105.9 314.1 1106.1 316 1104.7 315.7 1101.8 317 1100.6 314.7 1098.9 317.1 1098.3 314.2 1099.3 313.5 1099.7 311.3 1102.5 313.1 1104.3 311.1 1107.3 311.4 1107.9 312.9Z" fill="#FD9633"/>
<path d="M1097 308.9 1096.5 309.3 1095.8 310.9 1094.3 312.5 1092.2 311.2 1091.9 308.1 1090.6 309 1089.1 309.1 1091.9 309.4 1090.3 307 1091.8 307 1093.7 307.5 1094.9 306.9 1096.8 307.8Z" fill="#FDAC52"/>
<path d="M350.7 631 349.1 632.7 347.2 632.8 344 632.1 340.3 631.7 336.1 633.2 333.4 633.4 331.4 634.1 332.5 629.7 327.3 631.3 326.9 628.8 330.5 628.8 333.6 628.7 336.3 627.6 341.3 628.4 345.2 628.5 348 627.8 351.8 629.5Z" fill="#8FE6D3"/>
<path d="M350.4 650.5 349.8 651.5 349.4 653.3 348.1 652.9 347.3 654.3 347.6 653.6 346.3 652.3 345.7 651.2 346.3 650.1 346.6 648.9 347.6 648.9 347.5 649 348.4 649.6 348.9 650.3Z" fill="#73D5C6"/>
<path d="M371.6 648.6 372 651.2 371 649.6 368.8 649.9 368.9 647.3 367.8 646.3 366.2 645.7 367.4 644.3 367.8 644 368.8 644.7 370.3 645.3 371.5 646.1 372.4 647.2 373.7 648.6Z" fill="#8777AF"/>
<path d="M372.2 658 370 660.1 371.8 661.6 371.6 663.9 371.4 661.4 368.8 662.7 368.8 660.5 367.3 659.9 366.1 657.9 365.5 655.6 367.4 655.7 366.9 653.6 368.6 654 369.1 656.4Z" fill="#8777AF"/>
<path d="M1179.1 857 1179.8 859.9 1176.7 859.5 1177.5 862.3 1175.7 859.8 1174.9 861.8 1174.1 861.6 1172.4 861.7 1171.6 858.7 1174.3 859.9 1175.1 859.2 1175.8 859.1 1177.7 857.6 1177.7 858.6Z" fill="#D9D1E9"/>
<path d="M1173.2 866.5 1173.1 866.6 1172.8 869.4 1171.1 869.1 1169.5 868.5 1168.1 870.7 1167.7 870.5 1165.7 869.7 1166.9 868.9 1168.2 868.5 1169.3 867.7 1170.3 868.5 1171.2 865.9 1171.7 867.2Z" fill="#D9D1E9"/>
<path d="M1165.1 871 1166.5 871.9 1163.9 871.6 1163.3 874.1 1161.8 874.6 1160.1 873.9 1157.5 874.8 1157 874.9 1159.3 873.7 1158.6 872.2 1160.3 871.3 1162.6 872.4 1164.1 868.9 1165.2 871.4Z" fill="#D9D1E9"/>
<path d="M1155.8 876.2 1157.1 875.1 1154.4 876.5 1153.9 878.6 1151.5 879.1 1149.8 879 1148.6 879.1 1147.8 878.8 1148 878.1 1148.6 877.2 1149.7 874.7 1152.4 874.9 1154.1 875 1155.6 874.1Z" fill="#D9D1E9"/>
<path d="M1146.2 877.7 1146.1 878.3 1144.3 878.9 1144 879.6 1143 880.8 1142.2 880.6 1140.6 880.8 1140 880.7 1140.1 879.6 1140.1 877.9 1141.7 875.8 1143.4 878.4 1144.4 876.9 1145.2 877.3Z" fill="#D9D1E9"/>
<path d="M1135.9 880.3 1137.7 880.3 1135.5 880.3 1136.2 881.4 1135.1 881.2 1134.8 881.8 1134 880.7 1133.7 880.5 1132.4 879.4 1134.4 879.6 1133.7 878.2 1135 879.1 1135.4 878.8 1137.4 878.5Z" fill="#D9D1E9"/>
<path d="M1122.5 878.1 1122.1 879.3 1122 879.9 1120.8 881.6 1120 880.8 1120 880.7 1119.4 880.3 1120.7 880.5 1120.5 879 1119.4 878.8 1119.3 878.2 1119.7 878.3 1120.3 878.9 1121.3 877.6Z" fill="#D9D1E9"/>
<path d="M1394.3 436.6 1396.3 438.1 1394.2 437.7 1392.7 439.6 1391.3 438.9 1388 439.3 1387.7 437.3 1387.7 436 1387.5 434.8 1389.1 433 1391 433.7 1392.7 433.7 1394.1 434.2 1396.3 435.3Z" fill="#000"/>
<path d="M1381.5 437.2 1383.5 439.6 1381.5 437.8 1379.2 438.1 1378.8 439.1 1377 439.3 1374.8 438.2 1374.3 437 1374.8 435.5 1376.2 434 1378.2 435.2 1379.5 434.9 1380.9 435.4 1381.9 435.8Z" fill="#000"/>
</g>
<g fill="none" stroke="#000" stroke-width="3.5" stroke-linejoin="round" stroke-linecap="round">
<path d="M279.5 235.5 860.3 235.5 860.2 233.3 861.2 230.7 860.3 228.6 860.3 226 862 226 865.2 226.6 866.4 225.6 869.6 226 868.7 228.9 870 229.5 870.6 233.7 869.9 235.2 868.9 236.1 869.7 238.4 869.6 241.6 871.3 241.5 873.4 242.4 876.6 243.6 879.2 243.6 881.5 244 883.8 243.7 887.3 245.6 889.4 245.4 890.6 244.8 893.4 245.8 895.4 245.1 898.9 245.9 901.5 246.1 904.2 247.2 904.6 246.1 909 246.8 911.6 246.8 913 247.2 914.2 248.9 917.8 249.5 918.4 251 921.4 252.8 924.5 254.4 924.8 254.4 926.8 255 930.4 256.3 931.9 257.9 933.9 259.1 936.1 259.2 938.8 258.7 942.4 258 943.7 257 946 255.9 949.7 256.2 950.8 254.8 952.5 257 954.5 257.4 957.2 259.1 960.5 259.6 961.4 260.5 964.2 259.2 967.9 259.5 969.9 260.1 971.8 259.4 973.7 260.7 976.4 261 979 260.9 981.6 261.2 980.2 262.2 977.1 264.1 973.9 263.7 973.1 266.1 969.9 266.5 967.3 266.9 966.2 269.5 962.9 270.6 962.2 270.9 959.2 270.9 957.2 272.8 954.4 275.1 953 276 951.2 277.6 950.1 277.9 947.4 280.1 945.4 280.5 944.5 282.4 942.8 284.5 941.1 284.7 939.9 285.8 936.2 287.3 935.3 288.3 932.9 290.3 931.8 291.9 929.8 292.2 927.3 294.8 926.4 295.4 923.3 296.1 926.5 296.1 928.2 294.7 931.8 295.5 933.4 295.7 937.5 295.2 938.7 293.9 942.4 293 944.8 292.4 947 291.9 949.8 289.8 949.6 292.7 951.7 296.3 951.9 298.3 954.5 298 956.8 297.7 958.3 296.1 960.6 298.1 963.6 299.3 965.7 302.5 968.2 301.4 968.9 299.3 971.6 297 972.8 294.7 974.2 293 977 292.4 978.6 291.7 983.1 291.4 984.7 289.8 987.3 288.3 989.4 287.4 990.9 286.7 992.3 285.2 995.3 283.4 996.4 282.6 999.5 280.7 1002.1 280.2 1003.8 279.2 1006.2 279 1007.6 276 1010.2 276 1012.2 276.4 1014.5 275.3 1017.6 276 1015.5 279.2 1013.9 280.6 1010.4 282.2 1008.1 282.4 1006.3 284.5 1004.6 285.8 1003.8 287.7 1005 291.2 1004.9 293 1008.3 291.2 1010.2 289.8 1013.2 290.1 1015 291.2 1018.6 291.9 1021 294.1 1022.4 295.8 1023.2 295.6 1025.3 297.3 1027.1 299.3 1028.6 299.8 1031.6 300.6 1033.1 301.9 1036.6 301.8 1037.7 302.5 1038.9 300.7 1042.7 299.9 1044.5 300.1 1045.8 299.8 1048.3 298.3 1049.8 297.1 1053.3 296.4 1056.6 296.4 1057.7 295.6 1061 296.1 1063.7 295.6 1066.2 295.7 1069 296 1071.3 294.1 1073.3 293.7 1075.8 294 1075.5 296.1 1077.7 297.6 1078 300.4 1080.3 300.8 1084 301.8 1086.4 302.5 1089.8 303.6 1092.8 303.6 1093.6 306.7 1095.8 307.7 1096 311 1098.5 313.6 1099.2 315.2 1095.8 314.9 1094.2 315.6 1091 314.6 1088.6 314.2 1086.2 315.3 1082.2 315.2 1080.5 316.2 1076.9 317.3 1074.8 315.3 1072.4 315.2 1069.5 313.1 1067 313.2 1063.2 313.2 1061 312 1059.9 313.8 1056.8 314.2 1054.2 315.3 1052.5 315.2 1050.4 315.6 1046 316.5 1044.1 317.3 1041.4 318.2 1038.4 317 1035.6 318.4 1034.8 319.3 1033.4 321.2 1031.4 323.7 1029.8 326.2 1028.1 326.8 1027.6 329.9 1027 331.7 1025 333.2 1024.3 335.3 1022.7 336.6 1019.6 339.6 1018.6 341.7 1016.9 344 1016.4 345.5 1015.5 347.4 1013.2 348.9 1012.3 351 1016 349 1018.2 347.8 1018.4 345.7 1021.5 343.1 1022 341 1023.7 338.4 1025.1 337 1026.7 334 1028 333 1030.8 331 1031.5 329.6 1033.5 326.9 1032.9 329.7 1032.5 331.6 1031.4 335.3 1030.2 337.2 1029.8 340.4 1027.1 341.6 1025.5 343.6 1025 345.9 1025 348.9 1023.6 349.7 1022.3 352.5 1023.1 353.6 1022.1 355.5 1020.8 358.6 1019.5 360.6 1019.9 363.3 1018.6 366.5 1017.4 369.3 1017.6 371.4 1016.5 373.8 1016.5 375.6 1016.8 378.5 1016.1 380.9 1016.2 382.8 1015.2 386.2 1015.5 388.3 1015.9 390.8 1016.5 393.4 1016.7 395 1016.6 398.7 1017.1 400.1 1016 403.8 1016.5 405.3 1016.4 409 1018.4 409.8 1017.5 413.7 1018.6 415.9 1019.2 417.5 1021.4 420.6 1022.4 422.5 1022.9 425.7 1025.5 427.5 1028.6 428.6 1029.7 427.2 1033.2 428 1036 425.6 1037.1 425.7 1038.6 424.5 1040 422.5 1040.8 419.5 1042.9 418.6 1043.2 415.3 1045.3 414 1046.5 411 1046.8 408.8 1048.6 407.1 1049.6 405.6 1050.1 401.1 1048.5 400.4 1049.6 397.4 1050 394.3 1048.9 391.7 1048.6 389.2 1048 385.8 1047.1 384.3 1046.8 382.7 1045 379.6 1045.5 377.3 1043.7 374.5 1043.6 372.9 1043.8 369.4 1044.8 368.5 1044.6 366.2 1044.3 362.9 1045.4 360.4 1046.2 358.3 1047.9 356.6 1047.2 354.6 1048.6 351.4 1050.2 349.9 1051.4 347 1052.7 345.8 1052.9 342.9 1055.3 341.8 1056.8 339.6 1059.5 337.6 1061 336 1062.5 337.6 1063 341 1063.7 338.6 1064 336 1066 334 1067.6 332.3 1068.1 330.9 1070 328 1072.2 326 1073.7 324.7 1075.5 323.1 1076.6 320.9 1078 319.4 1081.8 320.4 1084 321.4 1086.4 321.6 1089.5 321.5 1090.9 323.9 1092.3 324 1094 324.5 1096.8 325.2 1099.2 326.9 1100.8 329 1103.5 329.4 1106.5 330.8 1108.6 332.2 1109.7 333.2 1111.1 334.4 1111.4 338 1111.9 339.6 1110.9 342.7 1111 344 1111 346.2 1111.8 347.5 1112.4 350.5 1111.4 352.9 1110.4 355.2 1109 356.7 1108.5 359.4 1107.1 361.4 1104.7 363.8 1102.9 364.2 1101.4 367.1 1098.7 368.3 1097.1 371.4 1097.8 374.8 1100 377.1 1102.6 377.2 1105.7 375.7 1107.6 373 1109.6 373.1 1109.1 371.2 1111.4 368.6 1113.7 367.4 1117.2 365.7 1118.6 365 1120.5 367.1 1122.9 367.3 1124.3 368.6 1126 371.8 1125.9 372.8 1126.7 376 1127.1 378.6 1126.9 380.2 1128 382.9 1128.3 386.6 1128.8 388.3 1129.3 391.4 1128.9 393.4 1128.8 395.8 1128.7 398.8 1127.1 400 1125.5 401.6 1122.9 404.3 1120.7 407 1120.6 408.4 1118.6 410 1117.2 411.7 1116.8 414.4 1115.6 416.7 1114.3 418.6 1112.9 420.1 1110 423.9 1108.6 425 1111.6 427.4 1111.9 427.3 1114.5 429.6 1117.1 431.4 1118.8 432.7 1120 435.7 1123 435 1124.9 436.5 1128.6 436.4 1130.8 435.6 1132.6 434.2 1134.4 432.8 1137.1 432.1 1140.5 432.3 1141.9 430.4 1145.7 430.7 1148.3 429.8 1150.3 427.8 1151.5 426.8 1154.4 425.9 1155.7 425 1158.4 425.1 1160.1 423.2 1163.4 423 1165.1 420.9 1166.8 421 1170 419.3 1171.6 417.3 1175.1 417.1 1177.9 415.7 1180 415 1182.9 413.1 1184 413.3 1186 411.6 1189.6 411.4 1191.4 410 1192.7 407.8 1194.5 407.6 1196.3 404.9 1198.7 404.5 1200 402.9 1203.4 401.7 1205 398.6 1204.8 395.6 1202.9 392.9 1202.4 389.6 1200.7 387.1 1203 385.7 1206.9 385.6 1208.6 383.6 1210.5 383.2 1213.1 383.1 1215.5 383.1 1217.5 383.4 1221.1 383.3 1222.9 383.1 1225.7 384.1 1226.5 385.3 1230.1 385.1 1231.4 386.4 1233 386.2 1236.7 386 1240.1 385.9 1242.4 384.4 1244.3 385 1246.4 384.6 1247.4 382.1 1250.8 382.8 1251.4 381.3 1254.3 380 1255.5 379.1 1258.4 376.6 1260 375.7 1258.7 373.4 1258.6 370 1257.9 367.7 1257.1 364.3 1258.6 362.2 1261.5 361.2 1262.2 359.2 1264.4 357.9 1265.7 355.7 1268.4 354.1 1270 353.2 1271.8 352.1 1272.9 350 1275.4 349.4 1277.4 347.4 1278.3 346.2 1280 344.3 1283 342.9 1284.6 341 1287.1 340.5 1360.2 340.5 1360.7 338.9 1360.2 335.2 1362.6 332.9 1365.5 332 1367.3 331.8 1370 333 1372.9 332 1373.4 329.5 1374.9 328.1 1377.1 325.7 1379.3 322.9 1379.4 321.4 1382.1 320.2 1383.5 317.2 1383.2 314.2 1384.2 312.3 1385.6 310.8 1385.9 309.2 1387.5 306 1387.5 304 1388.3 302.9 1389.8 300.3 1390.8 298.3 1393.3 296 1394.1 293.9 1395 292.9 1397.8 290 1398.4 289.6 1399.7 286.2 1400.2 286 1402.5 283.3 1404.7 281.2 1405.8 279.6 1406.8 278.8 1408.9 275.9 1410.6 277.1 1410.7 279.4 1413.1 281.2 1415.3 281.3 1418.5 280.4 1419.8 278.9 1422.7 278.6 1426.3 278.6 1428 278 1430.1 280.5 1431 280.9 1432.6 282.8 1434 284.3 1437.6 285.8 1438.6 286.5 1439.6 321.4 1440.9 322.4 1444.3 323.4 1446 325.7 1446.3 328.5 1447.6 331.5 1447 334.2 1449.6 335.4 1451.3 337.2 1453.4 338.1 1454.4 340.5 1454.6 342.5 1453.4 345.8 1451.4 346.7 1448.4 348.3 1446.7 348.1 1444 348.9 1442.7 350.7 1440.7 351.1 1438.3 352.8 1435.6 353.5 1434.2 356.1 1432.2 356.4 1430.4 356.1 1426.1 354.9 1425 353.9 1422.2 353.8 1419.5 353.2 1417.1 356.4 1417.3 356.9 1415.3 359.6 1413.4 360.7 1410.8 362.8 1408.5 364 1406.8 365.9 1404.8 367.7 1402.8 368.1 1402 369.8 1400.7 371.7 1398.4 372.6 1396.2 374.4 1394.1 373.5 1389.8 373.5 1387.7 374.4 1386.5 376.7 1383.9 377.9 1383.7 380.1 1381.4 381.8 1379.1 383.7 1377.8 385.9 1377.1 389.2 1375.9 391.2 1375 395 1375.2 398.1 1377 401.7 1376.1 405.2 1374.3 406.4 1370.7 407.9 1368.9 411.5 1372.5 413.3 1375.2 415.4 1377.9 416.9 1379.8 420.3 1380.6 422.3 1381.5 425.9 1383.5 426.2 1386 427.2 1388.5 426.4 1391.3 427.7 1391.8 426 1393.6 424.1 1393.3 421.4 1391.8 419.4 1389.6 416.9 1386 417.8 1386.4 420 1389.8 420.5 1388.7 422.4 1389.6 425 1387.1 426.5 1384.4 427.1 1383 428.5 1380.4 429.1 1378.5 428.8 1375.2 428.6 1373.9 431.8 1374.8 434 1373.4 436.6 1370.6 435.6 1367.7 435 1366 433.5 1365 434.5 1362.5 436.2 1360 436.5 1357 438.1 1355.5 437.1 1352.8 438.4 1349.7 438.5 1348.4 440.1 1345.6 441.3 1343.4 441 1340.7 442.7 1338.4 443.2 1337 443.1 1334.8 443.2 1333.2 445.4 1330.1 445 1328.6 446 1325.1 447.3 1323.3 448.3 1321.1 448.5 1320.2 448.5 1317.5 449.1 1314.3 450.2 1314.1 452.6 1311 452.5 1309.1 453.4 1307 455.6 1304.2 456.6 1302.8 456.7 1300 459 1302 458.5 1303.6 458.4 1306.5 458.5 1306.4 460.8 1307.8 463.6 1307.5 465.5 1307 468.2 1306.7 470.9 1306.4 472.8 1305.7 476.3 1304.8 477.7 1304.2 480.7 1301.9 482.5 1301 485.2 1300.1 487.4 1298.3 489 1296.7 491.8 1295.8 493.3 1293.4 494.2 1292.1 496.9 1290.4 497.9 1288.8 499.6 1287.2 498.5 1285.5 494.9 1284.9 494.7 1283 492 1282.2 489.9 1280.9 486.9 1279 485 1278 482.2 1275.9 481.2 1275.5 479.4 1275 482 1274.5 485 1274.8 487.9 1277 490 1278.9 491.6 1280.2 494.1 1282.4 496.5 1282.6 497.9 1284.9 502.2 1285.1 504.3 1285.6 505.9 1285 509.1 1284.2 511.5 1284.5 514.4 1283.1 516.7 1283.5 518.6 1281.6 520.8 1282.3 521.8 1279.8 524.6 1278.9 526.2 1279 529.9 1277.1 531.4 1275.7 533 1274.9 534.3 1272.6 538 1272 539.1 1272.1 542.1 1270 543 1268.8 544.8 1267.3 548.6 1267.5 549.5 1265.5 552.5 1266.7 554.8 1266.5 557.1 1267.9 561.5 1267.6 563.1 1267.6 565.9 1268.2 569 1268.6 569.9 1270.6 572.9 1270.8 575.8 1272.7 578.9 1273.3 579.6 1274.4 583.6 1275 585 1275.4 586.3 1275.4 588.9 1276.9 590.8 1276.9 593.6 1274.4 594.6 1273.5 597.4 1271.1 598.7 1269.5 599.9 1268.6 601.8 1265.5 602.9 1265.3 605.4 1262.2 607 1261 608.4 1258.3 611 1257.2 611.6 1255.5 612.2 1253.6 614.7 1251.2 613.2 1248.3 612.6 1245.7 614.3 1243.2 614.3 1242.5 615.3 1239.4 617 1237.1 618.8 1235.6 619 1234.9 619.5 1232.1 622.5 1230.3 624.3 1228.8 624.2 1227.1 626.4 1225.8 629.2 1224 631.7 1222.9 633.8 1220.7 633.8 1217.2 634.5 1214.4 633.8 1212.7 634.9 1211.1 635.2 1208.6 636.2 1205.9 638 1204.6 639.1 1202.8 642 1202.1 643.7 1199.4 644.8 1198.5 646.5 1197.2 648.8 1197.1 649.8 1196.4 652.9 1194.7 654.8 1192.7 656.5 1189.9 656.4 1187.6 658.6 1186.5 659.9 1184.7 661.4 1182.4 663.4 1180.1 664.9 1179.3 665.5 1177.9 666.1 1174.7 667.6 1172.6 669 1172 670.7 1169.9 672 1167.6 673.8 1165.5 675.8 1163.9 676.2 1162.1 678.7 1161.8 680.5 1159.3 681.5 1157.3 683.7 1156.9 685.7 1157.1 687.7 1155.1 691 1154.4 693.7 1154.7 694.5 1152.9 697.9 1151.3 698.9 1152.3 700.8 1150.8 703.7 1150.4 705.8 1150.3 707.8 1149.3 712.2 1150.7 714.1 1149.4 715.6 1149.8 718.6 1150.2 720.3 1150.3 724 1150.6 725.4 1150.9 727.5 1152.8 730.5 1151.5 732.5 1153.4 734.2 1153.3 738 1155.1 740.2 1154.9 742.4 1156.5 744.4 1156.2 747.3 1156.9 749.3 1157.3 750.5 1158 753.1 1158.7 754.5 1160.2 757.2 1160.4 759.2 1161.3 761.3 1163.5 763.9 1164 765 1163.7 766.9 1165.1 769.6 1165.5 772 1165.7 773.1 1166.2 775.7 1167.4 779.3 1168.8 780 1168.7 781.9 1170.6 784.4 1171 787.3 1172 788 1171.8 791.1 1172.1 793 1172.2 796.2 1173.4 798 1174.5 798.7 1174.9 801.2 1174.8 803.1 1176.6 805 1177.1 808.1 1177.2 810.4 1178.3 812.3 1179.1 815 1179.7 818.3 1179 819.8 1180.3 822.9 1179.7 825.9 1179.9 827.7 1180.7 829.9 1179.4 832.7 1179.7 835.6 1178.6 837.2 1177.7 841 1178.3 843.9 1178.6 845.3 1177.1 848.3 1176.6 851.3 1174.8 852.9 1174.9 855.6 1174.5 856.2 1172.9 858.9 1171 860.1 1168.6 863.1 1165.8 862.9 1162.4 862.9 1160.3 863.1 1158 863.1 1156.5 860.3 1155.9 858.9 1154.9 856.7 1153.5 855 1152.8 851.7 1152.2 850.3 1151.7 848.3 1148.8 846.9 1147.9 845.3 1145.7 842.6 1143.2 842 1142.4 839.6 1141.1 837.5 1140.5 835.6 1141 833.4 1139.8 830.8 1138.6 828.9 1139 827.1 1138.7 825.1 1136.3 823.2 1135.1 820.7 1134.7 818.6 1132.8 818.2 1130.2 816 1128.4 814.4 1128.6 812.9 1127.3 810.4 1126.1 807.9 1125.1 806.6 1125.7 803.6 1124.2 801.7 1124.4 798.2 1122.2 796.6 1121.9 793.8 1122.6 790.8 1121 789 1121 785.9 1122.7 783.4 1121.9 781.5 1123.3 778.3 1124.2 776.3 1123.9 774 1123.8 771.3 1123.5 769 1123.1 765.7 1122.6 763.7 1119.8 763.1 1118.3 761.1 1117.6 759.3 1115.7 757.2 1115 756.2 1111.6 754.1 1110.6 752.2 1108.6 749.9 1107.2 748.7 1106.4 746.9 1104.1 744.4 1103 742.3 1102.1 740.3 1100.8 739.2 1098 737 1096.3 737 1094.4 735.1 1093.4 733.9 1092.2 735.3 1089.2 737.5 1088.1 738.1 1086.2 737.7 1082.3 739.2 1080.8 739.5 1077.5 740.3 1075.8 740.6 1073.7 741.6 1070.8 743.4 1069.7 744.3 1066.9 744.5 1066.5 741.1 1065.9 738.1 1064.9 736.5 1063.6 734.9 1060.7 732.1 1060.3 729.9 1058.5 728.6 1055.7 726.6 1054.4 727.5 1053.1 724.8 1050.4 724.4 1048.2 723.3 1045.8 722.5 1044.2 723.5 1039.7 722.9 1037.3 721.5 1035.1 723 1033 722.5 1031.4 722.2 1027.4 722.6 1025.2 724 1022.5 724.6 1020.1 725 1018.9 726.9 1015.7 726.8 1014 727.8 1013.8 726 1014.2 722.9 1013.1 720.9 1013 717.7 1011.9 716.1 1010.8 717.6 1011.9 720.3 1010.6 722.3 1009.8 724.5 1009.7 727.8 1007.7 726 1005.8 725.2 1003.4 724.6 1000 724.2 997.5 723.4 994.9 723.6 991.8 723.5 991.5 724.9 987.7 725.5 986.4 728 984.3 727.8 980.5 729.5 978 729.7 980.1 731.2 982.2 733.1 984.2 734.6 984.1 736.7 986.4 738.4 985.9 740.9 984.3 743.7 984 745 985.9 748.3 986.1 750.2 987.8 751.1 987.5 753.3 988.8 755.4 990.7 758.5 988.3 760.8 986 762.1 984.3 763.8 981.2 761.1 980.1 759.6 981.1 755.4 980.1 753.2 978 753.1 976.5 752.1 973.5 751.4 971.6 750 970.9 752.3 969.8 752.7 967.4 755.3 966.2 755.7 963.6 756.1 961.9 756.2 959.1 757.3 956.8 758.5 953.7 757.9 951.5 758.5 948.3 757.5 946.4 756.2 944.8 753.8 944.4 752.3 941.9 751.1 939.5 748.9 939.3 746.8 937.7 745.6 935.6 743.7 933.9 742.2 930.5 741.4 928.9 741.2 927.1 740.5 924.7 742.6 924.1 744.4 922.9 746.9 920.3 747.6 917 747.1 914.6 746.6 912.3 745.8 909.4 746 907.9 745.1 905.4 743.1 904.3 741.8 901.7 741.6 898.8 742 897.7 741.2 893.6 741.3 892.9 740.9 889.6 741.3 886.9 741.6 884.4 741.7 881.5 743.8 878.4 743.7 876.5 744.2 873.1 744.3 869.6 745.2 867.8 744.7 867.1 746.7 866 748.8 864.4 750.5 863.6 753.2 862 755.1 860.1 755.8 858.6 758.4 856.7 760.5 855.7 761.3 853 763.8 850.6 765.9 848.9 765.5 846.6 768 843.6 768.8 840.7 770.2 839.2 770.2 836.8 770.7 835.2 772.6 833.1 774.1 830.5 774.5 827.5 775.5 826.8 776.5 824.9 779.7 821.9 781.8 820.6 783.2 819 785 818.7 786.5 816.5 789.5 815 791.5 815.4 793.5 813.8 795.6 812.4 798.3 812.8 800.4 811.3 802.8 811 803.3 809.5 806.2 809.8 807.8 809.6 810.8 811.9 814.3 810.8 815.4 811.9 819.3 812.7 821 813.8 824.2 813.4 826.7 814.5 828.2 816.8 830.8 816.8 832.6 816.6 835.8 817.5 837.2 818 841.1 815.3 840.5 813.5 840.2 811.1 840.8 807.8 839.4 806.5 839.9 803 838.9 801.4 839.5 800.1 838.9 796.7 837.2 795.8 837.4 793 835.9 790.3 835.4 787.7 834.1 785.1 833.4 783.4 832.7 781.1 830.8 779.1 829.8 777.9 828.9 776.4 826.5 775 824.4 774 823.1 772.8 821.2 772.1 818.6 772 816.2 772.1 813.7 771.2 811.9 770.1 808.4 769.6 806.6 769.3 804.7 767.8 803.6 766.1 800.9 765.5 797.9 763.6 795.5 763.2 793.7 761 792.1 759.4 789.7 758.9 788.6 757 785.9 754.6 784.5 753.1 781.3 752.6 779.5 751.4 777.7 751.1 774.5 750.6 773.5 747.9 770.5 747.9 767.6 747 765.6 745.8 763.3 745 762.1 744.5 761 743.4 757.9 741.9 756.6 740 754.4 738.7 753.8 735.7 751 734.8 749.7 732.7 748.7 731.6 746 728.9 744.7 726.7 743.7 725.9 742.1 723.3 741.9 720.3 742 718.9 741.9 715.8 741.9 714.5 741.5 710.8 740.7 709.3 740.5 705.9 742.7 705.6 744.1 702.3 744.7 700.5 746.6 700.7 749.2 699 752 698.6 753.6 698.2 755.8 696 757.7 694.6 758.4 694 760.6 692.6 762.8 690.8 761.5 687.8 760.4 685.6 760.6 683 759.3 681.8 758 680.5 756 678.5 754.9 675.8 754.4 674.9 753.1 671.9 751.8 671 751.2 668.2 747.8 665.8 748.1 664.7 746 664.1 744.4 661.9 741.9 660.6 739 660.5 737.7 659.4 736.3 659.4 733.8 657.4 730.5 656.8 727.9 656.2 726.9 656.3 723.7 654.1 722.3 652.9 721.7 651.6 719.7 648.8 719 646.7 716.4 645 715.4 643.8 713.3 641.2 712.1 639.7 710.4 637.9 709 635.3 708.2 633.6 706 632.8 704.2 631 702.8 629.1 700.1 628 698.7 626.9 696.6 626.1 695.3 623.2 693.2 623.8 690.5 621.5 689.7 587.5 689.7 587.7 693.3 587.2 695.3 587.2 697.3 587.5 700.4 526.1 700.4 446.8 669.5 447 665.3 400 670 397 668 396.7 665.9 395.6 663.3 395.5 661.5 394.1 657.8 394 655.9 394 654 393 651.8 391.6 649.8 388.8 648.4 386.7 647 386 644 384.7 641.9 381.6 641.2 380.6 639 378 637 374.1 638.1 372 638 370.1 635.3 370 632 367.7 632.1 365.5 629.4 363.7 630.1 360.6 627.8 358 628 356.5 626.2 354.4 625.8 352.9 622.3 350.6 621.5 348 620 346.3 619.6 343.4 619.6 340.4 619.2 339.5 618.6 335.9 620.1 334.8 619.4 331.4 618.3 330 619 327.6 618.3 326.1 616.6 324 614 323.6 611.5 324.4 610 323.7 607.8 324.6 603.7 324.7 602.1 325 600 323.6 599.1 321.5 596.9 319.5 595.3 318 593 315.7 591.6 314.3 589.4 312.9 587.1 311.3 585.2 310.7 583.7 308.8 581.9 308.2 579.6 306 578 304.9 576 304.4 573.6 302.6 571.4 300.4 570.5 299.7 567.5 297.4 566.7 297 564 297.1 562.1 297.5 559.6 298 557 296.5 556.2 295.7 553.3 293.2 551 292.1 549 290 548 288.6 546.1 287 543.1 287 540 286.1 538.1 284.6 535.3 284.9 534.6 283 532 282 528.8 280.3 526.7 278 525 276.4 522.7 276.2 519.5 275 518 274.2 516.2 273 514.9 271.2 511.7 270.3 510.5 268 508 266.2 506.8 265.8 503.5 263.5 501 262.7 499.5 260.9 497.5 260 496 258.6 493.6 258.3 490.7 257.7 488.8 258.4 485.7 257 484 256.8 482.7 255.2 480.1 254.5 478.1 253.3 476.9 252 474 251.6 471.5 249.1 470.9 248.7 468.6 247.4 465.9 246.7 464.5 246.9 462 245 460 245.8 457.3 245.8 456.3 246.2 453.9 248 449.8 249.2 447.5 249 446 249.6 442.7 251 440.6 251.3 437.6 251 436 251.1 432.7 249.6 431.3 251.4 429.2 250.9 427 250 424 249.6 420.7 249.3 418.5 248.9 416.5 248.4 413.8 248 412 247.8 409.4 246.8 406.3 246.2 404.9 246.6 402.5 245 400 244.8 397.4 245.8 396 247.6 394.4 248.2 392.1 248.6 389.9 247.4 386.8 249 384.6 249.4 382.8 249.7 380.4 250.6 377.1 249.9 376.7 249.1 372.7 251.1 372.3 249.6 368.1 251.5 367.3 251 364.7 251.3 362.6 252 360.9 250.6 357.1 252.5 356.8 252.8 353.4 252 351 251.5 349.7 252.3 347.1 253 344.7 253.2 342.1 253.6 340.2 252.8 338.9 252.8 335.1 253 333.6 254.3 331.1 253.2 329.5 253.4 327.1 254 324.8 253.5 323.3 253.3 319.6 253.6 317.4 254.5 315.8 254.6 313.2 254 310.8 253 306.8 256 304 255.6 302 257 298.8 255.5 295.7 255 293.8 256.8 293.3 259 290.8 256.2 289.5 254 288.8 253.9 286.9 252 282.9 250.8 279.5 250.6 278.2 249 274.9 247.7 273 246.7 269.5 246.2 267.9 245 264.9 243.7 263.6 241.5 260.9 241 258 240 256.9 239.9 253.2 238 251 239.4 252.8 242 253 245.4 254.5 246.5 255.1 248.4 255.3 252.5 254.8 254 256 255.5 256.5 259.4 256.8 261.8 256.3 262.9 255.8 265 257.6 266.8 256.2 270 257 272.7 256.6 276 258 277.6 259.3 280 262 280.2 264.7 282.1 267.5 283 270 283.3 272.6 283.4 274.1 281.7 276.6 282 280 280.6 282.5 280.9 284 279 286 280.6 285 283.8 284.2 286 284 287.4 282.6 287.5 279.4 289.1 276.7 288.6 275.3 290 272 290.8 268.7 290.2 267.1 288.6 264.3 288.6 263.2 288.6 259.3 289 258 287.6 256.2 287.4 253.5 286.5 250.1 284.8 248 285 246 282.2 243.5 281.6 241.7 279.5 240 279.4 238Z"/>
<path d="M253 306.8 256.2 307.8 258.1 308.8 259.1 308.6 261.9 308.8 265.1 310.1 266.5 308.8 268.3 311.2 269.7 309.9 272.9 310.8 275.7 312.7 275.5 314.3 277.9 316.8 279.6 318.7 279.1 321.8 279.9 323.8 282.7 324 282.9 324.4 284.7 323.4 287.1 325.1 289.9 324.8 291.3 325 293 323.3 294.7 324.5 298.7 323 299.2 322.2 301.8 323.2 304.2 322.8 304.9 323.8 308 323.4 308.9 323.9 311.9 323.5 313.8 323.8 315 324.6 318.7 323.8 321 323.3 321.4 321.9 324.1 322.7 325.8 322.4 327.6 323 330.6 320.1 332.7 319.2 334.1 319.3 336.3 320.2 337.7 318.4 339.8 318.6 340.6 318 342.7 317 345.3 315.6 348.3 315.2 349.7 315.8 351.1 314.3 354.1 314.4 354.6 313.3 357 314.1 358.5 312.4 361.7 313.2 364.4 313.2 365.3 312.6 367.6 312.5 370.5 312.3 372.3 312.2 374.8 313 377.6 312.8 380.6 313.2 381.5 311.6 382.8 313.1 385.4 313.7 388.6 312.3 389.3 312.3 392 311.8 393 313.7 395.3 314 397.3 313.6 399.6 312.8"/>
<path d="M399.6 235.5 399.6 312.8"/>
<path d="M399.6 312.8 402.7 312.9 403.6 314.8 404.2 317.5 406.3 316.9 409.2 318.9 410.6 320.8 412.1 322.1 411.6 324.8 412.1 326.3 410.5 329.8 410.1 331.8 409.5 331.6 409.2 334.9 407.6 336.7 406.1 337.9 406.5 340.9 405.7 343.4 403.6 344.7 403.4 346.9 401.4 349 399.6 350.7 398 354.2 397.1 356.1 396.6 357.7 399.2 360.1 399.6 361.7 400.6 364.7 400.6 419.5"/>
<path d="M248 419.8 526.3 419.8"/>
<path d="M338 419.8 338 498.2 451.3 601"/>
<path d="M463.4 419.8 463.4 551 463 554.1 464.1 554.4 464.1 557.6 462 560.4 462.4 560.9 462.8 563.7 461.9 566 463.6 567.6 463.5 570 463.5 571 462.2 573.7 462.5 575.9 459.2 576.7 458.2 574.2 455.5 574.9 453.4 575.4 450.1 575.4 448.6 576.9 448.8 578 449.4 581.3 448.6 584.3 448.7 584.7 451 587 450.5 589.9 450.5 592.3 450.7 594.3 451 596.5 450 599.6 451.3 601"/>
<path d="M451.3 601 452.7 602.5 452 605.8 453.5 607.8 453 610.5 455.4 610.7 455.8 613.8 456.2 616.9 456.5 617.8 459.1 619.6 460 622.5 460.5 623.8 460.4 624.4 459.1 626.6 455.8 629.3 455.5 630.8 455.4 633.8 453.2 635.3 451.4 637.5 451.1 638.2 449.6 638.8 449.6 641.8 448.1 644.5 449.3 647.5 449.7 649 448.6 651.7 451.4 652.3 453.5 653.7 454.5 655.7 455.9 657.4 455 659.7 455.5 661.7 452.3 661.5 451.4 664 448 664.2 447 665.3"/>
<path d="M463.4 551.2 872.5 551.2"/>
<path d="M568.6 551.2 568.6 700.4"/>
<path d="M568.4 446 568.4 551.2"/>
<path d="M526.3 419.8 526.3 446 568.4 446"/>
<path d="M526.3 419.8 526.3 340.7"/>
<path d="M525.4 340.7 673.8 340.7"/>
<path d="M568.4 446 715.6 446 715.6 472.5"/>
<path d="M421.4 235.5 421.5 261.9 422.8 263.7 424.8 266.1 426.1 266.4 427.4 268.1 427.5 269.9 427.7 270.9 428.9 273 429.5 275.9 430.6 277.3 433.5 278.9 433.5 278.3 435.6 280.7 438.7 282.5 439.5 282.9 442.2 284.9 443 285.9 443.8 287.5 446 290.3 447.5 291.8 449.5 292.5 450.9 293.2 453.7 295 455.3 296.6 456.5 296.8 456.2 297.8 456.5 301.8 458 302.6 457.5 304.8 458 306.4 458 307.8 457.5 312 456.5 312.7 456.5 314.8 454.8 316.2 454.3 318.3 453.2 320.3 453.5 322.8 453.8 324.5 455.9 325.5 457.5 327.8 460.9 326.3 462.2 326.8 464.4 324.8 466.7 327.3 468 328.4 469.4 328.8 469.3 331.4 470.9 332.3 472.9 335.4 472.8 336.4 473.6 339.8 475.3 340.1 476 342.7 477.7 342.8 478.6 345.1 482 347.2 482.5 348.2 484 348.7 484.4 351.2 487.2 351.8 488.1 355.9 488 356.7 489.7 356.8 493.2 354.5 493.9 354.9 496.7 353.4 498.6 353.9 500 352.7 503.2 353.1 505.4 352.7 506.9 352.2 508.8 352 511.3 351.7 512.7 351.6 515.8 351.7 518.6 349.5 520.3 349.2 520.8 346.7 522.2 348 524.8 351.8 525.4 352.7"/>
<path d="M673.8 235.5 673.8 446"/>
<path d="M673.8 315.8 828.9 315.8"/>
<path d="M673.8 393.2 789.7 393.2 791.7 393.9 793.5 395.2 795.5 395.9 797.2 396.7 799.1 397.5 800.9 398.6 803 398.5 804.8 398.1 807 398 809.2 398.1 811.1 397.4 812.6 397.3 814.9 397.2 817.1 398.2 819.6 398.9 821.7 399.8 823.6 400.6 826.1 401.4 827.8 402.9 829.5 404.5 831.9 405.7 833.5 407.5"/>
<path d="M715.6 472.5 857 472.5"/>
<path d="M715.6 472.5 715.6 551.2"/>
<path d="M695.5 551.2 695.5 553.6 695.2 555.5 695.8 557.9 695.3 560 695.7 562.2 695.5 564.5 694.6 683"/>
<path d="M695.5 564.5 758.6 564.5 758.6 614.7 760.1 615.3 761.3 618.2 764.1 618.9 765.7 619.7 767.7 620.1 770.1 621.3 772.1 622.3 774.1 622.4 774.3 622.4 777.1 624 779.7 623.6 781.6 625.1 782.1 626 784.1 626.6 788.2 625.4 789.9 627.1 791.4 626.9 792.1 628.5 793.8 630.3 796.9 631.7 797 631.2 800 633.1 801.4 634 802.8 635.4 806.8 634.3 807.2 635.7 810.1 636.1 812.6 635.8 813.7 635.6 817.1 636.9 819.3 636.9 821.5 636.4 824.1 636.1 826.7 634.1 828.6 634 829.5 634 831 637.1 834.9 637.9 835.7 638.3 836.7 638 838.7 637.8 842 636.8 843.8 635.2 846.4 635.9 846.8 633.9 850 633.8 851.4 632.6 853.2 632.5 856.6 632 856.7 633.1 858.8 633.6 861.4 632.6 862.6 634.8 864.4 635.9 867 636.7 867.4 636.5 868.6 637.7 871.4 639.7 874 638.8 875 640.3 877 640 879.3 641.1 881.2 642.1 884.3 641.1"/>
<path d="M694.6 683 620.5 683 620.9 684.9 621 687.3 621.5 689.7"/>
<path d="M818.5 235.5 817.7 238.1 818.3 239.7 819.9 242.7 819.7 244.1 819 246.1 820.2 249.3 821 251.2 821.1 251.9 822.4 255.7 821.9 257 822 258 822.7 261.1 823.7 263.4 823.4 265.4 823.5 266.1 823.1 270.4 825.4 270.8 825.9 273.4 824.3 276.3 825.9 278.5 826.1 279.5 826.9 280.6 827.1 284.4 828.1 285.4 827.6 288.4 827 290.9 828.9 291 828.8 293.9 828.1 296.6 830.4 298.5 828.6 300.5 830.6 303.7 830.3 304.7 830.6 305.8 830.9 309.4 828.4 310.4 828.1 314 828.9 315.8 826.6 318.3 825.1 319.4 824.7 321 826 321.5 826.3 325.3 830.1 325.1 830.9 328.9 832.7 330.3 833.1 331 833.3 333.8 834.2 336.6 835.3 338.6 835.4 340 835.4 380.7 835.7 382.7 834.7 384.3 832.9 388.8 833 390 833.5 392.5 834.7 393.4 835.5 397 836 398 834.9 400 834 401.9 834.9 405.6 833.5 407.5"/>
<path d="M835.4 380.7 943.8 380.7"/>
<path d="M833.5 407.5 833.5 409.6 833.5 411.4 834.1 412.7 835.1 415.1 835.7 418.8 835.6 420.6 837.3 422.4 837 425.1 839.1 425.7 840 428.9 838.6 430.2 840.8 433.5 840.1 433.8 841.5 436.4 843 439.8 842.2 439.9 844.6 442.7 844.6 446.3 845.7 447.6 847.2 450.3 848.4 452.7 849.2 454.7 849.3 456.6 848.5 460 849.9 460.5 852 464.3 851.8 465.2 852.1 466.6 854.9 467.7 855.6 470.7 857 471.5 857.8 472.6 859.3 473.7 863 475.6 862.5 477.4 865.4 477.8 865.3 480.2 863.9 482 864 484.8 864.6 486.9 865.7 489.4 867.2 490.4 869.6 491.8 871.1 493.1 872.2 495 872.5 564.3"/>
<path d="M849.3 456.6 936.8 456.6 937.9 459.2 938.5 462"/>
<path d="M872.5 564.3 964.9 564.3 965.7 566.7 966.7 569.1 967.7 571.7 966.3 573.3 964.6 574.9 963.1 576.3 962 578.2 963.9 578.5 966 578.2 968.3 578.4 970.1 578 972.1 578.1 974.4 577.9 976.1 578.2"/>
<path d="M872.5 564.3 875.4 640.4"/>
<path d="M884.3 641.1 884.6 682.6 884.6 684.1 885.8 686.6 887.9 686.6 887.8 690 890 691.1 889.9 693.6 891.8 694.9 893 697.1 893.1 698.5 893 699.8 894.3 702.6 894.5 704.4 895.7 706.2 895.1 710 895.7 711 894.6 713.1 892.9 714.3 892.8 717.3 891 719 890.1 719.7 890.8 721.8 890 724.3 890.3 725.8 890.1 728.4 891.3 731.2 891.4 732.9 890.3 734.7 890.4 737.8 888.3 739.4 887.1 741.4"/>
<path d="M884.6 657.1 945 657.1"/>
<path d="M923.3 296.1 922.4 298.2 922 301.2 921.9 302.6 923.4 304.3 923.3 307.3 922 309.2 921.9 310.6 921.4 313.1 920.8 314.3 919 316.8 914.8 316.7 914.1 319.5 911.6 320.4 910.3 322.2 908.8 322.9 910.6 325.7 909.4 327.8 910.7 330 911.5 332.3 913.5 334.2 913 335.5 913.3 338.5 912.1 339.2 912.5 342.1 909.6 344.3 910.2 346.7 911.9 347.1 915.1 348.1 916.8 350.3 916.9 351 919.4 351.6 921.4 353.7 923.9 355.2 926.3 356.9 927.7 358.4 929.9 358.7 930.8 359.6 932.6 360.7 935.1 362.9 936.8 363.8 936.5 363.9 938.3 365.4 941 366.3 941.6 368.5 942.7 369.7 942.8 372.7 941.9 375.7 941.9 376.5 943.5 378.9 943.8 380.7 945.5 383.1 945.7 384.8 945.2 386.7 946 389.6 946.8 391.1 946.6 394.4 947.7 397.1 947.8 398 950.6 399.8 951.5 400.8 953.7 401.9 954.3 404.4 955 405.6 957.3 407.2 957.2 409.6 959.5 411.3 963 413 963.5 414 964 417 964.6 417.7 965.8 420.7 966.3 422.4 965.1 424.2 962.7 426.4 960.8 427.7 958.3 428.2 957.8 430.8 956.8 431.2 953.7 431.9 952.6 433.7 948.8 434.7 948 436.4 948.8 439.3 946.2 442 946.1 443.1 947 446.1 946.6 447.6 944.8 450.3 944.2 451.9 943.8 453.2 943.8 455.2 940.4 457.1 940.5 459.1 940.3 459.3 938.5 462 938.6 464.4 939.4 466.3 938.2 468 939.5 470.4 939.4 472.4 941.6 473.6 941.5 475.1 943.2 476 945.6 479.4 945.4 479.2 946.6 482 949 482.7 949 485.4 951.1 487.2 951.7 488.5 953.8 490.9 953.4 492.4 955 493.3 957.1 495.6 955.8 496.9 957.8 500.3 960.7 500.6 962.1 501.6 962.4 502.6 964.9 504.5 965.4 505.7 964.3 509.8 964.1 510 962.6 514.3 963.5 515.7 964.4 516.3 966.4 519.6 967.2 519.6 968.3 522 971.2 522.7 972.6 525.8 973.3 526.9 974.8 528.3 974.9 530.3 977.3 532.4 977.8 532.8 980.3 535.3 979.6 537.4 980.1 539.6 981.5 541.2 981.4 544.8 982.6 544.8 983.1 547.9 985.1 549.8 986.7 551.3 988.5 551.5 988.2 553.8 985.1 555 985.2 556.3 984 559 983.1 561.2 982.8 563.2 981.8 563.8 980.3 566.1 979.9 568.1 979.5 569.2 977.4 572.7 978.1 573.5 977.5 576.9 976.1 578.2 975.6 580.2 973.3 581.6 974.2 585.5 971.9 585.3 971.9 588.5 970.4 591.3 969 593 969.3 594.5 968.6 595.7 966.3 597 968.6 600 966.1 601.6 964.9 604 963.5 605.4 961.8 607.9 959.7 608.5 958.9 610.3 958.9 614 956 614.9 955.7 616.9 953.3 618 952.5 620.8 953.1 622.9 950.6 623.5 950 625.4 948.3 628 947.2 630.4 946.7 632 945.7 634 946.3 637.1 944.6 638.6 944.3 638.8 945.5 641.2 944.3 644 944 646.8 945.7 648.3 945.7 650.6 944.2 653.3 945.7 655.4 945.2 657 946 660.4 945.8 661.6 947 664 947.1 666.9 948 669.5 948.1 672.1 950.4 672.1 950 675.4 947.5 675.8 947.1 677.8 946.3 680.9 944.3 681.1 943.5 682.5 942.2 686 942.9 687.8 942.7 688.6 941.3 690.3 940 692.6 938.5 695.1 938.5 696.7 938.4 698 936.5 701.2 937.1 702.6 937.1 706.1 935.7 708.3"/>
<path d="M935.7 708.3 974.3 708.3 975.1 710 975.4 712.3 975.7 714.3 976.4 716.2 976.8 718.1 977.3 720.2 977.3 722.2 977.9 724.3 978 726.7 978 729.7"/>
<path d="M957.8 406.5 1016.5 406.5"/>
<path d="M965.7 302.5 968.8 302.4 970.1 304 973.2 304.5 974 305.7 976 307.3 979.3 307.6 980.5 307.8 981.5 309.8 984.9 309.6 986.9 310.1 990 310.3 990.2 312.8 992.6 311.8 995.3 313.1 997.3 315 999.3 313.6 1001.1 315.1 1002.6 317.6 1006.6 316.6 1008.1 318.4 1008.9 321.7 1011.4 322.5 1012.3 324.7 1013.3 328 1013.2 329.3 1013.5 331 1015.5 333.2 1015.9 334.6 1017.3 336.6 1018.6 338.5"/>
<path d="M1021.6 427 1021.9 489.9 1020 492.9 1019.3 494.3 1019.3 495.6 1020.9 498.2 1020.2 499.2 1022 502.8 1022.6 503.7 1022.9 505.6 1021.5 507.5 1021.3 509.7 1019.8 512.3 1018.6 514.1 1017.3 514.4 1014.7 517.5 1013.9 519.3 1012.1 519.9 1010.4 521.2 1011 524.5 1009.7 526.6 1009.6 527.4 1009.3 529.9"/>
<path d="M1042.9 425.3 1079.3 425.3 1079.3 427.9 1108.6 426"/>
<path d="M1079.3 427.9 1079.3 497"/>
<path d="M988.5 551.5 990.9 550.5 993.2 552.1 993.8 550.6 996.7 549.9 1000.2 551.3 1001.4 549.9 1002.5 547.5 1003.1 544.6 1002.5 543.4 1002.9 541.3 1003.6 540.4 1006.1 538.8 1007.2 538.5 1010 537 1008.9 533.5 1010.5 531.8 1009.3 529.9 1011.7 529.5 1014.2 529 1015.7 527 1016.9 527.3 1018.9 528.4 1021.1 527.7 1023.2 529.2 1025.9 529.9 1028.2 529.7 1030 529.9 1032.2 528.4 1033.3 527.2 1034.6 527.7 1037.1 525.6 1039.5 526.9 1041.4 528.4 1042.8 525.9 1044.6 525 1044.3 523.8 1045.9 522.1 1047.1 519.9 1048 522.1 1051.7 521.1 1052.5 521.9 1054.3 524.1 1054.3 521.4 1055.5 521.2 1057.7 518.2 1059.4 515.5 1060 514.1 1061.4 512.8 1063.1 510.1 1063.2 509.8 1065.7 507 1069.2 507.9 1069.3 505.7 1071.8 507 1074.6 506.5 1077.1 505.6 1078.3 503.2 1077.4 502 1078.6 498.4 1080 495.6 1082.3 496.9 1083.2 497.2 1087.1 497.3 1088.6 498.4 1089.8 501.2 1091.5 502.6 1092.9 504.1 1094.7 503.7 1097.2 505.8 1099.8 506 1101.4 507 1104.2 508.1 1104.4 506.6 1108.2 508.6 1110.1 507.2 1111.4 508.4 1114.6 506.8 1114.9 507.3 1118.4 505.1 1120 505.6 1121.6 506.4 1121.9 508.5 1123.9 510.8 1124.3 512.7 1127.1 514.1 1127.4 513.1 1129.7 511.3 1131.4 508.4 1131.6 505.3 1133.1 504 1133.4 502.3 1135.7 499.9 1138.2 498.9 1139.1 498.4 1140.5 495.5 1141.9 496.2 1144.3 494.1 1145.1 492.5 1147.4 492.3 1150 489.7 1151.4 488.4 1153.1 486.7 1154.7 486 1158.1 485.7 1160 484.1 1160.6 481.1 1161.8 481 1163.8 479 1164.3 475.6 1164.8 473.7 1165.9 470.8 1164.5 468.9 1164.7 466.7 1165.7 465.6 1167 463.3 1166.1 461.2 1165.3 458.3 1166.4 457 1166 455.3 1168 451.8 1167.8 449 1169.3 447"/>
<path d="M1169.3 421 1169.3 479.7"/>
<path d="M1169.3 479.7 1275.5 479.4"/>
<path d="M1185.5 413 1185.5 415.2 1185.7 417.2 1185.5 419.5 1279.2 419.5"/>
<path d="M1279.2 419.5 1281.3 420.4 1282.5 422.2 1282.3 425.6 1283.1 426.3 1283.7 429.2 1285.6 429.7 1288.2 430.6 1287.5 433.2 1289.8 435 1288.8 437.8 1287.7 439.2 1286 441 1284.2 441.7 1282.7 444.1 1282.4 445.6 1283.1 448.3 1284.5 449.9 1283.6 452.6 1284.5 455.1 1286.9 456.3 1286.5 458.3 1288.8 459.6 1288.8 462.5 1290.9 463.6 1291.6 466.4 1292 468.9 1289 469.5 1287.5 471 1287.7 473.8 1285.8 473.5 1283.3 476.1 1281.4 476.3 1279 477.1 1278 478 1275.5 479.4"/>
<path d="M1285.6 431.8 1287.3 433 1289.2 434.4 1290.5 435.9 1292.1 436.9 1293.8 438.4 1296 439.7 1297.3 441.2 1299.4 442.2 1300.8 443.7 1302.9 445.1 1304.5 446.3 1306 447.5 1305.1 449.7 1304.5 451.8 1303.7 453.7 1303 456"/>
<path d="M1275.5 479.4 1274.2 481.8 1272.9 484 1272.9 514.4 1275 514.7 1277 514.7 1279.6 514.6 1281.8 514.2 1283.8 514.4"/>
<path d="M980.3 566.1 982.4 564.4 985 563.8 987.9 563.7 989.2 563.9 990.8 564.1 994.3 562.7 995.6 563.2 997.9 564.1 998.4 562.8 1001.7 564.7 1004.5 564.6 1004.9 563.4 1008.1 563.5 1010 563.8 1010 560 1102.9 562.2 1144.3 563.8 1267.6 563.6"/>
<path d="M1127.1 514.1 1125.7 515.9 1125.9 518 1125.7 521 1126.1 522.7 1125.7 524.1 1127.6 526.1 1127.3 527.2 1129 529 1128.8 531.3 1130 534.1 1132 535.4 1132.9 537.1 1135.1 539.6 1135.4 540.8 1137.1 541.3 1135.8 542.9 1134.7 542.7 1131.3 544.5 1130 545.6 1127.7 546.2 1125.7 548.8 1125.9 549.8 1122.9 549.9 1122.2 551.1 1119.5 552.5 1117.4 553.2 1117.1 555.4 1115.7 557 1114.3 558.3 1111.1 560.1 1110.2 560.3 1108.6 561.5 1105.4 561.5 1102.9 562.2"/>
<path d="M1137.1 541.3 1137.8 543.4 1141.9 543.9 1143.6 545.4 1144.3 547 1147 547.1 1148.3 543.9 1151.4 544.1 1152.9 542.4 1155.8 542 1157.3 541.9 1160.4 542.8 1162.9 541.3 1163.7 541.1 1167.9 540.7 1168.1 538.7 1170.6 537.7 1172.9 538.4 1175.1 537.3 1175.8 535.2 1177.3 532.8 1177.1 531.3 1177.4 529.1 1179.8 528.5 1180.2 526.8 1182.9 524.1 1183.4 520.9 1184.8 521 1185.7 518.7 1186.1 515.8 1187.1 514.1 1187.4 512.9 1190 509.9 1191.6 510.4 1192.1 512.8 1194.3 514.1 1195.9 513.5 1196.4 510.8 1198.2 507.9 1200 507 1200 505.6 1203.1 505.6 1204.6 502.8 1205.7 502.7 1206.7 500.9 1207.5 499.2 1208.6 497.8 1210.8 496.3 1211.4 494.1 1213.6 492.9 1213.9 490.7 1215.7 488.4 1218 488.5 1219.5 490.7 1219.8 491.5 1223 493.6 1224.1 495.4 1225.7 495.6"/>
<path d="M1190.9 479.7 1191 482.1 1191 484.3 1190.7 486.2 1190.9 488.2 1191.1 490.4 1190.9 492.7 1193.2 491.4 1194.9 490.5 1197.1 488.9 1199 487.7 1200.8 486.5 1202.9 485.6 1205.1 484.7 1207 484.2 1209.2 483.4 1211.4 482.7 1213.3 483.8 1215.4 484.9 1217.1 485.6 1218.6 487.3 1220 488.8 1221.6 490.4 1223.1 492.3 1224.4 494 1225.7 495.6"/>
<path d="M1225.7 495.6 1228.1 493.6 1228.7 493.9 1231.4 492.7 1232.8 494.8 1235.8 495.7 1236.7 496.6 1238.9 497.6 1240.2 498 1242.3 498.7 1244.3 499.9 1244.7 502.5 1245.7 505.6 1243.4 506.5 1242.4 509.6 1241.8 511.6 1240 512.7 1242 514.9 1241.9 515.3 1244.3 517 1245.9 517.7 1247.8 521.1 1247.8 521.2 1248.4 522.9 1250.7 525.9 1252.2 526.3 1254.1 528 1257.8 529.6 1259.2 530.2"/>
<path d="M1144.3 563.8 1144.4 565.3 1142.3 567 1141.4 569.9 1140.9 570.1 1138.3 572.2 1136.6 572.8 1134.3 574.1 1131.9 574.6 1128.9 575.1 1127.3 577 1125.7 577 1123.8 577.1 1121.1 578.9 1121.8 579.2 1118.7 582.2 1117.1 582.7 1113.8 584.6 1113.3 585.7 1110 586 1107.2 587.8 1105.5 588.2 1105 588.3 1102.4 589 1101.2 590.9 1099.5 591 1098 593.1 1095 594 1093 595.1 1092.5 599.2 1090 600 1090.9 602.4 1090 604"/>
<path d="M963.5 604.7 1115.7 603"/>
<path d="M1115.7 603 1117 602.1 1121.7 600.4 1122.9 599.7 1125.3 599.1 1128.1 599.6 1130 600.1 1132.5 598.2 1134.3 598.3 1136.1 598.7 1138.9 597.7 1141.3 598.4 1143.3 597.5 1144.2 597.4 1146.5 598.1 1148.4 598 1151.8 599.1 1152.6 598.9 1154.2 600 1157.1 599 1159.5 600.8 1159.1 603.5 1161.4 604 1162.1 605.4 1164.3 609 1166.2 608.8 1169.3 608.2 1169.4 609 1171.4 609.7 1174.6 610.3 1177.8 608.7 1179.5 609.4 1182 608.5 1182.8 610.8 1183.9 609.1 1187.1 609.7 1211.4 633.8"/>
<path d="M1115.7 603 1113.7 605 1113 607 1111.6 609 1110 611.1 1111.7 611.8 1112.4 613.4 1115.7 614.2 1116.3 616.6 1118.5 618.1 1120 619.7 1122.1 622.5 1122.5 622.3 1124.5 625.6 1124.6 627.1 1126.9 629.2 1127.1 629.7 1127.9 630.6 1130.7 632.4 1130.8 633.5 1133.5 635.6 1133.4 638.1 1134.6 640.2 1137.1 641.1 1137.3 643.9 1138.6 643.5 1140.6 646.8 1141.9 648.3 1142.5 650.3 1144.3 651.1 1145 652.6 1147.9 654.3 1147.5 656.8 1149 657.8 1151.4 659.7 1151.7 661.8 1151.9 665.1 1154.3 666.3 1153.8 668 1154.4 670.2 1155.7 672.6 1156.6 675.4 1156.5 678.1 1159.4 679.4 1159.3 681.5"/>
<path d="M1009.3 604.7 1005 660 1001.8 700 1002.1 702.1 1001.8 703.9 1002.1 706.4 1002.6 708.1 1002.4 710.2 1002.9 712.3 1002.6 714.4 1002.6 716.4 1002.8 718.6 1003.1 720.8 1003.2 722.4 1003.4 724.6"/>
<path d="M1062.1 604.7 1071.4 655.4 1071.8 657.2 1071.4 660.1 1073.5 661.8 1073.6 663.8 1075.2 665.9 1074.4 668.4 1074.9 668.4 1075.3 671.4 1077.4 673 1077.1 675.4 1076.5 677 1073.8 680.9 1074.1 681.8 1072.9 684 1073.3 685.2 1073.8 687.8 1074 689.6 1072.8 692.1 1073.2 693.6 1071.8 696.4 1071.8 699.7 1072.9 701.1 1072.3 703.1 1073.7 705.1 1075.1 708 1074.3 711 1075.2 712.2 1075.1 715.3 1076.5 716.9"/>
<path d="M1022.5 724.6 1021.9 722.7 1021.3 720.2 1021 718 1020.5 716 1020 713.9 1019.7 711.1 1019.3 709 1073.5 709"/>
<path d="M1076.5 716.9 1133.7 722.8 1135.5 724 1136.9 725.4 1137 723.2 1137.2 720.6 1137.7 718.3 1137.9 715.9 1140.3 715.4 1143.2 714.8 1145.3 716.3 1147.1 717.6 1149.5 718.6"/>
<path d="M1319.9 340.5 1320.7 341.6 1321 345.3 1319.3 346.7 1318.7 348.1 1320.3 351.8 1319.1 353.7 1319.6 355.4 1320.7 356.8 1319.1 359.4 1321.1 361.4 1320.8 363 1319.9 365.9 1320.8 368.9 1320.1 369.4 1319.7 371.4 1320.4 374.6 1322.1 375.9 1322.6 377.8 1321.7 381.4 1322 382.9 1323.1 386 1323.4 386.1 1323.3 388 1322.4 391 1322.5 392.4 1322.6 396 1323.4 396.5 1323.1 399.8 1323.2 401.5 1321.9 403.6 1321.5 406.2 1321.4 407.2 1319.5 411.6 1317.9 411.6 1319 415.9 1317.8 416.8 1316.6 418.1 1317.9 421.1 1318.3 422.2 1316.1 424.5 1316.7 426.7 1316.7 429.5 1316.1 430.5 1315.8 433.2 1314.4 434.8 1314.1 437.3 1315.2 440.2 1314.4 441.9 1313 444 1311.5 446.4 1312.6 449.5 1310.3 449.2 1311 452.5"/>
<path d="M1360.2 335.2 1359.6 337.2 1359.9 339.3 1361.4 341.5 1361.2 344.7 1359.8 346.1 1360.3 348.9 1357.6 350.8 1357 353.2 1356.1 354.1 1354.4 355.5 1351.3 358 1349.1 359.4 1348.5 359.6 1347.3 362.3 1346.9 362.8 1345.1 364.9 1344.5 367.3 1344.1 369.5 1344.5 372.2 1343.2 374.4 1341.8 375.3 1342.4 378.8 1342.5 379.9 1340.1 383.9 1339.6 386 1340.8 387.2 1339 389.2 1339.1 390.6 1339 393.9 1337.8 394.7 1337.8 398.2 1336.9 400.3"/>
<path d="M1368.6 333 1370 360 1372.9 387.1 1374.8 388.6 1377 390"/>
<path d="M1323.1 399.5 1364.4 401.7 1366.2 400.4 1368 399.1 1370 397.7 1371.6 396.8 1373.4 395.4"/>
<path d="M1319 418.3 1363.5 418.7 1364 420.9 1364.9 423.5 1365.7 425.6 1366.2 427.7 1367 430.4 1367.5 433.5"/>
<path d="M1353.6 418.7 1353.7 420.9 1353.6 422.7 1353.7 424.9 1353.9 426.7 1354.3 428.6 1354.1 430.8 1354.6 432.9 1354.6 435.2 1354.6 437"/>
<path d="M1303 458 1311.5 454.6 1325 451 1340 446.5 1351.9 442.9 1353.5 444.5 1345 448.5 1330 453.5 1318 457.5 1308 460Z" fill="#9A8B0C"/>
<path d="M284 240 289 247 286 254 292 260 288 268 291 276 285 282 281 288" stroke-width="6.5"/>
<path d="M278 244 283 247 280 251" stroke-width="5.5"/>
<path d="M286 262 283 272 286 280" stroke-width="5.0"/>
<path d="M287 521 292 526 296 534 294 540 290 533" stroke-width="5.5"/>
<path d="M1265.5 483.7 1255.9 491.1 1253.8 501.7 1255.9 512.3 1253.8 520.8 1258.1 531.4 1255.9 539.8 1260.2 548.3 1265.5 552.5" stroke-width="4.2"/>
<path d="M1268.6 484.7 1264.4 495.3 1262.3 505.9 1265.5 518.6 1268.6 529.2 1272.9 535.6 1268.6 546.2" stroke-width="4.0"/>
<path d="M1245 525 1252 533 1259 539" stroke-width="3.8"/>
<path d="M1243 537 1252 543 1262 548" stroke-width="3.8"/>
<path d="M1240 548 1250 551 1262 553" stroke-width="3.8"/>
<path d="M1259 492 1256 498" stroke-width="5.0"/>
<path d="M1257 512 1260 520 1257 527" stroke-width="4.5"/>
<path d="M1262 500 1258 508 1261 516" stroke-width="3.0"/>
<path d="M1270 520 1266 528 1270 538" stroke-width="3.0"/>
<path d="M1249 569 1255 572 1253 578 1261 577 1267 581 1263 585 1270 587" stroke-width="3.4"/>
<path d="M1236 612 1242 604 1249 594 1257 591 1263 587 1268 590" stroke-width="3.4"/>
<path d="M1244 600 1252 604 1258 600 1264 604" stroke-width="3.2"/>
<path d="M1248 610 1255 607 1259 612" stroke-width="3.2"/>
<path d="M1122 789 1128 793 1126 799 1123 795" stroke-width="5.0"/>
<path d="M1133 816 1136 820" stroke-width="5.0"/>
<path d="M1157 861 1161 864" stroke-width="6.0"/>
<path d="M864 741 869 744 866 749" stroke-width="4.5"/>
<path d="M829 772 835 769 842 771" stroke-width="4.0"/>
<path d="M813 797 810 802" stroke-width="4.0"/>
<path d="M808 812 811 817" stroke-width="4.0"/>
<path d="M963 731 968 727 975 728 977 733 970 735 963 731" stroke-width="3.0"/>
<path d="M1064 336 1066 342 1065 347" stroke-width="4.5"/>
<path d="M1012 352 1018 344 1024 336 1030 329" stroke-width="3.4"/>
<path d="M1387.5 437 1392.5 439" stroke-width="6.5"/>
<path d="M1374.5 436 1380.5 437.5" stroke-width="5.5"/>
<path d="M1391.5 419 1392.5 424" stroke-width="5.0"/>
<path d="M806 812 809 807 806 803 811 800 808 797" stroke-width="3.6"/>
<path d="M817 789 821 784 819 781 825 779 824 775 830 774 832 770 838 769 842 765 846 764" stroke-width="3.8"/>
<path d="M862 752 866 747 863 743 868 741 871 745" stroke-width="4.0"/>
</g>
<g class="t" text-anchor="middle">
<text x="848.7" y="57" font-size="33.7" font-weight="bold">Spodoptera littoralis: Avg. date of OW gen. OW larval development</text>
<text x="848.2" y="97.4" font-size="34.3" font-weight="bold">2026</text>
<text x="849.1" y="147.9" font-size="27.13">Maps and modeling 01/26/2026 by Oregon State University IPPC USPEST.ORG and</text>
<text x="849.1" y="180.8" font-size="27.13">USDA-APHIS-PPQ; climate data from OSU PRISM Climate Group</text>
</g>
<g class="t" font-size="26.2" font-weight="bold">
<text x="1498" y="337.3">Avg. date of OW</text><text x="1498" y="364.8">gen. OW larval</text><text x="1498" y="392.4">development</text></g>
<rect x="1498.0" y="407.00" width="25.9" height="25.74" fill="#D9D1E9"/>
<text class="l" x="1534.3" y="427.7">Jan-12</text>
<rect x="1498.0" y="432.44" width="25.9" height="25.74" fill="#B0A4CC"/>
<text class="l" x="1534.3" y="453.1">Jan-19</text>
<rect x="1498.0" y="457.88" width="25.9" height="25.74" fill="#8777AF"/>
<text class="l" x="1534.3" y="478.6">Jan-26</text>
<rect x="1498.0" y="483.32" width="25.9" height="25.74" fill="#AAF6E0"/>
<text class="l" x="1534.3" y="504.0">Feb-02</text>
<rect x="1498.0" y="508.76" width="25.9" height="25.74" fill="#8FE6D3"/>
<text class="l" x="1534.3" y="529.5">Feb-09</text>
<rect x="1498.0" y="534.20" width="25.9" height="25.74" fill="#73D5C6"/>
<text class="l" x="1534.3" y="554.9">Feb-16</text>
<rect x="1498.0" y="559.64" width="25.9" height="25.74" fill="#56C5B9"/>
<text class="l" x="1534.3" y="580.3">Feb-23</text>
<rect x="1498.0" y="585.08" width="25.9" height="25.74" fill="#B6FEC0"/>
<text class="l" x="1534.3" y="605.8">Mar-02</text>
<rect x="1498.0" y="610.52" width="25.9" height="25.74" fill="#8FD496"/>
<text class="l" x="1534.3" y="631.2">Mar-09</text>
<rect x="1498.0" y="635.96" width="25.9" height="25.74" fill="#68A96C"/>
<text class="l" x="1534.3" y="656.7">Mar-16</text>
<rect x="1498.0" y="661.40" width="25.9" height="25.74" fill="#3E7F41"/>
<text class="l" x="1534.3" y="682.1">Mar-23</text>
<rect x="1498.0" y="686.84" width="25.9" height="25.74" fill="#175417"/>
<text class="l" x="1534.3" y="707.5">Mar-30</text>
<rect x="1498.0" y="712.28" width="25.9" height="25.74" fill="#CCFF00"/>
<text class="l" x="1534.3" y="733.0">Apr-06</text>
<rect x="1498.0" y="737.72" width="25.9" height="25.74" fill="#A3EE05"/>
<text class="l" x="1534.3" y="758.4">Apr-13</text>
<rect x="1498.0" y="763.16" width="25.9" height="25.74" fill="#7ADE0A"/>
<text class="l" x="1534.3" y="783.9">Apr-20</text>
<rect x="1620.1" y="407.00" width="25.9" height="25.74" fill="#52CE0F"/>
<text class="l" x="1656.6" y="427.7">Apr-27</text>
<rect x="1620.1" y="432.44" width="25.9" height="25.74" fill="#FFFF00"/>
<text class="l" x="1656.6" y="453.1">May-04</text>
<rect x="1620.1" y="457.88" width="25.9" height="25.74" fill="#DDD900"/>
<text class="l" x="1656.6" y="478.6">May-11</text>
<rect x="1620.1" y="483.32" width="25.9" height="25.74" fill="#BCB206"/>
<text class="l" x="1656.6" y="504.0">May-18</text>
<rect x="1620.1" y="508.76" width="25.9" height="25.74" fill="#9A8B0C"/>
<text class="l" x="1656.6" y="529.5">May-25</text>
<rect x="1620.1" y="534.20" width="25.9" height="25.74" fill="#FDD98F"/>
<text class="l" x="1656.6" y="554.9">Jun-01</text>
<rect x="1620.1" y="559.64" width="25.9" height="25.74" fill="#FDC270"/>
<text class="l" x="1656.6" y="580.3">Jun-08</text>
<rect x="1620.1" y="585.08" width="25.9" height="25.74" fill="#FDAC52"/>
<text class="l" x="1656.6" y="605.8">Jun-15</text>
<rect x="1620.1" y="610.52" width="25.9" height="25.74" fill="#FD9633"/>
<text class="l" x="1656.6" y="631.2">Jun-22</text>
<rect x="1620.1" y="635.96" width="25.9" height="25.74" fill="#FD8014"/>
<text class="l" x="1656.6" y="656.7">Jun-29</text>
<rect x="1620.1" y="661.40" width="25.9" height="25.74" fill="#F4CCCC"/>
<text class="l" x="1656.6" y="682.1">Jul-06</text>
<rect x="1620.1" y="686.84" width="25.9" height="25.74" fill="#F59999"/>
<text class="l" x="1656.6" y="707.5">Jul-13</text>
<rect x="1620.1" y="712.28" width="25.9" height="25.74" fill="#F66666"/>
<text class="l" x="1656.6" y="733.0">Jul-20</text>
<rect x="1620.1" y="737.72" width="25.9" height="25.74" fill="#F83333"/>
<text class="l" x="1656.6" y="758.4">Jul-27</text>
<rect x="1620.1" y="763.16" width="25.9" height="25.74" fill="#E6B8AF"/>
<text class="l" x="1656.6" y="783.9">Aug-03</text>
<rect x="1747.1" y="407.00" width="25.9" height="25.74" fill="#CC9184"/>
<text class="l" x="1783.6" y="427.7">Aug-10</text>
<rect x="1747.1" y="432.44" width="25.9" height="25.74" fill="#B36A59"/>
<text class="l" x="1783.6" y="453.1">Aug-17</text>
<rect x="1747.1" y="457.88" width="25.9" height="25.74" fill="#99432E"/>
<text class="l" x="1783.6" y="478.6">Aug-24</text>
<rect x="1747.1" y="483.32" width="25.9" height="25.74" fill="#802009"/>
<text class="l" x="1783.6" y="504.0">Aug-31</text>
<rect x="1747.1" y="508.76" width="25.9" height="25.74" fill="#FFAEDB"/>
<text class="l" x="1783.6" y="529.5">Sep-07</text>
<rect x="1747.1" y="534.20" width="25.9" height="25.74" fill="#FF85E3"/>
<text class="l" x="1783.6" y="554.9">Sep-14</text>
<rect x="1747.1" y="559.64" width="25.9" height="25.74" fill="#FF5CEA"/>
<text class="l" x="1783.6" y="580.3">Sep-21</text>
<rect x="1747.1" y="585.08" width="25.9" height="25.74" fill="#FF33F2"/>
<text class="l" x="1783.6" y="605.8">Sep-28</text>
<rect x="1747.1" y="610.52" width="25.9" height="25.74" fill="#E1C4E8"/>
<text class="l" x="1783.6" y="631.2">Oct-07</text>
<rect x="1747.1" y="635.96" width="25.9" height="25.74" fill="#CB99D8"/>
<text class="l" x="1783.6" y="656.7">Oct-13</text>
</svg></body></html>
